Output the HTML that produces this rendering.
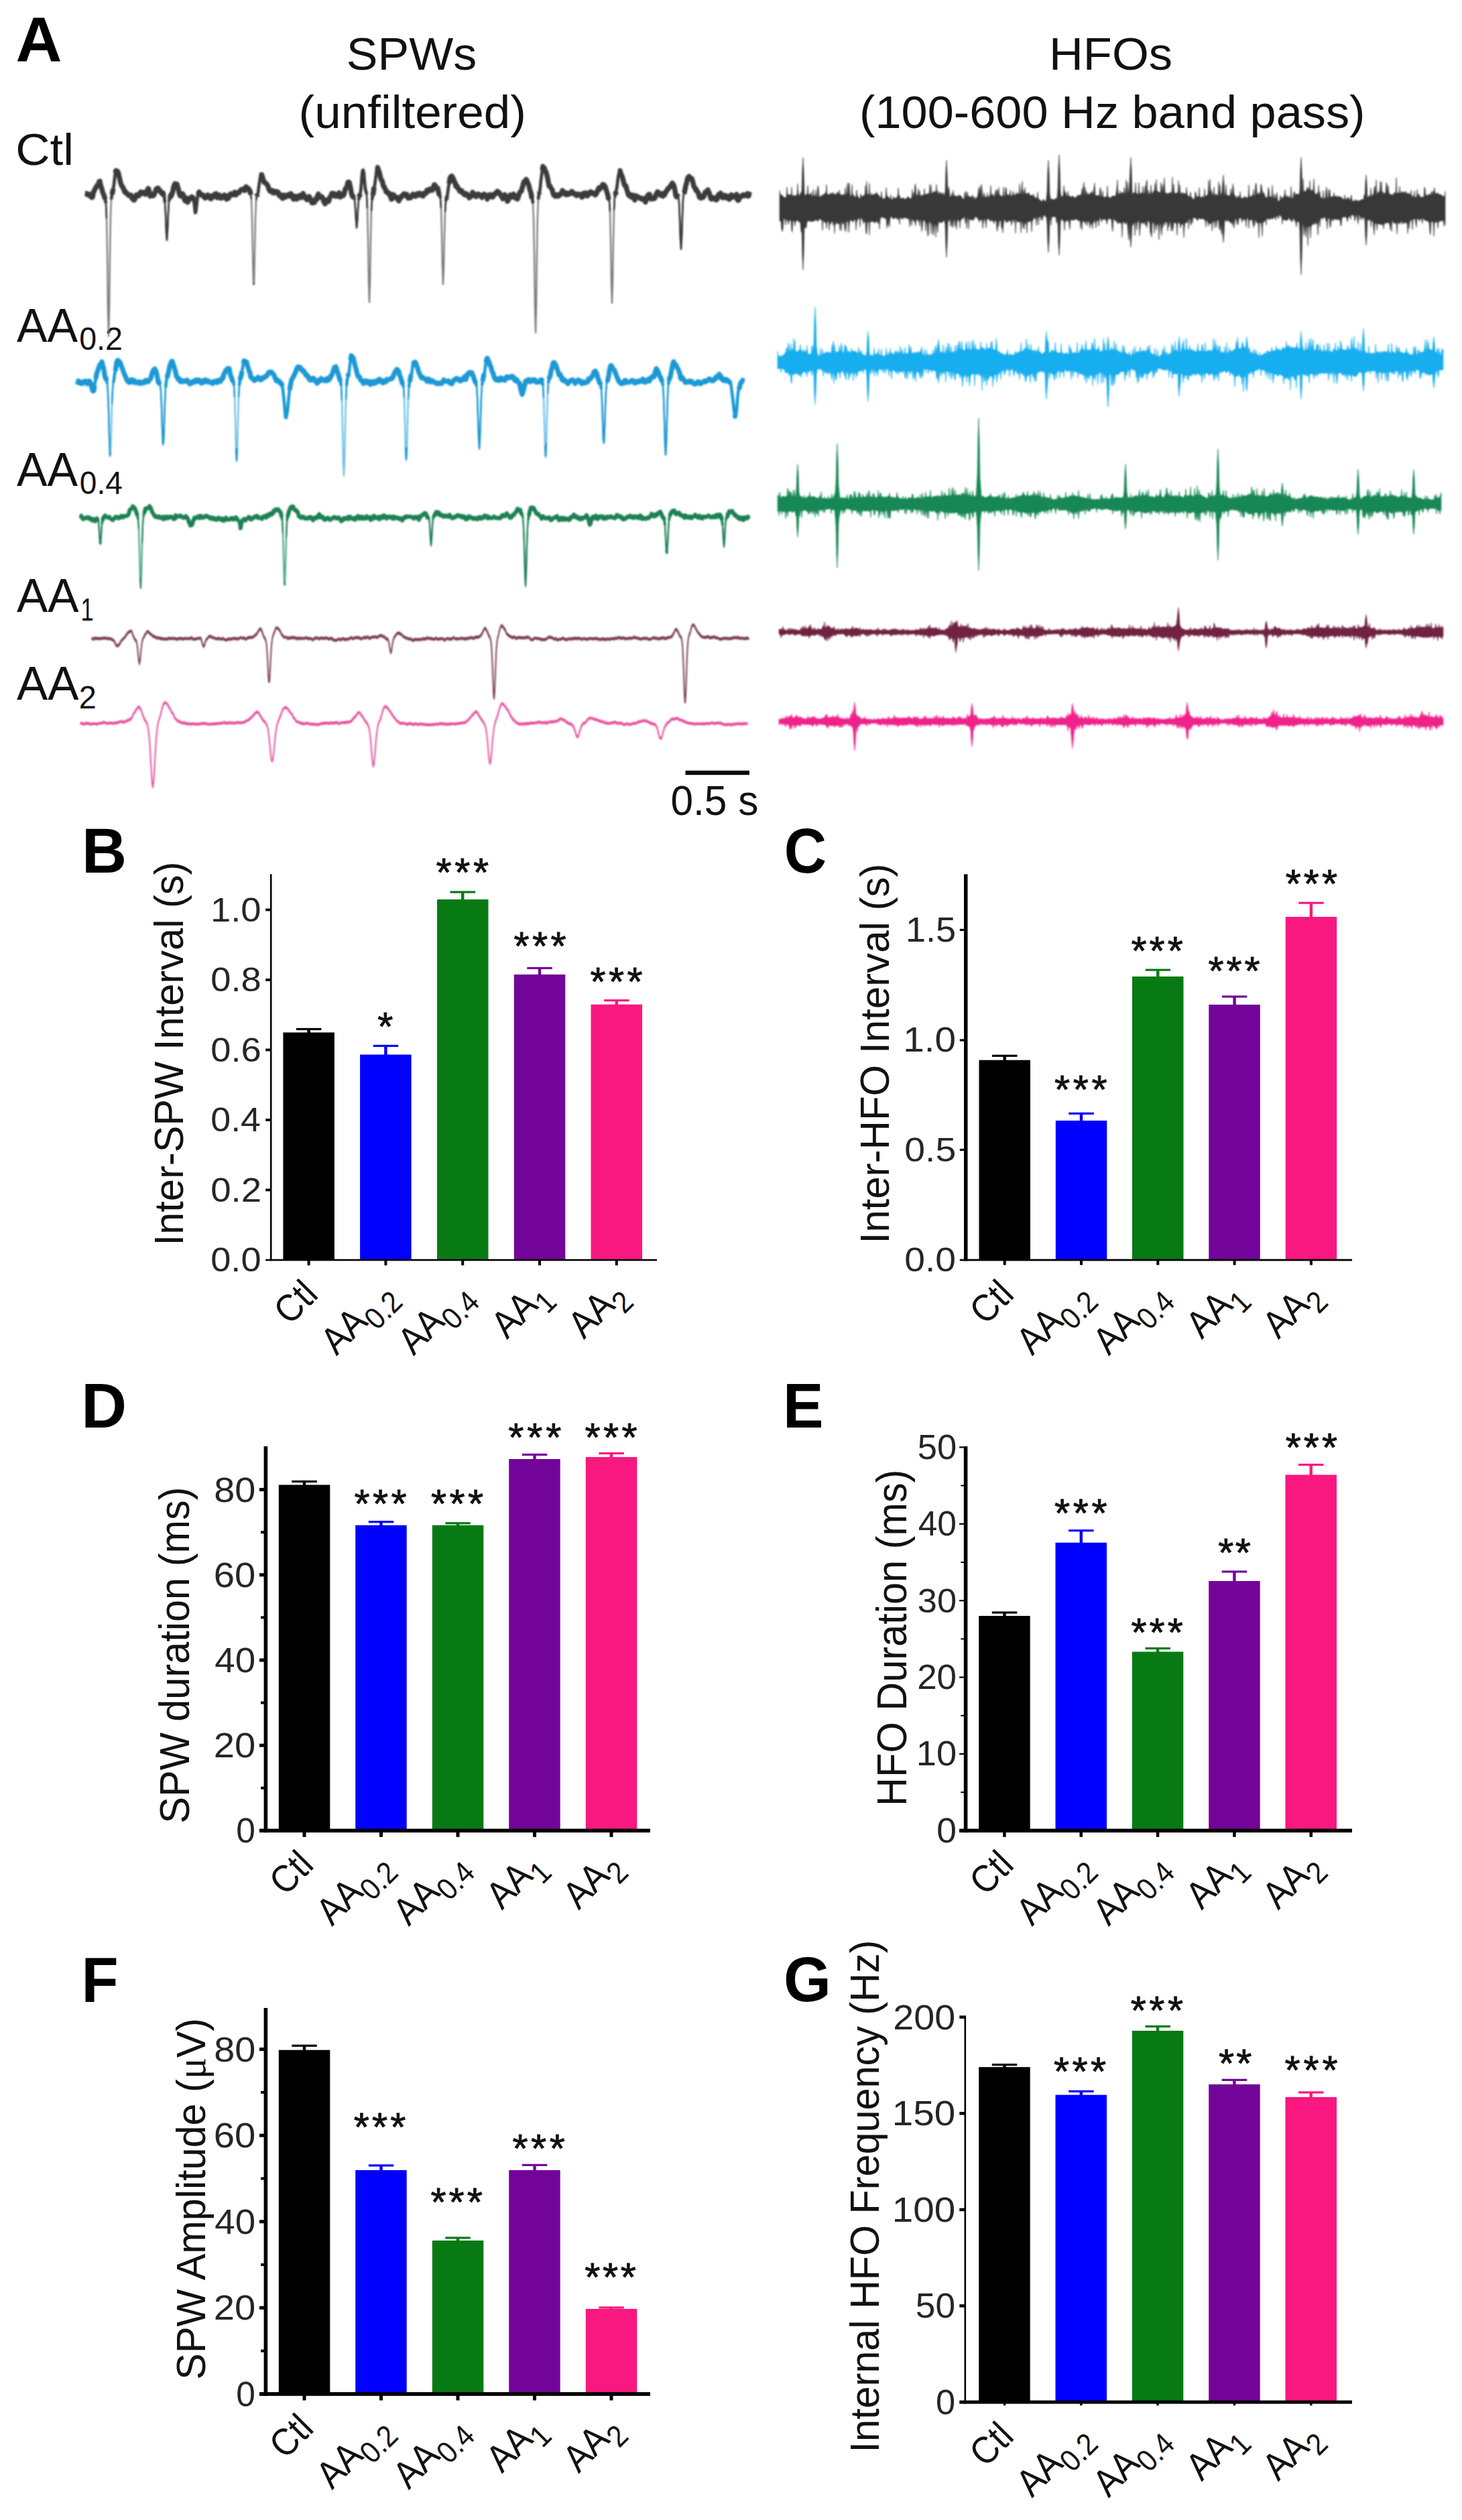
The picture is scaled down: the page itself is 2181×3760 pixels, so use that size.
<!DOCTYPE html>
<html><head><meta charset="utf-8"><title>Figure</title>
<style>html,body{margin:0;padding:0;background:#fff}svg{display:block}text{font-family:"Liberation Sans",sans-serif}</style>
</head><body>
<svg width="2181" height="3760" viewBox="0 0 2181 3760">
<defs><filter id="bl" x="0" y="0" width="2181" height="3760" filterUnits="userSpaceOnUse"><feGaussianBlur stdDeviation="0.9"/></filter></defs>
<rect width="2181" height="3760" fill="#fff"/>
<text transform="translate(23.61,92.00) scale(1.0103,1)" font-size="94.55" font-weight="bold" fill="#000">A</text>
<text transform="translate(516.85,104.31) scale(1.0205,1)" font-size="68.55" fill="#111">SPWs</text>
<text transform="translate(445.56,190.76) scale(1.0345,1)" font-size="68.63" fill="#111">(unfiltered)</text>
<text transform="translate(1564.99,104.31) scale(1.0277,1)" font-size="68.55" fill="#111">HFOs</text>
<text transform="translate(1282.10,190.76) scale(1.0248,1)" font-size="68.63" fill="#111">(100-600 Hz band pass)</text>
<text transform="translate(23.25,245.84) scale(1.0766,1)" font-size="65.99" fill="#111">Ctl</text>
<text transform="translate(25.03,509.70) scale(0.9799,1)" font-size="69.67" fill="#111">AA</text>
<text transform="translate(118.14,522.23) scale(0.9845,1)" font-size="47.35" fill="#111">0.2</text>
<text transform="translate(25.03,724.70) scale(0.9618,1)" font-size="70.98" fill="#111">AA</text>
<text transform="translate(118.86,737.23) scale(0.9725,1)" font-size="47.35" fill="#111">0.4</text>
<text transform="translate(25.03,912.90) scale(0.9757,1)" font-size="71.13" fill="#111">AA</text>
<text transform="translate(120.42,925.90) scale(0.7070,1)" font-size="48.73" fill="#111">1</text>
<text transform="translate(25.03,1043.60) scale(0.9777,1)" font-size="70.98" fill="#111">AA</text>
<text transform="translate(117.66,1056.60) scale(0.9747,1)" font-size="48.03" fill="#111">2</text>
<rect x="1022.5" y="1149.8" width="95.5" height="6.4" fill="#0a0a0a"/>
<text transform="translate(1000.48,1216.36) scale(0.9476,1)" font-size="63.75" fill="#111">0.5 s</text>
<g filter="url(#bl)">
<polyline points="127.0,288.7 128.0,289.2 129.0,289.0 130.0,289.8 131.0,289.3 132.0,288.5 133.0,289.9 134.0,291.0 135.0,291.4 136.0,293.2 137.0,294.3 138.0,293.8 139.0,290.4 140.0,285.6 141.0,282.6 142.0,279.9 143.0,278.0 144.0,277.6 145.0,276.7 146.0,275.9 147.0,273.6 148.0,270.4 149.0,270.2 150.0,274.5 151.0,278.4 152.0,281.2 153.0,286.0 154.0,289.8 155.0,291.2 156.0,293.6 157.0,296.4 158.0,302.8 159.0,325.4 160.0,380.5 161.0,459.9 162.0,501.6 163.0,460.0 164.0,378.9 165.0,321.7 166.0,297.5 167.0,289.4 168.0,287.2 169.0,284.1 170.0,275.7 171.0,265.9 172.0,258.2 173.0,254.7 174.0,255.3 175.0,255.8 176.0,256.5 177.0,259.4 178.0,263.7 179.0,269.2 180.0,273.2 181.0,275.2 182.0,277.6 183.0,280.0 184.0,281.1 185.0,282.9 186.0,285.5 187.0,286.6 188.0,287.3 189.0,288.6 190.0,289.8 191.0,291.2 192.0,291.6 193.0,291.1 194.0,291.5 195.0,292.2 196.0,293.1 197.0,295.4 198.0,297.3 199.0,298.2 200.0,298.3 201.0,296.3 202.0,293.3 203.0,291.6 204.0,291.2 205.0,291.7 206.0,292.3 207.0,293.2 208.0,291.5 209.0,288.9 210.0,288.7 211.0,288.9 212.0,287.8 213.0,287.4 214.0,287.7 215.0,287.9 216.0,287.6 217.0,289.3 218.0,289.6 219.0,286.4 220.0,283.1 221.0,281.8 222.0,283.8 223.0,289.7 224.0,292.7 225.0,292.3 226.0,292.0 227.0,290.5 228.0,289.7 229.0,290.8 230.0,289.1 231.0,286.7 232.0,285.0 233.0,282.5 234.0,281.3 235.0,282.3 236.0,282.4 237.0,283.2 238.0,284.6 239.0,284.9 240.0,286.0 241.0,288.0 242.0,289.3 243.0,290.3 244.0,290.7 245.0,292.2 246.0,300.9 247.0,320.9 248.0,346.6 249.0,358.3 250.0,343.1 251.0,316.6 252.0,299.8 253.0,295.0 254.0,292.4 255.0,290.5 256.0,290.4 257.0,289.0 258.0,285.0 259.0,280.2 260.0,275.4 261.0,273.8 262.0,275.8 263.0,275.9 264.0,275.1 265.0,278.0 266.0,282.7 267.0,286.4 268.0,289.4 269.0,291.2 270.0,291.1 271.0,289.8 272.0,289.2 273.0,289.5 274.0,292.4 275.0,296.7 276.0,297.2 277.0,295.6 278.0,296.8 279.0,299.8 280.0,301.1 281.0,298.4 282.0,294.7 283.0,294.6 284.0,295.9 285.0,295.8 286.0,294.7 287.0,294.3 288.0,295.6 289.0,299.6 290.0,307.2 291.0,315.2 292.0,316.4 293.0,309.4 294.0,299.7 295.0,292.3 296.0,288.5 297.0,287.2 298.0,287.5 299.0,289.1 300.0,291.5 301.0,291.6 302.0,291.1 303.0,292.0 304.0,292.8 305.0,294.1 306.0,294.9 307.0,294.2 308.0,294.4 309.0,293.7 310.0,291.8 311.0,291.2 312.0,292.8 313.0,294.7 314.0,296.0 315.0,296.4 316.0,295.5 317.0,294.0 318.0,292.9 319.0,292.1 320.0,290.8 321.0,290.2 322.0,291.1 323.0,292.5 324.0,293.3 325.0,292.3 326.0,290.9 327.0,292.0 328.0,294.4 329.0,294.6 330.0,293.4 331.0,293.3 332.0,293.5 333.0,292.3 334.0,291.5 335.0,292.0 336.0,293.4 337.0,295.2 338.0,296.1 339.0,294.9 340.0,292.9 341.0,291.4 342.0,290.5 343.0,290.0 344.0,290.2 345.0,289.9 346.0,290.7 347.0,291.7 348.0,289.9 349.0,288.0 350.0,288.5 351.0,289.6 352.0,291.1 353.0,290.4 354.0,287.7 355.0,286.8 356.0,287.9 357.0,287.2 358.0,285.0 359.0,284.5 360.0,284.2 361.0,282.7 362.0,282.5 363.0,282.6 364.0,282.8 365.0,282.7 366.0,280.9 367.0,278.7 368.0,279.1 369.0,281.1 370.0,281.5 371.0,281.6 372.0,284.4 373.0,286.7 374.0,288.6 375.0,297.7 376.0,325.6 377.0,375.6 378.0,423.2 379.0,424.2 380.0,376.7 381.0,326.2 382.0,300.3 383.0,292.6 384.0,290.7 385.0,286.5 386.0,279.6 387.0,273.1 388.0,266.3 389.0,261.0 390.0,259.6 391.0,262.5 392.0,266.4 393.0,269.3 394.0,272.1 395.0,273.7 396.0,273.9 397.0,274.8 398.0,276.7 399.0,277.1 400.0,278.3 401.0,281.8 402.0,284.4 403.0,286.1 404.0,286.4 405.0,284.6 406.0,284.6 407.0,286.4 408.0,286.2 409.0,286.5 410.0,287.6 411.0,287.4 412.0,286.4 413.0,285.8 414.0,285.5 415.0,287.5 416.0,289.7 417.0,290.7 418.0,292.2 419.0,291.7 420.0,291.3 421.0,294.5 422.0,295.1 423.0,291.8 424.0,290.5 425.0,292.5 426.0,294.1 427.0,293.1 428.0,291.8 429.0,290.9 430.0,291.2 431.0,292.0 432.0,291.1 433.0,290.7 434.0,290.8 435.0,290.2 436.0,291.9 437.0,294.8 438.0,296.2 439.0,295.7 440.0,294.1 441.0,293.9 442.0,296.0 443.0,296.3 444.0,294.1 445.0,292.1 446.0,291.8 447.0,292.7 448.0,293.5 449.0,294.0 450.0,293.8 451.0,292.1 452.0,289.3 453.0,289.0 454.0,291.4 455.0,293.7 456.0,295.5 457.0,296.1 458.0,296.1 459.0,296.0 460.0,294.7 461.0,294.8 462.0,296.2 463.0,298.5 464.0,300.7 465.0,301.4 466.0,301.3 467.0,302.4 468.0,302.3 469.0,300.1 470.0,298.3 471.0,299.3 472.0,298.0 473.0,292.9 474.0,289.7 475.0,290.3 476.0,292.1 477.0,293.4 478.0,293.9 479.0,293.7 480.0,293.8 481.0,294.7 482.0,296.4 483.0,300.1 484.0,302.8 485.0,302.5 486.0,300.9 487.0,299.3 488.0,298.7 489.0,299.4 490.0,299.8 491.0,298.0 492.0,294.8 493.0,292.5 494.0,291.7 495.0,291.0 496.0,289.6 497.0,289.5 498.0,290.3 499.0,290.6 500.0,292.4 501.0,294.1 502.0,293.0 503.0,293.0 504.0,293.4 505.0,291.3 506.0,289.2 507.0,292.2 508.0,294.1 509.0,292.1 510.0,291.6 511.0,293.0 512.0,292.3 513.0,289.2 514.0,285.7 515.0,282.6 516.0,280.0 517.0,277.9 518.0,275.9 519.0,273.1 520.0,270.5 521.0,272.2 522.0,277.2 523.0,281.4 524.0,286.1 525.0,290.6 526.0,292.3 527.0,292.7 528.0,293.9 529.0,297.5 530.0,309.6 531.0,327.8 532.0,338.6 533.0,331.0 534.0,311.6 535.0,298.0 536.0,293.7 537.0,290.6 538.0,284.4 539.0,274.6 540.0,261.7 541.0,253.5 542.0,253.6 543.0,261.3 544.0,272.3 545.0,280.9 546.0,285.7 547.0,292.2 548.0,310.9 549.0,356.0 550.0,418.9 551.0,450.9 552.0,419.3 553.0,357.4 554.0,313.4 555.0,296.9 556.0,291.5 557.0,286.1 558.0,280.2 559.0,274.3 560.0,268.0 561.0,260.0 562.0,250.6 563.0,247.4 564.0,250.9 565.0,255.3 566.0,258.4 567.0,262.3 568.0,265.8 569.0,267.7 570.0,269.9 571.0,273.7 572.0,277.4 573.0,279.4 574.0,281.0 575.0,283.4 576.0,284.5 577.0,284.4 578.0,286.1 579.0,287.9 580.0,289.3 581.0,290.3 582.0,291.0 583.0,293.2 584.0,297.1 585.0,298.2 586.0,294.7 587.0,291.9 588.0,293.1 589.0,294.6 590.0,294.4 591.0,294.0 592.0,295.2 593.0,296.9 594.0,297.9 595.0,297.8 596.0,296.9 597.0,295.5 598.0,293.3 599.0,291.7 600.0,291.6 601.0,290.7 602.0,289.1 603.0,289.0 604.0,290.9 605.0,291.9 606.0,290.1 607.0,290.3 608.0,294.1 609.0,295.7 610.0,293.8 611.0,294.0 612.0,295.1 613.0,295.3 614.0,294.3 615.0,291.9 616.0,290.3 617.0,291.2 618.0,292.3 619.0,292.7 620.0,292.8 621.0,291.8 622.0,290.7 623.0,289.9 624.0,288.9 625.0,289.0 626.0,289.8 627.0,289.9 628.0,289.6 629.0,291.1 630.0,293.2 631.0,292.5 632.0,289.6 633.0,289.0 634.0,289.8 635.0,288.5 636.0,285.6 637.0,283.4 638.0,284.3 639.0,286.3 640.0,285.4 641.0,282.9 642.0,282.6 643.0,283.1 644.0,282.7 645.0,282.4 646.0,280.7 647.0,277.5 648.0,276.1 649.0,276.4 650.0,277.9 651.0,280.4 652.0,281.1 653.0,282.0 654.0,286.4 655.0,289.9 656.0,291.1 657.0,295.5 658.0,311.5 659.0,348.4 660.0,399.1 661.0,424.2 662.0,399.4 663.0,351.4 664.0,315.8 665.0,300.6 666.0,296.2 667.0,292.7 668.0,285.7 669.0,278.6 670.0,273.1 671.0,267.9 672.0,264.2 673.0,263.7 674.0,264.1 675.0,265.0 676.0,266.4 677.0,268.6 678.0,270.2 679.0,272.4 680.0,276.4 681.0,278.5 682.0,279.4 683.0,280.9 684.0,282.7 685.0,283.7 686.0,285.2 687.0,286.0 688.0,285.1 689.0,286.1 690.0,288.2 691.0,289.7 692.0,289.8 693.0,289.0 694.0,288.6 695.0,289.5 696.0,289.5 697.0,289.9 698.0,291.6 699.0,292.4 700.0,293.1 701.0,294.1 702.0,293.3 703.0,292.0 704.0,290.6 705.0,288.1 706.0,288.4 707.0,290.4 708.0,290.7 709.0,291.9 710.0,292.7 711.0,292.1 712.0,291.4 713.0,290.5 714.0,290.2 715.0,291.0 716.0,291.1 717.0,291.8 718.0,293.5 719.0,294.0 720.0,292.1 721.0,289.6 722.0,289.9 723.0,291.7 724.0,292.2 725.0,292.5 726.0,294.6 727.0,295.1 728.0,293.6 729.0,292.7 730.0,290.9 731.0,289.3 732.0,289.7 733.0,292.2 734.0,293.7 735.0,294.1 736.0,292.6 737.0,289.7 738.0,287.8 739.0,288.4 740.0,288.9 741.0,287.9 742.0,286.5 743.0,286.7 744.0,288.2 745.0,289.1 746.0,289.7 747.0,290.4 748.0,291.0 749.0,292.8 750.0,293.9 751.0,291.8 752.0,290.8 753.0,291.9 754.0,293.4 755.0,294.8 756.0,296.0 757.0,298.2 758.0,299.6 759.0,297.5 760.0,293.8 761.0,291.5 762.0,291.1 763.0,292.1 764.0,292.4 765.0,290.8 766.0,289.7 767.0,290.9 768.0,292.6 769.0,294.2 770.0,295.6 771.0,296.2 772.0,295.3 773.0,293.4 774.0,291.1 775.0,288.2 776.0,285.8 777.0,285.8 778.0,284.2 779.0,280.1 780.0,276.4 781.0,273.1 782.0,271.2 783.0,270.2 784.0,268.0 785.0,267.7 786.0,269.0 787.0,270.9 788.0,273.2 789.0,276.5 790.0,280.3 791.0,284.7 792.0,288.3 793.0,292.4 794.0,296.5 795.0,302.9 796.0,325.9 797.0,381.3 798.0,456.8 799.0,496.3 800.0,456.9 801.0,378.6 802.0,321.8 803.0,297.5 804.0,290.9 805.0,287.2 806.0,279.6 807.0,269.6 808.0,260.8 809.0,255.0 810.0,250.9 811.0,249.6 812.0,250.7 813.0,253.4 814.0,255.4 815.0,258.1 816.0,262.3 817.0,266.8 818.0,271.9 819.0,275.5 820.0,276.9 821.0,278.9 822.0,281.7 823.0,282.9 824.0,284.2 825.0,286.9 826.0,290.1 827.0,292.5 828.0,293.3 829.0,292.6 830.0,291.1 831.0,291.4 832.0,292.4 833.0,292.2 834.0,290.9 835.0,289.1 836.0,288.7 837.0,289.2 838.0,286.7 839.0,284.7 840.0,286.5 841.0,287.7 842.0,287.6 843.0,289.5 844.0,290.6 845.0,290.2 846.0,289.1 847.0,288.8 848.0,289.3 849.0,290.2 850.0,289.4 851.0,287.3 852.0,286.2 853.0,286.2 854.0,286.4 855.0,287.4 856.0,288.6 857.0,288.7 858.0,289.1 859.0,290.5 860.0,290.9 861.0,290.5 862.0,290.7 863.0,290.8 864.0,290.4 865.0,290.6 866.0,291.0 867.0,292.3 868.0,293.8 869.0,292.8 870.0,291.0 871.0,290.7 872.0,290.9 873.0,290.0 874.0,289.1 875.0,290.2 876.0,291.8 877.0,291.1 878.0,289.2 879.0,288.7 880.0,288.0 881.0,285.9 882.0,285.9 883.0,288.2 884.0,288.2 885.0,287.8 886.0,288.6 887.0,289.3 888.0,289.4 889.0,289.8 890.0,288.3 891.0,285.3 892.0,283.4 893.0,283.2 894.0,282.0 895.0,281.4 896.0,280.5 897.0,279.2 898.0,278.5 899.0,276.0 900.0,274.3 901.0,275.2 902.0,276.4 903.0,279.2 904.0,283.0 905.0,286.1 906.0,289.4 907.0,293.5 908.0,296.0 909.0,299.5 910.0,316.3 911.0,360.8 912.0,421.5 913.0,452.2 914.0,420.3 915.0,357.9 916.0,312.7 917.0,294.6 918.0,288.8 919.0,284.9 920.0,279.5 921.0,273.1 922.0,266.4 923.0,259.6 924.0,255.0 925.0,255.4 926.0,258.4 927.0,260.9 928.0,262.5 929.0,265.4 930.0,270.3 931.0,274.6 932.0,276.7 933.0,276.8 934.0,278.1 935.0,281.4 936.0,285.9 937.0,289.0 938.0,290.8 939.0,291.7 940.0,291.2 941.0,291.1 942.0,293.0 943.0,293.8 944.0,292.0 945.0,292.3 946.0,296.4 947.0,298.2 948.0,295.3 949.0,293.3 950.0,293.7 951.0,293.9 952.0,293.7 953.0,294.2 954.0,295.0 955.0,295.8 956.0,296.9 957.0,297.1 958.0,296.6 959.0,298.0 960.0,297.8 961.0,297.1 962.0,299.6 963.0,300.9 964.0,297.7 965.0,294.7 966.0,293.8 967.0,292.6 968.0,290.4 969.0,289.9 970.0,293.0 971.0,297.1 972.0,298.0 973.0,296.2 974.0,295.5 975.0,295.9 976.0,295.8 977.0,295.0 978.0,292.8 979.0,290.2 980.0,288.9 981.0,288.0 982.0,287.1 983.0,287.3 984.0,289.2 985.0,291.2 986.0,290.6 987.0,289.2 988.0,290.5 989.0,291.7 990.0,291.3 991.0,290.7 992.0,289.6 993.0,287.5 994.0,286.0 995.0,285.4 996.0,283.7 997.0,281.8 998.0,281.1 999.0,280.6 1000.0,278.7 1001.0,276.5 1002.0,275.5 1003.0,274.9 1004.0,274.4 1005.0,275.9 1006.0,279.6 1007.0,285.0 1008.0,291.0 1009.0,294.6 1010.0,295.0 1011.0,293.9 1012.0,294.0 1013.0,302.7 1014.0,326.5 1015.0,357.1 1016.0,371.0 1017.0,354.5 1018.0,321.6 1019.0,296.8 1020.0,288.2 1021.0,286.3 1022.0,282.4 1023.0,277.8 1024.0,274.4 1025.0,270.3 1026.0,265.4 1027.0,262.8 1028.0,263.4 1029.0,265.4 1030.0,266.6 1031.0,266.7 1032.0,268.4 1033.0,270.8 1034.0,273.0 1035.0,276.2 1036.0,279.3 1037.0,280.8 1038.0,282.3 1039.0,284.4 1040.0,285.2 1041.0,286.9 1042.0,290.7 1043.0,293.0 1044.0,292.9 1045.0,292.7 1046.0,293.7 1047.0,294.0 1048.0,293.6 1049.0,294.0 1050.0,292.4 1051.0,289.4 1052.0,288.2 1053.0,287.9 1054.0,286.7 1055.0,284.5 1056.0,283.5 1057.0,285.5 1058.0,288.5 1059.0,291.1 1060.0,294.0 1061.0,296.6 1062.0,297.0 1063.0,296.1 1064.0,295.5 1065.0,295.5 1066.0,295.4 1067.0,295.9 1068.0,297.2 1069.0,298.3 1070.0,296.6 1071.0,293.1 1072.0,291.3 1073.0,291.5 1074.0,290.7 1075.0,289.6 1076.0,289.9 1077.0,292.3 1078.0,295.5 1079.0,296.1 1080.0,293.9 1081.0,292.0 1082.0,291.6 1083.0,293.2 1084.0,293.0 1085.0,291.4 1086.0,293.5 1087.0,297.8 1088.0,297.8 1089.0,294.7 1090.0,291.7 1091.0,290.6 1092.0,291.9 1093.0,293.7 1094.0,292.5 1095.0,292.0 1096.0,292.8 1097.0,292.8 1098.0,290.8 1099.0,291.6 1100.0,296.5 1101.0,300.0 1102.0,298.3 1103.0,295.8 1104.0,295.4 1105.0,294.0 1106.0,292.1 1107.0,290.8 1108.0,289.8 1109.0,290.6 1110.0,291.9 1111.0,291.6 1112.0,290.6 1113.0,290.9 1114.0,290.5 1115.0,290.6 1116.0,291.3 1117.0,291.3 1118.0,290.5 1119.0,291.2" fill="none" stroke="#7d7d7d" stroke-width="2.40" stroke-linejoin="round"/>
<polyline points="127.0,288.8 128.0,289.0 129.0,288.6 130.0,290.2 131.0,289.6 132.0,290.9 133.0,289.9 134.0,289.8 135.0,292.8 136.0,291.1 137.0,294.7 138.0,294.2 139.0,289.0 140.0,285.2 141.0,284.0 142.0,281.4 143.0,279.4 144.0,279.0 145.0,276.4 146.0,276.3 147.0,274.3 148.0,270.6 149.0,270.4 150.0,276.5 151.0,278.7 152.0,282.6 153.0,286.1 154.0,289.0 155.0,291.1 156.0,294.3 157.0,297.3" fill="none" stroke="#3a3a3a" stroke-width="7.5" stroke-linejoin="round"/>
<polyline points="167.0,290.0 168.0,286.1 169.0,281.9" fill="none" stroke="#3a3a3a" stroke-width="7.5" stroke-linejoin="round"/>
<polyline points="172.0,257.8 173.0,254.5 174.0,256.5 175.0,255.5 176.0,256.5 177.0,260.0 178.0,264.7 179.0,268.7 180.0,273.2 181.0,275.8 182.0,278.0 183.0,278.7 184.0,281.4 185.0,282.5 186.0,286.5 187.0,287.2 188.0,286.8 189.0,288.7 190.0,289.2 191.0,291.0 192.0,291.2 193.0,291.8 194.0,292.3 195.0,290.9 196.0,293.5 197.0,296.0 198.0,297.3 199.0,296.6 200.0,298.7 201.0,297.4 202.0,294.6 203.0,291.0 204.0,290.7 205.0,290.5 206.0,291.9 207.0,292.3 208.0,290.4 209.0,287.8 210.0,286.4 211.0,288.8 212.0,287.6 213.0,287.1 214.0,288.6 215.0,287.3 216.0,288.2 217.0,289.9 218.0,289.3 219.0,286.5 220.0,283.0 221.0,281.2 222.0,282.7 223.0,288.9 224.0,292.6 225.0,291.5 226.0,292.1 227.0,289.9 228.0,290.6 229.0,291.8 230.0,290.4 231.0,287.2 232.0,285.7 233.0,281.9 234.0,281.3 235.0,282.9 236.0,280.6 237.0,284.2 238.0,283.8 239.0,284.4 240.0,287.2 241.0,288.2 242.0,289.3 243.0,287.6 244.0,290.9 245.0,292.4" fill="none" stroke="#3a3a3a" stroke-width="7.5" stroke-linejoin="round"/>
<polyline points="253.0,296.0 254.0,294.1 255.0,290.6 256.0,291.5 257.0,288.3 258.0,284.5 259.0,279.3 260.0,276.3 261.0,274.1 262.0,277.2 263.0,277.0 264.0,274.7 265.0,278.2 266.0,281.6 267.0,286.8 268.0,290.5 269.0,292.4 270.0,292.6 271.0,290.7 272.0,289.0 273.0,289.9 274.0,292.2 275.0,297.1 276.0,299.5 277.0,296.7 278.0,295.8 279.0,300.4 280.0,301.7 281.0,298.7 282.0,295.7 283.0,295.7 284.0,296.7 285.0,295.9 286.0,293.7 287.0,296.2 288.0,295.0 289.0,299.5" fill="none" stroke="#3a3a3a" stroke-width="7.5" stroke-linejoin="round"/>
<polyline points="291.0,316.3 292.0,317.1" fill="none" stroke="#3a3a3a" stroke-width="7.5" stroke-linejoin="round"/>
<polyline points="295.0,290.9 296.0,289.4 297.0,286.4 298.0,287.5 299.0,290.5 300.0,291.2 301.0,290.6 302.0,291.3 303.0,291.0 304.0,293.5 305.0,293.1 306.0,295.6 307.0,294.2 308.0,294.5 309.0,292.6 310.0,290.9 311.0,292.0 312.0,291.9 313.0,293.0 314.0,296.6 315.0,296.6 316.0,295.1 317.0,292.0 318.0,293.6 319.0,293.1 320.0,290.0 321.0,289.4 322.0,288.9 323.0,291.5 324.0,295.0 325.0,293.2 326.0,290.9 327.0,290.7 328.0,292.6 329.0,295.7 330.0,293.7 331.0,294.3 332.0,295.0 333.0,292.4 334.0,293.3 335.0,291.0 336.0,294.2 337.0,295.0 338.0,297.1 339.0,296.8 340.0,292.6 341.0,295.7 342.0,292.2 343.0,290.4 344.0,289.2 345.0,291.1 346.0,291.1 347.0,290.5 348.0,290.4 349.0,289.2 350.0,286.9 351.0,289.4 352.0,290.9 353.0,289.7 354.0,287.5 355.0,286.9 356.0,287.3 357.0,287.3 358.0,285.0 359.0,283.5 360.0,283.3 361.0,282.4 362.0,282.3 363.0,283.3 364.0,283.1 365.0,284.3 366.0,280.0 367.0,278.6 368.0,279.7 369.0,282.3 370.0,280.9 371.0,281.6 372.0,284.7 373.0,284.9 374.0,290.6" fill="none" stroke="#3a3a3a" stroke-width="7.5" stroke-linejoin="round"/>
<polyline points="383.0,293.0 384.0,289.9" fill="none" stroke="#3a3a3a" stroke-width="7.5" stroke-linejoin="round"/>
<polyline points="389.0,259.4 390.0,260.2 391.0,262.2 392.0,265.9 393.0,268.9 394.0,272.2 395.0,272.3 396.0,273.2 397.0,273.7 398.0,275.1 399.0,276.2 400.0,278.2 401.0,282.0 402.0,283.9 403.0,285.4 404.0,285.6 405.0,284.3 406.0,284.0 407.0,287.7 408.0,285.1 409.0,285.9 410.0,287.9 411.0,285.9 412.0,286.2 413.0,285.8 414.0,286.5 415.0,286.7 416.0,290.7 417.0,292.1 418.0,292.6 419.0,290.9 420.0,290.9 421.0,295.6 422.0,295.9 423.0,291.7 424.0,291.2 425.0,292.4 426.0,294.1 427.0,293.4 428.0,292.3 429.0,291.3 430.0,290.4 431.0,292.4 432.0,290.2 433.0,291.8 434.0,288.9 435.0,290.6 436.0,292.3 437.0,296.3 438.0,297.1 439.0,295.4 440.0,292.8 441.0,293.0 442.0,295.6 443.0,297.0 444.0,293.9 445.0,292.6 446.0,292.5 447.0,291.7 448.0,293.8 449.0,294.8 450.0,292.9 451.0,291.2 452.0,288.5 453.0,290.3 454.0,292.2 455.0,294.5 456.0,296.2 457.0,295.5 458.0,298.0 459.0,295.6 460.0,294.5 461.0,293.2 462.0,294.4 463.0,298.1 464.0,297.8 465.0,302.3 466.0,302.8 467.0,302.5 468.0,300.7 469.0,302.2 470.0,297.9 471.0,298.6 472.0,298.3 473.0,293.2 474.0,292.6 475.0,289.4 476.0,293.0 477.0,294.6 478.0,294.0 479.0,294.5 480.0,293.5 481.0,295.2 482.0,296.1 483.0,300.9 484.0,302.6 485.0,304.1 486.0,300.9 487.0,299.9 488.0,298.4 489.0,299.9 490.0,300.6 491.0,298.4 492.0,294.4 493.0,293.3 494.0,292.0 495.0,288.4 496.0,288.3 497.0,288.8 498.0,290.5 499.0,288.9 500.0,292.8 501.0,292.4 502.0,292.6 503.0,292.0 504.0,292.8 505.0,291.3 506.0,287.7 507.0,291.7 508.0,293.8 509.0,290.9 510.0,292.0 511.0,291.8 512.0,291.9 513.0,290.3 514.0,286.3 515.0,282.1 516.0,280.8 517.0,279.2 518.0,277.0 519.0,271.9 520.0,271.5 521.0,272.3 522.0,276.2 523.0,280.9 524.0,286.8 525.0,290.8 526.0,293.4 527.0,293.2 528.0,294.4" fill="none" stroke="#3a3a3a" stroke-width="7.5" stroke-linejoin="round"/>
<polyline points="536.0,294.1 537.0,289.3" fill="none" stroke="#3a3a3a" stroke-width="7.5" stroke-linejoin="round"/>
<polyline points="541.0,254.1 542.0,254.2" fill="none" stroke="#3a3a3a" stroke-width="7.5" stroke-linejoin="round"/>
<polyline points="556.0,291.6 557.0,287.3 558.0,279.1" fill="none" stroke="#3a3a3a" stroke-width="7.5" stroke-linejoin="round"/>
<polyline points="563.0,248.1 564.0,252.7 565.0,254.5 566.0,258.0 567.0,261.9 568.0,266.7 569.0,268.7 570.0,269.4 571.0,273.4 572.0,278.0 573.0,278.4 574.0,280.8 575.0,282.8 576.0,286.3 577.0,285.3 578.0,286.6 579.0,287.5 580.0,289.8 581.0,289.8 582.0,289.3 583.0,294.9 584.0,297.3 585.0,296.5 586.0,295.8 587.0,290.4 588.0,294.7 589.0,294.2 590.0,294.1 591.0,293.8 592.0,295.4 593.0,296.7 594.0,298.6 595.0,299.7 596.0,296.1 597.0,296.3 598.0,293.3 599.0,294.0 600.0,291.8 601.0,290.8 602.0,289.6 603.0,289.1 604.0,290.0 605.0,291.8 606.0,290.1 607.0,290.1 608.0,294.1 609.0,295.6 610.0,294.6 611.0,294.4 612.0,295.3 613.0,294.8 614.0,293.0 615.0,290.8 616.0,289.8 617.0,291.1 618.0,291.8 619.0,292.0 620.0,292.9 621.0,291.8 622.0,289.1 623.0,290.6 624.0,290.0 625.0,291.0 626.0,288.2 627.0,289.6 628.0,290.5 629.0,291.8 630.0,291.8 631.0,292.5 632.0,288.6 633.0,289.6 634.0,289.2 635.0,288.7 636.0,286.8 637.0,283.8 638.0,283.6 639.0,285.4 640.0,285.1 641.0,282.2 642.0,283.1 643.0,283.0 644.0,282.1 645.0,283.7 646.0,280.7 647.0,277.8 648.0,275.6 649.0,276.1 650.0,278.2 651.0,279.9 652.0,281.8 653.0,280.6 654.0,286.1 655.0,289.8 656.0,290.4" fill="none" stroke="#3a3a3a" stroke-width="7.5" stroke-linejoin="round"/>
<polyline points="666.0,295.8 667.0,294.1" fill="none" stroke="#3a3a3a" stroke-width="7.5" stroke-linejoin="round"/>
<polyline points="670.0,274.0 671.0,267.2 672.0,264.0 673.0,264.8 674.0,262.7 675.0,264.6 676.0,265.8 677.0,268.6 678.0,271.8 679.0,272.4 680.0,278.0 681.0,278.7 682.0,277.7 683.0,281.0 684.0,281.6 685.0,283.2 686.0,285.4 687.0,285.8 688.0,284.3 689.0,284.7 690.0,287.7 691.0,288.8 692.0,289.0 693.0,290.6 694.0,288.6 695.0,291.0 696.0,289.3 697.0,289.9 698.0,291.5 699.0,292.6 700.0,295.2 701.0,294.1 702.0,293.7 703.0,291.9 704.0,291.9 705.0,286.9 706.0,290.0 707.0,289.1 708.0,291.7 709.0,292.5 710.0,293.3 711.0,291.4 712.0,291.9 713.0,289.5 714.0,289.7 715.0,291.2 716.0,292.2 717.0,291.6 718.0,293.0 719.0,294.7 720.0,291.1 721.0,290.5 722.0,289.8 723.0,291.3 724.0,290.6 725.0,293.0 726.0,292.9 727.0,297.1 728.0,294.2 729.0,293.6 730.0,290.7 731.0,290.3 732.0,290.6 733.0,293.2 734.0,293.9 735.0,294.1 736.0,292.4 737.0,289.7 738.0,289.6 739.0,289.7 740.0,287.2 741.0,287.3 742.0,285.5 743.0,286.4 744.0,286.5 745.0,288.6 746.0,289.0 747.0,291.7 748.0,292.8 749.0,294.2 750.0,296.7 751.0,292.9 752.0,291.1 753.0,290.5 754.0,292.7 755.0,294.9 756.0,295.7 757.0,300.4 758.0,299.2 759.0,296.8 760.0,294.0 761.0,290.8 762.0,292.8 763.0,292.3 764.0,294.0 765.0,291.4 766.0,289.7 767.0,290.5 768.0,292.7 769.0,295.4 770.0,296.1 771.0,296.2 772.0,296.9 773.0,294.2 774.0,291.3 775.0,288.1 776.0,286.5 777.0,285.1 778.0,284.9 779.0,280.0 780.0,277.6 781.0,272.9 782.0,270.7 783.0,270.5 784.0,269.9 785.0,267.7 786.0,269.1 787.0,272.5 788.0,274.0 789.0,276.7 790.0,281.6 791.0,284.7 792.0,287.5 793.0,293.8 794.0,295.9" fill="none" stroke="#3a3a3a" stroke-width="7.5" stroke-linejoin="round"/>
<polyline points="804.0,288.8 805.0,287.0" fill="none" stroke="#3a3a3a" stroke-width="7.5" stroke-linejoin="round"/>
<polyline points="809.0,254.1 810.0,248.4 811.0,250.9 812.0,250.7 813.0,254.0 814.0,255.4 815.0,258.1 816.0,261.9 817.0,266.3 818.0,271.9 819.0,277.4 820.0,276.8 821.0,279.0 822.0,280.6 823.0,282.0 824.0,283.7 825.0,288.3 826.0,290.8 827.0,291.9 828.0,292.8 829.0,292.9 830.0,290.7 831.0,292.5 832.0,292.1 833.0,292.6 834.0,290.5 835.0,291.1 836.0,290.7 837.0,288.2 838.0,288.2 839.0,284.2 840.0,287.8 841.0,287.1 842.0,287.2 843.0,287.3 844.0,290.6 845.0,290.6 846.0,288.1 847.0,288.2 848.0,290.0 849.0,289.0 850.0,288.8 851.0,287.7 852.0,288.3 853.0,285.6 854.0,286.2 855.0,288.1 856.0,289.2 857.0,289.8 858.0,289.3 859.0,289.3 860.0,291.9 861.0,291.4 862.0,289.6 863.0,290.1 864.0,290.1 865.0,289.8 866.0,290.2 867.0,292.0 868.0,294.1 869.0,293.6 870.0,289.7 871.0,288.2 872.0,291.4 873.0,290.4 874.0,287.9 875.0,290.6 876.0,292.4 877.0,291.2 878.0,289.2 879.0,289.5 880.0,286.5 881.0,286.0 882.0,286.6 883.0,288.6 884.0,288.2 885.0,288.8 886.0,288.1 887.0,288.7 888.0,290.8 889.0,289.8 890.0,288.5 891.0,285.0 892.0,283.6 893.0,280.6 894.0,283.0 895.0,279.9 896.0,280.5 897.0,279.9 898.0,278.7 899.0,275.3 900.0,275.5 901.0,275.8 902.0,277.4 903.0,278.6 904.0,282.9 905.0,285.4 906.0,288.8 907.0,292.3 908.0,297.9" fill="none" stroke="#3a3a3a" stroke-width="7.5" stroke-linejoin="round"/>
<polyline points="918.0,290.6 919.0,285.7" fill="none" stroke="#3a3a3a" stroke-width="7.5" stroke-linejoin="round"/>
<polyline points="924.0,256.0 925.0,254.6 926.0,258.5 927.0,260.7 928.0,263.1 929.0,265.9 930.0,270.2 931.0,274.5 932.0,276.9 933.0,276.5 934.0,278.2 935.0,282.9 936.0,285.5 937.0,289.6 938.0,291.4 939.0,292.3 940.0,290.5 941.0,290.6 942.0,294.3 943.0,293.6 944.0,291.0 945.0,294.4 946.0,294.8 947.0,298.5 948.0,294.1 949.0,292.1 950.0,294.6 951.0,294.0 952.0,293.5 953.0,294.8 954.0,295.5 955.0,295.5 956.0,296.8 957.0,295.8 958.0,296.7 959.0,296.9 960.0,297.7 961.0,296.4 962.0,300.1 963.0,301.5 964.0,298.2 965.0,293.5 966.0,292.6 967.0,290.9 968.0,289.9 969.0,289.9 970.0,293.5 971.0,297.0 972.0,296.6 973.0,295.4 974.0,296.7 975.0,296.4 976.0,296.3 977.0,295.6 978.0,292.0 979.0,289.4 980.0,288.2 981.0,286.2 982.0,287.0 983.0,287.7 984.0,288.6 985.0,291.3 986.0,289.9 987.0,288.9 988.0,290.4 989.0,292.7 990.0,290.8 991.0,291.0 992.0,289.8 993.0,286.0 994.0,285.8 995.0,284.5 996.0,281.6 997.0,281.5 998.0,280.5 999.0,279.1 1000.0,278.8 1001.0,275.8 1002.0,274.8 1003.0,273.1 1004.0,275.9 1005.0,275.9 1006.0,279.5 1007.0,284.2 1008.0,291.2 1009.0,293.7 1010.0,293.5 1011.0,292.6 1012.0,294.0" fill="none" stroke="#3a3a3a" stroke-width="7.5" stroke-linejoin="round"/>
<polyline points="1020.0,288.7 1021.0,287.2 1022.0,282.5 1023.0,277.2 1024.0,274.0 1025.0,269.3 1026.0,265.4 1027.0,264.0 1028.0,263.3 1029.0,266.1 1030.0,266.0 1031.0,265.7 1032.0,266.5 1033.0,269.7 1034.0,272.9 1035.0,278.0 1036.0,279.6 1037.0,280.3 1038.0,284.1 1039.0,283.2 1040.0,285.6 1041.0,286.6 1042.0,288.7 1043.0,293.3 1044.0,294.7 1045.0,292.1 1046.0,295.3 1047.0,293.3 1048.0,293.2 1049.0,294.5 1050.0,292.9 1051.0,289.8 1052.0,286.6 1053.0,287.2 1054.0,285.8 1055.0,285.8 1056.0,283.3 1057.0,286.1 1058.0,287.8 1059.0,291.2 1060.0,295.2 1061.0,297.0 1062.0,294.7 1063.0,296.7 1064.0,294.8 1065.0,295.2 1066.0,295.9 1067.0,295.8 1068.0,298.3 1069.0,298.3 1070.0,297.0 1071.0,292.1 1072.0,290.3 1073.0,293.0 1074.0,290.5 1075.0,288.1 1076.0,290.7 1077.0,292.6 1078.0,295.1 1079.0,295.1 1080.0,294.0 1081.0,291.3 1082.0,291.8 1083.0,295.2 1084.0,292.9 1085.0,292.6 1086.0,293.6 1087.0,296.8 1088.0,297.3 1089.0,293.6 1090.0,293.3 1091.0,290.6 1092.0,292.6 1093.0,294.5 1094.0,293.0 1095.0,292.7 1096.0,292.4 1097.0,293.5 1098.0,290.8 1099.0,290.0 1100.0,298.0 1101.0,299.1 1102.0,298.5 1103.0,294.4 1104.0,293.6 1105.0,294.0 1106.0,292.5 1107.0,292.1 1108.0,291.0 1109.0,290.6 1110.0,292.1 1111.0,291.8 1112.0,290.9 1113.0,291.6 1114.0,290.1 1115.0,289.0 1116.0,292.6 1117.0,292.1 1118.0,289.5 1119.0,290.9" fill="none" stroke="#3a3a3a" stroke-width="7.5" stroke-linejoin="round"/>
<polyline points="155.0,291.1 156.0,294.3 157.0,297.3 158.0,303.3" fill="none" stroke="#3a3a3a" stroke-width="4.7" stroke-linejoin="round"/>
<polyline points="166.0,297.8 167.0,290.0 168.0,286.1 169.0,281.9 170.0,275.1 171.0,265.9 172.0,257.8 173.0,254.5 174.0,256.5" fill="none" stroke="#3a3a3a" stroke-width="4.7" stroke-linejoin="round"/>
<polyline points="243.0,287.6 244.0,290.9 245.0,292.4 246.0,302.3" fill="none" stroke="#3a3a3a" stroke-width="4.7" stroke-linejoin="round"/>
<polyline points="252.0,300.2 253.0,296.0 254.0,294.1 255.0,290.6" fill="none" stroke="#3a3a3a" stroke-width="4.7" stroke-linejoin="round"/>
<polyline points="287.0,296.2 288.0,295.0 289.0,299.5 290.0,306.2 291.0,316.3 292.0,317.1 293.0,308.9 294.0,300.6 295.0,290.9 296.0,289.4 297.0,286.4" fill="none" stroke="#3a3a3a" stroke-width="4.7" stroke-linejoin="round"/>
<polyline points="372.0,284.7 373.0,284.9 374.0,290.6" fill="none" stroke="#3a3a3a" stroke-width="4.7" stroke-linejoin="round"/>
<polyline points="383.0,293.0 384.0,289.9 385.0,287.5 386.0,279.7 387.0,272.7 388.0,266.0 389.0,259.4 390.0,260.2 391.0,262.2" fill="none" stroke="#3a3a3a" stroke-width="4.7" stroke-linejoin="round"/>
<polyline points="526.0,293.4 527.0,293.2 528.0,294.4 529.0,298.2" fill="none" stroke="#3a3a3a" stroke-width="4.7" stroke-linejoin="round"/>
<polyline points="535.0,298.4 536.0,294.1 537.0,289.3 538.0,286.0 539.0,275.2 540.0,260.3 541.0,254.1 542.0,254.2 543.0,259.3 544.0,272.6 545.0,282.0 546.0,285.5 547.0,290.1" fill="none" stroke="#3a3a3a" stroke-width="4.7" stroke-linejoin="round"/>
<polyline points="555.0,298.1 556.0,291.6 557.0,287.3 558.0,279.1 559.0,276.6 560.0,268.2 561.0,260.6 562.0,251.0 563.0,248.1 564.0,252.7 565.0,254.5" fill="none" stroke="#3a3a3a" stroke-width="4.7" stroke-linejoin="round"/>
<polyline points="654.0,286.1 655.0,289.8 656.0,290.4 657.0,295.5" fill="none" stroke="#3a3a3a" stroke-width="4.7" stroke-linejoin="round"/>
<polyline points="665.0,300.3 666.0,295.8 667.0,294.1 668.0,286.7 669.0,279.2 670.0,274.0 671.0,267.2 672.0,264.0" fill="none" stroke="#3a3a3a" stroke-width="4.7" stroke-linejoin="round"/>
<polyline points="792.0,287.5 793.0,293.8 794.0,295.9 795.0,303.5" fill="none" stroke="#3a3a3a" stroke-width="4.7" stroke-linejoin="round"/>
<polyline points="803.0,297.7 804.0,288.8 805.0,287.0 806.0,279.0 807.0,269.0 808.0,260.9 809.0,254.1 810.0,248.4 811.0,250.9" fill="none" stroke="#3a3a3a" stroke-width="4.7" stroke-linejoin="round"/>
<polyline points="906.0,288.8 907.0,292.3 908.0,297.9 909.0,298.9" fill="none" stroke="#3a3a3a" stroke-width="4.7" stroke-linejoin="round"/>
<polyline points="917.0,294.0 918.0,290.6 919.0,285.7 920.0,281.1 921.0,274.0 922.0,265.3 923.0,260.1 924.0,256.0 925.0,254.6 926.0,258.5" fill="none" stroke="#3a3a3a" stroke-width="4.7" stroke-linejoin="round"/>
<polyline points="1010.0,293.5 1011.0,292.6 1012.0,294.0" fill="none" stroke="#3a3a3a" stroke-width="4.7" stroke-linejoin="round"/>
<polyline points="1020.0,288.7 1021.0,287.2 1022.0,282.5" fill="none" stroke="#3a3a3a" stroke-width="4.7" stroke-linejoin="round"/>
<polyline points="155.0,291.1 156.0,294.3 157.0,297.3 158.0,303.3 159.0,325.9" fill="none" stroke="#3a3a3a" stroke-width="2.6" stroke-linejoin="round"/>
<polyline points="166.0,297.8 167.0,290.0 168.0,286.1 169.0,281.9 170.0,275.1 171.0,265.9 172.0,257.8 173.0,254.5 174.0,256.5" fill="none" stroke="#3a3a3a" stroke-width="2.6" stroke-linejoin="round"/>
<polyline points="243.0,287.6 244.0,290.9 245.0,292.4 246.0,302.3 247.0,319.7 248.0,347.4 249.0,358.2 250.0,343.3 251.0,317.5 252.0,300.2 253.0,296.0 254.0,294.1 255.0,290.6" fill="none" stroke="#3a3a3a" stroke-width="2.6" stroke-linejoin="round"/>
<polyline points="287.0,296.2 288.0,295.0 289.0,299.5 290.0,306.2 291.0,316.3 292.0,317.1 293.0,308.9 294.0,300.6 295.0,290.9 296.0,289.4 297.0,286.4" fill="none" stroke="#3a3a3a" stroke-width="2.6" stroke-linejoin="round"/>
<polyline points="372.0,284.7 373.0,284.9 374.0,290.6 375.0,297.3" fill="none" stroke="#3a3a3a" stroke-width="2.6" stroke-linejoin="round"/>
<polyline points="378.0,423.1 379.0,424.7" fill="none" stroke="#3a3a3a" stroke-width="2.6" stroke-linejoin="round"/>
<polyline points="382.0,298.9 383.0,293.0 384.0,289.9 385.0,287.5 386.0,279.7 387.0,272.7 388.0,266.0 389.0,259.4 390.0,260.2 391.0,262.2" fill="none" stroke="#3a3a3a" stroke-width="2.6" stroke-linejoin="round"/>
<polyline points="526.0,293.4 527.0,293.2 528.0,294.4 529.0,298.2 530.0,309.9 531.0,327.5 532.0,340.0 533.0,331.0 534.0,312.4 535.0,298.4 536.0,294.1 537.0,289.3 538.0,286.0 539.0,275.2 540.0,260.3 541.0,254.1 542.0,254.2 543.0,259.3 544.0,272.6 545.0,282.0 546.0,285.5 547.0,290.1 548.0,311.0" fill="none" stroke="#3a3a3a" stroke-width="2.6" stroke-linejoin="round"/>
<polyline points="554.0,315.0 555.0,298.1 556.0,291.6 557.0,287.3 558.0,279.1 559.0,276.6 560.0,268.2 561.0,260.6 562.0,251.0 563.0,248.1 564.0,252.7 565.0,254.5" fill="none" stroke="#3a3a3a" stroke-width="2.6" stroke-linejoin="round"/>
<polyline points="654.0,286.1 655.0,289.8 656.0,290.4 657.0,295.5 658.0,310.6" fill="none" stroke="#3a3a3a" stroke-width="2.6" stroke-linejoin="round"/>
<polyline points="664.0,316.1 665.0,300.3 666.0,295.8 667.0,294.1 668.0,286.7 669.0,279.2 670.0,274.0 671.0,267.2 672.0,264.0" fill="none" stroke="#3a3a3a" stroke-width="2.6" stroke-linejoin="round"/>
<polyline points="792.0,287.5 793.0,293.8 794.0,295.9 795.0,303.5" fill="none" stroke="#3a3a3a" stroke-width="2.6" stroke-linejoin="round"/>
<polyline points="803.0,297.7 804.0,288.8 805.0,287.0 806.0,279.0 807.0,269.0 808.0,260.9 809.0,254.1 810.0,248.4 811.0,250.9" fill="none" stroke="#3a3a3a" stroke-width="2.6" stroke-linejoin="round"/>
<polyline points="906.0,288.8 907.0,292.3 908.0,297.9 909.0,298.9 910.0,315.5" fill="none" stroke="#3a3a3a" stroke-width="2.6" stroke-linejoin="round"/>
<polyline points="916.0,313.4 917.0,294.0 918.0,290.6 919.0,285.7 920.0,281.1 921.0,274.0 922.0,265.3 923.0,260.1 924.0,256.0 925.0,254.6 926.0,258.5" fill="none" stroke="#3a3a3a" stroke-width="2.6" stroke-linejoin="round"/>
<polyline points="1010.0,293.5 1011.0,292.6 1012.0,294.0 1013.0,301.7 1014.0,325.3 1015.0,356.0 1016.0,371.7 1017.0,354.1 1018.0,321.7 1019.0,297.5 1020.0,288.7 1021.0,287.2 1022.0,282.5" fill="none" stroke="#3a3a3a" stroke-width="2.6" stroke-linejoin="round"/>
<polyline points="114.0,570.4 115.0,569.7 116.0,570.2 117.0,570.2 118.0,569.5 119.0,569.8 120.0,570.6 121.0,571.3 122.0,571.8 123.0,571.4 124.0,570.3 125.0,569.5 126.0,569.3 127.0,569.2 128.0,569.6 129.0,570.2 130.0,570.9 131.0,571.0 132.0,570.4 133.0,569.9 134.0,569.9 135.0,571.9 136.0,575.4 137.0,579.5 138.0,582.9 139.0,584.1 140.0,581.3 141.0,576.1 142.0,570.2 143.0,563.9 144.0,559.3 145.0,556.1 146.0,552.4 147.0,549.7 148.0,547.2 149.0,544.6 150.0,542.9 151.0,541.4 152.0,541.2 153.0,543.7 154.0,547.1 155.0,551.8 156.0,557.4 157.0,561.9 158.0,565.5 159.0,568.7 160.0,573.3 161.0,585.3 162.0,612.0 163.0,650.8 164.0,679.8 165.0,675.5 166.0,641.4 167.0,604.1 168.0,581.2 169.0,571.1 170.0,565.1 171.0,558.9 172.0,553.0 173.0,547.1 174.0,541.6 175.0,538.1 176.0,537.5 177.0,539.0 178.0,540.3 179.0,541.3 180.0,542.9 181.0,545.3 182.0,547.3 183.0,550.0 184.0,553.3 185.0,556.3 186.0,559.3 187.0,562.4 188.0,564.2 189.0,565.6 190.0,567.4 191.0,569.2 192.0,570.6 193.0,571.4 194.0,570.2 195.0,567.5 196.0,567.4 197.0,568.9 198.0,568.4 199.0,567.2 200.0,568.1 201.0,570.0 202.0,570.5 203.0,569.7 204.0,569.5 205.0,570.0 206.0,570.6 207.0,570.3 208.0,570.2 209.0,570.7 210.0,571.5 211.0,571.8 212.0,571.8 213.0,571.2 214.0,570.5 215.0,570.2 216.0,570.3 217.0,570.4 218.0,570.0 219.0,569.7 220.0,569.9 221.0,569.1 222.0,567.8 223.0,566.9 224.0,565.5 225.0,563.8 226.0,561.1 227.0,557.6 228.0,554.1 229.0,552.2 230.0,551.3 231.0,550.8 232.0,551.5 233.0,554.0 234.0,558.3 235.0,563.3 236.0,566.9 237.0,569.4 238.0,571.0 239.0,573.7 240.0,582.6 241.0,605.2 242.0,638.5 243.0,663.9 244.0,660.3 245.0,631.5 246.0,599.8 247.0,579.6 248.0,569.9 249.0,565.0 250.0,560.9 251.0,556.9 252.0,552.7 253.0,547.9 254.0,543.3 255.0,540.3 256.0,539.3 257.0,540.0 258.0,542.2 259.0,545.2 260.0,548.9 261.0,552.6 262.0,556.1 263.0,559.5 264.0,562.2 265.0,563.7 266.0,565.1 267.0,566.5 268.0,567.9 269.0,568.7 270.0,568.7 271.0,568.5 272.0,568.2 273.0,568.0 274.0,568.3 275.0,568.3 276.0,568.8 277.0,570.1 278.0,569.3 279.0,567.2 280.0,567.7 281.0,568.8 282.0,569.5 283.0,571.0 284.0,572.2 285.0,571.3 286.0,569.9 287.0,569.8 288.0,570.4 289.0,570.1 290.0,568.6 291.0,568.4 292.0,569.1 293.0,568.4 294.0,567.6 295.0,567.8 296.0,568.5 297.0,568.9 298.0,569.3 299.0,569.8 300.0,571.0 301.0,571.1 302.0,570.7 303.0,570.2 304.0,568.4 305.0,566.4 306.0,566.3 307.0,567.6 308.0,568.5 309.0,568.5 310.0,569.0 311.0,569.4 312.0,569.7 313.0,570.2 314.0,570.0 315.0,569.8 316.0,571.1 317.0,571.8 318.0,570.5 319.0,569.7 320.0,569.4 321.0,568.3 322.0,568.2 323.0,569.0 324.0,568.6 325.0,568.6 326.0,569.1 327.0,568.7 328.0,568.2 329.0,567.8 330.0,566.4 331.0,565.4 332.0,564.8 333.0,562.7 334.0,559.1 335.0,555.9 336.0,553.8 337.0,552.7 338.0,552.4 339.0,551.9 340.0,550.0 341.0,549.3 342.0,551.6 343.0,556.2 344.0,559.6 345.0,561.8 346.0,564.9 347.0,567.4 348.0,568.8 349.0,575.4 350.0,592.6 351.0,625.4 352.0,667.1 353.0,688.5 354.0,669.6 355.0,627.3 356.0,592.1 357.0,574.8 358.0,567.2 359.0,562.7 360.0,559.1 361.0,554.2 362.0,548.1 363.0,542.2 364.0,538.4 365.0,538.5 366.0,539.9 367.0,540.1 368.0,541.0 369.0,544.2 370.0,548.3 371.0,551.9 372.0,554.4 373.0,556.9 374.0,560.5 375.0,563.1 376.0,564.3 377.0,564.8 378.0,565.2 379.0,566.1 380.0,567.0 381.0,567.0 382.0,565.8 383.0,565.2 384.0,565.0 385.0,564.0 386.0,563.6 387.0,564.9 388.0,566.0 389.0,566.5 390.0,566.0 391.0,564.8 392.0,563.6 393.0,563.6 394.0,563.7 395.0,562.9 396.0,562.5 397.0,562.2 398.0,561.0 399.0,559.1 400.0,556.8 401.0,555.3 402.0,555.4 403.0,555.8 404.0,555.0 405.0,554.4 406.0,555.6 407.0,557.0 408.0,558.5 409.0,560.7 410.0,562.6 411.0,564.3 412.0,566.0 413.0,566.2 414.0,566.6 415.0,568.1 416.0,569.1 417.0,569.8 418.0,570.8 419.0,571.3 420.0,572.0 421.0,575.2 422.0,581.4 423.0,589.9 424.0,600.9 425.0,613.0 426.0,622.0 427.0,623.5 428.0,619.3 429.0,611.7 430.0,600.9 431.0,589.7 432.0,582.1 433.0,576.7 434.0,571.2 435.0,566.9 436.0,565.0 437.0,563.1 438.0,560.9 439.0,559.1 440.0,557.2 441.0,554.4 442.0,552.0 443.0,550.2 444.0,548.6 445.0,548.2 446.0,548.8 447.0,548.9 448.0,549.4 449.0,550.5 450.0,551.4 451.0,552.2 452.0,552.7 453.0,553.4 454.0,555.0 455.0,556.8 456.0,558.6 457.0,559.6 458.0,559.7 459.0,560.9 460.0,563.6 461.0,565.5 462.0,565.9 463.0,565.9 464.0,565.8 465.0,565.2 466.0,564.9 467.0,564.9 468.0,566.0 469.0,567.2 470.0,567.9 471.0,568.8 472.0,570.3 473.0,570.8 474.0,570.2 475.0,568.9 476.0,567.7 477.0,567.3 478.0,566.7 479.0,566.0 480.0,566.9 481.0,568.2 482.0,568.2 483.0,566.4 484.0,565.2 485.0,566.2 486.0,566.9 487.0,566.4 488.0,565.1 489.0,564.9 490.0,565.9 491.0,565.7 492.0,564.0 493.0,562.0 494.0,560.5 495.0,559.0 496.0,557.2 497.0,554.6 498.0,551.4 499.0,548.6 500.0,547.0 501.0,548.0 502.0,550.2 503.0,553.1 504.0,556.5 505.0,559.5 506.0,562.5 507.0,565.7 508.0,568.3 509.0,575.8 510.0,598.2 511.0,640.3 512.0,688.6 513.0,709.9 514.0,685.9 515.0,637.3 516.0,596.5 517.0,574.8 518.0,565.7 519.0,561.2 520.0,557.7 521.0,552.1 522.0,544.4 523.0,537.4 524.0,532.8 525.0,531.7 526.0,532.8 527.0,535.3 528.0,538.9 529.0,542.6 530.0,546.0 531.0,549.3 532.0,553.7 533.0,558.7 534.0,561.1 535.0,561.4 536.0,562.3 537.0,563.8 538.0,565.7 539.0,566.8 540.0,568.3 541.0,570.7 542.0,572.0 543.0,570.9 544.0,569.0 545.0,569.2 546.0,570.2 547.0,570.3 548.0,570.3 549.0,570.1 550.0,570.0 551.0,571.0 552.0,571.9 553.0,571.1 554.0,569.9 555.0,569.5 556.0,569.6 557.0,569.5 558.0,570.1 559.0,571.0 560.0,571.4 561.0,570.5 562.0,569.6 563.0,569.5 564.0,569.0 565.0,567.6 566.0,566.7 567.0,566.8 568.0,567.6 569.0,568.4 570.0,569.8 571.0,571.2 572.0,571.2 573.0,569.5 574.0,568.2 575.0,568.9 576.0,569.2 577.0,567.6 578.0,566.7 579.0,566.7 580.0,565.9 581.0,564.8 582.0,565.1 583.0,565.7 584.0,564.6 585.0,563.4 586.0,562.9 587.0,560.9 588.0,558.2 589.0,555.5 590.0,553.6 591.0,551.8 592.0,550.8 593.0,551.6 594.0,553.0 595.0,554.3 596.0,557.1 597.0,560.5 598.0,563.8 599.0,567.6 600.0,570.6 601.0,572.7 602.0,577.9 603.0,594.7 604.0,628.4 605.0,668.3 606.0,686.6 607.0,667.9 608.0,628.3 609.0,595.0 610.0,577.4 611.0,569.4 612.0,564.8 613.0,560.7 614.0,556.2 615.0,550.6 616.0,544.5 617.0,540.9 618.0,540.4 619.0,541.1 620.0,542.0 621.0,544.0 622.0,547.1 623.0,550.1 624.0,552.4 625.0,555.8 626.0,559.1 627.0,561.4 628.0,563.2 629.0,563.4 630.0,562.7 631.0,563.1 632.0,564.6 633.0,566.1 634.0,566.2 635.0,565.9 636.0,567.1 637.0,568.3 638.0,567.1 639.0,565.6 640.0,566.2 641.0,568.0 642.0,568.8 643.0,568.1 644.0,566.9 645.0,567.3 646.0,568.6 647.0,569.1 648.0,569.9 649.0,571.0 650.0,571.4 651.0,571.1 652.0,571.4 653.0,572.0 654.0,572.2 655.0,572.4 656.0,572.2 657.0,571.8 658.0,572.2 659.0,571.8 660.0,570.5 661.0,569.1 662.0,568.4 663.0,568.9 664.0,569.4 665.0,569.3 666.0,569.1 667.0,568.5 668.0,568.2 669.0,568.7 670.0,570.1 671.0,571.2 672.0,571.3 673.0,571.3 674.0,571.8 675.0,571.0 676.0,568.3 677.0,566.2 678.0,566.4 679.0,566.7 680.0,566.0 681.0,565.6 682.0,566.2 683.0,566.2 684.0,566.0 685.0,566.5 686.0,567.3 687.0,567.8 688.0,567.7 689.0,566.1 690.0,564.4 691.0,564.5 692.0,565.0 693.0,564.2 694.0,564.1 695.0,564.7 696.0,562.6 697.0,559.5 698.0,558.0 699.0,556.8 700.0,555.6 701.0,555.9 702.0,556.3 703.0,555.9 704.0,557.2 705.0,560.1 706.0,562.3 707.0,564.3 708.0,566.7 709.0,569.3 710.0,571.3 711.0,576.6 712.0,591.7 713.0,620.1 714.0,653.8 715.0,670.1 716.0,654.8 717.0,621.2 718.0,591.4 719.0,574.7 720.0,567.8 721.0,563.9 722.0,559.9 723.0,554.7 724.0,547.3 725.0,540.0 726.0,536.0 727.0,535.7 728.0,536.3 729.0,538.2 730.0,541.4 731.0,544.3 732.0,546.7 733.0,549.7 734.0,553.2 735.0,556.3 736.0,558.8 737.0,560.9 738.0,562.9 739.0,564.5 740.0,566.0 741.0,566.7 742.0,566.1 743.0,566.2 744.0,566.7 745.0,566.4 746.0,565.7 747.0,564.8 748.0,564.8 749.0,565.1 750.0,565.3 751.0,565.4 752.0,565.7 753.0,565.7 754.0,565.5 755.0,564.2 756.0,562.7 757.0,563.1 758.0,563.6 759.0,562.4 760.0,562.0 761.0,563.0 762.0,563.2 763.0,562.6 764.0,562.4 765.0,562.2 766.0,562.4 767.0,563.8 768.0,565.6 769.0,566.4 770.0,565.6 771.0,566.1 772.0,568.1 773.0,569.1 774.0,570.0 775.0,571.9 776.0,576.2 777.0,581.1 778.0,585.0 779.0,587.2 780.0,586.1 781.0,581.8 782.0,577.3 783.0,573.5 784.0,570.6 785.0,568.9 786.0,568.3 787.0,567.9 788.0,568.0 789.0,567.3 790.0,567.1 791.0,568.4 792.0,569.3 793.0,568.5 794.0,568.1 795.0,568.0 796.0,567.9 797.0,568.0 798.0,568.1 799.0,569.1 800.0,570.4 801.0,570.7 802.0,570.7 803.0,570.7 804.0,570.3 805.0,569.4 806.0,567.9 807.0,566.9 808.0,566.6 809.0,568.1 810.0,575.4 811.0,593.6 812.0,626.5 813.0,665.1 814.0,682.2 815.0,661.3 816.0,620.5 817.0,588.6 818.0,572.5 819.0,566.2 820.0,563.2 821.0,559.6 822.0,554.6 823.0,549.9 824.0,546.2 825.0,542.3 826.0,540.4 827.0,541.1 828.0,543.0 829.0,545.2 830.0,546.8 831.0,549.1 832.0,552.8 833.0,556.4 834.0,558.1 835.0,559.0 836.0,560.6 837.0,563.2 838.0,565.2 839.0,566.7 840.0,567.0 841.0,566.5 842.0,566.5 843.0,567.7 844.0,569.1 845.0,569.7 846.0,570.2 847.0,571.0 848.0,571.0 849.0,569.4 850.0,568.2 851.0,568.2 852.0,568.1 853.0,568.2 854.0,568.2 855.0,568.0 856.0,568.2 857.0,570.1 858.0,571.4 859.0,570.5 860.0,569.1 861.0,568.5 862.0,567.7 863.0,566.9 864.0,567.5 865.0,569.2 866.0,570.2 867.0,570.9 868.0,571.4 869.0,570.8 870.0,570.3 871.0,570.3 872.0,570.4 873.0,570.4 874.0,569.9 875.0,568.9 876.0,568.9 877.0,568.9 878.0,566.7 879.0,564.8 880.0,564.6 881.0,564.4 882.0,563.7 883.0,562.5 884.0,560.1 885.0,557.1 886.0,555.2 887.0,555.0 888.0,555.0 889.0,555.1 890.0,556.9 891.0,560.2 892.0,563.8 893.0,566.9 894.0,569.6 895.0,571.6 896.0,574.2 897.0,580.4 898.0,596.8 899.0,626.5 900.0,655.3 901.0,660.8 902.0,639.2 903.0,607.3 904.0,583.2 905.0,572.2 906.0,568.6 907.0,565.4 908.0,560.3 909.0,554.9 910.0,549.7 911.0,545.7 912.0,544.8 913.0,546.8 914.0,548.4 915.0,549.7 916.0,551.7 917.0,554.2 918.0,556.3 919.0,558.4 920.0,561.5 921.0,564.3 922.0,566.5 923.0,568.8 924.0,570.6 925.0,570.9 926.0,570.8 927.0,570.8 928.0,571.4 929.0,571.5 930.0,569.6 931.0,568.1 932.0,568.8 933.0,569.7 934.0,570.1 935.0,570.7 936.0,570.9 937.0,570.6 938.0,570.2 939.0,570.2 940.0,570.2 941.0,569.7 942.0,568.6 943.0,567.7 944.0,567.9 945.0,569.0 946.0,570.5 947.0,570.7 948.0,569.3 949.0,569.5 950.0,570.3 951.0,569.5 952.0,568.5 953.0,567.9 954.0,568.4 955.0,568.8 956.0,567.7 957.0,567.2 958.0,567.2 959.0,566.3 960.0,567.0 961.0,569.4 962.0,570.0 963.0,568.9 964.0,568.6 965.0,568.8 966.0,568.1 967.0,567.1 968.0,566.8 969.0,566.5 970.0,566.4 971.0,565.4 972.0,563.6 973.0,562.5 974.0,562.8 975.0,562.5 976.0,559.9 977.0,556.6 978.0,553.5 979.0,550.6 980.0,550.5 981.0,552.9 982.0,554.8 983.0,556.7 984.0,559.8 985.0,563.2 986.0,565.5 987.0,567.1 988.0,569.7 989.0,576.2 990.0,592.5 991.0,624.1 992.0,661.5 993.0,678.7 994.0,661.8 995.0,624.3 996.0,591.4 997.0,575.1 998.0,569.1 999.0,565.0 1000.0,561.6 1001.0,557.2 1002.0,551.6 1003.0,546.4 1004.0,542.0 1005.0,540.4 1006.0,541.5 1007.0,542.9 1008.0,544.4 1009.0,546.4 1010.0,548.0 1011.0,550.3 1012.0,552.6 1013.0,554.2 1014.0,557.3 1015.0,561.8 1016.0,564.4 1017.0,564.5 1018.0,564.9 1019.0,566.0 1020.0,567.2 1021.0,567.9 1022.0,568.6 1023.0,569.9 1024.0,570.8 1025.0,570.4 1026.0,569.7 1027.0,569.4 1028.0,569.6 1029.0,569.5 1030.0,569.5 1031.0,570.1 1032.0,570.3 1033.0,570.7 1034.0,572.1 1035.0,572.6 1036.0,572.6 1037.0,572.6 1038.0,572.1 1039.0,570.4 1040.0,569.5 1041.0,569.9 1042.0,570.4 1043.0,570.3 1044.0,571.3 1045.0,572.4 1046.0,571.9 1047.0,570.7 1048.0,570.1 1049.0,570.3 1050.0,570.5 1051.0,570.0 1052.0,569.7 1053.0,569.4 1054.0,569.2 1055.0,568.5 1056.0,567.6 1057.0,567.5 1058.0,567.0 1059.0,565.7 1060.0,565.4 1061.0,566.7 1062.0,567.7 1063.0,567.9 1064.0,567.5 1065.0,566.6 1066.0,566.1 1067.0,565.9 1068.0,565.0 1069.0,563.7 1070.0,562.8 1071.0,562.0 1072.0,560.4 1073.0,559.1 1074.0,559.7 1075.0,561.8 1076.0,564.4 1077.0,566.0 1078.0,566.0 1079.0,566.2 1080.0,566.8 1081.0,567.3 1082.0,568.3 1083.0,568.0 1084.0,567.2 1085.0,567.6 1086.0,568.3 1087.0,569.1 1088.0,570.4 1089.0,570.8 1090.0,572.5 1091.0,577.3 1092.0,585.2 1093.0,594.6 1094.0,603.9 1095.0,612.8 1096.0,620.1 1097.0,623.4 1098.0,620.2 1099.0,610.7 1100.0,598.8 1101.0,588.3 1102.0,581.5 1103.0,577.9 1104.0,574.8 1105.0,571.8 1106.0,570.1 1107.0,569.4 1108.0,569.3 1109.0,569.7" fill="none" stroke="#6cc0ea" stroke-width="2.40" stroke-linejoin="round"/>
<polyline points="114.0,569.2 115.0,570.1 116.0,570.6 117.0,568.2 118.0,569.1 119.0,569.8 120.0,572.1 121.0,571.4 122.0,571.8 123.0,572.3 124.0,570.4 125.0,569.2 126.0,569.2 127.0,569.0 128.0,568.6 129.0,570.8 130.0,572.8 131.0,570.2 132.0,571.3 133.0,568.4 134.0,569.6 135.0,570.6 136.0,574.4 137.0,578.8 138.0,582.6 139.0,583.6 140.0,583.0 141.0,575.5" fill="none" stroke="#1a98d4" stroke-width="7.2" stroke-linejoin="round"/>
<polyline points="143.0,565.2 144.0,558.0 145.0,555.7 146.0,552.7 147.0,549.4 148.0,546.8 149.0,544.0 150.0,544.1 151.0,542.6 152.0,539.7 153.0,544.1 154.0,547.7 155.0,551.8 156.0,558.5 157.0,563.6 158.0,564.4 159.0,567.9" fill="none" stroke="#1a98d4" stroke-width="7.2" stroke-linejoin="round"/>
<polyline points="172.0,553.5 173.0,547.9 174.0,541.1 175.0,538.2 176.0,537.6 177.0,538.8 178.0,539.6 179.0,540.4 180.0,542.9 181.0,546.3 182.0,548.5 183.0,550.9 184.0,553.9 185.0,557.1 186.0,559.1 187.0,561.6 188.0,563.6 189.0,566.6 190.0,567.6 191.0,569.5 192.0,570.3 193.0,570.7 194.0,570.3 195.0,566.8 196.0,566.4 197.0,569.7 198.0,567.3 199.0,567.9 200.0,567.5 201.0,570.7 202.0,570.1 203.0,570.8 204.0,569.7 205.0,570.3 206.0,571.5 207.0,569.7 208.0,570.0 209.0,569.9 210.0,572.4 211.0,571.3 212.0,571.2 213.0,570.8 214.0,569.9 215.0,571.1 216.0,568.4 217.0,567.6 218.0,569.1 219.0,569.2 220.0,569.8 221.0,569.7 222.0,566.9 223.0,567.1 224.0,565.0 225.0,564.8 226.0,560.2 227.0,556.4 228.0,554.7 229.0,551.8 230.0,551.0 231.0,550.4 232.0,552.4 233.0,554.9 234.0,558.8 235.0,564.1 236.0,570.1 237.0,569.8 238.0,572.6 239.0,573.6" fill="none" stroke="#1a98d4" stroke-width="7.2" stroke-linejoin="round"/>
<polyline points="249.0,564.1 250.0,560.6 251.0,556.5 252.0,553.0 253.0,546.2 254.0,544.5 255.0,541.4 256.0,539.0 257.0,538.9 258.0,542.3 259.0,545.8 260.0,547.8 261.0,551.9 262.0,555.2 263.0,561.2 264.0,561.8 265.0,564.7 266.0,566.3 267.0,564.8 268.0,565.7 269.0,569.2 270.0,569.5 271.0,567.7 272.0,569.5 273.0,568.0 274.0,568.5 275.0,568.6 276.0,568.4 277.0,569.3 278.0,568.6 279.0,567.0 280.0,568.5 281.0,569.4 282.0,569.8 283.0,573.0 284.0,572.1 285.0,572.1 286.0,571.2 287.0,569.8 288.0,569.1 289.0,570.5 290.0,568.5 291.0,567.3 292.0,569.4 293.0,568.2 294.0,566.7 295.0,567.8 296.0,569.1 297.0,567.1 298.0,568.2 299.0,570.1 300.0,571.6 301.0,571.8 302.0,568.5 303.0,570.8 304.0,568.8 305.0,567.2 306.0,566.7 307.0,567.0 308.0,569.7 309.0,568.2 310.0,569.7 311.0,568.4 312.0,570.5 313.0,570.5 314.0,570.2 315.0,570.2 316.0,571.3 317.0,572.3 318.0,571.2 319.0,569.2 320.0,569.3 321.0,568.7 322.0,569.3 323.0,570.9 324.0,570.8 325.0,567.4 326.0,568.4 327.0,567.9 328.0,567.9 329.0,569.2 330.0,567.2 331.0,564.0 332.0,565.2 333.0,563.4 334.0,557.9 335.0,557.0 336.0,554.7 337.0,552.1 338.0,552.9 339.0,551.8 340.0,549.8 341.0,551.1 342.0,550.0 343.0,555.6 344.0,560.4 345.0,562.5 346.0,565.5 347.0,568.2 348.0,567.4" fill="none" stroke="#1a98d4" stroke-width="7.2" stroke-linejoin="round"/>
<polyline points="358.0,566.9 359.0,562.6 360.0,559.9 361.0,554.1" fill="none" stroke="#1a98d4" stroke-width="7.2" stroke-linejoin="round"/>
<polyline points="363.0,542.2 364.0,538.3 365.0,538.6 366.0,541.1 367.0,541.3 368.0,540.3 369.0,545.2 370.0,548.5 371.0,551.2 372.0,555.1 373.0,555.7 374.0,562.8 375.0,562.6 376.0,564.5 377.0,564.4 378.0,566.9 379.0,567.5 380.0,567.9 381.0,566.6 382.0,565.3 383.0,565.0 384.0,565.3 385.0,562.7 386.0,563.9 387.0,565.4 388.0,566.5 389.0,566.8 390.0,566.5 391.0,564.6 392.0,563.3 393.0,563.8 394.0,563.9 395.0,562.9 396.0,561.7 397.0,561.1 398.0,560.9 399.0,558.7 400.0,556.9 401.0,555.5 402.0,555.0 403.0,556.4 404.0,555.3 405.0,555.1 406.0,556.3 407.0,557.6 408.0,558.9 409.0,559.8 410.0,563.4 411.0,565.0 412.0,568.1 413.0,566.2 414.0,566.6 415.0,568.6 416.0,570.1 417.0,569.1 418.0,571.4 419.0,571.6 420.0,572.6 421.0,576.2" fill="none" stroke="#1a98d4" stroke-width="7.2" stroke-linejoin="round"/>
<polyline points="426.0,623.2 427.0,621.8" fill="none" stroke="#1a98d4" stroke-width="7.2" stroke-linejoin="round"/>
<polyline points="432.0,581.7 433.0,576.5 434.0,571.0 435.0,566.7 436.0,565.3 437.0,562.7 438.0,561.8 439.0,559.6 440.0,556.8 441.0,555.8 442.0,551.7 443.0,549.4 444.0,547.9 445.0,547.2 446.0,548.5 447.0,548.7 448.0,548.3 449.0,551.0 450.0,552.0 451.0,553.4 452.0,552.4 453.0,553.3 454.0,556.0 455.0,556.3 456.0,559.0 457.0,560.5 458.0,559.5 459.0,560.5 460.0,562.3 461.0,565.9 462.0,566.5 463.0,567.4 464.0,566.2 465.0,564.8 466.0,566.1 467.0,564.4 468.0,564.4 469.0,567.9 470.0,567.1 471.0,567.6 472.0,570.5 473.0,571.9 474.0,567.7 475.0,570.1 476.0,569.2 477.0,568.1 478.0,565.8 479.0,564.6 480.0,565.9 481.0,567.5 482.0,567.7 483.0,566.8 484.0,566.4 485.0,566.4 486.0,568.4 487.0,568.3 488.0,564.6 489.0,566.6 490.0,567.2 491.0,564.1 492.0,565.5 493.0,561.3 494.0,561.4 495.0,559.6 496.0,556.6 497.0,553.7 498.0,550.5 499.0,547.9 500.0,547.6 501.0,547.0 502.0,550.0 503.0,553.2 504.0,556.5 505.0,559.9 506.0,562.8 507.0,566.7 508.0,569.1" fill="none" stroke="#1a98d4" stroke-width="7.2" stroke-linejoin="round"/>
<polyline points="519.0,561.6 520.0,557.2" fill="none" stroke="#1a98d4" stroke-width="7.2" stroke-linejoin="round"/>
<polyline points="523.0,537.5 524.0,530.7 525.0,531.5 526.0,534.1 527.0,533.8 528.0,538.7 529.0,542.3 530.0,546.7 531.0,549.3 532.0,553.9 533.0,558.2 534.0,561.5 535.0,562.4 536.0,562.0 537.0,563.8 538.0,567.1 539.0,567.1 540.0,568.6 541.0,569.1 542.0,572.2 543.0,570.1 544.0,568.7 545.0,568.2 546.0,568.1 547.0,571.1 548.0,569.6 549.0,569.5 550.0,569.1 551.0,572.2 552.0,573.4 553.0,573.6 554.0,572.0 555.0,569.3 556.0,569.6 557.0,570.7 558.0,572.1 559.0,569.3 560.0,571.4 561.0,570.9 562.0,568.2 563.0,568.6 564.0,569.8 565.0,566.2 566.0,565.8 567.0,568.7 568.0,567.6 569.0,568.8 570.0,567.8 571.0,571.4 572.0,570.8 573.0,568.9 574.0,568.4 575.0,569.9 576.0,569.5 577.0,566.0 578.0,566.6 579.0,566.9 580.0,566.4 581.0,566.0 582.0,565.1 583.0,565.6 584.0,565.3 585.0,563.5 586.0,563.5 587.0,559.7 588.0,558.3 589.0,555.2 590.0,553.8 591.0,552.4 592.0,551.1 593.0,551.7 594.0,552.7 595.0,553.8 596.0,559.7 597.0,561.7 598.0,564.3 599.0,567.9 600.0,571.1 601.0,573.6" fill="none" stroke="#1a98d4" stroke-width="7.2" stroke-linejoin="round"/>
<polyline points="611.0,569.5 612.0,565.7 613.0,560.5 614.0,559.5" fill="none" stroke="#1a98d4" stroke-width="7.2" stroke-linejoin="round"/>
<polyline points="616.0,542.9 617.0,541.4 618.0,540.7 619.0,540.2 620.0,540.9 621.0,543.9 622.0,547.1 623.0,548.7 624.0,553.1 625.0,555.5 626.0,557.4 627.0,560.6 628.0,562.1 629.0,564.1 630.0,562.6 631.0,563.5 632.0,563.8 633.0,565.0 634.0,565.7 635.0,566.5 636.0,566.2 637.0,569.1 638.0,567.4 639.0,565.2 640.0,566.2 641.0,568.1 642.0,569.8 643.0,568.9 644.0,567.5 645.0,568.1 646.0,569.7 647.0,570.1 648.0,569.9 649.0,570.8 650.0,571.9 651.0,571.3 652.0,572.6 653.0,572.3 654.0,571.8 655.0,572.5 656.0,571.4 657.0,571.3 658.0,571.6 659.0,572.3 660.0,570.2 661.0,568.7 662.0,566.8 663.0,569.1 664.0,568.6 665.0,568.9 666.0,568.8 667.0,568.9 668.0,569.0 669.0,568.3 670.0,571.0 671.0,570.0 672.0,570.3 673.0,571.7 674.0,572.8 675.0,570.8 676.0,568.2 677.0,566.8 678.0,566.8 679.0,565.9 680.0,566.3 681.0,564.4 682.0,566.3 683.0,565.9 684.0,565.5 685.0,566.8 686.0,568.5 687.0,567.7 688.0,568.1 689.0,567.6 690.0,565.1 691.0,564.9 692.0,566.0 693.0,561.8 694.0,565.3 695.0,566.3 696.0,563.1 697.0,558.5 698.0,558.7 699.0,557.0 700.0,555.5 701.0,555.7 702.0,557.7 703.0,555.9 704.0,555.9 705.0,559.6 706.0,561.1 707.0,564.6 708.0,567.2 709.0,569.9 710.0,571.9" fill="none" stroke="#1a98d4" stroke-width="7.2" stroke-linejoin="round"/>
<polyline points="720.0,568.8 721.0,563.3 722.0,557.7" fill="none" stroke="#1a98d4" stroke-width="7.2" stroke-linejoin="round"/>
<polyline points="725.0,541.1 726.0,535.3 727.0,534.5 728.0,537.4 729.0,538.8 730.0,541.1 731.0,545.4 732.0,546.4 733.0,549.8 734.0,553.8 735.0,556.1 736.0,558.0 737.0,562.5 738.0,564.8 739.0,564.8 740.0,566.9 741.0,565.8 742.0,565.2 743.0,566.6 744.0,567.8 745.0,567.5 746.0,566.5 747.0,563.7 748.0,564.2 749.0,566.8 750.0,564.8 751.0,565.5 752.0,566.7 753.0,567.5 754.0,565.6 755.0,563.8 756.0,562.0 757.0,564.1 758.0,562.7 759.0,562.6 760.0,563.7 761.0,562.2 762.0,562.1 763.0,561.4 764.0,563.2 765.0,561.9 766.0,563.4 767.0,563.6 768.0,567.7 769.0,566.4 770.0,566.2 771.0,566.3 772.0,569.7 773.0,570.1 774.0,570.7 775.0,571.7 776.0,576.7 777.0,581.6 778.0,585.0 779.0,588.5 780.0,584.8 781.0,582.1 782.0,577.0 783.0,573.9 784.0,568.7 785.0,569.5 786.0,567.5 787.0,568.5 788.0,568.8 789.0,566.3 790.0,566.8 791.0,569.7 792.0,569.1 793.0,569.0 794.0,567.1 795.0,568.0 796.0,566.6 797.0,567.9 798.0,566.9 799.0,568.0 800.0,570.4 801.0,570.3 802.0,569.9 803.0,569.6 804.0,568.9 805.0,569.9 806.0,567.2 807.0,568.5 808.0,566.7 809.0,569.3" fill="none" stroke="#1a98d4" stroke-width="7.2" stroke-linejoin="round"/>
<polyline points="819.0,565.6 820.0,562.4 821.0,560.2 822.0,553.6 823.0,549.9 824.0,547.0 825.0,541.6 826.0,540.9 827.0,541.1 828.0,543.3 829.0,544.2 830.0,546.8 831.0,550.1 832.0,552.9 833.0,556.4 834.0,559.6 835.0,559.9 836.0,558.8 837.0,561.3 838.0,565.8 839.0,564.4 840.0,567.9 841.0,566.3 842.0,566.6 843.0,567.5 844.0,569.7 845.0,570.2 846.0,570.5 847.0,572.5 848.0,571.7 849.0,569.1 850.0,568.9 851.0,568.1 852.0,567.7 853.0,566.9 854.0,566.6 855.0,567.4 856.0,569.2 857.0,570.6 858.0,572.2 859.0,570.5 860.0,568.8 861.0,567.6 862.0,567.3 863.0,567.0 864.0,568.9 865.0,568.1 866.0,570.6 867.0,570.8 868.0,572.5 869.0,571.2 870.0,569.7 871.0,571.5 872.0,571.1 873.0,571.3 874.0,569.9 875.0,570.4 876.0,569.6 877.0,569.7 878.0,565.2 879.0,565.7 880.0,565.9 881.0,564.7 882.0,562.9 883.0,562.3 884.0,561.2 885.0,558.1 886.0,555.1 887.0,555.0 888.0,553.5 889.0,555.6 890.0,556.8 891.0,559.7 892.0,564.6 893.0,566.0 894.0,570.6 895.0,571.0 896.0,574.2" fill="none" stroke="#1a98d4" stroke-width="7.2" stroke-linejoin="round"/>
<polyline points="906.0,568.8 907.0,565.9 908.0,561.0 909.0,554.2 910.0,548.7 911.0,545.6 912.0,545.3 913.0,547.7 914.0,549.2 915.0,550.3 916.0,551.8 917.0,553.2 918.0,556.8 919.0,558.3 920.0,562.1 921.0,563.5 922.0,566.4 923.0,569.0 924.0,569.8 925.0,571.3 926.0,570.6 927.0,572.6 928.0,570.8 929.0,571.2 930.0,571.8 931.0,569.3 932.0,567.8 933.0,567.4 934.0,570.3 935.0,570.8 936.0,570.5 937.0,570.2 938.0,569.9 939.0,570.2 940.0,570.0 941.0,568.6 942.0,567.9 943.0,567.3 944.0,568.0 945.0,569.7 946.0,570.2 947.0,571.6 948.0,569.0 949.0,569.6 950.0,570.4 951.0,569.5 952.0,570.0 953.0,568.3 954.0,569.0 955.0,569.4 956.0,567.9 957.0,567.7 958.0,566.8 959.0,565.5 960.0,567.1 961.0,570.2 962.0,570.3 963.0,568.3 964.0,567.5 965.0,569.4 966.0,567.8 967.0,567.1 968.0,565.3 969.0,568.5 970.0,564.9 971.0,564.0 972.0,563.4 973.0,561.6 974.0,561.3 975.0,562.8 976.0,561.1 977.0,555.7 978.0,553.6 979.0,549.8 980.0,551.9 981.0,552.9 982.0,555.3 983.0,558.0 984.0,561.3 985.0,561.9 986.0,564.6 987.0,567.2 988.0,569.8" fill="none" stroke="#1a98d4" stroke-width="7.2" stroke-linejoin="round"/>
<polyline points="998.0,568.4 999.0,563.4 1000.0,562.3 1001.0,556.8 1002.0,551.9 1003.0,546.8 1004.0,542.1 1005.0,539.6 1006.0,543.3 1007.0,542.8 1008.0,545.5 1009.0,545.2 1010.0,548.1 1011.0,549.7 1012.0,551.1 1013.0,554.8 1014.0,556.5 1015.0,562.8 1016.0,565.3 1017.0,562.3 1018.0,563.6 1019.0,565.1 1020.0,566.5 1021.0,567.6 1022.0,570.4 1023.0,569.0 1024.0,570.5 1025.0,570.2 1026.0,569.4 1027.0,569.7 1028.0,569.7 1029.0,568.3 1030.0,570.3 1031.0,569.1 1032.0,569.2 1033.0,570.8 1034.0,571.4 1035.0,571.8 1036.0,573.2 1037.0,572.7 1038.0,572.9 1039.0,571.2 1040.0,570.2 1041.0,569.5 1042.0,571.2 1043.0,570.1 1044.0,572.4 1045.0,572.7 1046.0,570.9 1047.0,571.0 1048.0,570.5 1049.0,570.2 1050.0,568.9 1051.0,569.7 1052.0,568.2 1053.0,569.4 1054.0,568.6 1055.0,568.3 1056.0,566.9 1057.0,566.9 1058.0,565.2 1059.0,565.6 1060.0,566.0 1061.0,567.8 1062.0,568.1 1063.0,568.3 1064.0,567.4 1065.0,567.0 1066.0,566.7 1067.0,563.5 1068.0,564.5 1069.0,563.8 1070.0,561.0 1071.0,562.1 1072.0,560.4 1073.0,558.3 1074.0,560.5 1075.0,560.7 1076.0,565.3 1077.0,565.6 1078.0,564.4 1079.0,567.6 1080.0,566.4 1081.0,566.0 1082.0,568.3 1083.0,567.9 1084.0,566.4 1085.0,567.4 1086.0,567.9 1087.0,569.1 1088.0,570.3 1089.0,570.5 1090.0,571.4" fill="none" stroke="#1a98d4" stroke-width="7.2" stroke-linejoin="round"/>
<polyline points="1096.0,619.0 1097.0,622.8" fill="none" stroke="#1a98d4" stroke-width="7.2" stroke-linejoin="round"/>
<polyline points="1102.0,580.9 1103.0,578.6 1104.0,574.9 1105.0,571.1 1106.0,569.5 1107.0,569.6 1108.0,567.2 1109.0,568.6" fill="none" stroke="#1a98d4" stroke-width="7.2" stroke-linejoin="round"/>
<polyline points="139.0,583.6 140.0,583.0 141.0,575.5 142.0,569.9 143.0,565.2 144.0,558.0 145.0,555.7" fill="none" stroke="#1a98d4" stroke-width="4.5" stroke-linejoin="round"/>
<polyline points="157.0,563.6 158.0,564.4 159.0,567.9 160.0,572.4" fill="none" stroke="#1a98d4" stroke-width="4.5" stroke-linejoin="round"/>
<polyline points="169.0,571.2 170.0,566.7 171.0,558.4 172.0,553.5 173.0,547.9 174.0,541.1" fill="none" stroke="#1a98d4" stroke-width="4.5" stroke-linejoin="round"/>
<polyline points="237.0,569.8 238.0,572.6 239.0,573.6" fill="none" stroke="#1a98d4" stroke-width="4.5" stroke-linejoin="round"/>
<polyline points="247.0,578.3 248.0,569.9 249.0,564.1 250.0,560.6 251.0,556.5" fill="none" stroke="#1a98d4" stroke-width="4.5" stroke-linejoin="round"/>
<polyline points="346.0,565.5 347.0,568.2 348.0,567.4 349.0,575.2" fill="none" stroke="#1a98d4" stroke-width="4.5" stroke-linejoin="round"/>
<polyline points="357.0,575.4 358.0,566.9 359.0,562.6 360.0,559.9 361.0,554.1 362.0,548.7 363.0,542.2 364.0,538.3 365.0,538.6" fill="none" stroke="#1a98d4" stroke-width="4.5" stroke-linejoin="round"/>
<polyline points="419.0,571.6 420.0,572.6 421.0,576.2 422.0,581.5 423.0,590.8 424.0,600.5 425.0,613.6 426.0,623.2 427.0,621.8 428.0,618.7 429.0,612.5 430.0,600.8 431.0,590.5 432.0,581.7 433.0,576.5 434.0,571.0" fill="none" stroke="#1a98d4" stroke-width="4.5" stroke-linejoin="round"/>
<polyline points="506.0,562.8 507.0,566.7 508.0,569.1 509.0,575.4" fill="none" stroke="#1a98d4" stroke-width="4.5" stroke-linejoin="round"/>
<polyline points="517.0,575.6 518.0,566.0 519.0,561.6 520.0,557.2 521.0,554.1 522.0,543.8 523.0,537.5 524.0,530.7 525.0,531.5" fill="none" stroke="#1a98d4" stroke-width="4.5" stroke-linejoin="round"/>
<polyline points="599.0,567.9 600.0,571.1 601.0,573.6 602.0,578.0" fill="none" stroke="#1a98d4" stroke-width="4.5" stroke-linejoin="round"/>
<polyline points="610.0,578.1 611.0,569.5 612.0,565.7 613.0,560.5 614.0,559.5 615.0,551.1 616.0,542.9 617.0,541.4 618.0,540.7" fill="none" stroke="#1a98d4" stroke-width="4.5" stroke-linejoin="round"/>
<polyline points="708.0,567.2 709.0,569.9 710.0,571.9 711.0,576.5" fill="none" stroke="#1a98d4" stroke-width="4.5" stroke-linejoin="round"/>
<polyline points="719.0,575.0 720.0,568.8 721.0,563.3 722.0,557.7 723.0,555.7 724.0,546.9 725.0,541.1 726.0,535.3 727.0,534.5" fill="none" stroke="#1a98d4" stroke-width="4.5" stroke-linejoin="round"/>
<polyline points="807.0,568.5 808.0,566.7 809.0,569.3 810.0,575.5" fill="none" stroke="#1a98d4" stroke-width="4.5" stroke-linejoin="round"/>
<polyline points="818.0,571.8 819.0,565.6 820.0,562.4 821.0,560.2" fill="none" stroke="#1a98d4" stroke-width="4.5" stroke-linejoin="round"/>
<polyline points="894.0,570.6 895.0,571.0 896.0,574.2 897.0,580.5" fill="none" stroke="#1a98d4" stroke-width="4.5" stroke-linejoin="round"/>
<polyline points="905.0,572.0 906.0,568.8 907.0,565.9 908.0,561.0" fill="none" stroke="#1a98d4" stroke-width="4.5" stroke-linejoin="round"/>
<polyline points="986.0,564.6 987.0,567.2 988.0,569.8 989.0,575.7" fill="none" stroke="#1a98d4" stroke-width="4.5" stroke-linejoin="round"/>
<polyline points="997.0,574.0 998.0,568.4 999.0,563.4 1000.0,562.3" fill="none" stroke="#1a98d4" stroke-width="4.5" stroke-linejoin="round"/>
<polyline points="1088.0,570.3 1089.0,570.5 1090.0,571.4 1091.0,578.1 1092.0,585.8 1093.0,593.6 1094.0,603.1 1095.0,612.3 1096.0,619.0 1097.0,622.8 1098.0,618.8 1099.0,611.8 1100.0,597.0 1101.0,586.4 1102.0,580.9 1103.0,578.6 1104.0,574.9" fill="none" stroke="#1a98d4" stroke-width="4.5" stroke-linejoin="round"/>
<polyline points="139.0,583.6 140.0,583.0 141.0,575.5 142.0,569.9 143.0,565.2 144.0,558.0 145.0,555.7" fill="none" stroke="#1a98d4" stroke-width="2.4" stroke-linejoin="round"/>
<polyline points="157.0,563.6 158.0,564.4 159.0,567.9 160.0,572.4 161.0,584.9 162.0,611.0 163.0,650.4 164.0,680.2 165.0,675.9" fill="none" stroke="#1a98d4" stroke-width="2.4" stroke-linejoin="round"/>
<polyline points="167.0,602.9 168.0,580.5 169.0,571.2 170.0,566.7 171.0,558.4 172.0,553.5 173.0,547.9 174.0,541.1" fill="none" stroke="#1a98d4" stroke-width="2.4" stroke-linejoin="round"/>
<polyline points="237.0,569.8 238.0,572.6 239.0,573.6 240.0,584.3 241.0,606.9 242.0,638.1 243.0,662.7 244.0,661.0 245.0,630.3 246.0,600.3 247.0,578.3 248.0,569.9 249.0,564.1 250.0,560.6 251.0,556.5" fill="none" stroke="#1a98d4" stroke-width="2.4" stroke-linejoin="round"/>
<polyline points="346.0,565.5 347.0,568.2 348.0,567.4 349.0,575.2 350.0,592.8" fill="none" stroke="#1a98d4" stroke-width="2.4" stroke-linejoin="round"/>
<polyline points="352.0,668.2 353.0,687.0 354.0,669.3" fill="none" stroke="#1a98d4" stroke-width="2.4" stroke-linejoin="round"/>
<polyline points="356.0,592.4 357.0,575.4 358.0,566.9 359.0,562.6 360.0,559.9 361.0,554.1 362.0,548.7 363.0,542.2 364.0,538.3 365.0,538.6" fill="none" stroke="#1a98d4" stroke-width="2.4" stroke-linejoin="round"/>
<polyline points="419.0,571.6 420.0,572.6 421.0,576.2 422.0,581.5 423.0,590.8 424.0,600.5 425.0,613.6 426.0,623.2 427.0,621.8 428.0,618.7 429.0,612.5 430.0,600.8 431.0,590.5 432.0,581.7 433.0,576.5 434.0,571.0" fill="none" stroke="#1a98d4" stroke-width="2.4" stroke-linejoin="round"/>
<polyline points="506.0,562.8 507.0,566.7 508.0,569.1 509.0,575.4 510.0,597.5" fill="none" stroke="#1a98d4" stroke-width="2.4" stroke-linejoin="round"/>
<polyline points="516.0,596.3 517.0,575.6 518.0,566.0 519.0,561.6 520.0,557.2 521.0,554.1 522.0,543.8 523.0,537.5 524.0,530.7 525.0,531.5" fill="none" stroke="#1a98d4" stroke-width="2.4" stroke-linejoin="round"/>
<polyline points="599.0,567.9 600.0,571.1 601.0,573.6 602.0,578.0 603.0,593.5" fill="none" stroke="#1a98d4" stroke-width="2.4" stroke-linejoin="round"/>
<polyline points="605.0,667.8 606.0,685.5 607.0,667.2" fill="none" stroke="#1a98d4" stroke-width="2.4" stroke-linejoin="round"/>
<polyline points="609.0,596.2 610.0,578.1 611.0,569.5 612.0,565.7 613.0,560.5 614.0,559.5 615.0,551.1 616.0,542.9 617.0,541.4 618.0,540.7" fill="none" stroke="#1a98d4" stroke-width="2.4" stroke-linejoin="round"/>
<polyline points="708.0,567.2 709.0,569.9 710.0,571.9 711.0,576.5 712.0,590.9 713.0,620.2 714.0,653.1 715.0,669.5 716.0,654.3 717.0,623.0 718.0,591.3 719.0,575.0 720.0,568.8 721.0,563.3 722.0,557.7 723.0,555.7 724.0,546.9 725.0,541.1 726.0,535.3 727.0,534.5" fill="none" stroke="#1a98d4" stroke-width="2.4" stroke-linejoin="round"/>
<polyline points="807.0,568.5 808.0,566.7 809.0,569.3 810.0,575.5 811.0,594.1" fill="none" stroke="#1a98d4" stroke-width="2.4" stroke-linejoin="round"/>
<polyline points="813.0,665.0 814.0,680.4 815.0,659.9" fill="none" stroke="#1a98d4" stroke-width="2.4" stroke-linejoin="round"/>
<polyline points="817.0,587.4 818.0,571.8 819.0,565.6 820.0,562.4 821.0,560.2" fill="none" stroke="#1a98d4" stroke-width="2.4" stroke-linejoin="round"/>
<polyline points="894.0,570.6 895.0,571.0 896.0,574.2 897.0,580.5 898.0,596.4 899.0,627.5 900.0,656.2 901.0,661.2 902.0,639.7 903.0,608.0 904.0,583.8 905.0,572.0 906.0,568.8 907.0,565.9 908.0,561.0" fill="none" stroke="#1a98d4" stroke-width="2.4" stroke-linejoin="round"/>
<polyline points="986.0,564.6 987.0,567.2 988.0,569.8 989.0,575.7 990.0,592.4 991.0,624.4 992.0,661.2 993.0,678.7 994.0,661.5 995.0,624.4 996.0,590.6 997.0,574.0 998.0,568.4 999.0,563.4 1000.0,562.3" fill="none" stroke="#1a98d4" stroke-width="2.4" stroke-linejoin="round"/>
<polyline points="1088.0,570.3 1089.0,570.5 1090.0,571.4 1091.0,578.1 1092.0,585.8 1093.0,593.6 1094.0,603.1 1095.0,612.3 1096.0,619.0 1097.0,622.8 1098.0,618.8 1099.0,611.8 1100.0,597.0 1101.0,586.4 1102.0,580.9 1103.0,578.6 1104.0,574.9" fill="none" stroke="#1a98d4" stroke-width="2.4" stroke-linejoin="round"/>
<polyline points="119.0,771.5 120.0,770.5 121.0,770.1 122.0,770.7 123.0,772.2 124.0,773.9 125.0,774.4 126.0,774.3 127.0,773.7 128.0,772.8 129.0,772.2 130.0,772.4 131.0,772.3 132.0,772.4 133.0,772.6 134.0,773.3 135.0,774.5 136.0,774.9 137.0,775.1 138.0,775.6 139.0,775.3 140.0,775.1 141.0,775.3 142.0,775.6 143.0,775.7 144.0,775.0 145.0,774.2 146.0,774.4 147.0,778.7 148.0,791.5 149.0,808.3 150.0,811.9 151.0,797.9 152.0,782.7 153.0,775.4 154.0,773.0 155.0,771.6 156.0,770.2 157.0,769.5 158.0,770.6 159.0,772.1 160.0,772.2 161.0,772.2 162.0,772.2 163.0,771.4 164.0,771.6 165.0,773.0 166.0,774.1 167.0,774.3 168.0,774.7 169.0,774.4 170.0,773.3 171.0,772.5 172.0,771.4 173.0,771.2 174.0,772.4 175.0,772.4 176.0,772.1 177.0,772.9 178.0,773.0 179.0,772.1 180.0,770.9 181.0,770.1 182.0,770.7 183.0,771.2 184.0,770.5 185.0,770.5 186.0,770.4 187.0,770.0 188.0,770.2 189.0,769.7 190.0,768.2 191.0,766.6 192.0,765.0 193.0,763.6 194.0,762.1 195.0,761.2 196.0,760.5 197.0,758.2 198.0,755.5 199.0,755.4 200.0,757.1 201.0,759.0 202.0,761.6 203.0,764.3 204.0,766.1 205.0,768.8 206.0,775.0 207.0,789.6 208.0,820.9 209.0,861.3 210.0,877.9 211.0,852.9 212.0,810.6 213.0,781.8 214.0,770.2 215.0,765.9 216.0,762.5 217.0,760.1 218.0,759.0 219.0,758.4 220.0,757.4 221.0,756.5 222.0,755.8 223.0,755.8 224.0,756.8 225.0,758.5 226.0,760.9 227.0,763.4 228.0,765.0 229.0,767.2 230.0,769.3 231.0,769.8 232.0,769.8 233.0,770.1 234.0,771.3 235.0,772.4 236.0,772.2 237.0,771.3 238.0,770.7 239.0,771.0 240.0,772.4 241.0,772.8 242.0,771.8 243.0,771.6 244.0,773.1 245.0,773.7 246.0,773.2 247.0,772.5 248.0,771.9 249.0,772.3 250.0,772.6 251.0,771.9 252.0,771.8 253.0,772.2 254.0,771.6 255.0,770.3 256.0,770.6 257.0,772.5 258.0,773.5 259.0,773.0 260.0,772.7 261.0,772.4 262.0,772.3 263.0,772.7 264.0,771.9 265.0,771.2 266.0,771.8 267.0,771.7 268.0,770.7 269.0,770.4 270.0,770.8 271.0,770.6 272.0,771.2 273.0,772.2 274.0,772.1 275.0,771.2 276.0,771.2 277.0,770.8 278.0,770.5 279.0,772.0 280.0,774.0 281.0,775.8 282.0,778.4 283.0,781.0 284.0,783.2 285.0,784.3 286.0,783.3 287.0,780.2 288.0,777.2 289.0,775.0 290.0,773.1 291.0,772.4 292.0,772.4 293.0,772.2 294.0,771.2 295.0,770.5 296.0,770.7 297.0,771.3 298.0,770.9 299.0,769.7 300.0,769.6 301.0,770.7 302.0,771.9 303.0,772.2 304.0,771.9 305.0,771.7 306.0,770.9 307.0,770.2 308.0,769.5 309.0,769.9 310.0,771.4 311.0,771.5 312.0,770.9 313.0,771.8 314.0,772.8 315.0,772.7 316.0,773.3 317.0,773.7 318.0,773.6 319.0,773.5 320.0,773.6 321.0,774.2 322.0,775.1 323.0,774.8 324.0,773.5 325.0,772.4 326.0,772.7 327.0,773.0 328.0,773.8 329.0,775.5 330.0,776.2 331.0,775.6 332.0,776.0 333.0,776.0 334.0,774.9 335.0,774.7 336.0,774.5 337.0,773.9 338.0,774.2 339.0,774.5 340.0,774.5 341.0,773.9 342.0,773.8 343.0,774.7 344.0,774.6 345.0,773.3 346.0,773.7 347.0,774.5 348.0,774.5 349.0,774.0 350.0,773.5 351.0,772.5 352.0,772.7 353.0,774.2 354.0,775.3 355.0,775.4 356.0,777.0 357.0,782.1 358.0,787.7 359.0,787.2 360.0,782.2 361.0,777.7 362.0,775.0 363.0,773.9 364.0,774.5 365.0,775.7 366.0,776.1 367.0,775.8 368.0,775.0 369.0,773.7 370.0,772.7 371.0,771.8 372.0,771.9 373.0,773.2 374.0,774.8 375.0,775.1 376.0,774.8 377.0,773.4 378.0,772.0 379.0,771.5 380.0,771.0 381.0,770.2 382.0,769.9 383.0,770.0 384.0,770.9 385.0,771.7 386.0,772.5 387.0,773.9 388.0,773.9 389.0,772.7 390.0,772.2 391.0,772.3 392.0,770.9 393.0,769.7 394.0,770.4 395.0,770.9 396.0,770.5 397.0,770.8 398.0,769.9 399.0,768.9 400.0,769.3 401.0,769.3 402.0,768.7 403.0,768.4 404.0,767.7 405.0,767.2 406.0,766.5 407.0,765.3 408.0,763.5 409.0,762.2 410.0,761.1 411.0,759.9 412.0,759.4 413.0,759.4 414.0,759.7 415.0,761.1 416.0,762.5 417.0,763.3 418.0,764.3 419.0,766.5 420.0,770.0 421.0,777.0 422.0,795.8 423.0,831.7 424.0,868.4 425.0,872.8 426.0,839.9 427.0,800.9 428.0,778.9 429.0,770.7 430.0,766.5 431.0,762.5 432.0,759.5 433.0,757.8 434.0,756.6 435.0,755.7 436.0,756.3 437.0,757.0 438.0,757.8 439.0,759.8 440.0,761.5 441.0,761.9 442.0,761.9 443.0,763.0 444.0,765.0 445.0,766.7 446.0,768.5 447.0,770.7 448.0,772.1 449.0,771.4 450.0,770.3 451.0,770.8 452.0,771.5 453.0,771.9 454.0,772.7 455.0,773.4 456.0,773.1 457.0,773.3 458.0,773.6 459.0,773.7 460.0,773.2 461.0,772.6 462.0,772.3 463.0,772.0 464.0,772.3 465.0,773.2 466.0,774.2 467.0,774.1 468.0,773.5 469.0,773.1 470.0,772.8 471.0,773.3 472.0,774.0 473.0,773.0 474.0,771.3 475.0,769.9 476.0,769.8 477.0,770.7 478.0,771.0 479.0,770.7 480.0,770.6 481.0,770.8 482.0,772.1 483.0,773.6 484.0,774.6 485.0,774.9 486.0,775.0 487.0,774.0 488.0,772.8 489.0,773.0 490.0,773.7 491.0,774.2 492.0,774.8 493.0,774.9 494.0,773.8 495.0,773.0 496.0,772.9 497.0,772.6 498.0,771.5 499.0,771.5 500.0,772.4 501.0,772.9 502.0,773.2 503.0,773.2 504.0,772.1 505.0,772.0 506.0,773.6 507.0,774.6 508.0,775.1 509.0,776.7 510.0,777.7 511.0,775.8 512.0,773.5 513.0,773.2 514.0,774.2 515.0,774.7 516.0,773.6 517.0,772.8 518.0,773.4 519.0,773.9 520.0,773.6 521.0,772.5 522.0,771.6 523.0,772.2 524.0,772.9 525.0,772.8 526.0,772.7 527.0,773.0 528.0,773.1 529.0,773.1 530.0,773.3 531.0,773.3 532.0,772.7 533.0,771.7 534.0,771.4 535.0,772.7 536.0,773.1 537.0,771.7 538.0,771.4 539.0,772.9 540.0,773.4 541.0,772.7 542.0,773.0 543.0,773.3 544.0,772.8 545.0,772.7 546.0,772.5 547.0,772.0 548.0,771.8 549.0,772.1 550.0,772.4 551.0,772.5 552.0,773.2 553.0,774.2 554.0,773.6 555.0,772.8 556.0,772.8 557.0,772.0 558.0,771.1 559.0,770.9 560.0,771.1 561.0,772.0 562.0,773.0 563.0,773.1 564.0,772.6 565.0,772.6 566.0,773.6 567.0,773.6 568.0,772.0 569.0,771.0 570.0,771.1 571.0,771.1 572.0,770.3 573.0,769.8 574.0,770.2 575.0,771.0 576.0,772.5 577.0,773.2 578.0,772.3 579.0,770.4 580.0,770.3 581.0,771.8 582.0,771.8 583.0,771.2 584.0,771.9 585.0,772.9 586.0,772.9 587.0,772.0 588.0,771.4 589.0,772.3 590.0,773.0 591.0,772.2 592.0,771.9 593.0,772.5 594.0,773.1 595.0,773.6 596.0,773.5 597.0,773.6 598.0,774.1 599.0,774.1 600.0,773.8 601.0,774.0 602.0,773.9 603.0,773.2 604.0,772.0 605.0,771.7 606.0,772.1 607.0,772.2 608.0,771.9 609.0,770.9 610.0,770.2 611.0,770.8 612.0,771.2 613.0,770.8 614.0,771.4 615.0,771.4 616.0,771.8 617.0,773.0 618.0,773.1 619.0,772.0 620.0,771.2 621.0,771.0 622.0,772.2 623.0,773.6 624.0,774.2 625.0,773.2 626.0,771.4 627.0,770.7 628.0,770.5 629.0,769.8 630.0,768.9 631.0,768.0 632.0,767.0 633.0,766.6 634.0,766.9 635.0,767.3 636.0,768.3 637.0,770.6 638.0,771.3 639.0,770.0 640.0,772.0 641.0,782.7 642.0,801.6 643.0,813.3 644.0,804.4 645.0,786.1 646.0,774.0 647.0,769.2 648.0,768.1 649.0,766.4 650.0,765.3 651.0,765.3 652.0,764.6 653.0,764.5 654.0,765.9 655.0,766.6 656.0,767.2 657.0,768.3 658.0,768.9 659.0,769.9 660.0,770.2 661.0,770.1 662.0,770.4 663.0,770.8 664.0,770.4 665.0,770.6 666.0,770.5 667.0,769.7 668.0,770.0 669.0,770.4 670.0,769.8 671.0,769.8 672.0,770.3 673.0,771.1 674.0,772.8 675.0,773.3 676.0,772.3 677.0,772.0 678.0,771.9 679.0,771.1 680.0,769.8 681.0,769.3 682.0,769.6 683.0,769.8 684.0,769.3 685.0,768.8 686.0,769.0 687.0,769.8 688.0,770.4 689.0,770.8 690.0,771.3 691.0,771.0 692.0,771.0 693.0,772.2 694.0,772.9 695.0,772.9 696.0,773.4 697.0,774.2 698.0,773.3 699.0,771.1 700.0,770.9 701.0,771.8 702.0,771.8 703.0,771.5 704.0,772.4 705.0,773.6 706.0,773.6 707.0,772.8 708.0,772.9 709.0,774.1 710.0,774.6 711.0,774.3 712.0,773.8 713.0,772.9 714.0,772.7 715.0,772.9 716.0,772.8 717.0,772.6 718.0,772.3 719.0,772.1 720.0,772.5 721.0,771.8 722.0,770.5 723.0,769.8 724.0,770.1 725.0,770.9 726.0,771.1 727.0,770.9 728.0,771.5 729.0,772.0 730.0,772.2 731.0,772.2 732.0,772.9 733.0,773.6 734.0,772.8 735.0,772.1 736.0,771.9 737.0,772.0 738.0,772.2 739.0,771.8 740.0,771.5 741.0,772.1 742.0,772.6 743.0,772.6 744.0,772.9 745.0,773.2 746.0,773.7 747.0,773.3 748.0,771.2 749.0,769.7 750.0,769.5 751.0,769.2 752.0,769.5 753.0,770.4 754.0,770.0 755.0,768.4 756.0,767.8 757.0,767.8 758.0,768.2 759.0,770.3 760.0,772.0 761.0,772.3 762.0,771.7 763.0,771.0 764.0,770.0 765.0,769.0 766.0,768.7 767.0,767.4 768.0,765.6 769.0,764.2 770.0,762.5 771.0,761.4 772.0,760.5 773.0,759.7 774.0,759.6 775.0,759.9 776.0,761.2 777.0,764.1 778.0,766.8 779.0,768.5 780.0,772.8 781.0,785.1 782.0,813.2 783.0,853.0 784.0,874.1 785.0,853.9 786.0,814.1 787.0,786.2 788.0,774.7 789.0,769.3 790.0,765.0 791.0,761.0 792.0,758.9 793.0,758.1 794.0,757.4 795.0,758.1 796.0,759.0 797.0,760.1 798.0,761.9 799.0,764.1 800.0,765.8 801.0,766.8 802.0,767.0 803.0,767.1 804.0,768.2 805.0,770.4 806.0,771.1 807.0,770.8 808.0,771.1 809.0,771.1 810.0,771.0 811.0,771.9 812.0,772.7 813.0,772.7 814.0,772.9 815.0,773.5 816.0,773.8 817.0,772.7 818.0,771.6 819.0,772.0 820.0,774.0 821.0,775.7 822.0,775.3 823.0,774.2 824.0,773.8 825.0,773.6 826.0,772.8 827.0,771.9 828.0,772.3 829.0,771.9 830.0,771.2 831.0,771.5 832.0,772.0 833.0,772.9 834.0,774.5 835.0,775.1 836.0,774.4 837.0,773.1 838.0,772.9 839.0,773.8 840.0,774.6 841.0,774.1 842.0,773.1 843.0,773.3 844.0,774.1 845.0,774.0 846.0,773.8 847.0,773.8 848.0,774.9 849.0,775.4 850.0,774.5 851.0,773.3 852.0,772.2 853.0,771.2 854.0,771.1 855.0,770.7 856.0,769.8 857.0,770.2 858.0,771.0 859.0,770.6 860.0,771.3 861.0,772.7 862.0,773.8 863.0,774.6 864.0,774.9 865.0,774.4 866.0,773.4 867.0,772.9 868.0,773.3 869.0,773.2 870.0,772.6 871.0,772.0 872.0,771.8 873.0,771.2 874.0,770.0 875.0,769.5 876.0,771.4 877.0,773.9 878.0,777.1 879.0,780.5 880.0,782.3 881.0,780.4 882.0,776.3 883.0,772.6 884.0,771.0 885.0,770.5 886.0,771.0 887.0,770.8 888.0,770.4 889.0,770.8 890.0,771.8 891.0,773.4 892.0,774.1 893.0,772.9 894.0,771.7 895.0,770.8 896.0,770.5 897.0,770.8 898.0,771.0 899.0,771.3 900.0,772.2 901.0,773.1 902.0,772.8 903.0,772.3 904.0,772.0 905.0,771.8 906.0,771.7 907.0,772.1 908.0,771.7 909.0,771.2 910.0,770.8 911.0,771.0 912.0,771.0 913.0,771.7 914.0,772.6 915.0,772.2 916.0,771.5 917.0,771.9 918.0,772.1 919.0,770.9 920.0,769.6 921.0,769.6 922.0,769.8 923.0,770.2 924.0,770.5 925.0,770.7 926.0,771.2 927.0,772.8 928.0,773.7 929.0,773.5 930.0,773.4 931.0,773.6 932.0,773.5 933.0,773.3 934.0,772.2 935.0,771.0 936.0,770.1 937.0,770.3 938.0,771.1 939.0,771.1 940.0,770.4 941.0,769.7 942.0,770.0 943.0,771.6 944.0,773.1 945.0,772.9 946.0,771.0 947.0,770.4 948.0,771.5 949.0,771.9 950.0,771.4 951.0,771.2 952.0,770.8 953.0,770.5 954.0,770.5 955.0,771.3 956.0,772.8 957.0,773.7 958.0,773.5 959.0,772.4 960.0,772.0 961.0,772.9 962.0,773.9 963.0,774.4 964.0,773.6 965.0,772.8 966.0,772.6 967.0,773.2 968.0,773.7 969.0,772.9 970.0,770.8 971.0,769.7 972.0,768.9 973.0,768.1 974.0,768.1 975.0,768.6 976.0,769.2 977.0,768.4 978.0,767.3 979.0,767.4 980.0,767.7 981.0,766.8 982.0,765.2 983.0,763.7 984.0,763.7 985.0,764.8 986.0,766.3 987.0,769.1 988.0,771.4 989.0,772.2 990.0,772.5 991.0,775.2 992.0,783.5 993.0,802.0 994.0,821.8 995.0,825.9 996.0,811.4 997.0,791.6 998.0,777.2 999.0,770.7 1000.0,767.9 1001.0,765.3 1002.0,763.7 1003.0,763.2 1004.0,762.3 1005.0,762.2 1006.0,763.5 1007.0,765.0 1008.0,765.9 1009.0,765.8 1010.0,764.8 1011.0,764.3 1012.0,764.6 1013.0,765.3 1014.0,766.7 1015.0,767.6 1016.0,768.0 1017.0,769.4 1018.0,770.6 1019.0,770.9 1020.0,771.3 1021.0,771.3 1022.0,770.2 1023.0,770.5 1024.0,771.1 1025.0,770.8 1026.0,771.7 1027.0,772.9 1028.0,772.8 1029.0,771.7 1030.0,770.7 1031.0,771.5 1032.0,772.6 1033.0,772.3 1034.0,771.4 1035.0,770.9 1036.0,770.3 1037.0,769.5 1038.0,769.2 1039.0,769.4 1040.0,769.9 1041.0,770.8 1042.0,771.1 1043.0,771.3 1044.0,771.9 1045.0,772.0 1046.0,772.4 1047.0,773.1 1048.0,772.8 1049.0,772.2 1050.0,771.3 1051.0,770.9 1052.0,771.5 1053.0,772.0 1054.0,771.9 1055.0,771.3 1056.0,770.7 1057.0,770.7 1058.0,771.1 1059.0,771.1 1060.0,770.3 1061.0,770.5 1062.0,771.3 1063.0,771.5 1064.0,770.5 1065.0,770.5 1066.0,771.4 1067.0,771.5 1068.0,770.9 1069.0,770.3 1070.0,769.1 1071.0,767.7 1072.0,767.9 1073.0,769.2 1074.0,770.3 1075.0,770.9 1076.0,771.9 1077.0,775.2 1078.0,784.5 1079.0,803.1 1080.0,815.2 1081.0,804.7 1082.0,785.5 1083.0,774.8 1084.0,771.3 1085.0,769.8 1086.0,768.3 1087.0,766.5 1088.0,764.0 1089.0,763.3 1090.0,764.2 1091.0,763.7 1092.0,763.1 1093.0,764.0 1094.0,765.8 1095.0,767.3 1096.0,767.8 1097.0,769.1 1098.0,770.8 1099.0,771.3 1100.0,771.9 1101.0,772.2 1102.0,771.8 1103.0,772.4 1104.0,773.8 1105.0,773.9 1106.0,773.3 1107.0,773.3 1108.0,774.1 1109.0,774.6 1110.0,773.7 1111.0,772.5 1112.0,772.3 1113.0,772.3 1114.0,772.8 1115.0,772.7 1116.0,772.4 1117.0,773.5" fill="none" stroke="#58aa8a" stroke-width="2.40" stroke-linejoin="round"/>
<polyline points="119.0,769.3 120.0,770.1 121.0,769.4 122.0,771.9 123.0,772.8 124.0,774.7 125.0,773.2 126.0,772.7 127.0,773.5 128.0,773.3 129.0,772.2 130.0,771.6 131.0,773.2 132.0,772.5 133.0,772.0 134.0,773.5 135.0,774.9 136.0,774.6 137.0,774.1 138.0,776.8 139.0,774.5 140.0,776.3 141.0,776.0 142.0,777.7 143.0,775.8 144.0,773.6 145.0,773.6 146.0,774.0" fill="none" stroke="#1a8052" stroke-width="6.0" stroke-linejoin="round"/>
<polyline points="153.0,776.7 154.0,773.3 155.0,771.3 156.0,770.3 157.0,769.3 158.0,770.7 159.0,771.4 160.0,772.1 161.0,772.2 162.0,771.8 163.0,771.1 164.0,773.1 165.0,774.0 166.0,774.4 167.0,774.5 168.0,776.0 169.0,774.8 170.0,774.4 171.0,773.2 172.0,771.4 173.0,772.1 174.0,771.2 175.0,772.1 176.0,771.8 177.0,773.4 178.0,772.5 179.0,771.5 180.0,771.9 181.0,769.6 182.0,770.3 183.0,771.9 184.0,771.5 185.0,770.0 186.0,770.5 187.0,769.9 188.0,769.8 189.0,769.7 190.0,769.6 191.0,768.2 192.0,767.0 193.0,762.6 194.0,760.2 195.0,759.6 196.0,759.6 197.0,758.5 198.0,755.4 199.0,757.2 200.0,756.8 201.0,758.5 202.0,760.3 203.0,763.3 204.0,766.4 205.0,769.3" fill="none" stroke="#1a8052" stroke-width="6.0" stroke-linejoin="round"/>
<polyline points="215.0,766.1 216.0,762.9 217.0,758.8 218.0,759.6 219.0,758.2 220.0,758.4 221.0,758.3 222.0,756.9 223.0,755.2 224.0,756.8 225.0,757.8 226.0,761.1 227.0,763.9 228.0,765.7 229.0,767.1 230.0,768.8 231.0,770.7 232.0,769.8 233.0,771.5 234.0,771.0 235.0,772.1 236.0,772.2 237.0,770.3 238.0,771.2 239.0,772.7 240.0,772.9 241.0,772.6 242.0,772.0 243.0,771.1 244.0,774.8 245.0,774.4 246.0,771.1 247.0,773.0 248.0,771.4 249.0,770.8 250.0,773.5 251.0,771.1 252.0,772.5 253.0,772.0 254.0,771.7 255.0,770.7 256.0,771.1 257.0,772.5 258.0,773.2 259.0,774.5 260.0,773.2 261.0,774.0 262.0,768.9 263.0,772.3 264.0,769.9 265.0,770.4 266.0,770.2 267.0,770.4 268.0,770.9 269.0,769.1 270.0,769.9 271.0,770.9 272.0,771.2 273.0,772.5 274.0,772.4 275.0,771.8 276.0,772.2 277.0,770.0 278.0,771.2 279.0,771.9 280.0,774.0 281.0,775.9 282.0,779.9 283.0,780.2 284.0,784.2 285.0,783.7 286.0,783.4 287.0,782.0 288.0,777.6 289.0,775.9 290.0,772.4 291.0,773.3 292.0,772.2 293.0,772.5 294.0,772.8 295.0,770.7 296.0,770.1 297.0,771.1 298.0,773.1 299.0,769.7 300.0,771.3 301.0,770.4 302.0,772.6 303.0,772.6 304.0,772.1 305.0,771.6 306.0,770.4 307.0,769.5 308.0,770.3 309.0,769.8 310.0,771.3 311.0,771.1 312.0,771.9 313.0,773.5 314.0,772.1 315.0,773.2 316.0,772.3 317.0,774.5 318.0,772.9 319.0,773.6 320.0,773.2 321.0,775.3 322.0,775.0 323.0,775.6 324.0,773.7 325.0,773.8 326.0,772.3 327.0,773.5 328.0,774.9 329.0,774.7 330.0,775.8 331.0,773.6 332.0,774.5 333.0,776.8 334.0,774.8 335.0,776.7 336.0,774.5 337.0,772.4 338.0,773.7 339.0,774.9 340.0,775.0 341.0,775.6 342.0,774.8 343.0,774.5 344.0,773.8 345.0,773.0 346.0,773.2 347.0,775.1 348.0,773.0 349.0,773.5 350.0,774.7 351.0,772.7 352.0,771.9 353.0,773.5 354.0,774.2 355.0,776.2 356.0,776.5" fill="none" stroke="#1a8052" stroke-width="6.0" stroke-linejoin="round"/>
<polyline points="358.0,789.3 359.0,787.3 360.0,781.5 361.0,777.4 362.0,775.8 363.0,775.8 364.0,774.4 365.0,775.2 366.0,776.7 367.0,774.3 368.0,774.5 369.0,773.6 370.0,773.1 371.0,771.3 372.0,771.6 373.0,773.2 374.0,775.2 375.0,775.1 376.0,774.4 377.0,773.2 378.0,773.0 379.0,771.3 380.0,771.3 381.0,770.9 382.0,770.0 383.0,769.6 384.0,772.5 385.0,772.6 386.0,771.4 387.0,772.4 388.0,773.2 389.0,772.9 390.0,773.0 391.0,774.2 392.0,771.6 393.0,770.5 394.0,770.2 395.0,769.8 396.0,770.4 397.0,772.4 398.0,770.2 399.0,768.1 400.0,770.2 401.0,769.9 402.0,768.4 403.0,766.0 404.0,767.2 405.0,767.9 406.0,766.5 407.0,766.1 408.0,762.4 409.0,763.5 410.0,762.1 411.0,760.0 412.0,760.9 413.0,760.4 414.0,759.7 415.0,759.7 416.0,762.4 417.0,762.6 418.0,763.5 419.0,765.7 420.0,771.5" fill="none" stroke="#1a8052" stroke-width="6.0" stroke-linejoin="round"/>
<polyline points="429.0,771.4 430.0,766.9 431.0,762.9 432.0,761.0 433.0,758.9 434.0,756.5 435.0,757.0 436.0,755.7 437.0,755.5 438.0,757.7 439.0,760.2 440.0,761.5 441.0,761.1 442.0,761.2 443.0,763.2 444.0,764.1 445.0,767.0 446.0,770.6 447.0,770.4 448.0,771.7 449.0,772.6 450.0,770.6 451.0,772.0 452.0,772.2 453.0,771.2 454.0,773.3 455.0,773.4 456.0,773.9 457.0,773.3 458.0,773.8 459.0,772.4 460.0,772.7 461.0,773.2 462.0,771.7 463.0,771.4 464.0,773.3 465.0,772.1 466.0,774.0 467.0,776.2 468.0,774.0 469.0,773.9 470.0,772.9 471.0,771.6 472.0,773.2 473.0,771.4 474.0,772.1 475.0,769.6 476.0,767.1 477.0,770.5 478.0,772.0 479.0,771.3 480.0,770.1 481.0,770.6 482.0,773.5 483.0,774.2 484.0,775.7 485.0,773.7 486.0,775.1 487.0,773.6 488.0,773.0 489.0,772.4 490.0,774.0 491.0,773.8 492.0,775.7 493.0,775.5 494.0,774.4 495.0,774.1 496.0,773.0 497.0,772.9 498.0,771.4 499.0,771.4 500.0,772.0 501.0,773.1 502.0,773.8 503.0,773.7 504.0,773.3 505.0,772.0 506.0,772.8 507.0,774.3 508.0,774.9 509.0,777.7 510.0,777.3 511.0,776.2 512.0,774.5 513.0,772.9 514.0,774.3 515.0,774.5 516.0,773.4 517.0,773.7 518.0,773.5 519.0,771.5 520.0,774.6 521.0,773.1 522.0,770.9 523.0,771.4 524.0,773.1 525.0,773.6 526.0,773.9 527.0,774.8 528.0,774.5 529.0,772.7 530.0,775.4 531.0,772.3 532.0,772.2 533.0,771.7 534.0,770.0 535.0,771.5 536.0,773.9 537.0,772.1 538.0,771.0 539.0,772.6 540.0,773.9 541.0,771.2 542.0,773.4 543.0,772.0 544.0,772.6 545.0,773.9 546.0,772.0 547.0,770.2 548.0,772.5 549.0,773.0 550.0,771.9 551.0,772.7 552.0,771.7 553.0,775.8 554.0,772.4 555.0,773.5 556.0,774.1 557.0,770.1 558.0,769.6 559.0,770.3 560.0,772.0 561.0,772.9 562.0,772.5 563.0,772.0 564.0,773.1 565.0,771.0 566.0,775.0 567.0,773.7 568.0,771.4 569.0,770.7 570.0,771.7 571.0,772.6 572.0,769.5 573.0,769.0 574.0,769.9 575.0,770.3 576.0,773.2 577.0,773.7 578.0,772.8 579.0,771.1 580.0,770.6 581.0,771.0 582.0,772.0 583.0,771.0 584.0,772.6 585.0,772.8 586.0,773.9 587.0,770.8 588.0,771.0 589.0,773.7 590.0,771.9 591.0,772.2 592.0,772.3 593.0,772.2 594.0,773.0 595.0,774.4 596.0,773.4 597.0,773.3 598.0,773.2 599.0,775.6 600.0,776.6 601.0,775.2 602.0,773.1 603.0,771.9 604.0,771.3 605.0,772.4 606.0,770.4 607.0,771.3 608.0,770.5 609.0,770.9 610.0,770.9 611.0,770.8 612.0,771.1 613.0,770.7 614.0,771.7 615.0,771.6 616.0,772.5 617.0,773.7 618.0,773.0 619.0,771.3 620.0,771.0 621.0,772.6 622.0,773.0 623.0,771.7 624.0,774.1 625.0,775.6 626.0,770.2 627.0,771.8 628.0,769.8 629.0,769.6 630.0,768.6 631.0,767.4 632.0,767.3 633.0,765.9 634.0,767.0 635.0,765.8 636.0,768.4 637.0,770.8 638.0,772.3 639.0,771.2 640.0,771.2" fill="none" stroke="#1a8052" stroke-width="6.0" stroke-linejoin="round"/>
<polyline points="647.0,768.0 648.0,769.4 649.0,767.7 650.0,765.7 651.0,763.7 652.0,764.0 653.0,764.9 654.0,767.2 655.0,764.8 656.0,768.5 657.0,769.1 658.0,769.1 659.0,769.6 660.0,768.3 661.0,769.0 662.0,771.1 663.0,770.2 664.0,769.9 665.0,769.3 666.0,770.6 667.0,769.2 668.0,769.6 669.0,771.1 670.0,769.3 671.0,768.3 672.0,770.9 673.0,771.9 674.0,771.8 675.0,773.3 676.0,772.5 677.0,771.7 678.0,772.4 679.0,770.5 680.0,770.8 681.0,770.6 682.0,769.0 683.0,769.7 684.0,768.6 685.0,770.0 686.0,770.2 687.0,770.4 688.0,769.7 689.0,772.0 690.0,771.7 691.0,772.2 692.0,770.2 693.0,772.3 694.0,773.0 695.0,775.0 696.0,772.3 697.0,774.2 698.0,773.7 699.0,770.5 700.0,771.7 701.0,770.8 702.0,772.2 703.0,772.4 704.0,773.1 705.0,773.8 706.0,772.6 707.0,774.1 708.0,773.0 709.0,773.9 710.0,773.5 711.0,774.0 712.0,774.8 713.0,772.4 714.0,772.8 715.0,773.2 716.0,771.5 717.0,773.5 718.0,774.0 719.0,772.6 720.0,771.6 721.0,772.5 722.0,770.7 723.0,769.2 724.0,769.4 725.0,770.1 726.0,771.0 727.0,773.1 728.0,770.3 729.0,773.1 730.0,772.4 731.0,772.3 732.0,772.9 733.0,772.9 734.0,773.0 735.0,772.3 736.0,771.8 737.0,770.6 738.0,771.6 739.0,772.8 740.0,772.6 741.0,773.1 742.0,773.0 743.0,772.5 744.0,772.9 745.0,772.6 746.0,773.3 747.0,772.4 748.0,771.8 749.0,768.8 750.0,768.5 751.0,768.6 752.0,770.1 753.0,770.4 754.0,769.1 755.0,767.2 756.0,766.0 757.0,768.1 758.0,768.8 759.0,769.5 760.0,771.6 761.0,772.7 762.0,770.7 763.0,771.9 764.0,770.6 765.0,768.3 766.0,768.6 767.0,767.7 768.0,765.5 769.0,764.9 770.0,763.5 771.0,761.9 772.0,759.1 773.0,760.5 774.0,761.5 775.0,760.4 776.0,760.4 777.0,764.6 778.0,766.9 779.0,767.2" fill="none" stroke="#1a8052" stroke-width="6.0" stroke-linejoin="round"/>
<polyline points="789.0,769.5 790.0,764.3 791.0,760.4 792.0,757.3 793.0,759.3 794.0,757.9 795.0,757.3 796.0,757.9 797.0,760.1 798.0,761.5 799.0,763.8 800.0,766.0 801.0,766.6 802.0,767.5 803.0,766.5 804.0,768.9 805.0,769.3 806.0,770.5 807.0,771.7 808.0,774.1 809.0,771.2 810.0,770.3 811.0,771.9 812.0,772.1 813.0,773.2 814.0,772.4 815.0,773.6 816.0,773.4 817.0,772.7 818.0,773.0 819.0,771.9 820.0,772.9 821.0,775.5 822.0,776.1 823.0,775.5 824.0,774.7 825.0,773.6 826.0,772.4 827.0,772.3 828.0,772.4 829.0,771.4 830.0,770.6 831.0,770.0 832.0,772.1 833.0,774.1 834.0,776.2 835.0,774.3 836.0,775.3 837.0,772.9 838.0,772.4 839.0,775.3 840.0,775.8 841.0,775.2 842.0,772.9 843.0,774.1 844.0,775.2 845.0,774.7 846.0,773.8 847.0,774.4 848.0,775.5 849.0,776.0 850.0,775.0 851.0,771.9 852.0,771.5 853.0,770.9 854.0,771.7 855.0,771.1 856.0,767.7 857.0,770.7 858.0,771.4 859.0,771.5 860.0,770.1 861.0,773.0 862.0,773.3 863.0,773.6 864.0,772.4 865.0,774.9 866.0,773.3 867.0,772.5 868.0,774.6 869.0,773.0 870.0,772.5 871.0,772.9 872.0,771.7 873.0,772.0 874.0,770.2 875.0,768.6 876.0,770.5 877.0,773.0 878.0,776.1 879.0,779.8 880.0,783.0 881.0,780.9 882.0,776.7 883.0,772.8 884.0,771.3 885.0,770.8 886.0,773.5 887.0,772.7 888.0,771.0 889.0,769.4 890.0,772.6 891.0,774.4 892.0,774.2 893.0,772.8 894.0,772.2 895.0,770.2 896.0,771.5 897.0,771.1 898.0,770.6 899.0,770.4 900.0,773.9 901.0,773.7 902.0,773.0 903.0,773.9 904.0,771.6 905.0,770.9 906.0,772.9 907.0,772.4 908.0,771.8 909.0,770.7 910.0,770.6 911.0,771.8 912.0,770.7 913.0,771.4 914.0,772.1 915.0,772.5 916.0,772.2 917.0,773.3 918.0,772.6 919.0,771.1 920.0,768.5 921.0,768.4 922.0,769.1 923.0,770.9 924.0,771.3 925.0,770.6 926.0,770.3 927.0,771.2 928.0,773.9 929.0,773.6 930.0,775.0 931.0,773.2 932.0,774.5 933.0,773.9 934.0,772.7 935.0,772.1 936.0,770.8 937.0,771.8 938.0,771.3 939.0,771.3 940.0,769.4 941.0,770.0 942.0,770.3 943.0,772.3 944.0,772.3 945.0,772.7 946.0,770.4 947.0,770.8 948.0,771.1 949.0,772.1 950.0,770.4 951.0,771.5 952.0,772.0 953.0,773.1 954.0,772.2 955.0,769.1 956.0,770.5 957.0,773.3 958.0,774.3 959.0,771.8 960.0,773.3 961.0,773.0 962.0,773.9 963.0,774.2 964.0,773.8 965.0,773.1 966.0,772.2 967.0,773.3 968.0,772.9 969.0,771.6 970.0,770.3 971.0,770.3 972.0,766.5 973.0,769.2 974.0,768.1 975.0,768.0 976.0,770.7 977.0,768.1 978.0,767.4 979.0,769.3 980.0,767.0 981.0,767.5 982.0,765.4 983.0,764.6 984.0,764.5 985.0,763.4 986.0,765.7 987.0,767.7 988.0,770.9 989.0,771.8 990.0,772.8 991.0,775.3" fill="none" stroke="#1a8052" stroke-width="6.0" stroke-linejoin="round"/>
<polyline points="999.0,770.0 1000.0,767.6 1001.0,765.8 1002.0,763.3 1003.0,762.9 1004.0,762.0 1005.0,761.9 1006.0,761.7 1007.0,765.0 1008.0,766.7 1009.0,767.3 1010.0,765.9 1011.0,765.5 1012.0,766.0 1013.0,764.9 1014.0,766.4 1015.0,768.9 1016.0,768.8 1017.0,768.5 1018.0,769.7 1019.0,770.7 1020.0,771.6 1021.0,772.6 1022.0,768.9 1023.0,769.4 1024.0,770.3 1025.0,772.0 1026.0,771.0 1027.0,772.2 1028.0,772.4 1029.0,772.7 1030.0,770.4 1031.0,771.7 1032.0,773.0 1033.0,771.6 1034.0,770.7 1035.0,770.3 1036.0,769.9 1037.0,767.9 1038.0,769.6 1039.0,771.1 1040.0,770.5 1041.0,772.3 1042.0,770.1 1043.0,769.4 1044.0,772.6 1045.0,772.8 1046.0,773.1 1047.0,771.1 1048.0,773.6 1049.0,772.2 1050.0,770.7 1051.0,770.8 1052.0,770.9 1053.0,771.6 1054.0,771.1 1055.0,770.3 1056.0,770.5 1057.0,769.2 1058.0,770.6 1059.0,770.4 1060.0,771.8 1061.0,771.3 1062.0,771.1 1063.0,771.9 1064.0,770.4 1065.0,770.0 1066.0,771.6 1067.0,771.7 1068.0,770.0 1069.0,768.2 1070.0,771.3 1071.0,768.6 1072.0,768.0 1073.0,770.5 1074.0,767.9 1075.0,769.7 1076.0,771.5 1077.0,776.0" fill="none" stroke="#1a8052" stroke-width="6.0" stroke-linejoin="round"/>
<polyline points="1084.0,771.5 1085.0,770.9 1086.0,766.4 1087.0,766.6 1088.0,762.8 1089.0,764.3 1090.0,764.2 1091.0,763.7 1092.0,762.3 1093.0,764.3 1094.0,765.3 1095.0,767.2 1096.0,768.8 1097.0,768.0 1098.0,770.2 1099.0,770.4 1100.0,770.8 1101.0,772.9 1102.0,771.1 1103.0,773.1 1104.0,774.8 1105.0,774.3 1106.0,773.8 1107.0,772.2 1108.0,773.8 1109.0,776.0 1110.0,774.6 1111.0,771.8 1112.0,772.5 1113.0,772.4 1114.0,773.6 1115.0,773.4 1116.0,770.9 1117.0,773.6" fill="none" stroke="#1a8052" stroke-width="6.0" stroke-linejoin="round"/>
<polyline points="144.0,773.6 145.0,773.6 146.0,774.0 147.0,778.6" fill="none" stroke="#1a8052" stroke-width="3.7" stroke-linejoin="round"/>
<polyline points="149.0,808.0 150.0,811.3" fill="none" stroke="#1a8052" stroke-width="3.7" stroke-linejoin="round"/>
<polyline points="152.0,781.5 153.0,776.7 154.0,773.3 155.0,771.3" fill="none" stroke="#1a8052" stroke-width="3.7" stroke-linejoin="round"/>
<polyline points="203.0,763.3 204.0,766.4 205.0,769.3 206.0,774.9" fill="none" stroke="#1a8052" stroke-width="3.7" stroke-linejoin="round"/>
<polyline points="214.0,770.5 215.0,766.1 216.0,762.9 217.0,758.8" fill="none" stroke="#1a8052" stroke-width="3.7" stroke-linejoin="round"/>
<polyline points="354.0,774.2 355.0,776.2 356.0,776.5 357.0,781.4 358.0,789.3 359.0,787.3 360.0,781.5" fill="none" stroke="#1a8052" stroke-width="3.7" stroke-linejoin="round"/>
<polyline points="418.0,763.5 419.0,765.7 420.0,771.5 421.0,775.7" fill="none" stroke="#1a8052" stroke-width="3.7" stroke-linejoin="round"/>
<polyline points="428.0,776.9 429.0,771.4 430.0,766.9 431.0,762.9" fill="none" stroke="#1a8052" stroke-width="3.7" stroke-linejoin="round"/>
<polyline points="638.0,772.3 639.0,771.2 640.0,771.2" fill="none" stroke="#1a8052" stroke-width="3.7" stroke-linejoin="round"/>
<polyline points="646.0,774.7 647.0,768.0 648.0,769.4 649.0,767.7" fill="none" stroke="#1a8052" stroke-width="3.7" stroke-linejoin="round"/>
<polyline points="777.0,764.6 778.0,766.9 779.0,767.2 780.0,772.3" fill="none" stroke="#1a8052" stroke-width="3.7" stroke-linejoin="round"/>
<polyline points="788.0,775.6 789.0,769.5 790.0,764.3 791.0,760.4" fill="none" stroke="#1a8052" stroke-width="3.7" stroke-linejoin="round"/>
<polyline points="989.0,771.8 990.0,772.8 991.0,775.3 992.0,783.9" fill="none" stroke="#1a8052" stroke-width="3.7" stroke-linejoin="round"/>
<polyline points="994.0,820.3 995.0,825.3" fill="none" stroke="#1a8052" stroke-width="3.7" stroke-linejoin="round"/>
<polyline points="998.0,776.5 999.0,770.0 1000.0,767.6 1001.0,765.8" fill="none" stroke="#1a8052" stroke-width="3.7" stroke-linejoin="round"/>
<polyline points="1075.0,769.7 1076.0,771.5 1077.0,776.0 1078.0,783.9" fill="none" stroke="#1a8052" stroke-width="3.7" stroke-linejoin="round"/>
<polyline points="1083.0,776.2 1084.0,771.5 1085.0,770.9 1086.0,766.4" fill="none" stroke="#1a8052" stroke-width="3.7" stroke-linejoin="round"/>
<polyline points="144.0,773.6 145.0,773.6 146.0,774.0 147.0,778.6 148.0,792.4 149.0,808.0 150.0,811.3 151.0,797.5 152.0,781.5 153.0,776.7 154.0,773.3 155.0,771.3" fill="none" stroke="#1a8052" stroke-width="2.0" stroke-linejoin="round"/>
<polyline points="203.0,763.3 204.0,766.4 205.0,769.3 206.0,774.9 207.0,789.2" fill="none" stroke="#1a8052" stroke-width="2.0" stroke-linejoin="round"/>
<polyline points="209.0,861.4 210.0,876.7" fill="none" stroke="#1a8052" stroke-width="2.0" stroke-linejoin="round"/>
<polyline points="212.0,810.7 213.0,782.6 214.0,770.5 215.0,766.1 216.0,762.9 217.0,758.8" fill="none" stroke="#1a8052" stroke-width="2.0" stroke-linejoin="round"/>
<polyline points="354.0,774.2 355.0,776.2 356.0,776.5 357.0,781.4 358.0,789.3 359.0,787.3 360.0,781.5" fill="none" stroke="#1a8052" stroke-width="2.0" stroke-linejoin="round"/>
<polyline points="418.0,763.5 419.0,765.7 420.0,771.5 421.0,775.7 422.0,796.3" fill="none" stroke="#1a8052" stroke-width="2.0" stroke-linejoin="round"/>
<polyline points="424.0,867.5 425.0,873.8" fill="none" stroke="#1a8052" stroke-width="2.0" stroke-linejoin="round"/>
<polyline points="427.0,802.2 428.0,776.9 429.0,771.4 430.0,766.9 431.0,762.9" fill="none" stroke="#1a8052" stroke-width="2.0" stroke-linejoin="round"/>
<polyline points="638.0,772.3 639.0,771.2 640.0,771.2 641.0,782.5 642.0,802.7 643.0,814.3 644.0,803.4 645.0,786.5 646.0,774.7 647.0,768.0 648.0,769.4 649.0,767.7" fill="none" stroke="#1a8052" stroke-width="2.0" stroke-linejoin="round"/>
<polyline points="777.0,764.6 778.0,766.9 779.0,767.2 780.0,772.3 781.0,785.1 782.0,812.1 783.0,853.2 784.0,874.7 785.0,853.8 786.0,814.9 787.0,786.3 788.0,775.6 789.0,769.5 790.0,764.3 791.0,760.4" fill="none" stroke="#1a8052" stroke-width="2.0" stroke-linejoin="round"/>
<polyline points="989.0,771.8 990.0,772.8 991.0,775.3 992.0,783.9 993.0,802.9 994.0,820.3 995.0,825.3 996.0,811.2 997.0,790.7 998.0,776.5 999.0,770.0 1000.0,767.6 1001.0,765.8" fill="none" stroke="#1a8052" stroke-width="2.0" stroke-linejoin="round"/>
<polyline points="1075.0,769.7 1076.0,771.5 1077.0,776.0 1078.0,783.9 1079.0,802.8 1080.0,816.3 1081.0,804.4 1082.0,785.3 1083.0,776.2 1084.0,771.5 1085.0,770.9 1086.0,766.4" fill="none" stroke="#1a8052" stroke-width="2.0" stroke-linejoin="round"/>
<polyline points="137.0,954.1 137.5,951.8 138.0,954.4 138.5,951.5 139.0,954.7 139.5,951.9 140.0,954.9 140.5,952.0 141.0,953.9 141.5,950.9 142.0,953.6 142.5,950.6 143.0,953.6 143.5,951.1 144.0,954.1 144.5,951.4 145.0,954.1 145.5,951.5 146.0,954.1 146.5,951.5 147.0,953.9 147.5,951.3 148.0,953.9 148.5,951.2 149.0,954.4 149.5,951.7 150.0,954.0 150.5,951.4 151.0,953.7 151.5,951.2 152.0,953.9 152.5,951.2 153.0,953.4 153.5,950.7 154.0,953.4 154.5,950.9 155.0,953.8 155.5,951.0 156.0,953.6 156.5,950.7 157.0,953.3 157.5,950.6 158.0,953.4 158.5,951.4 159.0,953.8 159.5,951.2 160.0,954.1 160.5,951.6 161.0,954.0 161.5,951.6 162.0,954.4 162.5,951.6 163.0,954.1 163.5,951.4 164.0,954.1 164.5,951.4 165.0,954.5 165.5,952.2 166.0,954.8 166.5,952.5 167.0,955.4 167.5,953.0 168.0,956.1 168.5,953.5 169.0,956.4 169.5,954.5 170.0,957.3 170.5,955.6 171.0,958.9 171.5,957.4 172.0,961.1 172.5,960.2 173.0,963.6 173.5,961.4 174.0,964.4 174.5,962.1 175.0,965.0 175.5,962.5 176.0,964.8 176.5,961.9 177.0,963.9 177.5,960.4 178.0,962.5 178.5,959.3 179.0,961.5 179.5,957.5 180.0,958.8 180.5,955.6 181.0,957.1 181.5,954.5 182.0,956.7 182.5,953.4 183.0,955.4 183.5,952.5 184.0,954.4 184.5,951.1 185.0,953.3 185.5,950.3 186.0,952.1 186.5,949.3 187.0,951.1 187.5,947.4 188.0,949.3 188.5,945.7 189.0,947.8 189.5,944.5 190.0,946.2 190.5,942.9 191.0,945.5 191.5,942.2 192.0,944.3 192.5,941.4 193.0,944.0 193.5,941.6 194.0,943.6 194.5,940.8 195.0,942.9 195.5,939.9 196.0,942.6 196.5,941.0 197.0,945.0 197.5,944.5 198.0,948.2 198.5,947.2 199.0,950.7 199.5,949.2 200.0,952.8 200.5,951.4 201.0,954.7 201.5,953.1 202.0,956.2 202.5,953.9 203.0,957.5 203.5,956.0 204.0,960.2 204.5,960.6 205.0,966.3 205.5,969.6 206.0,976.2 206.5,980.3 207.0,986.7 207.5,987.9 208.0,991.2 208.5,987.4 209.0,986.1 209.5,979.7 210.0,975.8 210.5,968.7 211.0,965.3 211.5,959.6 212.0,958.5 212.5,954.4 213.0,955.2 213.5,951.4 214.0,952.9 214.5,949.5 215.0,950.9 215.5,947.1 216.0,949.1 216.5,945.5 217.0,947.4 217.5,944.4 218.0,946.2 218.5,942.6 219.0,944.4 219.5,941.2 220.0,943.7 220.5,941.1 221.0,944.0 221.5,941.6 222.0,944.8 222.5,942.7 223.0,945.8 223.5,943.9 224.0,946.7 224.5,944.8 225.0,947.9 225.5,945.3 226.0,948.0 226.5,946.1 227.0,948.8 227.5,947.0 228.0,950.3 228.5,948.1 229.0,951.2 229.5,948.8 230.0,951.3 230.5,948.6 231.0,951.2 231.5,949.1 232.0,951.9 232.5,949.6 233.0,952.5 233.5,950.4 234.0,953.5 234.5,950.6 235.0,952.8 235.5,950.3 236.0,952.7 236.5,950.4 237.0,953.4 237.5,950.9 238.0,953.6 238.5,950.8 239.0,953.9 239.5,951.6 240.0,954.2 240.5,951.3 241.0,954.2 241.5,951.5 242.0,954.4 242.5,951.8 243.0,954.6 243.5,952.3 244.0,954.9 244.5,952.1 245.0,954.2 245.5,951.9 246.0,954.6 246.5,952.3 247.0,954.9 247.5,952.2 248.0,955.3 248.5,952.6 249.0,954.9 249.5,952.0 250.0,954.2 250.5,951.5 251.0,953.9 251.5,951.1 252.0,954.0 252.5,951.1 253.0,953.9 253.5,951.2 254.0,954.0 254.5,951.6 255.0,953.9 255.5,951.4 256.0,954.3 256.5,951.6 257.0,953.7 257.5,951.0 258.0,953.7 258.5,951.2 259.0,954.1 259.5,951.9 260.0,954.1 260.5,951.3 261.0,954.1 261.5,951.7 262.0,954.4 262.5,952.0 263.0,955.1 263.5,952.5 264.0,955.2 264.5,952.2 265.0,954.5 265.5,951.4 266.0,954.4 266.5,951.8 267.0,954.5 267.5,951.7 268.0,953.9 268.5,951.1 269.0,953.8 269.5,951.1 270.0,953.4 270.5,951.2 271.0,954.5 271.5,951.7 272.0,954.7 272.5,951.9 273.0,954.5 273.5,952.0 274.0,954.4 274.5,951.8 275.0,954.2 275.5,951.5 276.0,953.9 276.5,951.3 277.0,953.9 277.5,951.6 278.0,954.2 278.5,951.6 279.0,954.1 279.5,951.5 280.0,954.0 280.5,951.6 281.0,954.1 281.5,951.6 282.0,954.2 282.5,951.5 283.0,953.8 283.5,951.3 284.0,954.3 284.5,951.1 285.0,953.7 285.5,950.3 286.0,953.2 286.5,950.6 287.0,953.6 287.5,951.7 288.0,954.9 288.5,952.6 289.0,955.3 289.5,952.4 290.0,955.0 290.5,952.2 291.0,955.1 291.5,952.3 292.0,954.7 292.5,952.0 293.0,954.2 293.5,951.5 294.0,953.7 294.5,951.2 295.0,953.8 295.5,951.4 296.0,953.9 296.5,951.4 297.0,953.9 297.5,950.9 298.0,953.1 298.5,950.7 299.0,953.5 299.5,951.2 300.0,954.9 300.5,953.9 301.0,957.9 301.5,957.3 302.0,961.8 302.5,961.0 303.0,964.6 303.5,962.7 304.0,965.7 304.5,962.3 305.0,964.1 305.5,959.7 306.0,960.3 306.5,956.0 307.0,957.0 307.5,953.4 308.0,955.5 308.5,952.4 309.0,954.5 309.5,951.5 310.0,953.0 310.5,950.1 311.0,952.1 311.5,949.0 312.0,951.1 312.5,948.1 313.0,951.0 313.5,948.1 314.0,951.2 314.5,948.2 315.0,951.2 315.5,948.9 316.0,951.9 316.5,949.7 317.0,952.9 317.5,950.5 318.0,952.6 318.5,950.2 319.0,952.6 319.5,950.4 320.0,953.1 320.5,950.9 321.0,953.9 321.5,951.7 322.0,954.2 322.5,952.2 323.0,954.8 323.5,951.8 324.0,954.3 324.5,951.3 325.0,954.0 325.5,951.1 326.0,953.8 326.5,951.5 327.0,954.6 327.5,951.7 328.0,954.4 328.5,951.8 329.0,954.6 329.5,952.6 330.0,955.2 330.5,952.7 331.0,954.8 331.5,951.5 332.0,954.0 332.5,950.9 333.0,954.1 333.5,952.2 334.0,955.0 334.5,952.9 335.0,955.6 335.5,953.1 336.0,955.8 336.5,953.7 337.0,956.3 337.5,953.6 338.0,955.9 338.5,953.2 339.0,955.7 339.5,953.0 340.0,955.5 340.5,952.2 341.0,954.7 341.5,951.6 342.0,954.2 342.5,952.4 343.0,955.3 343.5,952.5 344.0,954.8 344.5,952.3 345.0,954.6 345.5,952.0 346.0,954.6 346.5,952.2 347.0,954.8 347.5,951.5 348.0,953.6 348.5,950.8 349.0,953.2 349.5,951.2 350.0,954.1 350.5,951.5 351.0,954.2 351.5,952.0 352.0,954.5 352.5,951.5 353.0,954.5 353.5,951.6 354.0,954.4 354.5,951.5 355.0,954.3 355.5,951.9 356.0,954.4 356.5,951.6 357.0,953.7 357.5,951.2 358.0,952.9 358.5,950.3 359.0,952.6 359.5,949.9 360.0,952.4 360.5,950.4 361.0,953.3 361.5,951.2 362.0,953.7 362.5,951.0 363.0,953.4 363.5,950.5 364.0,953.2 364.5,950.4 365.0,953.8 365.5,951.9 366.0,954.7 366.5,952.1 367.0,955.0 367.5,951.9 368.0,954.3 368.5,951.6 369.0,953.2 369.5,950.3 370.0,952.7 370.5,950.1 371.0,952.9 371.5,950.1 372.0,952.7 372.5,949.6 373.0,952.5 373.5,949.8 374.0,952.3 374.5,950.1 375.0,952.6 375.5,949.7 376.0,952.3 376.5,949.7 377.0,951.9 377.5,949.2 378.0,951.5 378.5,948.2 379.0,950.5 379.5,947.7 380.0,949.9 380.5,946.5 381.0,948.6 381.5,945.9 382.0,948.3 382.5,944.8 383.0,947.2 383.5,943.6 384.0,945.5 384.5,942.0 385.0,943.5 385.5,940.6 386.0,942.3 386.5,938.7 387.0,940.5 387.5,937.4 388.0,939.5 388.5,936.8 389.0,940.0 389.5,938.1 390.0,941.6 390.5,939.6 391.0,944.0 391.5,942.9 392.0,947.1 392.5,946.4 393.0,950.1 393.5,948.4 394.0,951.7 394.5,950.3 395.0,953.6 395.5,951.7 396.0,955.5 396.5,954.3 397.0,959.0 397.5,960.4 398.0,967.2 398.5,973.0 399.0,982.4 399.5,991.8 400.0,1002.6 400.5,1010.8 401.0,1018.0 401.5,1017.6 402.0,1016.6 402.5,1008.5 403.0,999.7 403.5,988.7 404.0,979.2 404.5,969.9 405.0,963.9 405.5,957.1 406.0,955.4 406.5,950.7 407.0,950.6 407.5,946.8 408.0,948.1 408.5,943.9 409.0,945.2 409.5,941.7 410.0,942.5 410.5,938.6 411.0,940.1 411.5,936.4 412.0,938.4 412.5,935.2 413.0,938.1 413.5,935.9 414.0,938.6 414.5,936.4 415.0,939.0 415.5,937.3 416.0,940.6 416.5,938.3 417.0,941.6 417.5,939.6 418.0,943.3 418.5,941.7 419.0,945.3 419.5,943.9 420.0,947.5 420.5,945.8 421.0,948.9 421.5,947.0 422.0,949.9 422.5,948.2 423.0,951.6 423.5,949.4 424.0,951.7 424.5,949.6 425.0,952.0 425.5,949.6 426.0,951.8 426.5,949.8 427.0,952.1 427.5,949.8 428.0,952.5 428.5,950.9 429.0,953.8 429.5,951.1 430.0,954.0 430.5,950.7 431.0,953.3 431.5,950.2 432.0,952.9 432.5,950.4 433.0,953.4 433.5,950.8 434.0,953.2 434.5,950.4 435.0,952.8 435.5,949.6 436.0,952.8 436.5,949.9 437.0,952.8 437.5,950.3 438.0,952.7 438.5,950.0 439.0,952.4 439.5,950.4 440.0,953.2 440.5,950.3 441.0,953.5 441.5,950.9 442.0,953.4 442.5,951.0 443.0,954.0 443.5,951.6 444.0,954.5 444.5,951.5 445.0,953.8 445.5,950.6 446.0,953.3 446.5,951.1 447.0,954.2 447.5,951.2 448.0,953.8 448.5,951.3 449.0,953.7 449.5,951.1 450.0,953.7 450.5,951.2 451.0,953.8 451.5,951.2 452.0,953.8 452.5,951.7 453.0,953.9 453.5,951.2 454.0,953.6 454.5,950.7 455.0,953.2 455.5,950.8 456.0,953.1 456.5,950.4 457.0,953.1 457.5,950.3 458.0,953.5 458.5,951.3 459.0,953.8 459.5,951.3 460.0,954.4 460.5,951.7 461.0,953.8 461.5,951.2 462.0,953.8 462.5,951.6 463.0,954.3 463.5,951.8 464.0,954.1 464.5,951.7 465.0,954.5 465.5,952.5 466.0,955.6 466.5,952.9 467.0,955.9 467.5,952.9 468.0,955.2 468.5,951.9 469.0,954.2 469.5,950.8 470.0,953.6 470.5,950.6 471.0,953.0 471.5,950.6 472.0,953.2 472.5,950.5 473.0,953.3 473.5,950.6 474.0,953.1 474.5,951.2 475.0,954.4 475.5,952.0 476.0,954.4 476.5,951.8 477.0,953.8 477.5,951.1 478.0,953.9 478.5,951.0 479.0,953.1 479.5,950.7 480.0,953.1 480.5,950.5 481.0,953.7 481.5,951.0 482.0,954.1 482.5,951.4 483.0,954.1 483.5,951.0 484.0,953.6 484.5,950.7 485.0,953.3 485.5,950.7 486.0,953.5 486.5,950.4 487.0,953.4 487.5,950.4 488.0,953.2 488.5,950.9 489.0,954.1 489.5,951.4 490.0,954.6 490.5,952.2 491.0,955.1 491.5,952.3 492.0,954.4 492.5,951.6 493.0,953.9 493.5,950.7 494.0,953.9 494.5,951.0 495.0,953.8 495.5,951.6 496.0,954.9 496.5,952.5 497.0,956.1 497.5,953.6 498.0,956.4 498.5,953.7 499.0,956.4 499.5,954.4 500.0,956.7 500.5,954.2 501.0,956.5 501.5,953.7 502.0,956.3 502.5,953.8 503.0,956.3 503.5,953.5 504.0,955.3 504.5,952.4 505.0,954.8 505.5,952.2 506.0,954.9 506.5,952.3 507.0,955.3 507.5,953.0 508.0,956.1 508.5,953.6 509.0,955.7 509.5,952.8 510.0,954.8 510.5,951.9 511.0,953.9 511.5,951.3 512.0,954.3 512.5,951.9 513.0,955.2 513.5,952.5 514.0,955.2 514.5,952.6 515.0,955.5 515.5,952.4 516.0,955.5 516.5,952.8 517.0,955.4 517.5,952.7 518.0,954.9 518.5,952.4 519.0,954.5 519.5,952.0 520.0,954.8 520.5,952.1 521.0,954.5 521.5,951.7 522.0,954.1 522.5,950.8 523.0,952.9 523.5,950.1 524.0,952.5 524.5,950.1 525.0,953.1 525.5,951.2 526.0,954.3 526.5,951.8 527.0,954.3 527.5,951.7 528.0,954.0 528.5,950.8 529.0,953.1 529.5,950.0 530.0,952.2 530.5,949.9 531.0,952.4 531.5,949.9 532.0,953.0 532.5,950.1 533.0,952.7 533.5,950.3 534.0,952.6 534.5,950.0 535.0,953.0 535.5,950.1 536.0,952.8 536.5,950.6 537.0,953.7 537.5,951.2 538.0,954.4 538.5,951.7 539.0,954.6 539.5,951.8 540.0,953.8 540.5,951.3 541.0,953.2 541.5,950.5 542.0,952.7 542.5,950.0 543.0,952.1 543.5,949.8 544.0,953.0 544.5,950.2 545.0,953.4 545.5,950.1 546.0,952.8 546.5,949.7 547.0,951.8 547.5,949.2 548.0,951.9 548.5,949.0 549.0,952.2 549.5,949.7 550.0,953.2 550.5,951.0 551.0,953.7 551.5,951.0 552.0,953.5 552.5,951.1 553.0,953.1 553.5,950.2 554.0,952.2 554.5,949.5 555.0,951.8 555.5,949.1 556.0,951.7 556.5,949.5 557.0,952.0 557.5,949.9 558.0,951.9 558.5,949.1 559.0,951.3 559.5,948.7 560.0,951.2 560.5,949.0 561.0,951.7 561.5,949.7 562.0,952.3 562.5,949.8 563.0,952.4 563.5,949.2 564.0,951.8 564.5,948.8 565.0,951.1 565.5,948.1 566.0,949.9 566.5,946.9 567.0,949.5 567.5,946.9 568.0,950.0 568.5,947.2 569.0,949.7 569.5,947.0 570.0,949.8 570.5,948.0 571.0,950.9 571.5,948.4 572.0,951.5 572.5,948.9 573.0,951.2 573.5,948.8 574.0,951.9 574.5,950.3 575.0,953.7 575.5,951.5 576.0,954.4 576.5,951.7 577.0,954.5 577.5,951.8 578.0,954.9 578.5,952.9 579.0,956.4 579.5,955.4 580.0,959.3 580.5,960.2 581.0,965.4 581.5,966.6 582.0,971.6 582.5,971.4 583.0,974.9 583.5,971.9 584.0,972.1 584.5,967.0 585.0,964.9 585.5,959.6 586.0,959.0 586.5,954.6 587.0,955.2 587.5,951.2 588.0,952.6 588.5,948.8 589.0,951.0 589.5,947.9 590.0,949.7 590.5,946.5 591.0,948.2 591.5,944.9 592.0,946.9 592.5,943.9 593.0,946.4 593.5,943.4 594.0,946.1 594.5,943.1 595.0,946.0 595.5,943.4 596.0,946.6 596.5,944.3 597.0,947.1 597.5,944.6 598.0,947.6 598.5,945.1 599.0,948.1 599.5,946.1 600.0,949.1 600.5,947.3 601.0,950.2 601.5,948.2 602.0,951.2 602.5,948.9 603.0,951.5 603.5,949.4 604.0,952.1 604.5,950.1 605.0,952.8 605.5,950.8 606.0,953.6 606.5,950.6 607.0,953.3 607.5,950.9 608.0,953.7 608.5,951.5 609.0,954.0 609.5,952.1 610.0,954.7 610.5,952.4 611.0,955.0 611.5,951.9 612.0,954.5 612.5,951.7 613.0,954.4 613.5,952.5 614.0,955.5 614.5,953.2 615.0,956.1 615.5,953.9 616.0,957.0 616.5,954.5 617.0,956.6 617.5,953.4 618.0,955.9 618.5,952.5 619.0,955.2 619.5,952.8 620.0,955.4 620.5,953.0 621.0,955.9 621.5,953.2 622.0,955.6 622.5,952.7 623.0,955.2 623.5,952.7 624.0,955.5 624.5,952.7 625.0,955.4 625.5,952.7 626.0,955.8 626.5,953.1 627.0,955.8 627.5,952.9 628.0,955.4 628.5,952.9 629.0,955.1 629.5,952.4 630.0,954.8 630.5,951.6 631.0,954.4 631.5,951.8 632.0,954.7 632.5,952.1 633.0,955.1 633.5,952.1 634.0,954.7 634.5,951.6 635.0,954.5 635.5,951.5 636.0,954.4 636.5,951.2 637.0,953.6 637.5,950.6 638.0,953.0 638.5,950.3 639.0,953.4 639.5,951.5 640.0,954.2 640.5,951.5 641.0,954.0 641.5,951.5 642.0,953.8 642.5,951.1 643.0,953.8 643.5,951.2 644.0,954.4 644.5,951.9 645.0,954.9 645.5,952.6 646.0,955.1 646.5,952.4 647.0,955.0 647.5,952.6 648.0,955.0 648.5,952.4 649.0,954.3 649.5,951.2 650.0,953.8 650.5,950.7 651.0,953.4 651.5,951.6 652.0,954.7 652.5,952.4 653.0,954.8 653.5,952.3 654.0,955.2 654.5,952.5 655.0,954.7 655.5,952.1 656.0,954.6 656.5,951.8 657.0,954.0 657.5,951.4 658.0,954.0 658.5,951.7 659.0,954.3 659.5,952.1 660.0,954.3 660.5,951.5 661.0,954.4 661.5,952.2 662.0,955.4 662.5,953.6 663.0,956.5 663.5,954.3 664.0,956.3 664.5,952.8 665.0,954.9 665.5,952.2 666.0,954.1 666.5,951.5 667.0,953.9 667.5,951.4 668.0,953.9 668.5,951.4 669.0,954.4 669.5,951.9 670.0,955.0 670.5,952.6 671.0,954.6 671.5,952.0 672.0,954.7 672.5,952.1 673.0,955.0 673.5,952.7 674.0,955.0 674.5,951.4 675.0,953.6 675.5,950.4 676.0,952.6 676.5,950.3 677.0,952.8 677.5,950.5 678.0,953.6 678.5,951.3 679.0,954.2 679.5,952.1 680.0,954.5 680.5,952.0 681.0,954.7 681.5,951.6 682.0,954.7 682.5,952.0 683.0,954.4 683.5,952.1 684.0,954.4 684.5,951.9 685.0,954.1 685.5,951.6 686.0,954.2 686.5,951.8 687.0,953.8 687.5,951.2 688.0,953.5 688.5,951.0 689.0,953.7 689.5,951.4 690.0,954.2 690.5,951.6 691.0,953.8 691.5,951.2 692.0,953.9 692.5,951.4 693.0,954.5 693.5,951.9 694.0,955.0 694.5,952.1 695.0,954.6 695.5,951.3 696.0,953.9 696.5,951.1 697.0,953.8 697.5,951.4 698.0,954.2 698.5,951.0 699.0,953.7 699.5,951.2 700.0,953.5 700.5,950.6 701.0,953.1 701.5,950.3 702.0,952.4 702.5,949.8 703.0,952.6 703.5,950.2 704.0,953.1 704.5,950.6 705.0,953.5 705.5,951.2 706.0,953.6 706.5,950.8 707.0,953.5 707.5,950.6 708.0,953.4 708.5,950.1 709.0,952.2 709.5,949.3 710.0,952.0 710.5,949.3 711.0,952.3 711.5,949.2 712.0,952.1 712.5,949.2 713.0,952.2 713.5,949.1 714.0,951.7 714.5,949.1 715.0,951.3 715.5,948.6 716.0,950.5 716.5,947.7 717.0,949.9 717.5,946.3 718.0,948.3 718.5,944.9 719.0,947.1 719.5,943.6 720.0,944.8 720.5,940.9 721.0,942.7 721.5,939.0 722.0,940.5 722.5,937.3 723.0,938.9 723.5,936.0 724.0,938.7 724.5,936.7 725.0,940.3 725.5,938.6 726.0,942.3 726.5,940.6 727.0,944.0 727.5,942.6 728.0,946.5 728.5,945.2 729.0,949.3 729.5,947.5 730.0,950.9 730.5,949.2 731.0,952.8 731.5,952.1 732.0,956.5 732.5,957.3 733.0,963.5 733.5,969.2 734.0,979.1 734.5,990.5 735.0,1004.4 735.5,1017.9 736.0,1030.6 736.5,1038.2 737.0,1042.8 737.5,1038.3 738.0,1030.7 738.5,1018.0 739.0,1004.3 739.5,990.2 740.0,978.8 740.5,968.5 741.0,962.8 741.5,956.4 742.0,955.2 742.5,950.7 743.0,951.3 743.5,946.9 744.0,947.0 744.5,942.5 745.0,942.5 745.5,938.7 746.0,938.9 746.5,934.9 747.0,936.1 747.5,932.9 748.0,934.9 748.5,932.1 749.0,935.0 749.5,933.2 750.0,936.3 750.5,934.1 751.0,937.7 751.5,935.7 752.0,939.0 752.5,937.1 753.0,940.4 753.5,938.3 754.0,942.0 754.5,940.7 755.0,944.8 755.5,943.6 756.0,946.7 756.5,944.8 757.0,948.1 757.5,945.7 758.0,948.3 758.5,946.3 759.0,949.5 759.5,947.5 760.0,950.6 760.5,947.9 761.0,950.9 761.5,948.5 762.0,951.1 762.5,948.9 763.0,951.8 763.5,949.7 764.0,952.5 764.5,949.9 765.0,952.8 765.5,949.7 766.0,951.6 766.5,948.7 767.0,951.9 767.5,949.5 768.0,952.3 768.5,950.2 769.0,953.3 769.5,950.8 770.0,953.4 770.5,950.9 771.0,953.9 771.5,951.0 772.0,953.1 772.5,950.1 773.0,952.6 773.5,949.9 774.0,952.6 774.5,949.8 775.0,952.5 775.5,950.5 776.0,952.7 776.5,950.1 777.0,953.0 777.5,950.1 778.0,952.7 778.5,949.9 779.0,952.9 779.5,950.9 780.0,953.3 780.5,951.1 781.0,953.1 781.5,950.3 782.0,953.1 782.5,949.9 783.0,952.4 783.5,949.9 784.0,952.7 784.5,950.3 785.0,952.6 785.5,950.0 786.0,952.5 786.5,949.3 787.0,952.2 787.5,949.4 788.0,952.2 788.5,949.6 789.0,952.3 789.5,950.3 790.0,953.1 790.5,951.4 791.0,954.3 791.5,952.4 792.0,955.5 792.5,953.3 793.0,955.7 793.5,953.4 794.0,956.0 794.5,953.0 795.0,955.5 795.5,952.7 796.0,954.5 796.5,951.4 797.0,953.2 797.5,950.7 798.0,953.3 798.5,950.9 799.0,953.6 799.5,951.2 800.0,953.9 800.5,951.8 801.0,953.8 801.5,951.1 802.0,953.8 802.5,951.5 803.0,954.0 803.5,951.6 804.0,954.3 804.5,952.2 805.0,954.6 805.5,951.9 806.0,954.7 806.5,952.1 807.0,955.4 807.5,953.1 808.0,955.7 808.5,953.0 809.0,955.8 809.5,952.8 810.0,955.4 810.5,953.1 811.0,955.5 811.5,953.0 812.0,955.4 812.5,952.8 813.0,955.6 813.5,953.1 814.0,955.5 814.5,952.8 815.0,954.7 815.5,951.8 816.0,954.0 816.5,951.3 817.0,952.9 817.5,950.0 818.0,952.4 818.5,949.6 819.0,952.1 819.5,949.4 820.0,952.2 820.5,949.1 821.0,952.0 821.5,949.7 822.0,952.4 822.5,950.3 823.0,953.1 823.5,950.1 824.0,953.0 824.5,950.9 825.0,953.6 825.5,951.5 826.0,954.1 826.5,951.9 827.0,955.3 827.5,952.6 828.0,954.5 828.5,951.7 829.0,954.2 829.5,951.5 830.0,954.9 830.5,952.7 831.0,956.0 831.5,953.1 832.0,956.2 832.5,953.5 833.0,955.6 833.5,952.7 834.0,954.9 834.5,952.7 835.0,955.0 835.5,952.7 836.0,955.1 836.5,952.2 837.0,955.1 837.5,952.1 838.0,954.4 838.5,951.4 839.0,953.8 839.5,950.8 840.0,953.4 840.5,950.9 841.0,954.0 841.5,952.0 842.0,955.0 842.5,952.5 843.0,954.9 843.5,952.6 844.0,955.4 844.5,953.2 845.0,956.2 845.5,953.1 846.0,955.6 846.5,952.2 847.0,954.9 847.5,952.2 848.0,954.7 848.5,952.4 849.0,954.7 849.5,951.8 850.0,954.5 850.5,951.6 851.0,953.9 851.5,951.6 852.0,954.6 852.5,952.5 853.0,955.1 853.5,952.5 854.0,954.7 854.5,951.5 855.0,953.8 855.5,951.1 856.0,954.2 856.5,951.4 857.0,954.2 857.5,951.4 858.0,953.9 858.5,950.8 859.0,953.8 859.5,951.2 860.0,953.7 860.5,951.3 861.0,954.3 861.5,951.4 862.0,954.4 862.5,951.2 863.0,953.9 863.5,950.7 864.0,953.8 864.5,951.3 865.0,953.9 865.5,951.4 866.0,954.2 866.5,952.1 867.0,954.5 867.5,952.2 868.0,955.3 868.5,952.4 869.0,954.8 869.5,952.1 870.0,954.5 870.5,951.5 871.0,953.9 871.5,951.4 872.0,954.3 872.5,951.9 873.0,954.6 873.5,951.9 874.0,954.7 874.5,951.9 875.0,955.0 875.5,952.3 876.0,955.3 876.5,952.9 877.0,955.2 877.5,952.2 878.0,954.6 878.5,951.5 879.0,953.9 879.5,951.3 880.0,953.9 880.5,951.2 881.0,954.0 881.5,951.2 882.0,953.7 882.5,951.6 883.0,954.2 883.5,952.0 884.0,954.8 884.5,951.6 885.0,954.2 885.5,951.8 886.0,954.1 886.5,951.4 887.0,954.0 887.5,951.3 888.0,954.3 888.5,951.6 889.0,954.2 889.5,951.5 890.0,954.4 890.5,951.4 891.0,954.5 891.5,951.7 892.0,954.8 892.5,952.0 893.0,954.7 893.5,952.6 894.0,955.4 894.5,952.9 895.0,955.5 895.5,952.7 896.0,955.5 896.5,952.6 897.0,955.4 897.5,952.4 898.0,954.5 898.5,951.7 899.0,954.7 899.5,951.7 900.0,954.6 900.5,951.9 901.0,955.2 901.5,952.6 902.0,956.0 902.5,953.4 903.0,955.4 903.5,952.4 904.0,954.9 904.5,952.0 905.0,955.0 905.5,952.1 906.0,955.1 906.5,952.4 907.0,954.8 907.5,952.6 908.0,955.0 908.5,952.2 909.0,955.3 909.5,952.2 910.0,955.0 910.5,952.3 911.0,954.6 911.5,952.1 912.0,954.5 912.5,951.8 913.0,954.0 913.5,951.2 914.0,954.1 914.5,951.8 915.0,954.4 915.5,952.0 916.0,954.9 916.5,951.9 917.0,954.0 917.5,951.1 918.0,953.4 918.5,950.5 919.0,953.6 919.5,950.9 920.0,953.9 920.5,951.2 921.0,953.5 921.5,950.8 922.0,953.1 922.5,949.9 923.0,952.6 923.5,949.7 924.0,952.4 924.5,950.0 925.0,953.1 925.5,950.8 926.0,953.8 926.5,951.2 927.0,953.7 927.5,951.1 928.0,953.4 928.5,950.6 929.0,953.5 929.5,950.5 930.0,952.9 930.5,950.5 931.0,953.6 931.5,950.9 932.0,953.9 932.5,951.5 933.0,954.4 933.5,951.4 934.0,954.2 934.5,952.0 935.0,954.6 935.5,952.1 936.0,954.1 936.5,951.3 937.0,953.6 937.5,950.9 938.0,953.5 938.5,950.9 939.0,954.1 939.5,951.0 940.0,953.7 940.5,951.0 941.0,953.3 941.5,950.8 942.0,953.6 942.5,950.9 943.0,953.5 943.5,951.3 944.0,953.2 944.5,950.4 945.0,952.6 945.5,949.3 946.0,952.1 946.5,949.6 947.0,952.7 947.5,950.1 948.0,952.8 948.5,950.5 949.0,953.3 949.5,950.5 950.0,953.0 950.5,950.7 951.0,953.3 951.5,951.0 952.0,953.9 952.5,951.5 953.0,954.0 953.5,951.2 954.0,954.1 954.5,951.8 955.0,955.1 955.5,952.6 956.0,955.1 956.5,952.5 957.0,954.4 957.5,951.5 958.0,953.9 958.5,951.4 959.0,953.8 959.5,951.2 960.0,954.1 960.5,951.3 961.0,954.0 961.5,951.3 962.0,953.9 962.5,951.1 963.0,953.8 963.5,950.9 964.0,953.5 964.5,950.8 965.0,953.6 965.5,951.4 966.0,954.5 966.5,952.3 967.0,955.0 967.5,952.3 968.0,955.2 968.5,952.6 969.0,955.1 969.5,952.9 970.0,955.5 970.5,952.8 971.0,954.7 971.5,951.9 972.0,953.7 972.5,950.9 973.0,953.4 973.5,951.2 974.0,953.3 974.5,950.6 975.0,953.0 975.5,950.1 976.0,953.0 976.5,950.4 977.0,953.2 977.5,950.7 978.0,953.9 978.5,951.2 979.0,953.9 979.5,951.3 980.0,954.0 980.5,951.0 981.0,953.9 981.5,951.5 982.0,954.4 982.5,952.0 983.0,954.5 983.5,952.1 984.0,954.4 984.5,951.2 985.0,953.8 985.5,951.1 986.0,954.1 986.5,951.4 987.0,953.7 987.5,950.6 988.0,953.0 988.5,950.1 989.0,952.8 989.5,950.5 990.0,953.4 990.5,950.6 991.0,953.8 991.5,951.4 992.0,953.7 992.5,951.3 993.0,954.2 993.5,951.2 994.0,953.9 994.5,950.9 995.0,953.1 995.5,950.3 996.0,952.5 996.5,949.7 997.0,952.6 997.5,950.2 998.0,952.9 998.5,950.3 999.0,952.2 999.5,949.5 1000.0,951.4 1000.5,948.8 1001.0,951.2 1001.5,948.7 1002.0,951.2 1002.5,947.9 1003.0,949.9 1003.5,946.0 1004.0,948.1 1004.5,944.3 1005.0,946.1 1005.5,943.2 1006.0,944.2 1006.5,940.4 1007.0,941.8 1007.5,938.4 1008.0,940.5 1008.5,937.7 1009.0,940.6 1009.5,938.3 1010.0,941.8 1010.5,939.7 1011.0,943.2 1011.5,941.7 1012.0,945.3 1012.5,943.5 1013.0,947.6 1013.5,946.2 1014.0,949.8 1014.5,948.0 1015.0,950.8 1015.5,948.8 1016.0,952.5 1016.5,950.9 1017.0,955.4 1017.5,956.5 1018.0,963.0 1018.5,969.2 1019.0,979.9 1019.5,992.2 1020.0,1007.1 1020.5,1021.9 1021.0,1035.7 1021.5,1043.9 1022.0,1049.0 1022.5,1043.9 1023.0,1035.5 1023.5,1021.8 1024.0,1007.0 1024.5,991.9 1025.0,979.5 1025.5,968.6 1026.0,961.9 1026.5,955.1 1027.0,953.2 1027.5,948.5 1028.0,948.9 1028.5,945.3 1029.0,946.9 1029.5,942.9 1030.0,943.3 1030.5,938.8 1031.0,939.2 1031.5,934.8 1032.0,936.3 1032.5,932.6 1033.0,934.1 1033.5,931.2 1034.0,933.7 1034.5,931.2 1035.0,934.1 1035.5,932.0 1036.0,935.2 1036.5,933.7 1037.0,937.2 1037.5,935.8 1038.0,939.0 1038.5,937.4 1039.0,941.1 1039.5,939.4 1040.0,943.1 1040.5,941.3 1041.0,944.4 1041.5,942.8 1042.0,945.8 1042.5,943.7 1043.0,946.9 1043.5,944.9 1044.0,948.2 1044.5,946.3 1045.0,949.3 1045.5,947.2 1046.0,950.7 1046.5,948.7 1047.0,951.4 1047.5,948.9 1048.0,951.2 1048.5,949.1 1049.0,951.8 1049.5,950.0 1050.0,952.5 1050.5,950.1 1051.0,952.5 1051.5,949.4 1052.0,952.0 1052.5,949.5 1053.0,951.9 1053.5,949.8 1054.0,951.9 1054.5,949.1 1055.0,951.5 1055.5,948.8 1056.0,951.0 1056.5,948.6 1057.0,951.9 1057.5,949.1 1058.0,952.4 1058.5,949.9 1059.0,952.9 1059.5,950.6 1060.0,952.9 1060.5,950.4 1061.0,952.9 1061.5,949.6 1062.0,952.4 1062.5,949.8 1063.0,952.5 1063.5,949.4 1064.0,951.5 1064.5,949.3 1065.0,951.4 1065.5,948.9 1066.0,952.0 1066.5,949.3 1067.0,952.3 1067.5,949.9 1068.0,952.7 1068.5,950.5 1069.0,953.2 1069.5,950.6 1070.0,952.7 1070.5,950.4 1071.0,953.2 1071.5,950.9 1072.0,953.7 1072.5,951.9 1073.0,954.4 1073.5,952.1 1074.0,954.9 1074.5,952.2 1075.0,955.2 1075.5,952.4 1076.0,954.9 1076.5,951.7 1077.0,954.3 1077.5,951.7 1078.0,954.3 1078.5,951.6 1079.0,953.8 1079.5,951.2 1080.0,953.7 1080.5,950.7 1081.0,953.3 1081.5,951.0 1082.0,953.7 1082.5,951.2 1083.0,954.1 1083.5,951.1 1084.0,953.8 1084.5,950.9 1085.0,953.8 1085.5,951.5 1086.0,954.3 1086.5,951.7 1087.0,954.2 1087.5,951.7 1088.0,954.2 1088.5,951.4 1089.0,954.1 1089.5,951.0 1090.0,953.9 1090.5,951.2 1091.0,954.2 1091.5,951.3 1092.0,954.1 1092.5,951.0 1093.0,953.4 1093.5,950.2 1094.0,952.5 1094.5,949.9 1095.0,952.8 1095.5,949.8 1096.0,952.2 1096.5,950.1 1097.0,952.6 1097.5,950.3 1098.0,953.2 1098.5,950.6 1099.0,952.9 1099.5,950.1 1100.0,952.6 1100.5,949.5 1101.0,952.6 1101.5,950.2 1102.0,953.3 1102.5,950.7 1103.0,953.8 1103.5,951.1 1104.0,953.5 1104.5,950.8 1105.0,953.6 1105.5,951.4 1106.0,953.5 1106.5,951.2 1107.0,953.2 1107.5,950.7 1108.0,953.6 1108.5,951.5 1109.0,954.1 1109.5,951.6 1110.0,954.3 1110.5,951.7 1111.0,954.3 1111.5,951.6 1112.0,953.9 1112.5,951.6 1113.0,953.6 1113.5,950.6 1114.0,953.8 1114.5,951.3 1115.0,953.9 1115.5,951.3 1116.0,954.0 1116.5,951.5 1117.0,954.3" fill="none" stroke="#7b3f55" stroke-width="2.0" stroke-linejoin="round" opacity="1"/>
<polyline points="120.0,1080.7 120.5,1078.1 121.0,1080.3 121.5,1078.1 122.0,1080.0 122.5,1078.0 123.0,1080.9 123.5,1079.1 124.0,1081.4 124.5,1079.7 125.0,1081.7 125.5,1078.9 126.0,1081.2 126.5,1078.4 127.0,1080.8 127.5,1078.4 128.0,1080.9 128.5,1078.1 129.0,1080.5 129.5,1077.9 130.0,1080.4 130.5,1078.0 131.0,1080.5 131.5,1078.3 132.0,1080.3 132.5,1078.2 133.0,1080.9 133.5,1078.7 134.0,1081.5 134.5,1079.3 135.0,1081.7 135.5,1079.5 136.0,1081.7 136.5,1079.2 137.0,1080.9 137.5,1078.8 138.0,1081.1 138.5,1078.8 139.0,1080.9 139.5,1078.8 140.0,1081.0 140.5,1078.6 141.0,1080.9 141.5,1079.0 142.0,1081.1 142.5,1078.7 143.0,1081.0 143.5,1079.1 144.0,1081.6 144.5,1079.3 145.0,1081.9 145.5,1079.1 146.0,1081.4 146.5,1078.7 147.0,1080.2 147.5,1078.0 148.0,1080.1 148.5,1078.2 149.0,1080.4 149.5,1078.3 150.0,1080.3 150.5,1077.9 151.0,1080.0 151.5,1077.7 152.0,1080.3 152.5,1077.4 153.0,1079.7 153.5,1076.8 154.0,1078.9 154.5,1076.6 155.0,1078.8 155.5,1076.9 156.0,1079.3 156.5,1077.1 157.0,1079.4 157.5,1077.4 158.0,1080.1 158.5,1078.2 159.0,1080.5 159.5,1078.3 160.0,1080.8 160.5,1078.1 161.0,1080.2 161.5,1077.9 162.0,1079.9 162.5,1077.7 163.0,1079.8 163.5,1077.6 164.0,1080.2 164.5,1077.9 165.0,1080.0 165.5,1077.5 166.0,1080.0 166.5,1077.8 167.0,1080.0 167.5,1078.2 168.0,1080.6 168.5,1078.4 169.0,1080.6 169.5,1077.8 170.0,1080.2 170.5,1077.6 171.0,1079.8 171.5,1077.8 172.0,1080.2 172.5,1077.6 173.0,1079.5 173.5,1077.0 174.0,1079.5 174.5,1077.2 175.0,1079.6 175.5,1077.4 176.0,1079.4 176.5,1076.5 177.0,1078.7 177.5,1076.0 178.0,1078.1 178.5,1075.7 179.0,1078.1 179.5,1076.0 180.0,1078.1 180.5,1075.4 181.0,1077.7 181.5,1075.5 182.0,1077.9 182.5,1075.5 183.0,1077.9 183.5,1075.8 184.0,1078.7 184.5,1076.4 185.0,1078.6 185.5,1076.0 186.0,1078.4 186.5,1075.5 187.0,1077.8 187.5,1075.4 188.0,1077.1 188.5,1074.9 189.0,1076.9 189.5,1074.0 190.0,1076.2 190.5,1073.5 191.0,1075.7 191.5,1073.6 192.0,1075.7 192.5,1073.3 193.0,1075.3 193.5,1072.2 194.0,1074.5 194.5,1071.8 195.0,1073.7 195.5,1071.2 196.0,1072.6 196.5,1069.7 197.0,1070.9 197.5,1067.7 198.0,1068.6 198.5,1065.5 199.0,1066.6 199.5,1063.9 200.0,1065.1 200.5,1062.0 201.0,1063.7 201.5,1060.6 202.0,1062.1 202.5,1058.6 203.0,1060.2 203.5,1057.4 204.0,1058.6 204.5,1055.7 205.0,1057.4 205.5,1054.8 206.0,1056.8 206.5,1053.8 207.0,1055.7 207.5,1053.6 208.0,1056.4 208.5,1054.9 209.0,1058.3 209.5,1056.4 210.0,1059.5 210.5,1058.4 211.0,1061.9 211.5,1061.3 212.0,1065.1 212.5,1064.7 213.0,1068.0 213.5,1066.9 214.0,1070.3 214.5,1069.7 215.0,1073.1 215.5,1072.1 216.0,1075.2 216.5,1073.6 217.0,1076.8 217.5,1075.2 218.0,1078.6 218.5,1077.5 219.0,1080.3 219.5,1079.4 220.0,1083.1 220.5,1083.3 221.0,1087.6 221.5,1089.4 222.0,1095.1 222.5,1098.4 223.0,1105.3 223.5,1111.0 224.0,1119.5 224.5,1127.4 225.0,1137.4 225.5,1146.2 226.0,1155.7 226.5,1162.5 227.0,1169.5 227.5,1171.7 228.0,1175.0 228.5,1171.2 229.0,1169.2 229.5,1162.2 230.0,1155.3 230.5,1145.8 231.0,1137.2 231.5,1127.2 232.0,1118.9 232.5,1110.0 233.0,1103.7 233.5,1096.4 234.0,1092.2 234.5,1086.6 235.0,1084.5 235.5,1079.9 236.0,1079.2 236.5,1075.3 237.0,1075.6 237.5,1072.4 238.0,1072.9 238.5,1069.0 239.0,1069.0 239.5,1065.1 240.0,1065.2 240.5,1061.4 241.0,1061.3 241.5,1057.3 242.0,1057.6 242.5,1053.7 243.0,1054.4 243.5,1050.8 244.0,1051.8 244.5,1048.5 245.0,1050.0 245.5,1047.1 246.0,1049.2 246.5,1047.6 247.0,1049.9 247.5,1048.1 248.0,1050.4 248.5,1048.2 249.0,1050.8 249.5,1049.5 250.0,1052.6 250.5,1051.4 251.0,1054.4 251.5,1053.0 252.0,1056.4 252.5,1055.2 253.0,1057.9 253.5,1056.3 254.0,1059.3 254.5,1058.2 255.0,1061.2 255.5,1060.3 256.0,1063.5 256.5,1062.1 257.0,1064.8 257.5,1063.1 258.0,1065.9 258.5,1064.5 259.0,1067.7 259.5,1066.9 260.0,1070.3 260.5,1069.3 261.0,1072.4 261.5,1070.9 262.0,1073.6 262.5,1072.0 263.0,1074.9 263.5,1072.9 264.0,1075.4 264.5,1073.7 265.0,1076.8 265.5,1075.1 266.0,1077.6 266.5,1075.4 267.0,1078.1 267.5,1075.4 268.0,1077.5 268.5,1075.2 269.0,1077.8 269.5,1076.1 270.0,1079.1 270.5,1077.3 271.0,1079.7 271.5,1077.9 272.0,1080.1 272.5,1077.7 273.0,1080.2 273.5,1077.5 274.0,1079.4 274.5,1077.2 275.0,1079.5 275.5,1077.1 276.0,1080.0 276.5,1078.1 277.0,1080.6 277.5,1078.4 278.0,1081.2 278.5,1078.7 279.0,1080.9 279.5,1078.3 280.0,1081.0 280.5,1078.8 281.0,1081.0 281.5,1078.8 282.0,1081.3 282.5,1078.9 283.0,1081.3 283.5,1079.3 284.0,1081.7 284.5,1079.2 285.0,1081.4 285.5,1079.3 286.0,1081.3 286.5,1078.9 287.0,1081.0 287.5,1078.6 288.0,1081.4 288.5,1079.1 289.0,1081.5 289.5,1079.3 290.0,1081.4 290.5,1079.1 291.0,1081.1 291.5,1079.0 292.0,1081.4 292.5,1079.6 293.0,1082.3 293.5,1079.6 294.0,1081.9 294.5,1079.5 295.0,1081.1 295.5,1079.0 296.0,1080.8 296.5,1078.7 297.0,1081.4 297.5,1079.2 298.0,1081.8 298.5,1079.5 299.0,1081.4 299.5,1078.9 300.0,1081.0 300.5,1078.6 301.0,1080.6 301.5,1078.5 302.0,1080.6 302.5,1078.3 303.0,1080.4 303.5,1078.3 304.0,1080.5 304.5,1078.1 305.0,1080.8 305.5,1078.6 306.0,1081.1 306.5,1078.5 307.0,1080.9 307.5,1078.8 308.0,1080.9 308.5,1078.8 309.0,1080.8 309.5,1079.1 310.0,1081.5 310.5,1079.5 311.0,1081.9 311.5,1079.7 312.0,1081.8 312.5,1079.5 313.0,1081.6 313.5,1079.4 314.0,1081.6 314.5,1079.3 315.0,1081.3 315.5,1079.3 316.0,1081.5 316.5,1079.1 317.0,1081.3 317.5,1079.0 318.0,1081.0 318.5,1078.7 319.0,1081.1 319.5,1078.7 320.0,1081.4 320.5,1079.1 321.0,1081.4 321.5,1079.0 322.0,1081.2 322.5,1078.7 323.0,1080.5 323.5,1078.3 324.0,1081.1 324.5,1078.8 325.0,1080.9 325.5,1078.7 326.0,1080.6 326.5,1078.3 327.0,1080.4 327.5,1078.1 328.0,1080.5 328.5,1078.1 329.0,1080.3 329.5,1077.8 330.0,1080.2 330.5,1077.9 331.0,1080.0 331.5,1077.7 332.0,1080.1 332.5,1077.5 333.0,1079.8 333.5,1077.3 334.0,1079.3 334.5,1076.6 335.0,1079.1 335.5,1076.9 336.0,1079.6 336.5,1077.4 337.0,1080.5 337.5,1078.3 338.0,1080.6 338.5,1078.0 339.0,1080.2 339.5,1077.6 340.0,1080.3 340.5,1077.8 341.0,1080.0 341.5,1077.2 342.0,1079.3 342.5,1076.9 343.0,1079.5 343.5,1077.3 344.0,1079.7 344.5,1077.6 345.0,1080.1 345.5,1078.0 346.0,1080.4 346.5,1077.8 347.0,1080.1 347.5,1077.3 348.0,1079.5 348.5,1077.2 349.0,1079.7 349.5,1077.9 350.0,1080.3 350.5,1078.3 351.0,1080.3 351.5,1078.1 352.0,1079.8 352.5,1077.1 353.0,1079.2 353.5,1077.0 354.0,1079.2 354.5,1076.7 355.0,1079.2 355.5,1076.8 356.0,1079.5 356.5,1076.9 357.0,1079.4 357.5,1077.2 358.0,1079.4 358.5,1077.6 359.0,1079.6 359.5,1077.5 360.0,1079.7 360.5,1077.1 361.0,1079.3 361.5,1076.9 362.0,1079.1 362.5,1077.2 363.0,1079.3 363.5,1076.8 364.0,1078.6 364.5,1076.1 365.0,1078.3 365.5,1075.7 366.0,1077.9 366.5,1075.3 367.0,1077.1 367.5,1074.3 368.0,1076.4 368.5,1073.9 369.0,1075.7 369.5,1073.6 370.0,1076.0 370.5,1073.5 371.0,1075.2 371.5,1072.6 372.0,1074.3 372.5,1071.3 373.0,1072.9 373.5,1070.4 374.0,1072.1 374.5,1069.5 375.0,1071.8 375.5,1068.7 376.0,1070.7 376.5,1067.6 377.0,1069.4 377.5,1067.0 378.0,1068.6 378.5,1065.4 379.0,1066.8 379.5,1063.8 380.0,1065.9 380.5,1063.4 381.0,1065.6 381.5,1062.7 382.0,1064.4 382.5,1061.9 383.0,1063.7 383.5,1061.0 384.0,1063.6 384.5,1061.5 385.0,1064.1 385.5,1062.2 386.0,1065.2 386.5,1063.6 387.0,1066.7 387.5,1065.2 388.0,1068.7 388.5,1067.1 389.0,1070.2 389.5,1069.0 390.0,1071.8 390.5,1070.3 391.0,1073.5 391.5,1072.0 392.0,1074.9 392.5,1073.7 393.0,1076.5 393.5,1074.4 394.0,1077.4 394.5,1075.3 395.0,1078.1 395.5,1076.7 396.0,1079.4 396.5,1078.1 397.0,1081.2 397.5,1079.7 398.0,1082.7 398.5,1082.2 399.0,1086.0 399.5,1085.9 400.0,1090.7 400.5,1092.3 401.0,1097.9 401.5,1100.7 402.0,1106.7 402.5,1110.2 403.0,1116.6 403.5,1120.6 404.0,1126.9 404.5,1129.4 405.0,1134.6 405.5,1134.3 406.0,1136.6 406.5,1134.0 407.0,1134.1 407.5,1129.4 408.0,1127.0 408.5,1121.0 409.0,1117.1 409.5,1110.3 410.0,1106.1 410.5,1099.9 411.0,1096.3 411.5,1090.8 412.0,1088.9 412.5,1084.2 413.0,1083.8 413.5,1079.5 414.0,1080.1 414.5,1076.8 415.0,1077.8 415.5,1074.5 416.0,1075.2 416.5,1071.5 417.0,1072.7 417.5,1069.0 418.0,1070.2 418.5,1066.4 419.0,1067.3 419.5,1063.9 420.0,1064.5 420.5,1061.1 421.0,1061.9 421.5,1058.8 422.0,1059.7 422.5,1056.4 423.0,1058.3 423.5,1055.7 424.0,1057.3 424.5,1055.0 425.0,1057.1 425.5,1054.7 426.0,1057.0 426.5,1054.6 427.0,1056.9 427.5,1055.1 428.0,1057.8 428.5,1056.3 429.0,1058.7 429.5,1057.1 430.0,1059.9 430.5,1058.2 431.0,1061.2 431.5,1060.0 432.0,1062.6 432.5,1061.1 433.0,1063.8 433.5,1062.4 434.0,1065.3 434.5,1063.7 435.0,1066.6 435.5,1064.7 436.0,1067.8 436.5,1066.7 437.0,1069.9 437.5,1068.7 438.0,1072.0 438.5,1070.3 439.0,1073.0 439.5,1071.1 440.0,1074.2 440.5,1072.6 441.0,1075.9 441.5,1074.6 442.0,1077.4 442.5,1075.7 443.0,1077.8 443.5,1076.0 444.0,1078.2 444.5,1075.9 445.0,1078.3 445.5,1076.2 446.0,1078.6 446.5,1077.0 447.0,1079.5 447.5,1077.7 448.0,1080.2 448.5,1077.8 449.0,1080.2 449.5,1077.8 450.0,1080.6 450.5,1078.3 451.0,1081.1 451.5,1078.7 452.0,1081.3 452.5,1078.7 453.0,1081.1 453.5,1078.8 454.0,1080.9 454.5,1078.7 455.0,1080.7 455.5,1078.5 456.0,1080.3 456.5,1078.2 457.0,1080.5 457.5,1078.0 458.0,1080.4 458.5,1078.1 459.0,1080.1 459.5,1077.9 460.0,1080.4 460.5,1078.7 461.0,1081.0 461.5,1079.1 462.0,1081.4 462.5,1079.2 463.0,1081.8 463.5,1079.3 464.0,1081.6 464.5,1079.4 465.0,1081.8 465.5,1079.2 466.0,1081.6 466.5,1079.0 467.0,1081.8 467.5,1079.6 468.0,1081.8 468.5,1079.5 469.0,1082.1 469.5,1079.6 470.0,1082.0 470.5,1079.5 471.0,1081.8 471.5,1080.0 472.0,1082.3 472.5,1080.3 473.0,1082.6 473.5,1080.0 474.0,1082.3 474.5,1079.7 475.0,1082.0 475.5,1079.7 476.0,1082.0 476.5,1079.4 477.0,1081.4 477.5,1078.9 478.0,1081.6 478.5,1079.1 479.0,1081.1 479.5,1078.6 480.0,1080.5 480.5,1078.1 481.0,1080.8 481.5,1078.2 482.0,1080.6 482.5,1078.2 483.0,1080.5 483.5,1078.0 484.0,1080.4 484.5,1077.6 485.0,1080.2 485.5,1077.6 486.0,1079.8 486.5,1078.0 487.0,1080.2 487.5,1077.8 488.0,1080.0 488.5,1077.9 489.0,1080.2 489.5,1078.3 490.0,1080.5 490.5,1078.5 491.0,1080.7 491.5,1078.2 492.0,1079.8 492.5,1077.1 493.0,1079.4 493.5,1077.2 494.0,1080.1 494.5,1078.2 495.0,1080.6 495.5,1078.0 496.0,1080.2 496.5,1077.9 497.0,1079.7 497.5,1077.1 498.0,1079.9 498.5,1077.7 499.0,1080.3 499.5,1077.8 500.0,1079.8 500.5,1077.1 501.0,1079.0 501.5,1076.7 502.0,1079.4 502.5,1076.9 503.0,1079.3 503.5,1077.4 504.0,1080.3 504.5,1078.4 505.0,1080.6 505.5,1078.4 506.0,1081.0 506.5,1078.3 507.0,1080.2 507.5,1077.9 508.0,1080.0 508.5,1077.4 509.0,1079.6 509.5,1077.3 510.0,1079.2 510.5,1077.2 511.0,1079.5 511.5,1077.0 512.0,1079.3 512.5,1077.3 513.0,1079.5 513.5,1076.8 514.0,1079.4 514.5,1077.2 515.0,1079.4 515.5,1077.3 516.0,1079.5 516.5,1076.3 517.0,1078.8 517.5,1075.9 518.0,1078.5 518.5,1076.2 519.0,1078.8 519.5,1076.6 520.0,1078.7 520.5,1076.5 521.0,1078.4 521.5,1076.0 522.0,1077.9 522.5,1075.4 523.0,1077.4 523.5,1074.8 524.0,1077.2 524.5,1074.6 525.0,1076.3 525.5,1072.8 526.0,1074.5 526.5,1071.5 527.0,1073.2 527.5,1070.2 528.0,1072.4 528.5,1069.5 529.0,1071.7 529.5,1068.6 530.0,1070.5 530.5,1067.6 531.0,1069.1 531.5,1066.2 532.0,1067.7 532.5,1064.4 533.0,1066.3 533.5,1063.1 534.0,1065.0 534.5,1062.2 535.0,1064.5 535.5,1062.2 536.0,1064.0 536.5,1062.1 537.0,1064.7 537.5,1063.2 538.0,1066.4 538.5,1065.1 539.0,1068.1 539.5,1066.2 540.0,1069.5 540.5,1067.9 541.0,1070.6 541.5,1069.5 542.0,1072.1 542.5,1071.0 543.0,1073.9 543.5,1072.7 544.0,1075.8 544.5,1074.0 545.0,1077.1 545.5,1075.3 546.0,1078.4 546.5,1077.0 547.0,1079.9 547.5,1078.2 548.0,1081.1 548.5,1079.7 549.0,1083.0 549.5,1082.1 550.0,1085.8 550.5,1085.9 551.0,1090.0 551.5,1091.2 552.0,1096.7 552.5,1099.9 553.0,1106.1 553.5,1110.8 554.0,1118.0 554.5,1123.3 555.0,1130.5 555.5,1134.6 556.0,1140.3 556.5,1141.2 557.0,1144.1 557.5,1140.8 558.0,1139.8 558.5,1134.2 559.0,1129.9 559.5,1122.8 560.0,1117.5 560.5,1109.9 561.0,1104.9 561.5,1098.6 562.0,1095.0 562.5,1089.7 563.0,1087.9 563.5,1083.2 564.0,1083.0 564.5,1078.9 565.0,1079.4 565.5,1076.2 566.0,1077.4 566.5,1074.3 567.0,1075.3 567.5,1071.8 568.0,1072.3 568.5,1068.1 569.0,1068.7 569.5,1064.9 570.0,1064.9 570.5,1061.0 571.0,1061.5 571.5,1057.9 572.0,1059.0 572.5,1055.7 573.0,1056.9 573.5,1053.7 574.0,1055.5 574.5,1053.1 575.0,1055.4 575.5,1052.9 576.0,1055.7 576.5,1053.6 577.0,1056.2 577.5,1054.5 578.0,1057.4 578.5,1055.9 579.0,1058.9 579.5,1056.9 580.0,1060.1 580.5,1058.4 581.0,1061.3 581.5,1060.0 582.0,1062.9 582.5,1061.3 583.0,1064.0 583.5,1062.6 584.0,1066.0 584.5,1064.2 585.0,1067.2 585.5,1065.8 586.0,1068.7 586.5,1067.1 587.0,1070.3 587.5,1068.7 588.0,1071.6 588.5,1070.2 589.0,1072.8 589.5,1071.2 590.0,1074.0 590.5,1072.8 591.0,1075.4 591.5,1073.6 592.0,1076.3 592.5,1074.9 593.0,1077.6 593.5,1075.6 594.0,1078.1 594.5,1075.9 595.0,1078.9 595.5,1077.0 596.0,1079.5 596.5,1078.1 597.0,1080.7 597.5,1078.1 598.0,1080.3 598.5,1078.0 599.0,1080.2 599.5,1078.0 600.0,1080.6 600.5,1077.9 601.0,1080.1 601.5,1077.5 602.0,1079.9 602.5,1078.0 603.0,1080.3 603.5,1078.3 604.0,1081.0 604.5,1079.1 605.0,1081.3 605.5,1079.1 606.0,1081.3 606.5,1079.4 607.0,1082.1 607.5,1079.8 608.0,1081.9 608.5,1079.0 609.0,1081.2 609.5,1078.7 610.0,1080.9 610.5,1078.2 611.0,1080.7 611.5,1078.2 612.0,1080.6 612.5,1078.1 613.0,1080.6 613.5,1078.8 614.0,1081.2 614.5,1079.5 615.0,1081.9 615.5,1079.5 616.0,1082.1 616.5,1079.6 617.0,1082.1 617.5,1079.6 618.0,1081.4 618.5,1079.0 619.0,1081.2 619.5,1079.1 620.0,1081.4 620.5,1078.8 621.0,1081.2 621.5,1079.1 622.0,1081.6 622.5,1079.6 623.0,1082.2 623.5,1080.2 624.0,1082.4 624.5,1079.9 625.0,1082.0 625.5,1079.4 626.0,1081.2 626.5,1078.5 627.0,1081.2 627.5,1078.9 628.0,1081.5 628.5,1079.6 629.0,1081.8 629.5,1079.6 630.0,1081.6 630.5,1079.7 631.0,1082.0 631.5,1079.1 632.0,1081.5 632.5,1079.4 633.0,1082.0 633.5,1080.0 634.0,1082.3 634.5,1080.3 635.0,1082.6 635.5,1080.2 636.0,1082.8 636.5,1080.2 637.0,1082.5 637.5,1080.1 638.0,1082.5 638.5,1080.0 639.0,1082.3 639.5,1080.2 640.0,1083.0 640.5,1080.6 641.0,1082.6 641.5,1080.4 642.0,1082.6 642.5,1079.9 643.0,1082.4 643.5,1080.5 644.0,1082.9 644.5,1080.1 645.0,1082.3 645.5,1079.9 646.0,1082.3 646.5,1080.0 647.0,1082.2 647.5,1080.2 648.0,1082.5 648.5,1079.8 649.0,1081.9 649.5,1079.3 650.0,1081.2 650.5,1079.0 651.0,1081.1 651.5,1079.2 652.0,1081.9 652.5,1079.5 653.0,1081.8 653.5,1079.7 654.0,1081.5 654.5,1079.3 655.0,1081.1 655.5,1078.6 656.0,1081.0 656.5,1078.3 657.0,1080.9 657.5,1078.3 658.0,1081.0 658.5,1078.7 659.0,1081.2 659.5,1078.9 660.0,1081.1 660.5,1079.1 661.0,1081.1 661.5,1078.6 662.0,1081.1 662.5,1079.1 663.0,1081.8 663.5,1079.5 664.0,1082.0 664.5,1079.7 665.0,1081.7 665.5,1079.0 666.0,1081.4 666.5,1079.4 667.0,1081.9 667.5,1079.8 668.0,1081.8 668.5,1079.6 669.0,1081.8 669.5,1078.8 670.0,1081.4 670.5,1079.1 671.0,1081.6 671.5,1079.1 672.0,1081.7 672.5,1079.2 673.0,1081.3 673.5,1078.8 674.0,1081.1 674.5,1078.7 675.0,1080.8 675.5,1078.7 676.0,1080.8 676.5,1078.8 677.0,1080.9 677.5,1079.1 678.0,1081.3 678.5,1078.9 679.0,1081.7 679.5,1079.0 680.0,1081.2 680.5,1079.1 681.0,1081.2 681.5,1078.4 682.0,1080.6 682.5,1078.5 683.0,1080.5 683.5,1078.5 684.0,1080.4 684.5,1078.2 685.0,1080.3 685.5,1078.1 686.0,1080.5 686.5,1078.0 687.0,1080.4 687.5,1077.9 688.0,1079.9 688.5,1077.4 689.0,1079.7 689.5,1077.5 690.0,1079.9 690.5,1077.2 691.0,1079.5 691.5,1077.4 692.0,1079.4 692.5,1077.1 693.0,1079.4 693.5,1077.0 694.0,1079.0 694.5,1076.6 695.0,1078.3 695.5,1075.9 696.0,1077.3 696.5,1074.8 697.0,1076.5 697.5,1074.0 698.0,1075.8 698.5,1073.3 699.0,1074.7 699.5,1071.9 700.0,1073.2 700.5,1070.5 701.0,1072.4 701.5,1069.7 702.0,1071.7 702.5,1068.8 703.0,1070.0 703.5,1066.9 704.0,1068.5 704.5,1065.7 705.0,1068.1 705.5,1065.3 706.0,1067.2 706.5,1063.9 707.0,1065.3 707.5,1062.8 708.0,1064.4 708.5,1061.8 709.0,1063.7 709.5,1061.3 710.0,1063.1 710.5,1060.6 711.0,1063.2 711.5,1061.4 712.0,1064.5 712.5,1062.7 713.0,1065.6 713.5,1064.4 714.0,1068.0 714.5,1066.5 715.0,1069.9 715.5,1068.2 716.0,1071.1 716.5,1069.9 717.0,1072.8 717.5,1071.3 718.0,1074.4 718.5,1072.7 719.0,1075.6 719.5,1074.1 720.0,1077.0 720.5,1075.7 721.0,1078.9 721.5,1077.3 722.0,1080.0 722.5,1078.8 723.0,1082.2 723.5,1081.6 724.0,1085.1 724.5,1085.0 725.0,1089.0 725.5,1090.4 726.0,1095.2 726.5,1098.1 727.0,1104.2 727.5,1108.3 728.0,1115.4 728.5,1120.3 729.0,1127.0 729.5,1130.9 730.0,1136.2 730.5,1137.2 731.0,1140.3 731.5,1137.3 732.0,1136.9 732.5,1131.3 733.0,1127.6 733.5,1120.5 734.0,1115.2 734.5,1107.9 735.0,1103.3 735.5,1097.2 736.0,1094.2 736.5,1088.7 737.0,1086.7 737.5,1082.3 738.0,1081.6 738.5,1077.5 739.0,1078.3 739.5,1074.6 740.0,1075.2 740.5,1071.4 741.0,1072.3 741.5,1068.5 742.0,1069.2 742.5,1065.9 743.0,1066.3 743.5,1062.3 744.0,1062.5 744.5,1058.7 745.0,1058.8 745.5,1055.2 746.0,1056.1 746.5,1052.4 747.0,1053.3 747.5,1050.0 748.0,1051.7 748.5,1049.0 749.0,1051.0 749.5,1049.0 750.0,1051.3 750.5,1049.4 751.0,1051.8 751.5,1050.1 752.0,1053.0 752.5,1051.5 753.0,1054.3 753.5,1052.9 754.0,1055.8 754.5,1054.3 755.0,1057.4 755.5,1055.7 756.0,1058.8 756.5,1056.9 757.0,1059.8 757.5,1058.4 758.0,1061.7 758.5,1060.0 759.0,1063.4 759.5,1062.2 760.0,1065.4 760.5,1064.3 761.0,1067.8 761.5,1066.2 762.0,1069.9 762.5,1068.1 763.0,1071.2 763.5,1069.6 764.0,1073.1 764.5,1071.2 765.0,1074.5 765.5,1072.4 766.0,1075.6 766.5,1073.6 767.0,1075.9 767.5,1074.1 768.0,1076.9 768.5,1075.1 769.0,1077.9 769.5,1076.5 770.0,1079.1 770.5,1077.1 771.0,1079.8 771.5,1077.9 772.0,1080.2 772.5,1077.8 773.0,1080.3 773.5,1078.4 774.0,1081.4 774.5,1079.2 775.0,1081.6 775.5,1079.2 776.0,1081.7 776.5,1079.2 777.0,1081.4 777.5,1078.9 778.0,1081.0 778.5,1078.8 779.0,1081.2 779.5,1078.9 780.0,1081.6 780.5,1079.3 781.0,1081.7 781.5,1078.7 782.0,1081.1 782.5,1078.4 783.0,1081.0 783.5,1078.8 784.0,1081.3 784.5,1078.8 785.0,1081.4 785.5,1078.4 786.0,1080.7 786.5,1077.9 787.0,1080.6 787.5,1078.6 788.0,1080.7 788.5,1078.5 789.0,1081.1 789.5,1078.5 790.0,1081.0 790.5,1078.0 791.0,1080.3 791.5,1077.4 792.0,1079.8 792.5,1077.3 793.0,1079.7 793.5,1077.6 794.0,1080.0 794.5,1077.8 795.0,1080.4 795.5,1077.9 796.0,1080.3 796.5,1078.1 797.0,1080.0 797.5,1077.8 798.0,1079.6 798.5,1077.2 799.0,1079.6 799.5,1077.5 800.0,1079.6 800.5,1077.6 801.0,1079.5 801.5,1077.1 802.0,1079.3 802.5,1076.7 803.0,1078.5 803.5,1076.1 804.0,1078.6 804.5,1076.2 805.0,1078.4 805.5,1076.5 806.0,1079.2 806.5,1076.9 807.0,1079.5 807.5,1077.0 808.0,1079.3 808.5,1077.1 809.0,1079.1 809.5,1077.2 810.0,1079.5 810.5,1077.2 811.0,1079.9 811.5,1077.4 812.0,1079.8 812.5,1077.3 813.0,1079.0 813.5,1076.6 814.0,1079.3 814.5,1077.0 815.0,1079.7 815.5,1077.9 816.0,1080.6 816.5,1077.8 817.0,1079.9 817.5,1077.0 818.0,1078.8 818.5,1076.4 819.0,1078.6 819.5,1076.3 820.0,1078.4 820.5,1075.9 821.0,1078.3 821.5,1075.8 822.0,1078.0 822.5,1075.7 823.0,1078.4 823.5,1075.9 824.0,1078.7 824.5,1076.2 825.0,1078.3 825.5,1075.6 826.0,1078.0 826.5,1075.2 827.0,1077.4 827.5,1074.9 828.0,1077.2 828.5,1074.9 829.0,1077.6 829.5,1075.4 830.0,1077.4 830.5,1075.2 831.0,1077.1 831.5,1074.2 832.0,1076.3 832.5,1073.9 833.0,1076.2 833.5,1073.3 834.0,1075.3 834.5,1072.1 835.0,1074.2 835.5,1071.3 836.0,1073.5 836.5,1071.5 837.0,1073.9 837.5,1071.7 838.0,1074.3 838.5,1072.1 839.0,1074.8 839.5,1072.7 840.0,1074.9 840.5,1072.8 841.0,1075.7 841.5,1073.7 842.0,1076.1 842.5,1073.7 843.0,1076.3 843.5,1074.5 844.0,1077.6 844.5,1075.6 845.0,1078.8 845.5,1076.4 846.0,1079.1 846.5,1076.8 847.0,1079.7 847.5,1077.7 848.0,1080.6 848.5,1078.6 849.0,1080.9 849.5,1078.9 850.0,1081.3 850.5,1078.7 851.0,1081.3 851.5,1078.9 852.0,1081.3 852.5,1079.3 853.0,1082.5 853.5,1080.9 854.0,1083.6 854.5,1082.1 855.0,1084.8 855.5,1083.5 856.0,1086.6 856.5,1085.5 857.0,1089.3 857.5,1088.6 858.0,1092.6 858.5,1091.9 859.0,1095.7 859.5,1095.2 860.0,1098.4 860.5,1097.0 861.0,1100.2 861.5,1098.1 862.0,1100.4 862.5,1097.4 863.0,1098.8 863.5,1095.4 864.0,1095.4 864.5,1091.6 865.0,1091.7 865.5,1087.9 866.0,1088.3 866.5,1085.0 867.0,1085.8 867.5,1082.2 868.0,1083.7 868.5,1080.3 869.0,1081.9 869.5,1079.3 870.0,1081.0 870.5,1078.3 871.0,1080.0 871.5,1077.7 872.0,1080.1 872.5,1077.7 873.0,1079.7 873.5,1076.7 874.0,1078.0 874.5,1075.0 875.0,1076.6 875.5,1074.1 876.0,1075.4 876.5,1072.7 877.0,1074.6 877.5,1071.6 878.0,1073.7 878.5,1071.0 879.0,1072.8 879.5,1070.7 880.0,1072.5 880.5,1070.3 881.0,1072.4 881.5,1070.3 882.0,1072.8 882.5,1070.5 883.0,1072.7 883.5,1070.9 884.0,1073.2 884.5,1071.3 885.0,1073.7 885.5,1071.7 886.0,1073.8 886.5,1071.7 887.0,1074.2 887.5,1072.1 888.0,1074.7 888.5,1072.7 889.0,1074.9 889.5,1072.8 890.0,1075.1 890.5,1073.1 891.0,1075.4 891.5,1073.2 892.0,1075.7 892.5,1073.7 893.0,1076.3 893.5,1074.4 894.0,1076.9 894.5,1074.7 895.0,1077.0 895.5,1074.8 896.0,1077.4 896.5,1075.2 897.0,1077.5 897.5,1075.5 898.0,1078.1 898.5,1075.6 899.0,1078.3 899.5,1075.9 900.0,1078.5 900.5,1076.2 901.0,1078.5 901.5,1076.7 902.0,1079.3 902.5,1077.5 903.0,1080.1 903.5,1077.7 904.0,1080.2 904.5,1078.0 905.0,1080.4 905.5,1077.8 906.0,1080.1 906.5,1077.8 907.0,1080.2 907.5,1078.3 908.0,1080.4 908.5,1078.4 909.0,1080.6 909.5,1077.9 910.0,1080.2 910.5,1078.0 911.0,1080.3 911.5,1078.0 912.0,1080.0 912.5,1077.5 913.0,1079.7 913.5,1077.0 914.0,1079.3 914.5,1077.1 915.0,1079.4 915.5,1077.1 916.0,1079.2 916.5,1076.6 917.0,1078.6 917.5,1076.2 918.0,1078.7 918.5,1076.5 919.0,1079.5 919.5,1077.5 920.0,1079.9 920.5,1078.0 921.0,1080.7 921.5,1078.3 922.0,1080.3 922.5,1077.7 923.0,1080.0 923.5,1077.6 924.0,1080.4 924.5,1077.9 925.0,1080.3 925.5,1077.8 926.0,1080.3 926.5,1077.6 927.0,1080.2 927.5,1078.0 928.0,1080.6 928.5,1078.7 929.0,1081.4 929.5,1079.6 930.0,1082.3 930.5,1079.9 931.0,1082.0 931.5,1080.0 932.0,1082.3 932.5,1079.8 933.0,1081.8 933.5,1079.2 934.0,1081.2 934.5,1078.5 935.0,1080.9 935.5,1078.5 936.0,1080.8 936.5,1079.2 937.0,1082.0 937.5,1079.8 938.0,1082.0 938.5,1079.8 939.0,1081.9 939.5,1079.4 940.0,1081.8 940.5,1079.7 941.0,1082.1 941.5,1079.4 942.0,1081.5 942.5,1078.9 943.0,1081.0 943.5,1078.9 944.0,1080.7 944.5,1078.4 945.0,1080.5 945.5,1078.1 946.0,1080.4 946.5,1078.1 947.0,1080.6 947.5,1078.2 948.0,1080.3 948.5,1078.2 949.0,1080.0 949.5,1077.9 950.0,1079.8 950.5,1077.1 951.0,1079.1 951.5,1076.2 952.0,1078.3 952.5,1075.8 953.0,1078.2 953.5,1075.6 954.0,1077.8 954.5,1075.5 955.0,1078.2 955.5,1075.8 956.0,1077.5 956.5,1075.2 957.0,1076.9 957.5,1074.5 958.0,1076.7 958.5,1074.7 959.0,1076.7 959.5,1074.2 960.0,1076.5 960.5,1074.0 961.0,1076.4 961.5,1074.6 962.0,1076.6 962.5,1074.3 963.0,1077.0 963.5,1074.5 964.0,1077.3 964.5,1075.0 965.0,1077.1 965.5,1074.8 966.0,1077.2 966.5,1075.3 967.0,1078.1 967.5,1076.5 968.0,1079.2 968.5,1076.9 969.0,1079.5 969.5,1077.6 970.0,1080.3 970.5,1077.5 971.0,1080.1 971.5,1077.8 972.0,1080.5 972.5,1078.5 973.0,1081.2 973.5,1079.0 974.0,1081.3 974.5,1079.3 975.0,1081.5 975.5,1079.3 976.0,1081.6 976.5,1079.6 977.0,1082.1 977.5,1080.0 978.0,1083.0 978.5,1081.8 979.0,1084.6 979.5,1083.5 980.0,1086.7 980.5,1086.0 981.0,1090.1 981.5,1090.2 982.0,1094.2 982.5,1093.9 983.0,1098.2 983.5,1097.6 984.0,1101.1 984.5,1099.8 985.0,1102.5 985.5,1100.4 986.0,1103.0 986.5,1100.1 987.0,1101.3 987.5,1097.7 988.0,1098.1 988.5,1094.1 989.0,1094.3 989.5,1090.7 990.0,1090.9 990.5,1087.6 991.0,1087.9 991.5,1084.2 992.0,1085.2 992.5,1082.0 993.0,1083.7 993.5,1080.6 994.0,1082.1 994.5,1079.1 995.0,1080.9 995.5,1077.7 996.0,1079.6 996.5,1077.0 997.0,1078.9 997.5,1076.4 998.0,1078.5 998.5,1075.9 999.0,1077.4 999.5,1074.4 1000.0,1076.1 1000.5,1073.0 1001.0,1075.0 1001.5,1072.3 1002.0,1074.0 1002.5,1071.5 1003.0,1073.8 1003.5,1071.6 1004.0,1074.3 1004.5,1071.7 1005.0,1073.9 1005.5,1071.6 1006.0,1074.2 1006.5,1071.8 1007.0,1073.8 1007.5,1071.6 1008.0,1073.6 1008.5,1071.1 1009.0,1073.2 1009.5,1070.7 1010.0,1072.9 1010.5,1070.5 1011.0,1073.2 1011.5,1071.1 1012.0,1073.7 1012.5,1071.6 1013.0,1074.7 1013.5,1072.8 1014.0,1075.4 1014.5,1072.9 1015.0,1075.3 1015.5,1073.0 1016.0,1075.4 1016.5,1073.2 1017.0,1076.0 1017.5,1074.0 1018.0,1076.6 1018.5,1074.1 1019.0,1076.7 1019.5,1074.5 1020.0,1077.4 1020.5,1075.5 1021.0,1078.2 1021.5,1076.0 1022.0,1078.3 1022.5,1076.0 1023.0,1078.6 1023.5,1076.5 1024.0,1078.7 1024.5,1076.9 1025.0,1079.6 1025.5,1077.4 1026.0,1080.1 1026.5,1077.9 1027.0,1080.0 1027.5,1077.8 1028.0,1080.0 1028.5,1077.8 1029.0,1079.9 1029.5,1078.0 1030.0,1080.4 1030.5,1078.0 1031.0,1080.8 1031.5,1078.5 1032.0,1080.6 1032.5,1078.4 1033.0,1081.0 1033.5,1079.0 1034.0,1081.2 1034.5,1078.9 1035.0,1081.0 1035.5,1078.8 1036.0,1080.9 1036.5,1078.9 1037.0,1081.3 1037.5,1079.4 1038.0,1081.5 1038.5,1079.3 1039.0,1081.4 1039.5,1078.7 1040.0,1081.0 1040.5,1078.7 1041.0,1081.4 1041.5,1078.9 1042.0,1081.4 1042.5,1079.0 1043.0,1080.9 1043.5,1078.5 1044.0,1080.6 1044.5,1078.8 1045.0,1080.9 1045.5,1079.1 1046.0,1081.4 1046.5,1078.9 1047.0,1081.2 1047.5,1078.6 1048.0,1081.2 1048.5,1078.8 1049.0,1081.3 1049.5,1078.6 1050.0,1081.3 1050.5,1079.2 1051.0,1081.2 1051.5,1079.0 1052.0,1081.5 1052.5,1078.9 1053.0,1080.8 1053.5,1078.0 1054.0,1080.5 1054.5,1078.3 1055.0,1080.8 1055.5,1078.6 1056.0,1080.8 1056.5,1078.9 1057.0,1080.8 1057.5,1078.4 1058.0,1080.8 1058.5,1078.4 1059.0,1080.5 1059.5,1078.1 1060.0,1080.2 1060.5,1078.2 1061.0,1079.8 1061.5,1077.6 1062.0,1079.6 1062.5,1077.3 1063.0,1079.7 1063.5,1077.7 1064.0,1080.1 1064.5,1078.1 1065.0,1080.8 1065.5,1078.5 1066.0,1080.9 1066.5,1078.3 1067.0,1080.5 1067.5,1077.9 1068.0,1080.2 1068.5,1077.7 1069.0,1079.7 1069.5,1077.6 1070.0,1079.9 1070.5,1077.7 1071.0,1080.0 1071.5,1077.6 1072.0,1080.1 1072.5,1078.1 1073.0,1080.0 1073.5,1077.5 1074.0,1080.0 1074.5,1077.7 1075.0,1079.9 1075.5,1077.8 1076.0,1080.6 1076.5,1078.4 1077.0,1081.0 1077.5,1079.0 1078.0,1081.8 1078.5,1079.4 1079.0,1081.8 1079.5,1079.7 1080.0,1082.0 1080.5,1079.8 1081.0,1082.3 1081.5,1080.1 1082.0,1082.2 1082.5,1080.0 1083.0,1082.4 1083.5,1079.9 1084.0,1082.4 1084.5,1080.2 1085.0,1082.5 1085.5,1079.7 1086.0,1082.0 1086.5,1079.4 1087.0,1081.6 1087.5,1079.4 1088.0,1081.7 1088.5,1079.7 1089.0,1082.3 1089.5,1080.0 1090.0,1082.5 1090.5,1080.5 1091.0,1082.7 1091.5,1080.2 1092.0,1082.7 1092.5,1079.8 1093.0,1082.1 1093.5,1079.4 1094.0,1081.9 1094.5,1079.1 1095.0,1081.7 1095.5,1079.2 1096.0,1081.7 1096.5,1079.3 1097.0,1081.7 1097.5,1079.4 1098.0,1081.4 1098.5,1079.0 1099.0,1081.0 1099.5,1078.8 1100.0,1081.1 1100.5,1078.8 1101.0,1081.1 1101.5,1078.6 1102.0,1080.9 1102.5,1078.7 1103.0,1081.0 1103.5,1078.8 1104.0,1081.2 1104.5,1079.1 1105.0,1081.4 1105.5,1078.6 1106.0,1081.2 1106.5,1078.6 1107.0,1081.3 1107.5,1079.3 1108.0,1081.4 1108.5,1079.1 1109.0,1081.3 1109.5,1078.6 1110.0,1080.7 1110.5,1078.2 1111.0,1080.5 1111.5,1078.5 1112.0,1080.9 1112.5,1079.3 1113.0,1081.4 1113.5,1079.0 1114.0,1080.8 1114.5,1078.2 1115.0,1080.5" fill="none" stroke="#e6509c" stroke-width="2.0" stroke-linejoin="round" opacity="1"/>
<polygon points="1163.0,284.5 1164.0,289.8 1165.0,291.6 1166.0,290.1 1167.0,292.1 1168.0,292.8 1169.0,294.1 1170.0,294.0 1171.0,295.0 1172.0,295.7 1173.0,292.7 1174.0,278.9 1175.0,291.5 1176.0,290.2 1177.0,289.6 1178.0,291.9 1179.0,290.2 1180.0,291.2 1181.0,279.2 1182.0,292.9 1183.0,291.8 1184.0,291.5 1185.0,291.7 1186.0,293.0 1187.0,292.0 1188.0,290.6 1189.0,290.5 1190.0,273.9 1191.0,289.7 1192.0,291.4 1193.0,291.9 1194.0,287.8 1195.0,288.5 1196.0,284.1 1197.0,250.1 1198.0,235.0 1199.0,253.9 1200.0,287.9 1201.0,291.3 1202.0,291.5 1203.0,289.7 1204.0,289.4 1205.0,276.7 1206.0,289.3 1207.0,291.0 1208.0,289.3 1209.0,290.8 1210.0,286.9 1211.0,293.1 1212.0,292.9 1213.0,282.7 1214.0,290.9 1215.0,291.7 1216.0,293.0 1217.0,283.2 1218.0,292.9 1219.0,291.9 1220.0,277.3 1221.0,279.7 1222.0,293.2 1223.0,294.3 1224.0,293.0 1225.0,291.4 1226.0,292.4 1227.0,291.9 1228.0,290.1 1229.0,289.6 1230.0,290.0 1231.0,287.6 1232.0,288.2 1233.0,275.3 1234.0,289.8 1235.0,291.0 1236.0,289.6 1237.0,289.7 1238.0,291.0 1239.0,287.6 1240.0,288.2 1241.0,289.4 1242.0,288.9 1243.0,286.6 1244.0,289.1 1245.0,290.6 1246.0,290.3 1247.0,289.5 1248.0,288.2 1249.0,286.6 1250.0,288.9 1251.0,288.6 1252.0,283.6 1253.0,289.6 1254.0,290.6 1255.0,289.8 1256.0,293.0 1257.0,290.6 1258.0,289.8 1259.0,290.7 1260.0,290.9 1261.0,279.7 1262.0,291.7 1263.0,289.0 1264.0,273.4 1265.0,290.9 1266.0,272.7 1267.0,273.8 1268.0,289.7 1269.0,293.1 1270.0,292.7 1271.0,275.2 1272.0,291.6 1273.0,289.8 1274.0,293.1 1275.0,293.8 1276.0,293.9 1277.0,291.8 1278.0,283.2 1279.0,292.2 1280.0,292.9 1281.0,294.9 1282.0,296.5 1283.0,296.5 1284.0,289.1 1285.0,291.8 1286.0,293.8 1287.0,292.8 1288.0,291.8 1289.0,291.2 1290.0,291.6 1291.0,276.3 1292.0,290.8 1293.0,270.5 1294.0,290.4 1295.0,289.4 1296.0,291.0 1297.0,273.5 1298.0,291.0 1299.0,291.7 1300.0,288.1 1301.0,290.9 1302.0,291.5 1303.0,290.2 1304.0,289.3 1305.0,289.7 1306.0,288.6 1307.0,289.5 1308.0,286.4 1309.0,290.1 1310.0,291.0 1311.0,290.8 1312.0,293.3 1313.0,294.9 1314.0,294.3 1315.0,285.7 1316.0,295.9 1317.0,295.4 1318.0,296.8 1319.0,296.9 1320.0,295.5 1321.0,295.0 1322.0,280.0 1323.0,290.5 1324.0,294.3 1325.0,292.9 1326.0,295.0 1327.0,295.9 1328.0,296.5 1329.0,290.5 1330.0,298.8 1331.0,298.0 1332.0,295.7 1333.0,293.3 1334.0,295.9 1335.0,296.6 1336.0,294.8 1337.0,296.7 1338.0,293.7 1339.0,293.3 1340.0,280.4 1341.0,293.0 1342.0,291.1 1343.0,296.4 1344.0,296.6 1345.0,295.3 1346.0,295.3 1347.0,296.4 1348.0,294.8 1349.0,296.9 1350.0,297.7 1351.0,296.4 1352.0,295.5 1353.0,296.1 1354.0,293.7 1355.0,293.2 1356.0,294.8 1357.0,296.0 1358.0,296.8 1359.0,295.6 1360.0,295.2 1361.0,282.5 1362.0,293.5 1363.0,287.3 1364.0,291.9 1365.0,274.5 1366.0,276.2 1367.0,291.5 1368.0,291.0 1369.0,291.6 1370.0,281.6 1371.0,292.5 1372.0,284.6 1373.0,292.6 1374.0,292.7 1375.0,290.4 1376.0,292.6 1377.0,291.0 1378.0,291.5 1379.0,281.3 1380.0,290.7 1381.0,290.0 1382.0,289.7 1383.0,288.9 1384.0,290.0 1385.0,288.0 1386.0,289.8 1387.0,274.8 1388.0,290.3 1389.0,276.0 1390.0,289.2 1391.0,287.5 1392.0,287.5 1393.0,285.3 1394.0,285.6 1395.0,286.6 1396.0,286.8 1397.0,275.0 1398.0,286.8 1399.0,284.8 1400.0,289.8 1401.0,289.2 1402.0,285.9 1403.0,288.9 1404.0,287.3 1405.0,291.0 1406.0,288.7 1407.0,287.4 1408.0,291.2 1409.0,291.5 1410.0,285.5 1411.0,253.3 1412.0,239.0 1413.0,256.9 1414.0,289.1 1415.0,278.4 1416.0,282.7 1417.0,294.2 1418.0,293.6 1419.0,291.9 1420.0,287.9 1421.0,293.5 1422.0,284.0 1423.0,292.1 1424.0,292.1 1425.0,291.7 1426.0,291.8 1427.0,293.4 1428.0,293.4 1429.0,292.8 1430.0,290.5 1431.0,292.9 1432.0,290.9 1433.0,292.5 1434.0,292.7 1435.0,295.1 1436.0,295.8 1437.0,297.9 1438.0,296.6 1439.0,287.0 1440.0,296.0 1441.0,285.1 1442.0,295.8 1443.0,286.2 1444.0,292.0 1445.0,292.6 1446.0,293.4 1447.0,293.4 1448.0,294.5 1449.0,293.6 1450.0,292.6 1451.0,291.0 1452.0,295.5 1453.0,296.3 1454.0,293.3 1455.0,298.5 1456.0,295.8 1457.0,294.3 1458.0,294.4 1459.0,288.7 1460.0,280.3 1461.0,286.8 1462.0,277.6 1463.0,292.6 1464.0,274.8 1465.0,281.3 1466.0,295.4 1467.0,292.6 1468.0,287.3 1469.0,292.2 1470.0,294.3 1471.0,294.3 1472.0,293.9 1473.0,287.6 1474.0,295.0 1475.0,293.9 1476.0,291.9 1477.0,290.6 1478.0,276.6 1479.0,291.1 1480.0,290.0 1481.0,292.9 1482.0,289.4 1483.0,293.8 1484.0,292.3 1485.0,285.5 1486.0,282.8 1487.0,290.9 1488.0,282.8 1489.0,291.2 1490.0,279.6 1491.0,291.9 1492.0,290.6 1493.0,293.0 1494.0,292.8 1495.0,292.4 1496.0,293.0 1497.0,278.7 1498.0,292.6 1499.0,292.9 1500.0,280.3 1501.0,279.9 1502.0,291.1 1503.0,289.9 1504.0,290.7 1505.0,291.3 1506.0,290.3 1507.0,283.6 1508.0,291.0 1509.0,292.4 1510.0,293.2 1511.0,285.2 1512.0,289.1 1513.0,290.0 1514.0,292.0 1515.0,290.4 1516.0,286.4 1517.0,290.0 1518.0,289.2 1519.0,288.7 1520.0,288.8 1521.0,274.6 1522.0,290.4 1523.0,288.3 1524.0,280.4 1525.0,270.5 1526.0,292.2 1527.0,283.9 1528.0,290.3 1529.0,279.7 1530.0,289.3 1531.0,288.2 1532.0,291.3 1533.0,288.1 1534.0,288.1 1535.0,287.6 1536.0,290.3 1537.0,292.1 1538.0,291.0 1539.0,291.6 1540.0,291.7 1541.0,292.3 1542.0,289.4 1543.0,296.3 1544.0,293.2 1545.0,295.9 1546.0,295.6 1547.0,296.0 1548.0,286.2 1549.0,296.0 1550.0,298.1 1551.0,297.5 1552.0,298.7 1553.0,300.2 1554.0,300.6 1555.0,299.8 1556.0,297.3 1557.0,298.0 1558.0,299.6 1559.0,300.3 1560.0,300.6 1561.0,296.2 1562.0,285.5 1563.0,253.3 1564.0,239.0 1565.0,256.9 1566.0,289.1 1567.0,296.2 1568.0,296.6 1569.0,297.4 1570.0,296.8 1571.0,297.6 1572.0,298.2 1573.0,297.9 1574.0,296.1 1575.0,297.0 1576.0,296.0 1577.0,294.6 1578.0,282.7 1579.0,246.9 1580.0,231.0 1581.0,250.9 1582.0,286.6 1583.0,293.0 1584.0,293.4 1585.0,292.3 1586.0,292.5 1587.0,277.0 1588.0,285.1 1589.0,286.6 1590.0,288.0 1591.0,292.7 1592.0,291.5 1593.0,285.2 1594.0,292.4 1595.0,293.4 1596.0,291.4 1597.0,294.2 1598.0,294.2 1599.0,293.0 1600.0,292.7 1601.0,292.4 1602.0,294.8 1603.0,295.3 1604.0,294.5 1605.0,294.6 1606.0,293.5 1607.0,291.9 1608.0,291.3 1609.0,291.4 1610.0,291.3 1611.0,291.7 1612.0,289.5 1613.0,292.3 1614.0,281.2 1615.0,289.3 1616.0,277.3 1617.0,271.7 1618.0,291.5 1619.0,279.6 1620.0,291.7 1621.0,285.3 1622.0,291.6 1623.0,288.0 1624.0,290.6 1625.0,290.3 1626.0,288.5 1627.0,287.2 1628.0,289.1 1629.0,284.6 1630.0,290.3 1631.0,287.2 1632.0,279.6 1633.0,272.9 1634.0,291.1 1635.0,292.0 1636.0,291.9 1637.0,291.2 1638.0,291.9 1639.0,291.4 1640.0,293.1 1641.0,280.3 1642.0,280.8 1643.0,292.9 1644.0,293.1 1645.0,284.9 1646.0,294.8 1647.0,293.7 1648.0,295.1 1649.0,293.4 1650.0,293.6 1651.0,293.7 1652.0,277.4 1653.0,294.1 1654.0,293.4 1655.0,294.9 1656.0,295.2 1657.0,294.1 1658.0,294.9 1659.0,292.3 1660.0,292.1 1661.0,293.0 1662.0,292.2 1663.0,292.7 1664.0,292.7 1665.0,288.3 1666.0,280.5 1667.0,268.5 1668.0,288.6 1669.0,288.6 1670.0,290.7 1671.0,284.4 1672.0,290.9 1673.0,287.1 1674.0,286.9 1675.0,287.9 1676.0,289.2 1677.0,279.7 1678.0,287.4 1679.0,288.4 1680.0,268.5 1681.0,289.6 1682.0,271.6 1683.0,287.3 1684.0,284.3 1685.0,271.6 1686.0,250.1 1687.0,235.0 1688.0,253.9 1689.0,287.9 1690.0,290.2 1691.0,287.0 1692.0,288.0 1693.0,287.1 1694.0,272.4 1695.0,289.4 1696.0,288.3 1697.0,290.5 1698.0,288.9 1699.0,272.6 1700.0,289.7 1701.0,289.2 1702.0,287.3 1703.0,288.3 1704.0,289.0 1705.0,277.9 1706.0,289.4 1707.0,288.7 1708.0,277.2 1709.0,287.7 1710.0,271.0 1711.0,268.6 1712.0,292.4 1713.0,283.7 1714.0,290.0 1715.0,289.3 1716.0,286.8 1717.0,276.0 1718.0,287.7 1719.0,289.4 1720.0,287.3 1721.0,284.4 1722.0,286.5 1723.0,273.2 1724.0,287.5 1725.0,267.8 1726.0,285.9 1727.0,284.8 1728.0,287.3 1729.0,286.0 1730.0,288.1 1731.0,288.0 1732.0,271.9 1733.0,286.2 1734.0,275.5 1735.0,288.0 1736.0,276.7 1737.0,265.3 1738.0,286.2 1739.0,289.8 1740.0,287.4 1741.0,288.5 1742.0,290.1 1743.0,288.6 1744.0,287.7 1745.0,287.4 1746.0,287.4 1747.0,287.4 1748.0,286.2 1749.0,264.2 1750.0,288.2 1751.0,274.6 1752.0,288.4 1753.0,289.0 1754.0,287.6 1755.0,288.2 1756.0,288.2 1757.0,287.1 1758.0,269.4 1759.0,288.1 1760.0,275.6 1761.0,289.5 1762.0,287.8 1763.0,288.4 1764.0,286.7 1765.0,290.3 1766.0,287.9 1767.0,289.1 1768.0,288.9 1769.0,289.2 1770.0,279.6 1771.0,289.1 1772.0,292.5 1773.0,292.0 1774.0,294.2 1775.0,293.1 1776.0,286.3 1777.0,293.7 1778.0,295.3 1779.0,295.3 1780.0,298.3 1781.0,297.0 1782.0,296.3 1783.0,285.9 1784.0,287.8 1785.0,293.8 1786.0,293.2 1787.0,293.2 1788.0,293.8 1789.0,279.9 1790.0,294.3 1791.0,293.8 1792.0,295.4 1793.0,293.8 1794.0,292.2 1795.0,295.0 1796.0,294.8 1797.0,281.7 1798.0,292.7 1799.0,292.7 1800.0,291.6 1801.0,291.2 1802.0,289.0 1803.0,269.4 1804.0,288.5 1805.0,267.5 1806.0,289.1 1807.0,282.8 1808.0,287.4 1809.0,290.9 1810.0,290.0 1811.0,278.9 1812.0,290.0 1813.0,291.8 1814.0,289.5 1815.0,290.3 1816.0,292.0 1817.0,290.9 1818.0,270.9 1819.0,289.3 1820.0,275.4 1821.0,290.7 1822.0,290.3 1823.0,286.0 1824.0,270.9 1825.0,261.0 1826.0,273.4 1827.0,290.1 1828.0,291.0 1829.0,275.9 1830.0,291.1 1831.0,291.7 1832.0,291.4 1833.0,292.3 1834.0,291.3 1835.0,292.2 1836.0,281.3 1837.0,287.6 1838.0,291.3 1839.0,274.3 1840.0,279.1 1841.0,289.7 1842.0,291.6 1843.0,292.2 1844.0,295.3 1845.0,295.8 1846.0,293.0 1847.0,292.9 1848.0,292.2 1849.0,296.8 1850.0,285.5 1851.0,294.2 1852.0,295.7 1853.0,296.3 1854.0,295.7 1855.0,294.7 1856.0,293.8 1857.0,293.1 1858.0,294.1 1859.0,294.5 1860.0,295.5 1861.0,294.8 1862.0,293.6 1863.0,275.8 1864.0,293.7 1865.0,294.1 1866.0,292.5 1867.0,292.2 1868.0,291.7 1869.0,290.8 1870.0,282.4 1871.0,291.7 1872.0,292.4 1873.0,274.3 1874.0,273.2 1875.0,287.4 1876.0,290.8 1877.0,288.8 1878.0,286.7 1879.0,290.0 1880.0,289.9 1881.0,274.5 1882.0,277.0 1883.0,284.0 1884.0,287.4 1885.0,288.2 1886.0,288.5 1887.0,292.6 1888.0,294.9 1889.0,294.0 1890.0,295.2 1891.0,293.2 1892.0,279.4 1893.0,282.0 1894.0,294.3 1895.0,293.5 1896.0,294.0 1897.0,293.5 1898.0,276.2 1899.0,294.3 1900.0,297.0 1901.0,289.1 1902.0,293.4 1903.0,298.2 1904.0,291.3 1905.0,287.4 1906.0,298.0 1907.0,301.1 1908.0,299.5 1909.0,299.6 1910.0,291.8 1911.0,293.7 1912.0,298.0 1913.0,294.5 1914.0,295.1 1915.0,293.3 1916.0,291.6 1917.0,283.1 1918.0,291.6 1919.0,293.7 1920.0,293.9 1921.0,291.3 1922.0,294.7 1923.0,294.1 1924.0,293.7 1925.0,296.1 1926.0,278.4 1927.0,294.4 1928.0,296.3 1929.0,294.4 1930.0,287.0 1931.0,285.5 1932.0,292.7 1933.0,288.9 1934.0,289.0 1935.0,290.4 1936.0,289.2 1937.0,290.2 1938.0,289.8 1939.0,284.1 1940.0,250.1 1941.0,235.0 1942.0,253.9 1943.0,287.9 1944.0,266.6 1945.0,287.4 1946.0,285.0 1947.0,286.3 1948.0,283.7 1949.0,286.2 1950.0,278.9 1951.0,281.6 1952.0,280.5 1953.0,285.0 1954.0,269.5 1955.0,285.8 1956.0,283.1 1957.0,284.6 1958.0,285.0 1959.0,281.8 1960.0,266.8 1961.0,286.4 1962.0,289.6 1963.0,290.3 1964.0,289.7 1965.0,287.4 1966.0,291.2 1967.0,276.3 1968.0,291.9 1969.0,285.8 1970.0,294.5 1971.0,295.0 1972.0,295.4 1973.0,296.3 1974.0,284.2 1975.0,297.0 1976.0,296.4 1977.0,294.8 1978.0,284.3 1979.0,279.1 1980.0,294.5 1981.0,296.4 1982.0,282.5 1983.0,294.6 1984.0,283.0 1985.0,294.8 1986.0,294.3 1987.0,293.3 1988.0,293.2 1989.0,293.3 1990.0,287.3 1991.0,293.4 1992.0,292.9 1993.0,292.1 1994.0,293.2 1995.0,294.4 1996.0,291.9 1997.0,294.3 1998.0,293.3 1999.0,294.0 2000.0,293.2 2001.0,294.9 2002.0,295.0 2003.0,296.9 2004.0,297.4 2005.0,297.2 2006.0,290.7 2007.0,298.0 2008.0,297.7 2009.0,296.8 2010.0,294.1 2011.0,297.0 2012.0,294.9 2013.0,297.8 2014.0,299.1 2015.0,294.8 2016.0,290.8 2017.0,298.8 2018.0,300.7 2019.0,299.9 2020.0,299.6 2021.0,300.0 2022.0,297.1 2023.0,299.8 2024.0,300.0 2025.0,299.9 2026.0,298.4 2027.0,299.4 2028.0,300.5 2029.0,299.1 2030.0,297.8 2031.0,297.9 2032.0,298.0 2033.0,297.1 2034.0,298.1 2035.0,290.2 2036.0,293.2 2037.0,270.9 2038.0,261.0 2039.0,273.4 2040.0,294.8 2041.0,294.4 2042.0,291.7 2043.0,293.2 2044.0,293.1 2045.0,280.3 2046.0,291.7 2047.0,293.1 2048.0,289.9 2049.0,290.1 2050.0,279.9 2051.0,277.7 2052.0,289.2 2053.0,268.3 2054.0,288.7 2055.0,289.5 2056.0,286.2 2057.0,285.6 2058.0,287.4 2059.0,270.5 2060.0,288.0 2061.0,271.1 2062.0,288.2 2063.0,286.0 2064.0,289.1 2065.0,288.0 2066.0,289.1 2067.0,287.2 2068.0,272.5 2069.0,274.4 2070.0,286.4 2071.0,276.9 2072.0,288.6 2073.0,288.7 2074.0,290.3 2075.0,290.6 2076.0,290.0 2077.0,291.3 2078.0,290.9 2079.0,288.4 2080.0,288.0 2081.0,287.2 2082.0,290.0 2083.0,264.8 2084.0,287.7 2085.0,289.3 2086.0,286.8 2087.0,289.3 2088.0,277.9 2089.0,289.7 2090.0,287.4 2091.0,285.5 2092.0,287.5 2093.0,286.3 2094.0,287.0 2095.0,287.5 2096.0,286.8 2097.0,285.0 2098.0,290.0 2099.0,287.8 2100.0,288.1 2101.0,290.1 2102.0,288.4 2103.0,288.9 2104.0,291.5 2105.0,283.2 2106.0,294.1 2107.0,292.9 2108.0,291.6 2109.0,295.0 2110.0,284.8 2111.0,294.5 2112.0,294.4 2113.0,294.6 2114.0,282.7 2115.0,293.3 2116.0,289.3 2117.0,290.3 2118.0,292.3 2119.0,295.0 2120.0,293.9 2121.0,293.6 2122.0,294.2 2123.0,294.2 2124.0,294.3 2125.0,278.8 2126.0,281.3 2127.0,293.1 2128.0,290.4 2129.0,292.3 2130.0,291.8 2131.0,289.3 2132.0,290.6 2133.0,290.4 2134.0,290.5 2135.0,286.2 2136.0,291.4 2137.0,284.8 2138.0,290.8 2139.0,284.4 2140.0,280.0 2141.0,288.6 2142.0,288.5 2143.0,289.1 2144.0,288.5 2145.0,287.3 2146.0,290.1 2147.0,290.1 2148.0,291.0 2149.0,289.6 2150.0,290.7 2151.0,291.9 2152.0,292.2 2153.0,294.1 2154.0,292.0 2155.0,293.5 2156.0,285.7 2156.0,335.7 2155.0,328.9 2154.0,337.9 2153.0,328.4 2152.0,329.3 2151.0,329.5 2150.0,329.9 2149.0,329.5 2148.0,330.5 2147.0,329.6 2146.0,332.1 2145.0,340.6 2144.0,330.2 2143.0,332.1 2142.0,330.6 2141.0,332.0 2140.0,333.5 2139.0,352.8 2138.0,331.7 2137.0,330.6 2136.0,331.0 2135.0,330.6 2134.0,350.2 2133.0,346.7 2132.0,331.4 2131.0,331.7 2130.0,329.9 2129.0,329.1 2128.0,329.6 2127.0,329.2 2126.0,329.0 2125.0,328.2 2124.0,326.9 2123.0,324.7 2122.0,333.5 2121.0,327.2 2120.0,327.0 2119.0,325.9 2118.0,330.3 2117.0,327.3 2116.0,327.3 2115.0,326.7 2114.0,325.7 2113.0,339.3 2112.0,334.0 2111.0,326.1 2110.0,326.5 2109.0,327.4 2108.0,328.6 2107.0,342.7 2106.0,327.7 2105.0,327.7 2104.0,329.8 2103.0,332.1 2102.0,341.5 2101.0,330.9 2100.0,348.3 2099.0,333.0 2098.0,332.0 2097.0,333.5 2096.0,330.9 2095.0,333.0 2094.0,330.9 2093.0,334.4 2092.0,333.9 2091.0,330.2 2090.0,330.4 2089.0,332.9 2088.0,334.6 2087.0,332.4 2086.0,332.4 2085.0,332.9 2084.0,349.2 2083.0,332.4 2082.0,332.9 2081.0,334.1 2080.0,331.9 2079.0,333.1 2078.0,330.0 2077.0,329.5 2076.0,345.5 2075.0,330.7 2074.0,343.0 2073.0,335.4 2072.0,333.3 2071.0,331.6 2070.0,332.8 2069.0,332.6 2068.0,333.1 2067.0,331.7 2066.0,334.6 2065.0,332.5 2064.0,341.5 2063.0,335.1 2062.0,335.0 2061.0,335.7 2060.0,334.6 2059.0,335.4 2058.0,333.2 2057.0,335.0 2056.0,334.0 2055.0,333.5 2054.0,343.4 2053.0,332.3 2052.0,333.8 2051.0,333.3 2050.0,350.4 2049.0,341.2 2048.0,330.7 2047.0,330.3 2046.0,328.2 2045.0,338.5 2044.0,326.6 2043.0,328.4 2042.0,328.6 2041.0,328.2 2040.0,327.1 2039.0,352.1 2038.0,366.0 2037.0,354.9 2036.0,329.9 2035.0,322.7 2034.0,326.0 2033.0,323.9 2032.0,328.0 2031.0,323.4 2030.0,322.9 2029.0,328.5 2028.0,319.9 2027.0,321.4 2026.0,334.2 2025.0,328.8 2024.0,321.1 2023.0,320.8 2022.0,326.2 2021.0,329.7 2020.0,322.7 2019.0,321.0 2018.0,320.6 2017.0,321.3 2016.0,320.3 2015.0,327.7 2014.0,321.4 2013.0,323.7 2012.0,323.0 2011.0,326.5 2010.0,331.1 2009.0,326.2 2008.0,323.4 2007.0,324.6 2006.0,322.7 2005.0,324.1 2004.0,323.8 2003.0,324.5 2002.0,325.7 2001.0,335.1 2000.0,337.5 1999.0,328.1 1998.0,328.7 1997.0,326.8 1996.0,327.5 1995.0,327.5 1994.0,327.2 1993.0,328.5 1992.0,326.4 1991.0,327.1 1990.0,326.3 1989.0,328.4 1988.0,330.4 1987.0,327.4 1986.0,326.1 1985.0,339.4 1984.0,337.9 1983.0,326.9 1982.0,325.2 1981.0,325.6 1980.0,341.6 1979.0,328.9 1978.0,330.1 1977.0,324.6 1976.0,324.3 1975.0,324.6 1974.0,324.0 1973.0,327.4 1972.0,325.6 1971.0,325.0 1970.0,326.2 1969.0,338.6 1968.0,328.2 1967.0,332.5 1966.0,350.9 1965.0,332.2 1964.0,334.5 1963.0,331.6 1962.0,333.2 1961.0,335.5 1960.0,332.1 1959.0,334.9 1958.0,334.7 1957.0,336.1 1956.0,337.4 1955.0,355.1 1954.0,337.9 1953.0,337.5 1952.0,339.3 1951.0,366.3 1950.0,336.5 1949.0,338.9 1948.0,353.6 1947.0,344.6 1946.0,336.3 1945.0,351.1 1944.0,331.0 1943.0,340.4 1942.0,385.1 1941.0,410.0 1940.0,390.1 1939.0,345.3 1938.0,330.4 1937.0,330.4 1936.0,331.5 1935.0,330.3 1934.0,338.8 1933.0,332.5 1932.0,329.8 1931.0,327.7 1930.0,327.2 1929.0,325.6 1928.0,331.4 1927.0,327.1 1926.0,330.4 1925.0,328.4 1924.0,326.7 1923.0,324.5 1922.0,326.5 1921.0,328.9 1920.0,327.7 1919.0,328.9 1918.0,328.7 1917.0,328.6 1916.0,328.0 1915.0,327.9 1914.0,326.0 1913.0,334.4 1912.0,324.4 1911.0,320.5 1910.0,323.5 1909.0,320.0 1908.0,321.0 1907.0,326.8 1906.0,322.5 1905.0,323.0 1904.0,323.0 1903.0,328.5 1902.0,323.6 1901.0,324.4 1900.0,324.4 1899.0,327.1 1898.0,326.5 1897.0,325.5 1896.0,326.3 1895.0,327.1 1894.0,327.7 1893.0,327.1 1892.0,325.5 1891.0,327.2 1890.0,324.8 1889.0,336.1 1888.0,326.5 1887.0,330.2 1886.0,329.7 1885.0,332.2 1884.0,331.5 1883.0,352.4 1882.0,336.4 1881.0,332.3 1880.0,331.7 1879.0,333.3 1878.0,354.5 1877.0,332.4 1876.0,332.6 1875.0,332.6 1874.0,329.8 1873.0,328.3 1872.0,336.8 1871.0,326.8 1870.0,339.7 1869.0,334.8 1868.0,328.3 1867.0,327.1 1866.0,328.9 1865.0,327.8 1864.0,327.9 1863.0,340.8 1862.0,326.7 1861.0,325.6 1860.0,325.4 1859.0,338.9 1858.0,327.0 1857.0,328.7 1856.0,328.9 1855.0,325.6 1854.0,327.2 1853.0,331.9 1852.0,328.2 1851.0,325.4 1850.0,324.3 1849.0,326.0 1848.0,327.6 1847.0,335.6 1846.0,327.2 1845.0,334.9 1844.0,325.0 1843.0,327.4 1842.0,330.0 1841.0,340.5 1840.0,330.4 1839.0,336.8 1838.0,333.0 1837.0,330.7 1836.0,333.6 1835.0,329.6 1834.0,331.2 1833.0,329.7 1832.0,328.7 1831.0,328.3 1830.0,331.2 1829.0,327.7 1828.0,329.3 1827.0,328.9 1826.0,349.1 1825.0,362.0 1824.0,351.7 1823.0,336.2 1822.0,348.8 1821.0,334.6 1820.0,343.5 1819.0,342.0 1818.0,329.5 1817.0,328.3 1816.0,328.8 1815.0,339.7 1814.0,329.3 1813.0,330.4 1812.0,340.2 1811.0,329.8 1810.0,330.4 1809.0,332.0 1808.0,344.5 1807.0,331.0 1806.0,333.5 1805.0,333.2 1804.0,333.1 1803.0,337.2 1802.0,332.2 1801.0,329.3 1800.0,328.4 1799.0,339.0 1798.0,328.1 1797.0,329.0 1796.0,327.2 1795.0,325.8 1794.0,326.8 1793.0,325.9 1792.0,326.9 1791.0,327.1 1790.0,326.3 1789.0,324.9 1788.0,326.2 1787.0,328.8 1786.0,329.0 1785.0,326.9 1784.0,325.8 1783.0,324.7 1782.0,325.4 1781.0,325.0 1780.0,324.0 1779.0,332.8 1778.0,325.8 1777.0,336.1 1776.0,334.6 1775.0,326.2 1774.0,326.8 1773.0,341.5 1772.0,327.5 1771.0,332.2 1770.0,330.8 1769.0,333.1 1768.0,332.6 1767.0,338.0 1766.0,354.4 1765.0,333.7 1764.0,334.0 1763.0,335.2 1762.0,336.1 1761.0,340.4 1760.0,332.2 1759.0,333.5 1758.0,331.2 1757.0,333.0 1756.0,351.1 1755.0,334.1 1754.0,333.0 1753.0,331.5 1752.0,332.4 1751.0,333.7 1750.0,341.7 1749.0,344.9 1748.0,333.5 1747.0,344.5 1746.0,330.6 1745.0,332.0 1744.0,338.5 1743.0,331.6 1742.0,344.9 1741.0,332.2 1740.0,331.2 1739.0,331.0 1738.0,336.3 1737.0,331.6 1736.0,333.2 1735.0,339.7 1734.0,333.5 1733.0,351.2 1732.0,344.4 1731.0,332.8 1730.0,335.0 1729.0,357.8 1728.0,336.3 1727.0,333.3 1726.0,336.6 1725.0,343.1 1724.0,334.4 1723.0,334.4 1722.0,347.9 1721.0,332.4 1720.0,332.2 1719.0,332.4 1718.0,353.9 1717.0,349.7 1716.0,347.4 1715.0,333.0 1714.0,331.0 1713.0,328.9 1712.0,330.3 1711.0,340.1 1710.0,334.8 1709.0,336.8 1708.0,331.0 1707.0,332.0 1706.0,334.7 1705.0,332.0 1704.0,332.6 1703.0,332.6 1702.0,332.5 1701.0,340.0 1700.0,351.9 1699.0,329.5 1698.0,330.3 1697.0,331.6 1696.0,343.3 1695.0,333.7 1694.0,330.5 1693.0,351.6 1692.0,331.9 1691.0,332.7 1690.0,336.5 1689.0,334.1 1688.0,354.4 1687.0,369.0 1686.0,357.3 1685.0,333.6 1684.0,358.2 1683.0,350.0 1682.0,337.0 1681.0,331.6 1680.0,331.9 1679.0,334.7 1678.0,333.6 1677.0,331.1 1676.0,332.1 1675.0,330.7 1674.0,354.0 1673.0,333.2 1672.0,331.5 1671.0,333.5 1670.0,332.1 1669.0,331.3 1668.0,333.9 1667.0,333.6 1666.0,329.8 1665.0,330.3 1664.0,329.8 1663.0,328.2 1662.0,327.2 1661.0,326.9 1660.0,345.6 1659.0,340.5 1658.0,327.9 1657.0,326.7 1656.0,326.0 1655.0,326.5 1654.0,327.4 1653.0,325.1 1652.0,331.2 1651.0,334.4 1650.0,327.7 1649.0,328.2 1648.0,325.4 1647.0,327.8 1646.0,328.2 1645.0,326.4 1644.0,328.1 1643.0,331.4 1642.0,325.0 1641.0,326.4 1640.0,327.3 1639.0,337.4 1638.0,328.6 1637.0,329.6 1636.0,328.9 1635.0,340.0 1634.0,331.8 1633.0,327.6 1632.0,332.3 1631.0,329.4 1630.0,341.7 1629.0,330.3 1628.0,335.7 1627.0,333.5 1626.0,340.3 1625.0,332.4 1624.0,329.5 1623.0,329.9 1622.0,337.0 1621.0,330.1 1620.0,330.8 1619.0,335.3 1618.0,331.0 1617.0,329.5 1616.0,331.1 1615.0,328.7 1614.0,343.3 1613.0,329.8 1612.0,340.3 1611.0,328.9 1610.0,328.9 1609.0,329.7 1608.0,329.0 1607.0,327.4 1606.0,327.4 1605.0,327.2 1604.0,326.6 1603.0,328.6 1602.0,328.1 1601.0,329.0 1600.0,328.4 1599.0,326.9 1598.0,328.8 1597.0,328.0 1596.0,342.4 1595.0,335.9 1594.0,328.2 1593.0,330.0 1592.0,330.0 1591.0,328.1 1590.0,331.2 1589.0,329.4 1588.0,343.9 1587.0,328.4 1586.0,329.9 1585.0,327.8 1584.0,327.3 1583.0,327.7 1582.0,331.6 1581.0,363.4 1580.0,381.0 1579.0,366.9 1578.0,335.2 1577.0,327.4 1576.0,332.8 1575.0,323.6 1574.0,323.7 1573.0,323.3 1572.0,323.6 1571.0,323.9 1570.0,323.0 1569.0,324.4 1568.0,336.2 1567.0,323.8 1566.0,330.4 1565.0,360.4 1564.0,377.0 1563.0,363.7 1562.0,333.8 1561.0,323.8 1560.0,323.9 1559.0,321.1 1558.0,321.5 1557.0,321.3 1556.0,324.8 1555.0,328.4 1554.0,320.4 1553.0,329.2 1552.0,323.6 1551.0,323.9 1550.0,323.3 1549.0,335.8 1548.0,324.7 1547.0,324.0 1546.0,336.3 1545.0,325.7 1544.0,326.1 1543.0,325.2 1542.0,325.5 1541.0,328.8 1540.0,329.4 1539.0,346.1 1538.0,328.6 1537.0,331.0 1536.0,329.5 1535.0,331.6 1534.0,330.6 1533.0,330.1 1532.0,347.8 1531.0,331.0 1530.0,334.6 1529.0,331.1 1528.0,342.0 1527.0,330.7 1526.0,340.7 1525.0,332.0 1524.0,330.4 1523.0,347.5 1522.0,330.0 1521.0,330.6 1520.0,331.8 1519.0,330.6 1518.0,331.8 1517.0,329.6 1516.0,327.8 1515.0,348.2 1514.0,327.8 1513.0,328.1 1512.0,332.4 1511.0,327.9 1510.0,327.2 1509.0,336.6 1508.0,330.3 1507.0,330.9 1506.0,328.0 1505.0,328.9 1504.0,331.0 1503.0,330.6 1502.0,332.0 1501.0,332.4 1500.0,328.6 1499.0,328.5 1498.0,328.6 1497.0,334.1 1496.0,347.3 1495.0,340.0 1494.0,340.3 1493.0,328.8 1492.0,329.3 1491.0,329.9 1490.0,338.2 1489.0,327.7 1488.0,345.2 1487.0,342.0 1486.0,329.4 1485.0,329.2 1484.0,328.8 1483.0,333.8 1482.0,331.0 1481.0,330.1 1480.0,328.7 1479.0,328.0 1478.0,330.4 1477.0,330.0 1476.0,326.5 1475.0,327.6 1474.0,327.3 1473.0,327.0 1472.0,326.4 1471.0,340.1 1470.0,331.6 1469.0,327.1 1468.0,326.5 1467.0,332.5 1466.0,340.9 1465.0,327.8 1464.0,329.0 1463.0,327.1 1462.0,328.2 1461.0,332.0 1460.0,327.5 1459.0,327.0 1458.0,326.1 1457.0,323.4 1456.0,324.2 1455.0,323.6 1454.0,324.5 1453.0,328.2 1452.0,326.6 1451.0,329.4 1450.0,328.3 1449.0,327.6 1448.0,327.9 1447.0,327.4 1446.0,327.1 1445.0,341.7 1444.0,324.8 1443.0,326.0 1442.0,340.8 1441.0,325.7 1440.0,333.4 1439.0,323.6 1438.0,323.3 1437.0,326.8 1436.0,325.0 1435.0,326.2 1434.0,328.6 1433.0,327.7 1432.0,340.3 1431.0,327.8 1430.0,330.2 1429.0,327.4 1428.0,327.7 1427.0,342.2 1426.0,329.9 1425.0,338.7 1424.0,327.4 1423.0,329.2 1422.0,336.7 1421.0,340.0 1420.0,326.0 1419.0,336.2 1418.0,338.0 1417.0,327.5 1416.0,328.2 1415.0,330.1 1414.0,332.6 1413.0,365.6 1412.0,384.0 1411.0,369.3 1410.0,336.2 1409.0,329.9 1408.0,328.9 1407.0,329.4 1406.0,332.1 1405.0,332.1 1404.0,331.4 1403.0,332.5 1402.0,330.7 1401.0,332.4 1400.0,330.0 1399.0,346.7 1398.0,336.0 1397.0,335.7 1396.0,354.0 1395.0,336.0 1394.0,333.9 1393.0,347.1 1392.0,350.9 1391.0,335.4 1390.0,332.3 1389.0,349.0 1388.0,330.6 1387.0,332.4 1386.0,330.6 1385.0,350.8 1384.0,352.2 1383.0,333.8 1382.0,331.4 1381.0,345.0 1380.0,331.1 1379.0,328.4 1378.0,328.3 1377.0,330.5 1376.0,340.0 1375.0,345.6 1374.0,328.1 1373.0,328.8 1372.0,337.2 1371.0,328.3 1370.0,330.6 1369.0,327.5 1368.0,327.9 1367.0,328.5 1366.0,337.1 1365.0,328.3 1364.0,332.3 1363.0,327.9 1362.0,328.3 1361.0,327.6 1360.0,336.7 1359.0,324.0 1358.0,330.8 1357.0,338.7 1356.0,325.6 1355.0,327.1 1354.0,326.8 1353.0,325.5 1352.0,325.5 1351.0,324.7 1350.0,325.2 1349.0,325.3 1348.0,323.9 1347.0,327.5 1346.0,325.3 1345.0,326.0 1344.0,325.8 1343.0,324.1 1342.0,335.1 1341.0,326.1 1340.0,325.7 1339.0,328.3 1338.0,325.5 1337.0,324.9 1336.0,325.6 1335.0,325.5 1334.0,324.8 1333.0,327.1 1332.0,326.3 1331.0,324.5 1330.0,322.7 1329.0,324.2 1328.0,325.3 1327.0,338.9 1326.0,326.7 1325.0,336.5 1324.0,334.4 1323.0,340.7 1322.0,327.1 1321.0,324.9 1320.0,326.4 1319.0,325.8 1318.0,324.8 1317.0,323.3 1316.0,324.8 1315.0,324.0 1314.0,324.2 1313.0,328.5 1312.0,341.9 1311.0,328.7 1310.0,333.6 1309.0,332.3 1308.0,329.8 1307.0,330.5 1306.0,330.9 1305.0,332.8 1304.0,332.3 1303.0,330.8 1302.0,330.4 1301.0,329.9 1300.0,330.6 1299.0,331.6 1298.0,330.2 1297.0,350.7 1296.0,329.9 1295.0,331.5 1294.0,332.4 1293.0,348.6 1292.0,348.9 1291.0,332.0 1290.0,330.8 1289.0,330.4 1288.0,333.9 1287.0,328.9 1286.0,327.4 1285.0,324.9 1284.0,325.5 1283.0,338.8 1282.0,324.7 1281.0,326.4 1280.0,326.1 1279.0,328.7 1278.0,331.3 1277.0,343.2 1276.0,328.0 1275.0,327.4 1274.0,328.6 1273.0,331.0 1272.0,331.1 1271.0,329.6 1270.0,328.8 1269.0,328.1 1268.0,329.6 1267.0,334.9 1266.0,347.1 1265.0,329.9 1264.0,330.5 1263.0,330.8 1262.0,346.0 1261.0,331.0 1260.0,343.7 1259.0,329.9 1258.0,333.7 1257.0,334.5 1256.0,329.9 1255.0,344.3 1254.0,328.3 1253.0,344.0 1252.0,333.9 1251.0,333.3 1250.0,333.8 1249.0,334.3 1248.0,329.8 1247.0,334.6 1246.0,332.2 1245.0,348.3 1244.0,330.6 1243.0,336.6 1242.0,331.2 1241.0,329.9 1240.0,331.9 1239.0,334.7 1238.0,331.6 1237.0,343.4 1236.0,330.7 1235.0,329.8 1234.0,331.2 1233.0,341.0 1232.0,332.1 1231.0,332.1 1230.0,331.9 1229.0,329.3 1228.0,328.6 1227.0,343.9 1226.0,327.2 1225.0,328.9 1224.0,326.8 1223.0,326.4 1222.0,327.7 1221.0,328.7 1220.0,330.4 1219.0,329.9 1218.0,327.3 1217.0,328.1 1216.0,329.3 1215.0,330.0 1214.0,328.7 1213.0,330.7 1212.0,330.1 1211.0,330.9 1210.0,329.5 1209.0,330.6 1208.0,330.6 1207.0,328.5 1206.0,330.6 1205.0,329.0 1204.0,331.2 1203.0,338.5 1202.0,340.9 1201.0,339.8 1200.0,338.2 1199.0,379.9 1198.0,403.0 1197.0,384.5 1196.0,342.9 1195.0,346.3 1194.0,332.8 1193.0,331.3 1192.0,331.2 1191.0,330.3 1190.0,328.6 1189.0,329.2 1188.0,329.8 1187.0,330.6 1186.0,337.1 1185.0,330.5 1184.0,330.0 1183.0,328.0 1182.0,346.5 1181.0,343.5 1180.0,329.8 1179.0,328.3 1178.0,328.2 1177.0,330.9 1176.0,334.5 1175.0,328.9 1174.0,327.6 1173.0,328.9 1172.0,336.1 1171.0,327.5 1170.0,325.1 1169.0,327.9 1168.0,342.2 1167.0,345.5 1166.0,342.2 1165.0,331.0 1164.0,328.4 1163.0,330.0" fill="#383838" stroke="#383838" stroke-width="0.6" stroke-linejoin="round"/>
<polygon points="1160.0,524.2 1161.0,529.8 1162.0,531.4 1163.0,531.6 1164.0,531.1 1165.0,530.3 1166.0,532.4 1167.0,531.2 1168.0,529.5 1169.0,529.1 1170.0,529.2 1171.0,526.4 1172.0,526.3 1173.0,519.3 1174.0,518.5 1175.0,525.7 1176.0,511.2 1177.0,515.5 1178.0,524.4 1179.0,523.0 1180.0,512.9 1181.0,523.4 1182.0,520.6 1183.0,523.1 1184.0,505.1 1185.0,522.9 1186.0,507.9 1187.0,525.4 1188.0,524.8 1189.0,523.7 1190.0,524.4 1191.0,523.9 1192.0,522.2 1193.0,521.6 1194.0,513.9 1195.0,522.7 1196.0,523.4 1197.0,523.5 1198.0,526.0 1199.0,520.7 1200.0,525.2 1201.0,524.8 1202.0,522.4 1203.0,525.3 1204.0,515.2 1205.0,527.3 1206.0,527.7 1207.0,528.2 1208.0,529.1 1209.0,527.6 1210.0,529.4 1211.0,515.4 1212.0,516.4 1213.0,524.0 1214.0,511.7 1215.0,474.6 1216.0,458.1 1217.0,478.7 1218.0,515.8 1219.0,524.0 1220.0,530.3 1221.0,530.0 1222.0,530.4 1223.0,530.7 1224.0,519.0 1225.0,530.1 1226.0,528.8 1227.0,520.8 1228.0,528.2 1229.0,527.9 1230.0,526.1 1231.0,527.2 1232.0,525.4 1233.0,525.3 1234.0,525.6 1235.0,526.1 1236.0,524.4 1237.0,526.2 1238.0,525.7 1239.0,526.8 1240.0,526.0 1241.0,514.5 1242.0,525.6 1243.0,508.8 1244.0,513.8 1245.0,516.5 1246.0,524.9 1247.0,523.6 1248.0,526.3 1249.0,525.1 1250.0,525.3 1251.0,524.4 1252.0,515.8 1253.0,524.8 1254.0,522.1 1255.0,511.7 1256.0,517.1 1257.0,527.1 1258.0,525.8 1259.0,524.3 1260.0,514.4 1261.0,515.1 1262.0,521.3 1263.0,516.6 1264.0,526.0 1265.0,523.9 1266.0,523.7 1267.0,524.3 1268.0,526.2 1269.0,526.8 1270.0,519.2 1271.0,525.0 1272.0,523.1 1273.0,524.4 1274.0,523.3 1275.0,524.9 1276.0,524.4 1277.0,524.5 1278.0,525.1 1279.0,528.3 1280.0,526.4 1281.0,518.1 1282.0,524.1 1283.0,527.6 1284.0,524.8 1285.0,522.8 1286.0,528.9 1287.0,528.5 1288.0,528.7 1289.0,530.1 1290.0,530.8 1291.0,530.5 1292.0,529.2 1293.0,524.4 1294.0,503.6 1295.0,494.4 1296.0,505.9 1297.0,526.7 1298.0,530.6 1299.0,529.6 1300.0,530.4 1301.0,529.5 1302.0,531.1 1303.0,530.0 1304.0,518.8 1305.0,529.7 1306.0,528.7 1307.0,527.0 1308.0,529.0 1309.0,524.9 1310.0,531.1 1311.0,520.2 1312.0,530.6 1313.0,529.2 1314.0,530.8 1315.0,520.8 1316.0,530.3 1317.0,531.3 1318.0,531.5 1319.0,532.0 1320.0,530.2 1321.0,530.0 1322.0,519.3 1323.0,530.1 1324.0,530.4 1325.0,525.4 1326.0,529.7 1327.0,528.0 1328.0,519.7 1329.0,525.5 1330.0,528.5 1331.0,526.2 1332.0,527.2 1333.0,529.1 1334.0,529.0 1335.0,522.9 1336.0,526.2 1337.0,526.6 1338.0,522.7 1339.0,526.8 1340.0,524.9 1341.0,528.4 1342.0,524.5 1343.0,516.4 1344.0,525.7 1345.0,526.5 1346.0,521.1 1347.0,527.7 1348.0,528.5 1349.0,527.3 1350.0,518.6 1351.0,527.7 1352.0,527.5 1353.0,526.9 1354.0,527.2 1355.0,527.7 1356.0,514.1 1357.0,519.0 1358.0,524.5 1359.0,517.3 1360.0,527.6 1361.0,526.6 1362.0,525.6 1363.0,528.0 1364.0,526.6 1365.0,525.4 1366.0,526.1 1367.0,526.8 1368.0,525.6 1369.0,524.9 1370.0,525.0 1371.0,526.4 1372.0,525.8 1373.0,522.0 1374.0,526.6 1375.0,517.1 1376.0,527.8 1377.0,529.0 1378.0,529.5 1379.0,520.9 1380.0,530.8 1381.0,530.8 1382.0,522.0 1383.0,529.3 1384.0,530.1 1385.0,528.0 1386.0,529.6 1387.0,530.2 1388.0,528.5 1389.0,528.3 1390.0,530.5 1391.0,528.2 1392.0,522.0 1393.0,527.6 1394.0,527.7 1395.0,516.2 1396.0,519.9 1397.0,526.7 1398.0,516.5 1399.0,513.3 1400.0,506.5 1401.0,515.0 1402.0,523.2 1403.0,526.0 1404.0,525.0 1405.0,526.2 1406.0,525.8 1407.0,514.4 1408.0,526.5 1409.0,526.7 1410.0,526.8 1411.0,517.6 1412.0,523.8 1413.0,524.5 1414.0,511.9 1415.0,522.2 1416.0,512.5 1417.0,526.3 1418.0,525.9 1419.0,516.1 1420.0,525.1 1421.0,525.4 1422.0,525.2 1423.0,525.0 1424.0,524.4 1425.0,514.9 1426.0,525.2 1427.0,524.2 1428.0,515.0 1429.0,522.5 1430.0,509.7 1431.0,521.6 1432.0,508.9 1433.0,520.9 1434.0,521.6 1435.0,509.8 1436.0,520.5 1437.0,523.0 1438.0,522.8 1439.0,521.8 1440.0,523.1 1441.0,512.1 1442.0,510.2 1443.0,519.4 1444.0,521.8 1445.0,520.7 1446.0,509.1 1447.0,520.7 1448.0,521.6 1449.0,523.7 1450.0,509.1 1451.0,523.6 1452.0,506.9 1453.0,518.7 1454.0,521.8 1455.0,512.7 1456.0,520.1 1457.0,521.1 1458.0,521.4 1459.0,522.8 1460.0,520.8 1461.0,521.6 1462.0,521.7 1463.0,509.8 1464.0,517.5 1465.0,520.1 1466.0,518.3 1467.0,519.7 1468.0,519.5 1469.0,523.0 1470.0,519.9 1471.0,521.8 1472.0,511.9 1473.0,522.0 1474.0,519.1 1475.0,520.2 1476.0,518.8 1477.0,520.9 1478.0,509.9 1479.0,521.7 1480.0,509.1 1481.0,519.5 1482.0,522.5 1483.0,521.1 1484.0,521.0 1485.0,523.4 1486.0,504.5 1487.0,511.7 1488.0,525.0 1489.0,524.2 1490.0,524.3 1491.0,524.3 1492.0,526.5 1493.0,527.4 1494.0,526.1 1495.0,528.4 1496.0,528.8 1497.0,528.1 1498.0,528.6 1499.0,529.9 1500.0,528.9 1501.0,528.3 1502.0,527.1 1503.0,521.4 1504.0,530.6 1505.0,529.4 1506.0,528.4 1507.0,527.7 1508.0,528.5 1509.0,529.8 1510.0,529.7 1511.0,529.4 1512.0,529.5 1513.0,528.7 1514.0,526.7 1515.0,524.0 1516.0,528.2 1517.0,526.8 1518.0,526.2 1519.0,525.1 1520.0,524.9 1521.0,525.3 1522.0,524.4 1523.0,511.2 1524.0,524.2 1525.0,524.5 1526.0,522.6 1527.0,523.8 1528.0,519.6 1529.0,520.4 1530.0,520.5 1531.0,505.5 1532.0,520.8 1533.0,521.5 1534.0,512.9 1535.0,521.3 1536.0,521.6 1537.0,523.3 1538.0,513.0 1539.0,524.2 1540.0,522.4 1541.0,523.5 1542.0,522.8 1543.0,525.6 1544.0,521.1 1545.0,524.0 1546.0,524.9 1547.0,522.5 1548.0,525.0 1549.0,516.9 1550.0,525.6 1551.0,525.5 1552.0,524.0 1553.0,528.0 1554.0,527.7 1555.0,527.5 1556.0,527.4 1557.0,525.6 1558.0,526.4 1559.0,524.4 1560.0,503.6 1561.0,494.4 1562.0,505.9 1563.0,508.9 1564.0,510.4 1565.0,525.5 1566.0,526.4 1567.0,525.4 1568.0,524.8 1569.0,521.2 1570.0,523.4 1571.0,522.6 1572.0,525.1 1573.0,524.4 1574.0,510.8 1575.0,522.7 1576.0,523.9 1577.0,525.5 1578.0,526.9 1579.0,526.1 1580.0,527.5 1581.0,526.0 1582.0,527.2 1583.0,512.5 1584.0,525.6 1585.0,526.5 1586.0,526.9 1587.0,527.9 1588.0,528.0 1589.0,527.6 1590.0,526.7 1591.0,526.1 1592.0,527.3 1593.0,528.3 1594.0,528.8 1595.0,514.2 1596.0,528.6 1597.0,518.0 1598.0,521.0 1599.0,526.6 1600.0,526.3 1601.0,527.2 1602.0,526.2 1603.0,526.4 1604.0,524.9 1605.0,527.2 1606.0,526.8 1607.0,511.0 1608.0,526.6 1609.0,527.6 1610.0,525.3 1611.0,523.4 1612.0,521.1 1613.0,521.8 1614.0,513.7 1615.0,518.4 1616.0,522.8 1617.0,521.5 1618.0,522.6 1619.0,515.4 1620.0,508.7 1621.0,522.1 1622.0,524.0 1623.0,520.4 1624.0,522.7 1625.0,522.9 1626.0,521.1 1627.0,523.5 1628.0,521.0 1629.0,510.9 1630.0,511.5 1631.0,520.1 1632.0,519.5 1633.0,504.8 1634.0,522.4 1635.0,521.3 1636.0,522.8 1637.0,520.8 1638.0,520.7 1639.0,516.2 1640.0,522.1 1641.0,526.0 1642.0,525.3 1643.0,522.8 1644.0,523.7 1645.0,524.6 1646.0,504.7 1647.0,522.4 1648.0,511.5 1649.0,522.6 1650.0,522.3 1651.0,524.3 1652.0,510.1 1653.0,502.5 1654.0,512.0 1655.0,523.0 1656.0,522.8 1657.0,521.6 1658.0,517.5 1659.0,521.3 1660.0,520.9 1661.0,523.2 1662.0,508.4 1663.0,523.2 1664.0,521.3 1665.0,512.1 1666.0,522.8 1667.0,522.0 1668.0,523.7 1669.0,525.4 1670.0,525.2 1671.0,522.8 1672.0,526.4 1673.0,526.2 1674.0,525.4 1675.0,514.5 1676.0,526.4 1677.0,516.1 1678.0,525.5 1679.0,525.4 1680.0,527.3 1681.0,528.1 1682.0,528.2 1683.0,528.0 1684.0,528.7 1685.0,524.0 1686.0,530.5 1687.0,529.8 1688.0,529.5 1689.0,527.2 1690.0,520.4 1691.0,527.4 1692.0,529.4 1693.0,516.5 1694.0,526.0 1695.0,526.8 1696.0,524.1 1697.0,523.9 1698.0,525.5 1699.0,524.7 1700.0,524.8 1701.0,517.1 1702.0,524.2 1703.0,525.3 1704.0,523.0 1705.0,524.3 1706.0,522.0 1707.0,524.4 1708.0,522.9 1709.0,525.1 1710.0,523.2 1711.0,522.5 1712.0,516.1 1713.0,522.5 1714.0,520.5 1715.0,515.1 1716.0,526.2 1717.0,525.8 1718.0,528.2 1719.0,528.2 1720.0,527.8 1721.0,529.2 1722.0,529.8 1723.0,519.3 1724.0,529.0 1725.0,530.6 1726.0,532.2 1727.0,521.8 1728.0,532.1 1729.0,532.0 1730.0,531.2 1731.0,530.3 1732.0,529.9 1733.0,529.2 1734.0,521.3 1735.0,529.7 1736.0,521.8 1737.0,516.1 1738.0,529.6 1739.0,525.3 1740.0,531.0 1741.0,524.6 1742.0,529.7 1743.0,530.1 1744.0,527.4 1745.0,526.7 1746.0,528.3 1747.0,526.4 1748.0,513.0 1749.0,525.9 1750.0,515.5 1751.0,523.4 1752.0,524.2 1753.0,509.4 1754.0,523.1 1755.0,521.5 1756.0,524.6 1757.0,523.9 1758.0,510.1 1759.0,502.5 1760.0,512.0 1761.0,525.4 1762.0,524.5 1763.0,519.3 1764.0,511.0 1765.0,521.4 1766.0,506.9 1767.0,523.7 1768.0,521.1 1769.0,522.7 1770.0,504.6 1771.0,519.6 1772.0,521.9 1773.0,521.2 1774.0,522.0 1775.0,515.3 1776.0,522.2 1777.0,522.2 1778.0,520.7 1779.0,523.2 1780.0,522.3 1781.0,523.5 1782.0,523.0 1783.0,524.5 1784.0,525.3 1785.0,523.8 1786.0,521.9 1787.0,512.6 1788.0,522.6 1789.0,524.2 1790.0,523.6 1791.0,523.8 1792.0,522.7 1793.0,514.5 1794.0,513.7 1795.0,522.9 1796.0,524.7 1797.0,523.6 1798.0,510.9 1799.0,524.7 1800.0,524.8 1801.0,522.7 1802.0,524.6 1803.0,521.2 1804.0,525.0 1805.0,522.4 1806.0,523.2 1807.0,523.4 1808.0,522.3 1809.0,522.7 1810.0,504.7 1811.0,522.4 1812.0,517.8 1813.0,507.2 1814.0,521.2 1815.0,514.5 1816.0,524.4 1817.0,522.5 1818.0,514.8 1819.0,524.6 1820.0,516.4 1821.0,526.2 1822.0,525.8 1823.0,524.5 1824.0,525.2 1825.0,526.4 1826.0,526.6 1827.0,516.8 1828.0,527.4 1829.0,524.4 1830.0,511.3 1831.0,527.3 1832.0,526.5 1833.0,525.0 1834.0,519.0 1835.0,524.6 1836.0,522.1 1837.0,525.4 1838.0,523.9 1839.0,523.4 1840.0,521.4 1841.0,522.0 1842.0,521.0 1843.0,520.4 1844.0,509.9 1845.0,519.1 1846.0,503.5 1847.0,510.8 1848.0,520.3 1849.0,519.8 1850.0,520.8 1851.0,518.6 1852.0,519.3 1853.0,511.0 1854.0,510.7 1855.0,517.0 1856.0,518.4 1857.0,517.6 1858.0,520.9 1859.0,510.1 1860.0,502.5 1861.0,512.0 1862.0,521.7 1863.0,521.8 1864.0,518.6 1865.0,526.1 1866.0,527.4 1867.0,526.0 1868.0,523.5 1869.0,529.2 1870.0,526.4 1871.0,520.5 1872.0,528.4 1873.0,527.9 1874.0,522.2 1875.0,528.9 1876.0,528.5 1877.0,529.8 1878.0,531.9 1879.0,525.2 1880.0,530.2 1881.0,530.3 1882.0,530.2 1883.0,529.2 1884.0,528.9 1885.0,527.5 1886.0,528.1 1887.0,526.2 1888.0,527.6 1889.0,527.9 1890.0,523.0 1891.0,525.5 1892.0,523.6 1893.0,525.5 1894.0,524.3 1895.0,526.0 1896.0,524.6 1897.0,518.1 1898.0,523.0 1899.0,523.0 1900.0,523.8 1901.0,523.4 1902.0,522.7 1903.0,522.3 1904.0,516.0 1905.0,521.5 1906.0,522.0 1907.0,521.2 1908.0,520.1 1909.0,523.2 1910.0,522.6 1911.0,522.6 1912.0,522.3 1913.0,518.6 1914.0,518.4 1915.0,519.9 1916.0,519.6 1917.0,520.3 1918.0,518.3 1919.0,509.7 1920.0,519.0 1921.0,515.8 1922.0,515.4 1923.0,515.9 1924.0,519.5 1925.0,516.9 1926.0,518.7 1927.0,518.4 1928.0,518.7 1929.0,517.7 1930.0,520.7 1931.0,518.6 1932.0,518.5 1933.0,519.0 1934.0,517.3 1935.0,511.3 1936.0,518.6 1937.0,521.1 1938.0,519.4 1939.0,519.9 1940.0,503.6 1941.0,494.4 1942.0,505.9 1943.0,521.3 1944.0,517.4 1945.0,522.9 1946.0,522.6 1947.0,523.2 1948.0,510.6 1949.0,520.2 1950.0,522.1 1951.0,520.8 1952.0,513.0 1953.0,506.2 1954.0,522.9 1955.0,515.0 1956.0,504.8 1957.0,523.0 1958.0,514.8 1959.0,506.7 1960.0,521.6 1961.0,522.9 1962.0,521.9 1963.0,522.8 1964.0,515.5 1965.0,513.2 1966.0,513.0 1967.0,523.8 1968.0,523.7 1969.0,514.5 1970.0,523.5 1971.0,520.6 1972.0,523.9 1973.0,525.3 1974.0,524.6 1975.0,514.1 1976.0,522.4 1977.0,524.0 1978.0,522.7 1979.0,523.4 1980.0,511.6 1981.0,525.9 1982.0,523.5 1983.0,512.2 1984.0,525.5 1985.0,524.3 1986.0,524.9 1987.0,523.9 1988.0,525.7 1989.0,520.4 1990.0,521.9 1991.0,521.9 1992.0,511.4 1993.0,523.9 1994.0,523.5 1995.0,523.9 1996.0,515.6 1997.0,520.5 1998.0,520.1 1999.0,523.1 2000.0,508.0 2001.0,513.0 2002.0,520.2 2003.0,522.5 2004.0,521.1 2005.0,522.3 2006.0,522.5 2007.0,521.7 2008.0,521.4 2009.0,523.1 2010.0,515.3 2011.0,523.6 2012.0,517.5 2013.0,521.4 2014.0,521.8 2015.0,521.2 2016.0,504.5 2017.0,510.7 2018.0,519.6 2019.0,519.9 2020.0,501.7 2021.0,521.3 2022.0,518.8 2023.0,521.2 2024.0,522.6 2025.0,520.9 2026.0,509.8 2027.0,525.8 2028.0,521.7 2029.0,526.3 2030.0,512.1 2031.0,526.5 2032.0,523.0 2033.0,500.4 2034.0,490.4 2035.0,502.9 2036.0,525.5 2037.0,524.5 2038.0,525.2 2039.0,526.2 2040.0,527.5 2041.0,527.3 2042.0,515.7 2043.0,527.6 2044.0,527.1 2045.0,527.8 2046.0,526.5 2047.0,528.7 2048.0,525.8 2049.0,527.0 2050.0,527.5 2051.0,528.5 2052.0,513.0 2053.0,525.4 2054.0,526.3 2055.0,524.8 2056.0,524.2 2057.0,525.9 2058.0,526.5 2059.0,524.3 2060.0,526.9 2061.0,526.2 2062.0,524.4 2063.0,523.9 2064.0,525.8 2065.0,524.1 2066.0,524.4 2067.0,524.2 2068.0,525.6 2069.0,524.8 2070.0,524.8 2071.0,513.3 2072.0,523.9 2073.0,526.1 2074.0,526.9 2075.0,525.3 2076.0,511.7 2077.0,525.1 2078.0,525.8 2079.0,524.1 2080.0,526.0 2081.0,526.8 2082.0,526.8 2083.0,515.6 2084.0,522.0 2085.0,526.6 2086.0,518.0 2087.0,518.7 2088.0,525.6 2089.0,525.5 2090.0,524.3 2091.0,526.7 2092.0,526.0 2093.0,526.5 2094.0,526.5 2095.0,527.7 2096.0,525.6 2097.0,525.8 2098.0,519.1 2099.0,525.6 2100.0,526.3 2101.0,527.7 2102.0,526.7 2103.0,528.5 2104.0,530.3 2105.0,529.0 2106.0,528.5 2107.0,529.4 2108.0,528.5 2109.0,516.7 2110.0,527.5 2111.0,517.3 2112.0,519.2 2113.0,530.2 2114.0,529.4 2115.0,522.2 2116.0,528.9 2117.0,521.7 2118.0,527.5 2119.0,525.6 2120.0,524.7 2121.0,526.3 2122.0,525.2 2123.0,524.2 2124.0,526.1 2125.0,519.1 2126.0,507.4 2127.0,520.9 2128.0,522.9 2129.0,506.2 2130.0,521.9 2131.0,510.7 2132.0,521.5 2133.0,520.6 2134.0,522.4 2135.0,521.0 2136.0,523.0 2137.0,522.2 2138.0,510.1 2139.0,502.5 2140.0,512.0 2141.0,525.7 2142.0,524.7 2143.0,527.5 2144.0,519.6 2145.0,527.6 2146.0,519.0 2147.0,530.2 2148.0,524.0 2149.0,529.0 2150.0,529.4 2151.0,519.4 2152.0,523.1 2153.0,521.7 2153.0,551.1 2152.0,551.8 2151.0,551.8 2150.0,552.9 2149.0,551.3 2148.0,552.9 2147.0,551.5 2146.0,560.5 2145.0,563.6 2144.0,552.0 2143.0,554.5 2142.0,555.6 2141.0,559.7 2140.0,569.6 2139.0,579.2 2138.0,571.5 2137.0,558.0 2136.0,558.9 2135.0,557.8 2134.0,559.0 2133.0,560.2 2132.0,558.9 2131.0,559.5 2130.0,559.2 2129.0,557.9 2128.0,556.7 2127.0,559.4 2126.0,557.1 2125.0,556.6 2124.0,555.1 2123.0,556.2 2122.0,557.1 2121.0,555.3 2120.0,563.9 2119.0,556.0 2118.0,565.2 2117.0,551.8 2116.0,552.7 2115.0,551.6 2114.0,551.2 2113.0,552.3 2112.0,552.4 2111.0,558.0 2110.0,552.4 2109.0,555.3 2108.0,552.7 2107.0,552.5 2106.0,557.5 2105.0,562.6 2104.0,551.4 2103.0,553.8 2102.0,560.3 2101.0,552.9 2100.0,567.9 2099.0,561.1 2098.0,564.6 2097.0,553.3 2096.0,554.9 2095.0,554.9 2094.0,553.2 2093.0,569.2 2092.0,568.9 2091.0,555.5 2090.0,555.9 2089.0,560.6 2088.0,557.8 2087.0,553.5 2086.0,563.9 2085.0,554.5 2084.0,553.2 2083.0,553.5 2082.0,552.9 2081.0,559.1 2080.0,555.9 2079.0,555.9 2078.0,558.5 2077.0,556.6 2076.0,554.6 2075.0,556.2 2074.0,555.4 2073.0,554.2 2072.0,555.8 2071.0,568.2 2070.0,569.3 2069.0,556.0 2068.0,556.4 2067.0,568.1 2066.0,555.7 2065.0,556.7 2064.0,556.7 2063.0,556.3 2062.0,556.0 2061.0,567.0 2060.0,554.7 2059.0,555.9 2058.0,554.3 2057.0,556.5 2056.0,571.6 2055.0,557.3 2054.0,555.4 2053.0,564.9 2052.0,553.6 2051.0,553.6 2050.0,553.9 2049.0,553.9 2048.0,552.5 2047.0,553.8 2046.0,554.6 2045.0,552.7 2044.0,558.6 2043.0,553.3 2042.0,553.6 2041.0,554.1 2040.0,554.7 2039.0,553.9 2038.0,555.9 2037.0,555.0 2036.0,556.0 2035.0,572.6 2034.0,583.3 2033.0,574.7 2032.0,558.5 2031.0,556.9 2030.0,554.5 2029.0,555.7 2028.0,555.3 2027.0,556.1 2026.0,557.5 2025.0,558.7 2024.0,560.8 2023.0,562.2 2022.0,562.2 2021.0,561.1 2020.0,562.0 2019.0,560.0 2018.0,559.3 2017.0,560.0 2016.0,569.5 2015.0,558.7 2014.0,559.7 2013.0,561.3 2012.0,557.8 2011.0,559.5 2010.0,567.7 2009.0,557.6 2008.0,559.6 2007.0,563.3 2006.0,558.6 2005.0,559.1 2004.0,559.1 2003.0,560.4 2002.0,559.1 2001.0,557.6 2000.0,556.1 1999.0,555.5 1998.0,557.5 1997.0,556.9 1996.0,557.3 1995.0,568.3 1994.0,573.2 1993.0,556.4 1992.0,559.4 1991.0,556.0 1990.0,571.7 1989.0,557.2 1988.0,554.6 1987.0,557.6 1986.0,560.8 1985.0,556.4 1984.0,556.0 1983.0,558.2 1982.0,568.1 1981.0,556.3 1980.0,557.2 1979.0,556.1 1978.0,557.7 1977.0,555.6 1976.0,557.3 1975.0,558.1 1974.0,556.0 1973.0,557.2 1972.0,557.0 1971.0,556.2 1970.0,557.4 1969.0,558.7 1968.0,556.6 1967.0,557.9 1966.0,557.1 1965.0,562.5 1964.0,556.5 1963.0,560.7 1962.0,559.6 1961.0,559.3 1960.0,565.4 1959.0,559.3 1958.0,558.1 1957.0,558.5 1956.0,557.3 1955.0,557.9 1954.0,559.7 1953.0,571.7 1952.0,559.6 1951.0,558.9 1950.0,561.5 1949.0,561.5 1948.0,559.9 1947.0,559.0 1946.0,559.2 1945.0,559.8 1944.0,557.9 1943.0,558.0 1942.0,581.7 1941.0,595.4 1940.0,584.4 1939.0,559.7 1938.0,558.8 1937.0,559.5 1936.0,559.9 1935.0,560.7 1934.0,578.7 1933.0,564.5 1932.0,566.2 1931.0,567.2 1930.0,560.9 1929.0,560.8 1928.0,563.3 1927.0,561.4 1926.0,561.0 1925.0,582.0 1924.0,559.5 1923.0,567.2 1922.0,566.2 1921.0,563.0 1920.0,564.5 1919.0,563.4 1918.0,565.5 1917.0,563.1 1916.0,563.8 1915.0,572.9 1914.0,560.6 1913.0,561.0 1912.0,560.1 1911.0,559.8 1910.0,557.8 1909.0,559.4 1908.0,558.5 1907.0,560.9 1906.0,561.5 1905.0,560.4 1904.0,558.5 1903.0,558.9 1902.0,557.9 1901.0,558.6 1900.0,565.3 1899.0,571.8 1898.0,557.9 1897.0,555.8 1896.0,555.4 1895.0,567.0 1894.0,557.5 1893.0,555.7 1892.0,556.0 1891.0,564.4 1890.0,554.4 1889.0,554.0 1888.0,559.9 1887.0,553.2 1886.0,552.3 1885.0,553.0 1884.0,552.0 1883.0,551.8 1882.0,551.5 1881.0,560.9 1880.0,551.2 1879.0,550.4 1878.0,550.2 1877.0,551.7 1876.0,553.1 1875.0,551.6 1874.0,553.1 1873.0,552.4 1872.0,553.4 1871.0,554.1 1870.0,563.8 1869.0,554.1 1868.0,558.8 1867.0,554.0 1866.0,555.4 1865.0,556.2 1864.0,558.2 1863.0,558.1 1862.0,556.9 1861.0,572.6 1860.0,583.3 1859.0,580.1 1858.0,562.6 1857.0,561.7 1856.0,562.6 1855.0,584.8 1854.0,560.1 1853.0,573.7 1852.0,562.8 1851.0,563.6 1850.0,562.3 1849.0,560.0 1848.0,559.2 1847.0,560.3 1846.0,562.1 1845.0,561.3 1844.0,561.9 1843.0,561.0 1842.0,576.9 1841.0,560.6 1840.0,560.5 1839.0,558.3 1838.0,558.3 1837.0,555.7 1836.0,555.3 1835.0,560.9 1834.0,554.6 1833.0,554.6 1832.0,553.6 1831.0,554.8 1830.0,555.3 1829.0,556.9 1828.0,553.8 1827.0,553.6 1826.0,553.8 1825.0,554.6 1824.0,555.1 1823.0,555.6 1822.0,556.0 1821.0,555.7 1820.0,555.3 1819.0,554.6 1818.0,568.4 1817.0,559.0 1816.0,557.5 1815.0,564.1 1814.0,560.0 1813.0,557.4 1812.0,564.4 1811.0,568.0 1810.0,560.3 1809.0,559.3 1808.0,557.2 1807.0,557.1 1806.0,558.5 1805.0,558.4 1804.0,560.4 1803.0,559.4 1802.0,557.7 1801.0,557.4 1800.0,556.2 1799.0,556.5 1798.0,558.4 1797.0,566.0 1796.0,558.7 1795.0,557.6 1794.0,560.4 1793.0,570.8 1792.0,560.1 1791.0,557.5 1790.0,560.6 1789.0,558.3 1788.0,559.2 1787.0,556.5 1786.0,558.0 1785.0,557.2 1784.0,560.4 1783.0,558.0 1782.0,559.8 1781.0,557.8 1780.0,558.2 1779.0,558.6 1778.0,559.3 1777.0,561.5 1776.0,559.9 1775.0,560.8 1774.0,559.3 1773.0,567.9 1772.0,558.7 1771.0,566.2 1770.0,558.9 1769.0,559.7 1768.0,560.1 1767.0,564.6 1766.0,559.6 1765.0,571.2 1764.0,558.7 1763.0,557.9 1762.0,556.8 1761.0,571.6 1760.0,578.6 1759.0,591.4 1758.0,581.2 1757.0,558.3 1756.0,556.7 1755.0,558.8 1754.0,557.2 1753.0,558.3 1752.0,557.7 1751.0,557.3 1750.0,558.0 1749.0,565.4 1748.0,555.4 1747.0,553.9 1746.0,552.8 1745.0,553.6 1744.0,563.7 1743.0,551.3 1742.0,552.3 1741.0,551.3 1740.0,550.9 1739.0,553.2 1738.0,552.0 1737.0,552.0 1736.0,552.4 1735.0,551.4 1734.0,551.4 1733.0,551.1 1732.0,550.8 1731.0,550.5 1730.0,550.0 1729.0,548.6 1728.0,550.4 1727.0,550.6 1726.0,555.6 1725.0,556.1 1724.0,550.6 1723.0,556.6 1722.0,561.6 1721.0,553.3 1720.0,564.0 1719.0,553.6 1718.0,553.3 1717.0,553.3 1716.0,555.0 1715.0,556.0 1714.0,557.8 1713.0,557.9 1712.0,556.8 1711.0,567.0 1710.0,556.5 1709.0,557.4 1708.0,557.4 1707.0,557.1 1706.0,562.3 1705.0,557.9 1704.0,565.3 1703.0,561.5 1702.0,563.2 1701.0,561.0 1700.0,555.9 1699.0,569.3 1698.0,563.1 1697.0,571.8 1696.0,556.8 1695.0,563.9 1694.0,554.5 1693.0,552.4 1692.0,551.8 1691.0,552.6 1690.0,552.2 1689.0,550.0 1688.0,551.5 1687.0,550.3 1686.0,555.0 1685.0,563.3 1684.0,552.6 1683.0,553.0 1682.0,553.5 1681.0,560.0 1680.0,555.5 1679.0,559.9 1678.0,568.1 1677.0,554.1 1676.0,554.3 1675.0,555.0 1674.0,555.3 1673.0,553.7 1672.0,554.9 1671.0,555.5 1670.0,558.2 1669.0,556.6 1668.0,560.0 1667.0,559.0 1666.0,557.8 1665.0,558.7 1664.0,561.0 1663.0,572.5 1662.0,558.8 1661.0,575.2 1660.0,558.9 1659.0,575.6 1658.0,574.6 1657.0,559.9 1656.0,556.8 1655.0,560.6 1654.0,590.8 1653.0,607.5 1652.0,594.1 1651.0,568.4 1650.0,559.4 1649.0,564.5 1648.0,559.9 1647.0,559.2 1646.0,571.1 1645.0,557.6 1644.0,556.9 1643.0,571.9 1642.0,555.2 1641.0,556.2 1640.0,556.8 1639.0,556.7 1638.0,573.3 1637.0,558.3 1636.0,558.5 1635.0,558.3 1634.0,568.4 1633.0,559.0 1632.0,564.7 1631.0,559.1 1630.0,575.6 1629.0,559.7 1628.0,560.6 1627.0,560.2 1626.0,558.3 1625.0,566.3 1624.0,559.8 1623.0,564.7 1622.0,558.9 1621.0,572.0 1620.0,562.5 1619.0,558.3 1618.0,567.7 1617.0,558.6 1616.0,559.9 1615.0,559.2 1614.0,558.8 1613.0,558.0 1612.0,557.3 1611.0,558.9 1610.0,556.2 1609.0,554.6 1608.0,564.0 1607.0,556.0 1606.0,554.9 1605.0,554.8 1604.0,554.9 1603.0,554.4 1602.0,553.8 1601.0,562.1 1600.0,554.1 1599.0,553.3 1598.0,566.2 1597.0,556.2 1596.0,552.3 1595.0,553.2 1594.0,554.2 1593.0,553.7 1592.0,554.0 1591.0,554.3 1590.0,553.0 1589.0,552.1 1588.0,552.2 1587.0,563.2 1586.0,554.1 1585.0,555.7 1584.0,555.0 1583.0,554.5 1582.0,555.1 1581.0,563.8 1580.0,553.3 1579.0,553.5 1578.0,554.1 1577.0,555.5 1576.0,565.7 1575.0,557.9 1574.0,557.3 1573.0,567.8 1572.0,562.9 1571.0,558.9 1570.0,557.4 1569.0,558.4 1568.0,556.6 1567.0,555.4 1566.0,564.4 1565.0,555.0 1564.0,557.1 1563.0,568.8 1562.0,581.7 1561.0,595.4 1560.0,584.4 1559.0,559.7 1558.0,554.8 1557.0,554.1 1556.0,555.3 1555.0,554.7 1554.0,554.5 1553.0,553.5 1552.0,554.8 1551.0,554.2 1550.0,555.2 1549.0,555.3 1548.0,556.6 1547.0,556.1 1546.0,568.9 1545.0,556.2 1544.0,569.9 1543.0,566.6 1542.0,557.7 1541.0,563.1 1540.0,559.1 1539.0,557.6 1538.0,558.0 1537.0,571.9 1536.0,559.7 1535.0,558.7 1534.0,561.0 1533.0,561.8 1532.0,559.0 1531.0,566.9 1530.0,570.0 1529.0,564.1 1528.0,559.8 1527.0,557.2 1526.0,560.7 1525.0,557.3 1524.0,558.1 1523.0,555.3 1522.0,556.1 1521.0,566.4 1520.0,556.6 1519.0,556.7 1518.0,559.1 1517.0,556.1 1516.0,552.8 1515.0,553.4 1514.0,553.4 1513.0,560.9 1512.0,558.9 1511.0,552.7 1510.0,550.5 1509.0,551.6 1508.0,551.6 1507.0,553.4 1506.0,562.1 1505.0,551.4 1504.0,550.8 1503.0,552.4 1502.0,551.4 1501.0,550.8 1500.0,557.6 1499.0,551.0 1498.0,560.0 1497.0,552.0 1496.0,553.9 1495.0,552.4 1494.0,554.5 1493.0,566.5 1492.0,555.5 1491.0,555.1 1490.0,558.8 1489.0,557.1 1488.0,563.4 1487.0,570.6 1486.0,558.3 1485.0,558.7 1484.0,559.1 1483.0,566.5 1482.0,558.6 1481.0,577.8 1480.0,561.1 1479.0,562.0 1478.0,560.8 1477.0,561.0 1476.0,562.0 1475.0,566.7 1474.0,562.6 1473.0,566.1 1472.0,575.6 1471.0,561.1 1470.0,568.7 1469.0,558.5 1468.0,570.9 1467.0,561.9 1466.0,559.7 1465.0,582.9 1464.0,562.5 1463.0,560.4 1462.0,560.4 1461.0,557.8 1460.0,558.1 1459.0,560.7 1458.0,558.1 1457.0,558.0 1456.0,558.2 1455.0,558.2 1454.0,576.0 1453.0,558.5 1452.0,557.5 1451.0,558.3 1450.0,558.2 1449.0,559.7 1448.0,559.1 1447.0,569.8 1446.0,575.5 1445.0,561.6 1444.0,562.1 1443.0,560.3 1442.0,570.5 1441.0,559.1 1440.0,559.9 1439.0,562.6 1438.0,560.2 1437.0,564.0 1436.0,576.8 1435.0,568.1 1434.0,560.6 1433.0,559.2 1432.0,563.9 1431.0,559.6 1430.0,557.6 1429.0,557.5 1428.0,557.2 1427.0,557.7 1426.0,558.2 1425.0,567.1 1424.0,566.8 1423.0,556.2 1422.0,555.3 1421.0,562.4 1420.0,554.6 1419.0,566.7 1418.0,555.6 1417.0,554.0 1416.0,562.5 1415.0,555.5 1414.0,554.1 1413.0,554.2 1412.0,555.4 1411.0,570.1 1410.0,553.9 1409.0,553.7 1408.0,559.3 1407.0,554.6 1406.0,556.8 1405.0,555.8 1404.0,561.8 1403.0,555.4 1402.0,556.4 1401.0,563.5 1400.0,571.2 1399.0,566.1 1398.0,561.2 1397.0,565.0 1396.0,553.0 1395.0,553.9 1394.0,552.6 1393.0,553.4 1392.0,553.2 1391.0,551.1 1390.0,556.0 1389.0,552.6 1388.0,551.9 1387.0,552.2 1386.0,551.5 1385.0,558.1 1384.0,552.0 1383.0,549.7 1382.0,550.6 1381.0,556.1 1380.0,549.5 1379.0,551.0 1378.0,551.3 1377.0,561.7 1376.0,553.2 1375.0,564.2 1374.0,555.1 1373.0,564.7 1372.0,561.5 1371.0,556.4 1370.0,556.0 1369.0,554.3 1368.0,555.3 1367.0,555.1 1366.0,569.6 1365.0,556.2 1364.0,564.3 1363.0,556.8 1362.0,566.8 1361.0,553.1 1360.0,553.9 1359.0,554.7 1358.0,559.1 1357.0,555.4 1356.0,553.2 1355.0,553.8 1354.0,566.1 1353.0,554.7 1352.0,558.4 1351.0,564.9 1350.0,563.9 1349.0,552.8 1348.0,554.2 1347.0,556.9 1346.0,553.6 1345.0,554.8 1344.0,555.0 1343.0,554.0 1342.0,556.2 1341.0,553.1 1340.0,559.5 1339.0,552.8 1338.0,554.9 1337.0,557.4 1336.0,554.7 1335.0,554.3 1334.0,553.3 1333.0,552.7 1332.0,551.7 1331.0,553.9 1330.0,565.9 1329.0,554.2 1328.0,553.7 1327.0,552.5 1326.0,561.1 1325.0,550.2 1324.0,551.1 1323.0,550.8 1322.0,552.1 1321.0,557.2 1320.0,550.0 1319.0,551.0 1318.0,557.0 1317.0,552.4 1316.0,549.5 1315.0,553.6 1314.0,550.9 1313.0,551.1 1312.0,551.0 1311.0,550.5 1310.0,555.7 1309.0,560.6 1308.0,556.1 1307.0,553.8 1306.0,552.7 1305.0,561.8 1304.0,552.1 1303.0,549.9 1302.0,557.8 1301.0,552.2 1300.0,550.4 1299.0,558.2 1298.0,552.3 1297.0,558.2 1296.0,584.7 1295.0,599.4 1294.0,587.6 1293.0,561.1 1292.0,552.3 1291.0,551.6 1290.0,550.4 1289.0,550.9 1288.0,557.3 1287.0,552.3 1286.0,552.8 1285.0,554.7 1284.0,553.0 1283.0,553.2 1282.0,553.3 1281.0,554.9 1280.0,554.3 1279.0,560.9 1278.0,555.1 1277.0,563.3 1276.0,555.5 1275.0,556.6 1274.0,558.0 1273.0,568.1 1272.0,554.4 1271.0,556.7 1270.0,556.4 1269.0,560.7 1268.0,555.1 1267.0,562.9 1266.0,566.9 1265.0,556.8 1264.0,555.4 1263.0,555.8 1262.0,566.9 1261.0,562.0 1260.0,554.0 1259.0,560.4 1258.0,555.2 1257.0,553.2 1256.0,553.4 1255.0,555.3 1254.0,556.6 1253.0,564.4 1252.0,557.0 1251.0,554.6 1250.0,555.7 1249.0,556.4 1248.0,565.6 1247.0,567.2 1246.0,562.0 1245.0,556.3 1244.0,572.0 1243.0,557.6 1242.0,556.3 1241.0,566.8 1240.0,561.5 1239.0,554.8 1238.0,558.0 1237.0,552.9 1236.0,558.4 1235.0,556.1 1234.0,555.8 1233.0,555.8 1232.0,557.9 1231.0,554.8 1230.0,554.7 1229.0,553.6 1228.0,561.5 1227.0,550.8 1226.0,553.1 1225.0,550.2 1224.0,550.8 1223.0,551.4 1222.0,550.4 1221.0,550.8 1220.0,549.8 1219.0,553.1 1218.0,559.4 1217.0,587.7 1216.0,603.5 1215.0,590.9 1214.0,562.5 1213.0,553.1 1212.0,552.8 1211.0,560.4 1210.0,551.3 1209.0,553.6 1208.0,553.7 1207.0,556.4 1206.0,553.2 1205.0,553.6 1204.0,562.3 1203.0,556.2 1202.0,557.4 1201.0,554.2 1200.0,554.0 1199.0,555.4 1198.0,555.1 1197.0,556.8 1196.0,558.4 1195.0,563.1 1194.0,557.6 1193.0,559.7 1192.0,560.9 1191.0,557.4 1190.0,558.2 1189.0,558.4 1188.0,557.9 1187.0,555.8 1186.0,557.7 1185.0,558.9 1184.0,557.6 1183.0,560.0 1182.0,557.6 1181.0,572.0 1180.0,570.7 1179.0,557.4 1178.0,557.5 1177.0,560.7 1176.0,556.3 1175.0,555.6 1174.0,556.9 1173.0,555.9 1172.0,556.4 1171.0,554.4 1170.0,551.5 1169.0,551.3 1168.0,551.2 1167.0,549.5 1166.0,549.7 1165.0,556.3 1164.0,549.4 1163.0,549.9 1162.0,549.8 1161.0,550.7 1160.0,550.0" fill="#17aeee" stroke="#17aeee" stroke-width="0.6" stroke-linejoin="round"/>
<polygon points="1160.0,738.4 1161.0,741.4 1162.0,740.3 1163.0,733.8 1164.0,739.2 1165.0,742.6 1166.0,742.5 1167.0,740.5 1168.0,740.5 1169.0,740.6 1170.0,740.5 1171.0,742.2 1172.0,740.5 1173.0,740.1 1174.0,741.0 1175.0,728.2 1176.0,730.9 1177.0,738.6 1178.0,732.8 1179.0,733.8 1180.0,741.7 1181.0,733.9 1182.0,740.6 1183.0,740.3 1184.0,730.3 1185.0,732.7 1186.0,740.8 1187.0,740.1 1188.0,729.7 1189.0,704.3 1190.0,692.3 1191.0,707.2 1192.0,734.1 1193.0,740.1 1194.0,741.0 1195.0,741.0 1196.0,740.1 1197.0,741.6 1198.0,742.7 1199.0,743.2 1200.0,738.7 1201.0,743.1 1202.0,742.4 1203.0,742.5 1204.0,743.1 1205.0,740.0 1206.0,741.0 1207.0,741.1 1208.0,734.4 1209.0,741.3 1210.0,740.6 1211.0,742.0 1212.0,740.5 1213.0,740.9 1214.0,740.7 1215.0,741.1 1216.0,741.5 1217.0,742.4 1218.0,742.9 1219.0,742.5 1220.0,743.4 1221.0,742.5 1222.0,742.2 1223.0,738.8 1224.0,743.1 1225.0,733.6 1226.0,743.5 1227.0,743.3 1228.0,743.4 1229.0,744.5 1230.0,741.0 1231.0,743.6 1232.0,744.2 1233.0,743.2 1234.0,743.6 1235.0,744.9 1236.0,739.4 1237.0,745.3 1238.0,743.1 1239.0,743.6 1240.0,743.5 1241.0,736.5 1242.0,743.3 1243.0,743.7 1244.0,739.6 1245.0,738.6 1246.0,733.9 1247.0,720.4 1248.0,679.7 1249.0,661.6 1250.0,684.2 1251.0,724.9 1252.0,733.9 1253.0,742.9 1254.0,743.0 1255.0,742.7 1256.0,742.8 1257.0,742.1 1258.0,743.3 1259.0,742.8 1260.0,742.6 1261.0,743.3 1262.0,743.9 1263.0,740.9 1264.0,737.7 1265.0,744.6 1266.0,744.4 1267.0,743.3 1268.0,737.6 1269.0,739.6 1270.0,737.7 1271.0,741.2 1272.0,743.6 1273.0,742.4 1274.0,732.8 1275.0,742.3 1276.0,733.8 1277.0,742.7 1278.0,741.9 1279.0,742.4 1280.0,741.4 1281.0,734.3 1282.0,735.5 1283.0,737.4 1284.0,742.0 1285.0,742.9 1286.0,741.8 1287.0,737.0 1288.0,741.2 1289.0,741.1 1290.0,741.6 1291.0,742.0 1292.0,741.2 1293.0,736.1 1294.0,740.9 1295.0,740.4 1296.0,732.0 1297.0,733.7 1298.0,742.5 1299.0,740.6 1300.0,741.5 1301.0,741.9 1302.0,736.3 1303.0,743.3 1304.0,736.1 1305.0,741.6 1306.0,742.1 1307.0,742.3 1308.0,741.9 1309.0,742.3 1310.0,731.8 1311.0,740.6 1312.0,740.4 1313.0,735.6 1314.0,734.9 1315.0,741.8 1316.0,740.5 1317.0,741.6 1318.0,741.4 1319.0,741.7 1320.0,741.9 1321.0,740.8 1322.0,742.6 1323.0,741.6 1324.0,740.2 1325.0,740.2 1326.0,740.2 1327.0,735.7 1328.0,741.0 1329.0,741.8 1330.0,741.4 1331.0,742.5 1332.0,741.6 1333.0,741.7 1334.0,742.7 1335.0,742.5 1336.0,743.0 1337.0,742.0 1338.0,734.4 1339.0,739.3 1340.0,742.6 1341.0,742.9 1342.0,743.0 1343.0,744.2 1344.0,743.6 1345.0,743.8 1346.0,744.3 1347.0,740.1 1348.0,744.2 1349.0,744.4 1350.0,743.7 1351.0,741.1 1352.0,744.6 1353.0,745.0 1354.0,743.7 1355.0,743.5 1356.0,741.9 1357.0,742.8 1358.0,742.9 1359.0,743.8 1360.0,741.5 1361.0,737.2 1362.0,737.6 1363.0,744.5 1364.0,743.0 1365.0,743.6 1366.0,743.0 1367.0,743.5 1368.0,741.6 1369.0,743.1 1370.0,740.9 1371.0,743.9 1372.0,743.7 1373.0,737.3 1374.0,744.8 1375.0,743.1 1376.0,735.5 1377.0,742.6 1378.0,742.2 1379.0,741.9 1380.0,741.0 1381.0,733.7 1382.0,741.6 1383.0,741.3 1384.0,741.0 1385.0,740.7 1386.0,740.9 1387.0,740.6 1388.0,731.2 1389.0,742.1 1390.0,742.0 1391.0,741.5 1392.0,740.5 1393.0,740.8 1394.0,740.4 1395.0,740.9 1396.0,739.7 1397.0,740.4 1398.0,740.1 1399.0,739.6 1400.0,739.8 1401.0,739.4 1402.0,741.3 1403.0,740.5 1404.0,740.6 1405.0,731.9 1406.0,738.8 1407.0,739.9 1408.0,740.5 1409.0,734.3 1410.0,737.5 1411.0,739.2 1412.0,739.2 1413.0,740.1 1414.0,739.0 1415.0,739.6 1416.0,727.8 1417.0,738.9 1418.0,739.8 1419.0,738.7 1420.0,728.8 1421.0,739.5 1422.0,727.0 1423.0,739.2 1424.0,738.1 1425.0,731.0 1426.0,740.2 1427.0,738.0 1428.0,738.0 1429.0,738.9 1430.0,738.4 1431.0,737.3 1432.0,738.9 1433.0,738.8 1434.0,738.2 1435.0,735.1 1436.0,738.1 1437.0,735.2 1438.0,738.2 1439.0,737.1 1440.0,726.7 1441.0,736.6 1442.0,737.5 1443.0,728.5 1444.0,739.0 1445.0,737.9 1446.0,739.8 1447.0,733.4 1448.0,739.9 1449.0,740.3 1450.0,739.3 1451.0,731.9 1452.0,738.8 1453.0,741.1 1454.0,740.9 1455.0,739.2 1456.0,740.5 1457.0,726.3 1458.0,707.1 1459.0,649.3 1460.0,623.7 1461.0,655.8 1462.0,713.5 1463.0,726.3 1464.0,740.3 1465.0,740.8 1466.0,740.3 1467.0,739.9 1468.0,741.9 1469.0,742.3 1470.0,741.9 1471.0,742.1 1472.0,742.5 1473.0,741.0 1474.0,740.4 1475.0,740.3 1476.0,739.6 1477.0,740.5 1478.0,736.2 1479.0,740.3 1480.0,741.3 1481.0,741.7 1482.0,741.4 1483.0,741.5 1484.0,740.9 1485.0,741.7 1486.0,742.1 1487.0,740.9 1488.0,741.0 1489.0,739.2 1490.0,742.4 1491.0,737.5 1492.0,742.2 1493.0,742.7 1494.0,743.6 1495.0,736.6 1496.0,742.6 1497.0,742.4 1498.0,734.0 1499.0,735.3 1500.0,743.4 1501.0,743.9 1502.0,743.8 1503.0,743.0 1504.0,738.9 1505.0,743.8 1506.0,743.5 1507.0,743.7 1508.0,744.2 1509.0,742.9 1510.0,742.6 1511.0,742.7 1512.0,742.0 1513.0,742.7 1514.0,742.2 1515.0,742.0 1516.0,736.9 1517.0,742.2 1518.0,741.4 1519.0,740.7 1520.0,738.7 1521.0,740.8 1522.0,740.8 1523.0,739.4 1524.0,738.6 1525.0,739.5 1526.0,734.4 1527.0,734.6 1528.0,738.6 1529.0,738.7 1530.0,739.8 1531.0,739.6 1532.0,738.5 1533.0,732.8 1534.0,741.2 1535.0,739.5 1536.0,739.5 1537.0,740.0 1538.0,738.1 1539.0,739.4 1540.0,738.3 1541.0,738.9 1542.0,733.6 1543.0,734.3 1544.0,739.2 1545.0,739.4 1546.0,736.3 1547.0,739.4 1548.0,739.5 1549.0,732.1 1550.0,740.4 1551.0,739.5 1552.0,733.5 1553.0,740.9 1554.0,741.9 1555.0,741.7 1556.0,741.8 1557.0,734.6 1558.0,742.2 1559.0,741.5 1560.0,740.9 1561.0,742.6 1562.0,742.8 1563.0,742.2 1564.0,742.7 1565.0,743.3 1566.0,743.4 1567.0,737.5 1568.0,743.5 1569.0,744.4 1570.0,744.2 1571.0,744.8 1572.0,746.0 1573.0,745.2 1574.0,744.9 1575.0,744.4 1576.0,745.0 1577.0,745.1 1578.0,738.2 1579.0,742.4 1580.0,742.9 1581.0,739.3 1582.0,743.6 1583.0,742.6 1584.0,742.9 1585.0,743.7 1586.0,742.4 1587.0,742.4 1588.0,742.7 1589.0,742.5 1590.0,734.1 1591.0,743.1 1592.0,741.9 1593.0,741.3 1594.0,741.3 1595.0,741.9 1596.0,738.7 1597.0,740.6 1598.0,740.5 1599.0,740.3 1600.0,734.5 1601.0,740.1 1602.0,739.0 1603.0,739.1 1604.0,739.9 1605.0,739.9 1606.0,741.2 1607.0,740.3 1608.0,740.6 1609.0,731.6 1610.0,740.6 1611.0,741.3 1612.0,742.1 1613.0,741.6 1614.0,741.5 1615.0,741.5 1616.0,742.7 1617.0,743.4 1618.0,741.4 1619.0,743.7 1620.0,742.9 1621.0,743.8 1622.0,743.4 1623.0,737.1 1624.0,743.5 1625.0,744.9 1626.0,736.2 1627.0,744.8 1628.0,744.9 1629.0,745.3 1630.0,744.1 1631.0,745.1 1632.0,745.5 1633.0,745.8 1634.0,744.8 1635.0,744.9 1636.0,744.6 1637.0,745.5 1638.0,744.5 1639.0,745.2 1640.0,745.2 1641.0,745.0 1642.0,738.6 1643.0,744.5 1644.0,737.4 1645.0,743.9 1646.0,743.6 1647.0,743.6 1648.0,743.7 1649.0,744.6 1650.0,740.4 1651.0,744.9 1652.0,744.3 1653.0,744.2 1654.0,743.4 1655.0,744.5 1656.0,743.7 1657.0,743.6 1658.0,738.3 1659.0,739.2 1660.0,735.8 1661.0,743.1 1662.0,743.7 1663.0,742.5 1664.0,742.0 1665.0,741.9 1666.0,742.2 1667.0,742.4 1668.0,742.1 1669.0,742.6 1670.0,742.8 1671.0,742.3 1672.0,742.7 1673.0,743.0 1674.0,742.3 1675.0,742.5 1676.0,740.1 1677.0,731.1 1678.0,704.3 1679.0,692.3 1680.0,707.2 1681.0,734.1 1682.0,740.1 1683.0,743.9 1684.0,741.2 1685.0,742.4 1686.0,743.8 1687.0,736.7 1688.0,743.0 1689.0,742.3 1690.0,741.7 1691.0,740.4 1692.0,741.1 1693.0,740.0 1694.0,740.1 1695.0,739.5 1696.0,739.2 1697.0,741.1 1698.0,740.1 1699.0,736.4 1700.0,730.8 1701.0,740.7 1702.0,740.8 1703.0,738.9 1704.0,734.8 1705.0,733.6 1706.0,739.4 1707.0,738.4 1708.0,739.2 1709.0,738.6 1710.0,732.3 1711.0,739.2 1712.0,739.9 1713.0,730.1 1714.0,739.9 1715.0,741.5 1716.0,741.4 1717.0,740.5 1718.0,739.8 1719.0,741.3 1720.0,741.7 1721.0,742.1 1722.0,741.4 1723.0,741.7 1724.0,741.3 1725.0,737.2 1726.0,739.7 1727.0,739.8 1728.0,740.6 1729.0,740.1 1730.0,736.8 1731.0,729.7 1732.0,736.5 1733.0,741.2 1734.0,741.8 1735.0,742.0 1736.0,741.7 1737.0,741.3 1738.0,737.3 1739.0,739.3 1740.0,728.4 1741.0,728.5 1742.0,739.1 1743.0,735.2 1744.0,739.1 1745.0,739.4 1746.0,740.1 1747.0,731.6 1748.0,740.4 1749.0,739.7 1750.0,740.0 1751.0,740.2 1752.0,740.1 1753.0,739.0 1754.0,740.5 1755.0,738.9 1756.0,740.3 1757.0,740.7 1758.0,740.6 1759.0,733.4 1760.0,740.3 1761.0,741.0 1762.0,740.2 1763.0,741.5 1764.0,741.3 1765.0,742.7 1766.0,741.2 1767.0,738.9 1768.0,739.5 1769.0,729.4 1770.0,740.4 1771.0,739.2 1772.0,739.8 1773.0,739.9 1774.0,738.8 1775.0,738.7 1776.0,726.0 1777.0,739.7 1778.0,739.4 1779.0,739.9 1780.0,740.4 1781.0,740.4 1782.0,727.9 1783.0,739.5 1784.0,738.3 1785.0,737.6 1786.0,724.5 1787.0,738.2 1788.0,739.5 1789.0,730.3 1790.0,737.7 1791.0,738.6 1792.0,738.3 1793.0,739.0 1794.0,740.2 1795.0,741.9 1796.0,740.2 1797.0,742.0 1798.0,741.9 1799.0,742.6 1800.0,743.1 1801.0,743.4 1802.0,742.9 1803.0,735.4 1804.0,735.8 1805.0,739.8 1806.0,741.0 1807.0,740.2 1808.0,731.3 1809.0,739.9 1810.0,740.7 1811.0,739.2 1812.0,739.3 1813.0,740.1 1814.0,735.5 1815.0,723.2 1816.0,686.2 1817.0,669.7 1818.0,690.3 1819.0,727.3 1820.0,735.5 1821.0,740.1 1822.0,738.5 1823.0,739.4 1824.0,736.6 1825.0,731.3 1826.0,740.0 1827.0,740.1 1828.0,741.3 1829.0,731.6 1830.0,740.8 1831.0,742.0 1832.0,741.5 1833.0,742.2 1834.0,743.4 1835.0,742.7 1836.0,743.9 1837.0,742.6 1838.0,744.3 1839.0,737.3 1840.0,743.5 1841.0,742.3 1842.0,743.5 1843.0,738.6 1844.0,742.7 1845.0,742.1 1846.0,742.6 1847.0,735.6 1848.0,740.2 1849.0,741.4 1850.0,741.0 1851.0,742.2 1852.0,736.7 1853.0,739.6 1854.0,740.5 1855.0,740.1 1856.0,738.6 1857.0,739.4 1858.0,739.8 1859.0,740.4 1860.0,738.7 1861.0,738.0 1862.0,738.8 1863.0,737.0 1864.0,736.9 1865.0,737.0 1866.0,738.9 1867.0,726.2 1868.0,730.6 1869.0,738.7 1870.0,732.8 1871.0,730.5 1872.0,739.8 1873.0,738.7 1874.0,740.9 1875.0,728.3 1876.0,739.1 1877.0,740.4 1878.0,737.9 1879.0,739.4 1880.0,740.3 1881.0,740.6 1882.0,738.0 1883.0,731.7 1884.0,739.6 1885.0,739.7 1886.0,728.2 1887.0,740.0 1888.0,741.2 1889.0,740.7 1890.0,740.9 1891.0,740.1 1892.0,740.4 1893.0,738.9 1894.0,738.9 1895.0,734.4 1896.0,738.3 1897.0,737.5 1898.0,739.5 1899.0,736.6 1900.0,730.6 1901.0,738.1 1902.0,736.3 1903.0,738.2 1904.0,735.2 1905.0,736.5 1906.0,734.2 1907.0,739.3 1908.0,735.0 1909.0,738.9 1910.0,736.4 1911.0,738.5 1912.0,726.9 1913.0,720.6 1914.0,728.4 1915.0,740.3 1916.0,736.6 1917.0,740.6 1918.0,730.6 1919.0,738.3 1920.0,740.1 1921.0,740.0 1922.0,739.7 1923.0,740.4 1924.0,734.9 1925.0,741.7 1926.0,742.1 1927.0,742.4 1928.0,743.5 1929.0,744.2 1930.0,745.0 1931.0,741.5 1932.0,744.7 1933.0,745.6 1934.0,744.7 1935.0,743.9 1936.0,744.6 1937.0,743.5 1938.0,743.6 1939.0,743.9 1940.0,742.7 1941.0,744.0 1942.0,743.0 1943.0,743.0 1944.0,738.7 1945.0,742.8 1946.0,736.1 1947.0,740.0 1948.0,739.0 1949.0,744.2 1950.0,742.5 1951.0,742.1 1952.0,740.9 1953.0,740.9 1954.0,739.5 1955.0,741.1 1956.0,738.7 1957.0,739.8 1958.0,740.3 1959.0,741.3 1960.0,740.3 1961.0,740.9 1962.0,742.0 1963.0,741.6 1964.0,741.0 1965.0,741.7 1966.0,741.1 1967.0,742.3 1968.0,741.7 1969.0,742.8 1970.0,742.1 1971.0,740.8 1972.0,743.2 1973.0,743.8 1974.0,741.9 1975.0,743.6 1976.0,743.9 1977.0,741.5 1978.0,744.1 1979.0,745.3 1980.0,744.8 1981.0,742.0 1982.0,744.3 1983.0,744.2 1984.0,743.7 1985.0,740.6 1986.0,743.2 1987.0,743.1 1988.0,741.4 1989.0,742.0 1990.0,743.4 1991.0,742.9 1992.0,743.0 1993.0,741.7 1994.0,742.3 1995.0,741.9 1996.0,743.8 1997.0,737.9 1998.0,742.8 1999.0,743.5 2000.0,742.6 2001.0,742.6 2002.0,743.5 2003.0,741.2 2004.0,742.6 2005.0,741.9 2006.0,743.1 2007.0,743.0 2008.0,739.5 2009.0,744.8 2010.0,744.1 2011.0,744.3 2012.0,745.9 2013.0,745.9 2014.0,745.4 2015.0,744.2 2016.0,744.9 2017.0,744.8 2018.0,736.2 2019.0,743.3 2020.0,742.8 2021.0,742.8 2022.0,742.3 2023.0,740.4 2024.0,733.9 2025.0,710.7 2026.0,700.4 2027.0,713.3 2028.0,736.5 2029.0,741.7 2030.0,744.5 2031.0,744.1 2032.0,743.3 2033.0,741.6 2034.0,741.6 2035.0,740.9 2036.0,739.8 2037.0,740.7 2038.0,740.4 2039.0,739.6 2040.0,731.3 2041.0,730.0 2042.0,740.1 2043.0,740.6 2044.0,732.1 2045.0,742.1 2046.0,741.7 2047.0,741.1 2048.0,739.1 2049.0,740.4 2050.0,739.6 2051.0,737.5 2052.0,740.2 2053.0,740.8 2054.0,732.8 2055.0,738.9 2056.0,734.8 2057.0,738.7 2058.0,729.0 2059.0,740.5 2060.0,740.7 2061.0,741.3 2062.0,740.8 2063.0,739.6 2064.0,741.1 2065.0,742.2 2066.0,737.8 2067.0,735.8 2068.0,739.4 2069.0,740.0 2070.0,740.8 2071.0,739.9 2072.0,740.4 2073.0,739.6 2074.0,731.9 2075.0,739.7 2076.0,737.6 2077.0,739.7 2078.0,737.7 2079.0,740.6 2080.0,739.7 2081.0,740.2 2082.0,739.7 2083.0,740.1 2084.0,741.4 2085.0,742.0 2086.0,741.0 2087.0,742.2 2088.0,740.9 2089.0,740.5 2090.0,739.5 2091.0,730.3 2092.0,740.8 2093.0,740.4 2094.0,740.5 2095.0,734.5 2096.0,740.8 2097.0,741.8 2098.0,733.8 2099.0,742.7 2100.0,741.6 2101.0,743.0 2102.0,742.0 2103.0,742.6 2104.0,743.2 2105.0,742.6 2106.0,741.7 2107.0,733.9 2108.0,710.7 2109.0,700.4 2110.0,713.3 2111.0,736.5 2112.0,741.2 2113.0,739.3 2114.0,742.6 2115.0,743.0 2116.0,743.0 2117.0,742.6 2118.0,742.5 2119.0,743.3 2120.0,743.4 2121.0,744.4 2122.0,744.0 2123.0,744.8 2124.0,745.6 2125.0,745.0 2126.0,739.9 2127.0,744.7 2128.0,745.4 2129.0,739.7 2130.0,744.0 2131.0,744.0 2132.0,745.0 2133.0,744.8 2134.0,745.6 2135.0,745.8 2136.0,745.2 2137.0,745.8 2138.0,745.0 2139.0,745.7 2140.0,739.3 2141.0,739.3 2142.0,744.9 2143.0,737.2 2144.0,744.1 2145.0,742.9 2146.0,741.6 2147.0,742.2 2148.0,741.8 2149.0,737.2 2150.0,734.8 2150.0,761.1 2149.0,761.3 2148.0,767.5 2147.0,763.1 2146.0,761.6 2145.0,761.0 2144.0,759.6 2143.0,767.0 2142.0,758.2 2141.0,759.1 2140.0,759.6 2139.0,758.5 2138.0,758.6 2137.0,758.7 2136.0,759.0 2135.0,758.2 2134.0,759.0 2133.0,758.4 2132.0,760.2 2131.0,759.5 2130.0,764.3 2129.0,759.6 2128.0,759.1 2127.0,759.8 2126.0,758.6 2125.0,758.1 2124.0,758.6 2123.0,764.9 2122.0,763.6 2121.0,760.2 2120.0,759.3 2119.0,760.8 2118.0,760.7 2117.0,768.7 2116.0,760.3 2115.0,761.9 2114.0,762.5 2113.0,763.1 2112.0,762.9 2111.0,765.6 2110.0,786.0 2109.0,797.3 2108.0,788.3 2107.0,767.9 2106.0,768.5 2105.0,767.7 2104.0,760.6 2103.0,762.2 2102.0,767.4 2101.0,769.6 2100.0,761.9 2099.0,761.4 2098.0,762.9 2097.0,763.4 2096.0,769.4 2095.0,771.7 2094.0,763.4 2093.0,769.7 2092.0,762.5 2091.0,764.1 2090.0,763.4 2089.0,764.6 2088.0,763.0 2087.0,762.8 2086.0,763.5 2085.0,765.6 2084.0,763.2 2083.0,762.4 2082.0,764.9 2081.0,763.3 2080.0,771.4 2079.0,774.1 2078.0,763.6 2077.0,766.1 2076.0,766.1 2075.0,766.1 2074.0,764.7 2073.0,763.6 2072.0,762.6 2071.0,775.7 2070.0,771.3 2069.0,774.0 2068.0,762.9 2067.0,770.1 2066.0,762.6 2065.0,761.8 2064.0,768.1 2063.0,763.8 2062.0,763.4 2061.0,763.5 2060.0,763.1 2059.0,762.9 2058.0,763.0 2057.0,765.4 2056.0,764.4 2055.0,765.0 2054.0,765.5 2053.0,765.6 2052.0,763.0 2051.0,763.1 2050.0,763.3 2049.0,763.7 2048.0,769.5 2047.0,763.0 2046.0,772.1 2045.0,762.4 2044.0,771.6 2043.0,762.7 2042.0,775.3 2041.0,764.0 2040.0,768.7 2039.0,764.3 2038.0,764.4 2037.0,770.2 2036.0,773.2 2035.0,768.1 2034.0,772.7 2033.0,770.8 2032.0,761.3 2031.0,760.0 2030.0,760.0 2029.0,761.1 2028.0,765.6 2027.0,786.0 2026.0,797.3 2025.0,788.3 2024.0,769.0 2023.0,761.1 2022.0,760.6 2021.0,761.1 2020.0,761.1 2019.0,760.5 2018.0,765.4 2017.0,759.9 2016.0,758.8 2015.0,760.6 2014.0,759.8 2013.0,758.4 2012.0,758.7 2011.0,761.1 2010.0,767.1 2009.0,759.2 2008.0,760.0 2007.0,768.1 2006.0,761.6 2005.0,762.1 2004.0,762.3 2003.0,762.2 2002.0,761.3 2001.0,761.8 2000.0,761.3 1999.0,767.9 1998.0,761.5 1997.0,761.0 1996.0,760.1 1995.0,767.1 1994.0,768.0 1993.0,761.4 1992.0,761.2 1991.0,760.8 1990.0,761.7 1989.0,761.1 1988.0,762.0 1987.0,761.5 1986.0,760.1 1985.0,760.1 1984.0,760.6 1983.0,762.6 1982.0,759.5 1981.0,759.9 1980.0,759.7 1979.0,764.8 1978.0,759.5 1977.0,760.0 1976.0,765.4 1975.0,767.7 1974.0,765.9 1973.0,759.1 1972.0,766.6 1971.0,761.3 1970.0,762.1 1969.0,761.0 1968.0,762.2 1967.0,761.7 1966.0,763.3 1965.0,763.4 1964.0,762.2 1963.0,761.5 1962.0,763.1 1961.0,763.0 1960.0,762.7 1959.0,774.0 1958.0,764.1 1957.0,764.6 1956.0,764.2 1955.0,772.0 1954.0,763.2 1953.0,763.1 1952.0,760.6 1951.0,768.2 1950.0,769.7 1949.0,760.2 1948.0,761.7 1947.0,760.6 1946.0,760.8 1945.0,761.2 1944.0,760.7 1943.0,760.6 1942.0,760.7 1941.0,764.8 1940.0,763.0 1939.0,760.8 1938.0,759.9 1937.0,765.8 1936.0,759.7 1935.0,759.6 1934.0,759.2 1933.0,758.6 1932.0,758.8 1931.0,763.6 1930.0,759.5 1929.0,763.8 1928.0,760.6 1927.0,760.5 1926.0,762.3 1925.0,765.1 1924.0,763.4 1923.0,763.4 1922.0,763.0 1921.0,763.3 1920.0,764.7 1919.0,763.6 1918.0,762.9 1917.0,770.7 1916.0,764.5 1915.0,764.7 1914.0,776.9 1913.0,785.2 1912.0,778.6 1911.0,764.4 1910.0,765.7 1909.0,767.1 1908.0,765.9 1907.0,765.4 1906.0,766.1 1905.0,767.2 1904.0,764.7 1903.0,777.7 1902.0,765.7 1901.0,769.4 1900.0,765.8 1899.0,767.1 1898.0,765.0 1897.0,765.0 1896.0,765.8 1895.0,777.6 1894.0,775.9 1893.0,773.1 1892.0,763.2 1891.0,774.2 1890.0,774.3 1889.0,764.2 1888.0,763.2 1887.0,764.0 1886.0,773.1 1885.0,777.8 1884.0,764.7 1883.0,765.0 1882.0,767.5 1881.0,763.4 1880.0,769.9 1879.0,765.7 1878.0,774.6 1877.0,771.0 1876.0,765.8 1875.0,765.3 1874.0,764.2 1873.0,764.8 1872.0,764.2 1871.0,770.2 1870.0,765.1 1869.0,774.8 1868.0,767.0 1867.0,767.1 1866.0,766.3 1865.0,767.1 1864.0,765.8 1863.0,767.8 1862.0,765.9 1861.0,766.0 1860.0,764.9 1859.0,763.4 1858.0,763.3 1857.0,764.1 1856.0,771.6 1855.0,772.5 1854.0,770.9 1853.0,764.6 1852.0,763.7 1851.0,770.8 1850.0,761.8 1849.0,762.1 1848.0,764.6 1847.0,762.9 1846.0,761.6 1845.0,761.0 1844.0,761.0 1843.0,761.6 1842.0,760.9 1841.0,761.2 1840.0,760.6 1839.0,760.5 1838.0,760.8 1837.0,760.8 1836.0,761.1 1835.0,760.7 1834.0,761.8 1833.0,762.6 1832.0,771.2 1831.0,762.1 1830.0,762.6 1829.0,762.9 1828.0,762.7 1827.0,763.2 1826.0,767.2 1825.0,763.2 1824.0,763.3 1823.0,763.6 1822.0,769.7 1821.0,773.9 1820.0,772.1 1819.0,777.2 1818.0,815.1 1817.0,836.1 1816.0,819.3 1815.0,781.4 1814.0,773.8 1813.0,763.7 1812.0,764.5 1811.0,763.2 1810.0,763.0 1809.0,774.7 1808.0,763.1 1807.0,763.6 1806.0,762.7 1805.0,771.7 1804.0,761.6 1803.0,763.7 1802.0,761.7 1801.0,761.0 1800.0,767.7 1799.0,762.3 1798.0,769.9 1797.0,762.7 1796.0,766.3 1795.0,763.1 1794.0,764.7 1793.0,765.0 1792.0,765.1 1791.0,765.5 1790.0,778.7 1789.0,775.0 1788.0,764.4 1787.0,774.8 1786.0,777.2 1785.0,766.5 1784.0,772.7 1783.0,776.0 1782.0,764.5 1781.0,764.5 1780.0,764.0 1779.0,763.9 1778.0,765.1 1777.0,764.0 1776.0,765.9 1775.0,766.4 1774.0,765.2 1773.0,764.7 1772.0,765.3 1771.0,773.3 1770.0,763.9 1769.0,763.5 1768.0,762.1 1767.0,762.3 1766.0,766.8 1765.0,763.1 1764.0,764.8 1763.0,762.4 1762.0,764.6 1761.0,763.8 1760.0,763.8 1759.0,766.8 1758.0,763.8 1757.0,764.5 1756.0,764.6 1755.0,765.1 1754.0,764.8 1753.0,770.8 1752.0,764.1 1751.0,764.5 1750.0,763.6 1749.0,764.0 1748.0,765.6 1747.0,763.8 1746.0,765.2 1745.0,763.5 1744.0,765.0 1743.0,768.3 1742.0,764.6 1741.0,765.0 1740.0,763.9 1739.0,764.4 1738.0,767.4 1737.0,762.0 1736.0,762.5 1735.0,766.9 1734.0,761.9 1733.0,763.7 1732.0,762.9 1731.0,763.0 1730.0,763.0 1729.0,768.0 1728.0,762.7 1727.0,764.9 1726.0,764.5 1725.0,763.4 1724.0,765.8 1723.0,763.0 1722.0,762.4 1721.0,762.1 1720.0,763.3 1719.0,762.1 1718.0,766.9 1717.0,762.7 1716.0,768.5 1715.0,762.9 1714.0,764.3 1713.0,763.8 1712.0,765.4 1711.0,765.2 1710.0,765.3 1709.0,765.3 1708.0,764.9 1707.0,766.4 1706.0,764.3 1705.0,763.8 1704.0,763.9 1703.0,773.5 1702.0,762.7 1701.0,764.1 1700.0,762.6 1699.0,762.9 1698.0,763.0 1697.0,763.2 1696.0,763.9 1695.0,765.0 1694.0,763.8 1693.0,764.0 1692.0,769.0 1691.0,762.0 1690.0,770.6 1689.0,761.5 1688.0,761.3 1687.0,768.6 1686.0,765.9 1685.0,761.7 1684.0,761.9 1683.0,760.6 1682.0,760.1 1681.0,763.2 1680.0,779.9 1679.0,789.3 1678.0,781.8 1677.0,765.0 1676.0,761.2 1675.0,766.8 1674.0,761.8 1673.0,770.6 1672.0,761.7 1671.0,761.4 1670.0,761.2 1669.0,762.0 1668.0,761.8 1667.0,762.1 1666.0,762.1 1665.0,763.0 1664.0,762.3 1663.0,761.9 1662.0,761.7 1661.0,761.6 1660.0,767.2 1659.0,760.4 1658.0,760.7 1657.0,760.4 1656.0,761.2 1655.0,759.9 1654.0,760.7 1653.0,758.7 1652.0,759.8 1651.0,759.0 1650.0,759.4 1649.0,759.7 1648.0,759.0 1647.0,760.2 1646.0,760.3 1645.0,759.8 1644.0,761.2 1643.0,760.2 1642.0,759.8 1641.0,759.6 1640.0,759.3 1639.0,759.2 1638.0,758.7 1637.0,759.1 1636.0,764.4 1635.0,759.6 1634.0,758.5 1633.0,758.6 1632.0,758.6 1631.0,758.8 1630.0,759.8 1629.0,759.4 1628.0,759.9 1627.0,759.3 1626.0,763.0 1625.0,763.6 1624.0,759.9 1623.0,763.2 1622.0,760.5 1621.0,761.1 1620.0,760.2 1619.0,767.7 1618.0,760.9 1617.0,760.4 1616.0,762.3 1615.0,761.5 1614.0,763.9 1613.0,762.4 1612.0,761.6 1611.0,762.7 1610.0,765.2 1609.0,774.2 1608.0,763.2 1607.0,762.4 1606.0,767.7 1605.0,765.7 1604.0,763.9 1603.0,764.6 1602.0,774.4 1601.0,765.2 1600.0,767.0 1599.0,764.2 1598.0,764.2 1597.0,765.3 1596.0,762.6 1595.0,763.1 1594.0,768.5 1593.0,761.9 1592.0,761.8 1591.0,761.7 1590.0,761.6 1589.0,760.3 1588.0,761.1 1587.0,761.3 1586.0,761.2 1585.0,760.4 1584.0,761.5 1583.0,761.4 1582.0,761.1 1581.0,760.9 1580.0,762.2 1579.0,760.2 1578.0,759.0 1577.0,758.7 1576.0,758.9 1575.0,766.3 1574.0,762.5 1573.0,758.2 1572.0,758.2 1571.0,759.2 1570.0,760.0 1569.0,759.6 1568.0,765.6 1567.0,759.9 1566.0,761.2 1565.0,760.3 1564.0,761.0 1563.0,766.8 1562.0,761.5 1561.0,761.2 1560.0,763.1 1559.0,766.6 1558.0,762.8 1557.0,763.2 1556.0,762.2 1555.0,762.4 1554.0,763.5 1553.0,763.0 1552.0,765.2 1551.0,763.9 1550.0,763.6 1549.0,769.4 1548.0,763.7 1547.0,767.4 1546.0,765.0 1545.0,773.3 1544.0,774.2 1543.0,764.3 1542.0,765.1 1541.0,765.0 1540.0,764.3 1539.0,766.1 1538.0,770.9 1537.0,771.7 1536.0,765.6 1535.0,764.0 1534.0,770.4 1533.0,766.0 1532.0,765.5 1531.0,765.1 1530.0,767.3 1529.0,764.6 1528.0,764.6 1527.0,764.4 1526.0,764.6 1525.0,762.9 1524.0,772.2 1523.0,769.8 1522.0,763.5 1521.0,764.4 1520.0,764.3 1519.0,764.2 1518.0,761.8 1517.0,762.7 1516.0,770.8 1515.0,761.8 1514.0,760.8 1513.0,761.9 1512.0,768.5 1511.0,769.0 1510.0,760.9 1509.0,760.2 1508.0,760.6 1507.0,759.9 1506.0,760.3 1505.0,760.9 1504.0,768.9 1503.0,761.8 1502.0,760.4 1501.0,760.4 1500.0,759.7 1499.0,760.7 1498.0,769.9 1497.0,761.6 1496.0,761.4 1495.0,761.4 1494.0,767.5 1493.0,761.5 1492.0,764.6 1491.0,762.6 1490.0,761.0 1489.0,762.1 1488.0,761.8 1487.0,763.2 1486.0,761.3 1485.0,762.2 1484.0,770.9 1483.0,763.7 1482.0,761.9 1481.0,763.6 1480.0,763.6 1479.0,765.7 1478.0,763.9 1477.0,763.6 1476.0,764.4 1475.0,767.2 1474.0,763.7 1473.0,762.6 1472.0,762.9 1471.0,762.4 1470.0,762.6 1469.0,765.7 1468.0,761.6 1467.0,763.0 1466.0,763.1 1465.0,763.0 1464.0,763.3 1463.0,771.9 1462.0,781.8 1461.0,826.6 1460.0,851.5 1459.0,831.6 1458.0,786.8 1457.0,771.9 1456.0,763.3 1455.0,763.2 1454.0,764.6 1453.0,763.4 1452.0,771.0 1451.0,772.5 1450.0,765.2 1449.0,765.4 1448.0,764.2 1447.0,775.0 1446.0,776.6 1445.0,765.5 1444.0,766.3 1443.0,766.4 1442.0,765.2 1441.0,767.2 1440.0,775.5 1439.0,766.6 1438.0,772.3 1437.0,764.3 1436.0,771.4 1435.0,765.9 1434.0,772.2 1433.0,766.2 1432.0,768.9 1431.0,766.3 1430.0,770.0 1429.0,765.0 1428.0,766.1 1427.0,765.1 1426.0,764.1 1425.0,765.5 1424.0,765.1 1423.0,765.7 1422.0,765.3 1421.0,765.3 1420.0,765.7 1419.0,765.5 1418.0,764.6 1417.0,766.5 1416.0,764.8 1415.0,764.8 1414.0,770.1 1413.0,764.0 1412.0,764.6 1411.0,765.1 1410.0,774.3 1409.0,765.3 1408.0,764.4 1407.0,764.2 1406.0,763.2 1405.0,763.7 1404.0,762.1 1403.0,762.1 1402.0,767.6 1401.0,763.1 1400.0,763.9 1399.0,776.4 1398.0,765.0 1397.0,765.0 1396.0,765.4 1395.0,763.8 1394.0,762.3 1393.0,762.5 1392.0,762.2 1391.0,763.6 1390.0,763.7 1389.0,761.6 1388.0,763.1 1387.0,762.2 1386.0,761.8 1385.0,773.5 1384.0,761.9 1383.0,772.8 1382.0,763.1 1381.0,763.2 1380.0,770.5 1379.0,763.0 1378.0,769.5 1377.0,761.5 1376.0,760.8 1375.0,768.7 1374.0,761.9 1373.0,759.8 1372.0,764.5 1371.0,759.8 1370.0,761.2 1369.0,760.8 1368.0,767.4 1367.0,760.8 1366.0,760.2 1365.0,760.7 1364.0,760.1 1363.0,760.0 1362.0,764.7 1361.0,765.1 1360.0,759.2 1359.0,765.7 1358.0,760.5 1357.0,760.9 1356.0,759.9 1355.0,761.2 1354.0,759.6 1353.0,759.4 1352.0,767.2 1351.0,759.7 1350.0,766.4 1349.0,758.8 1348.0,759.6 1347.0,760.5 1346.0,760.7 1345.0,760.1 1344.0,760.7 1343.0,760.3 1342.0,759.8 1341.0,760.2 1340.0,765.5 1339.0,761.5 1338.0,761.2 1337.0,762.2 1336.0,760.4 1335.0,762.3 1334.0,761.6 1333.0,762.0 1332.0,762.3 1331.0,761.3 1330.0,762.1 1329.0,762.9 1328.0,773.5 1327.0,773.4 1326.0,772.4 1325.0,762.9 1324.0,773.4 1323.0,762.7 1322.0,761.4 1321.0,762.5 1320.0,773.3 1319.0,762.8 1318.0,763.4 1317.0,769.0 1316.0,762.1 1315.0,763.5 1314.0,762.2 1313.0,768.9 1312.0,762.1 1311.0,772.6 1310.0,762.1 1309.0,762.3 1308.0,761.9 1307.0,761.4 1306.0,761.8 1305.0,768.2 1304.0,768.8 1303.0,760.7 1302.0,761.0 1301.0,761.1 1300.0,761.4 1299.0,772.1 1298.0,761.7 1297.0,763.0 1296.0,762.9 1295.0,762.7 1294.0,762.1 1293.0,761.8 1292.0,763.2 1291.0,762.1 1290.0,762.9 1289.0,762.7 1288.0,761.4 1287.0,763.0 1286.0,762.3 1285.0,770.5 1284.0,767.5 1283.0,761.8 1282.0,768.7 1281.0,761.7 1280.0,764.7 1279.0,766.6 1278.0,763.0 1277.0,761.5 1276.0,761.6 1275.0,761.2 1274.0,762.4 1273.0,760.9 1272.0,761.2 1271.0,767.2 1270.0,760.7 1269.0,760.4 1268.0,760.7 1267.0,759.8 1266.0,759.3 1265.0,759.2 1264.0,759.5 1263.0,759.3 1262.0,759.7 1261.0,761.7 1260.0,765.4 1259.0,761.0 1258.0,761.2 1257.0,767.3 1256.0,761.2 1255.0,761.8 1254.0,760.8 1253.0,766.8 1252.0,771.1 1251.0,780.6 1250.0,823.6 1249.0,847.4 1248.0,828.3 1247.0,785.4 1246.0,771.1 1245.0,760.9 1244.0,760.7 1243.0,760.5 1242.0,760.2 1241.0,760.6 1240.0,766.6 1239.0,760.1 1238.0,759.0 1237.0,759.2 1236.0,759.2 1235.0,759.8 1234.0,760.2 1233.0,760.3 1232.0,759.7 1231.0,759.5 1230.0,765.4 1229.0,764.6 1228.0,760.6 1227.0,759.8 1226.0,763.3 1225.0,761.4 1224.0,760.5 1223.0,761.4 1222.0,761.0 1221.0,770.2 1220.0,760.5 1219.0,767.1 1218.0,766.9 1217.0,762.3 1216.0,771.8 1215.0,762.4 1214.0,762.5 1213.0,767.5 1212.0,764.7 1211.0,762.6 1210.0,762.9 1209.0,766.3 1208.0,761.1 1207.0,766.1 1206.0,767.7 1205.0,762.7 1204.0,764.0 1203.0,762.2 1202.0,761.7 1201.0,761.5 1200.0,760.7 1199.0,762.3 1198.0,761.5 1197.0,762.3 1196.0,772.4 1195.0,762.3 1194.0,762.4 1193.0,771.3 1192.0,766.8 1191.0,789.0 1190.0,801.4 1189.0,791.5 1188.0,769.3 1187.0,769.2 1186.0,763.4 1185.0,762.9 1184.0,762.2 1183.0,764.2 1182.0,765.3 1181.0,762.2 1180.0,763.8 1179.0,762.3 1178.0,762.7 1177.0,763.4 1176.0,763.8 1175.0,771.2 1174.0,763.9 1173.0,763.2 1172.0,773.8 1171.0,762.0 1170.0,763.9 1169.0,763.9 1168.0,762.6 1167.0,763.4 1166.0,767.5 1165.0,761.8 1164.0,762.4 1163.0,763.6 1162.0,769.3 1161.0,762.8 1160.0,762.3" fill="#168854" stroke="#168854" stroke-width="0.6" stroke-linejoin="round"/>
<polygon points="1162.0,939.8 1163.0,938.0 1164.0,939.4 1165.0,938.9 1166.0,938.6 1167.0,938.5 1168.0,934.6 1169.0,939.1 1170.0,939.4 1171.0,938.9 1172.0,940.5 1173.0,940.6 1174.0,940.1 1175.0,940.4 1176.0,936.8 1177.0,940.0 1178.0,940.3 1179.0,937.0 1180.0,940.0 1181.0,938.2 1182.0,940.3 1183.0,937.9 1184.0,938.7 1185.0,939.6 1186.0,939.2 1187.0,939.4 1188.0,939.1 1189.0,940.2 1190.0,940.4 1191.0,940.5 1192.0,940.4 1193.0,940.1 1194.0,940.3 1195.0,936.3 1196.0,938.4 1197.0,937.7 1198.0,933.9 1199.0,937.7 1200.0,937.8 1201.0,933.7 1202.0,938.0 1203.0,936.9 1204.0,938.2 1205.0,937.4 1206.0,936.4 1207.0,933.7 1208.0,936.7 1209.0,931.8 1210.0,935.2 1211.0,938.6 1212.0,938.5 1213.0,938.9 1214.0,939.1 1215.0,935.8 1216.0,938.8 1217.0,939.6 1218.0,939.8 1219.0,940.0 1220.0,937.4 1221.0,939.3 1222.0,938.2 1223.0,939.5 1224.0,938.7 1225.0,939.0 1226.0,937.8 1227.0,935.8 1228.0,933.3 1229.0,936.0 1230.0,927.8 1231.0,935.6 1232.0,936.6 1233.0,936.0 1234.0,932.2 1235.0,935.6 1236.0,934.2 1237.0,934.5 1238.0,934.4 1239.0,937.1 1240.0,937.7 1241.0,937.0 1242.0,937.1 1243.0,938.2 1244.0,934.6 1245.0,937.6 1246.0,939.3 1247.0,939.4 1248.0,939.7 1249.0,940.1 1250.0,937.2 1251.0,939.5 1252.0,940.2 1253.0,940.2 1254.0,938.0 1255.0,940.3 1256.0,937.9 1257.0,940.5 1258.0,938.1 1259.0,939.7 1260.0,939.5 1261.0,937.9 1262.0,937.7 1263.0,937.7 1264.0,938.9 1265.0,939.2 1266.0,937.9 1267.0,939.1 1268.0,939.4 1269.0,938.3 1270.0,936.9 1271.0,937.7 1272.0,934.1 1273.0,938.8 1274.0,938.6 1275.0,937.0 1276.0,937.4 1277.0,937.2 1278.0,937.3 1279.0,937.7 1280.0,937.2 1281.0,939.0 1282.0,938.9 1283.0,936.2 1284.0,940.2 1285.0,940.5 1286.0,938.9 1287.0,938.8 1288.0,939.2 1289.0,939.7 1290.0,939.8 1291.0,939.2 1292.0,939.8 1293.0,939.2 1294.0,940.1 1295.0,939.5 1296.0,939.9 1297.0,939.5 1298.0,938.9 1299.0,939.5 1300.0,939.4 1301.0,940.1 1302.0,940.7 1303.0,940.3 1304.0,939.9 1305.0,940.3 1306.0,940.0 1307.0,939.3 1308.0,939.7 1309.0,939.1 1310.0,936.5 1311.0,939.9 1312.0,940.2 1313.0,940.3 1314.0,940.0 1315.0,940.6 1316.0,940.6 1317.0,938.2 1318.0,940.7 1319.0,938.5 1320.0,939.7 1321.0,938.0 1322.0,940.3 1323.0,940.6 1324.0,940.3 1325.0,940.3 1326.0,940.4 1327.0,940.2 1328.0,939.9 1329.0,939.8 1330.0,939.1 1331.0,938.7 1332.0,938.8 1333.0,938.9 1334.0,937.9 1335.0,939.4 1336.0,938.6 1337.0,938.1 1338.0,939.7 1339.0,939.6 1340.0,940.3 1341.0,940.6 1342.0,939.2 1343.0,940.4 1344.0,940.6 1345.0,940.6 1346.0,938.5 1347.0,940.7 1348.0,938.5 1349.0,939.9 1350.0,940.7 1351.0,940.4 1352.0,940.5 1353.0,939.1 1354.0,939.5 1355.0,940.8 1356.0,940.4 1357.0,940.4 1358.0,940.7 1359.0,940.7 1360.0,940.4 1361.0,940.6 1362.0,940.8 1363.0,940.6 1364.0,940.1 1365.0,940.4 1366.0,939.5 1367.0,938.8 1368.0,940.1 1369.0,939.8 1370.0,939.9 1371.0,939.7 1372.0,939.6 1373.0,936.2 1374.0,938.6 1375.0,938.8 1376.0,939.0 1377.0,939.0 1378.0,936.5 1379.0,939.4 1380.0,938.9 1381.0,938.2 1382.0,937.8 1383.0,938.0 1384.0,937.8 1385.0,933.9 1386.0,938.0 1387.0,931.9 1388.0,936.9 1389.0,938.2 1390.0,937.1 1391.0,936.3 1392.0,938.0 1393.0,937.3 1394.0,937.1 1395.0,937.9 1396.0,935.4 1397.0,937.2 1398.0,937.9 1399.0,938.9 1400.0,939.3 1401.0,936.3 1402.0,940.6 1403.0,940.5 1404.0,938.7 1405.0,940.6 1406.0,939.8 1407.0,940.4 1408.0,940.4 1409.0,940.0 1410.0,940.1 1411.0,938.1 1412.0,938.3 1413.0,937.7 1414.0,936.9 1415.0,937.0 1416.0,931.9 1417.0,935.0 1418.0,934.3 1419.0,926.4 1420.0,934.1 1421.0,934.4 1422.0,928.3 1423.0,930.8 1424.0,929.1 1425.0,929.9 1426.0,926.6 1427.0,930.7 1428.0,926.0 1429.0,934.3 1430.0,935.0 1431.0,935.1 1432.0,935.2 1433.0,933.8 1434.0,930.5 1435.0,935.9 1436.0,934.2 1437.0,935.4 1438.0,932.8 1439.0,933.9 1440.0,935.0 1441.0,936.1 1442.0,932.4 1443.0,937.2 1444.0,930.1 1445.0,937.2 1446.0,936.3 1447.0,936.8 1448.0,937.0 1449.0,937.5 1450.0,938.4 1451.0,938.2 1452.0,937.5 1453.0,937.2 1454.0,937.7 1455.0,938.2 1456.0,938.6 1457.0,938.8 1458.0,939.1 1459.0,939.3 1460.0,939.3 1461.0,939.4 1462.0,939.1 1463.0,940.1 1464.0,939.6 1465.0,937.7 1466.0,939.4 1467.0,938.5 1468.0,938.5 1469.0,935.9 1470.0,938.7 1471.0,939.0 1472.0,935.4 1473.0,939.0 1474.0,939.0 1475.0,939.2 1476.0,937.5 1477.0,939.3 1478.0,939.5 1479.0,939.6 1480.0,938.9 1481.0,939.0 1482.0,938.4 1483.0,938.5 1484.0,939.0 1485.0,939.6 1486.0,939.8 1487.0,940.2 1488.0,939.1 1489.0,940.4 1490.0,937.9 1491.0,939.9 1492.0,940.7 1493.0,940.5 1494.0,940.7 1495.0,940.4 1496.0,940.4 1497.0,940.5 1498.0,937.7 1499.0,939.5 1500.0,939.7 1501.0,940.5 1502.0,940.6 1503.0,940.5 1504.0,940.6 1505.0,940.6 1506.0,940.2 1507.0,940.0 1508.0,938.2 1509.0,938.9 1510.0,939.1 1511.0,938.2 1512.0,938.8 1513.0,938.2 1514.0,939.2 1515.0,939.3 1516.0,938.5 1517.0,936.1 1518.0,938.2 1519.0,937.6 1520.0,937.7 1521.0,938.5 1522.0,939.0 1523.0,939.6 1524.0,939.8 1525.0,938.9 1526.0,935.8 1527.0,933.5 1528.0,937.9 1529.0,937.1 1530.0,934.0 1531.0,936.6 1532.0,937.8 1533.0,938.1 1534.0,937.3 1535.0,933.8 1536.0,937.3 1537.0,937.0 1538.0,931.8 1539.0,932.2 1540.0,936.7 1541.0,937.5 1542.0,937.0 1543.0,937.7 1544.0,937.7 1545.0,937.7 1546.0,932.4 1547.0,936.6 1548.0,932.4 1549.0,936.7 1550.0,937.3 1551.0,932.8 1552.0,938.0 1553.0,937.3 1554.0,934.3 1555.0,938.9 1556.0,935.0 1557.0,939.9 1558.0,939.8 1559.0,939.8 1560.0,940.0 1561.0,940.5 1562.0,940.5 1563.0,940.5 1564.0,940.3 1565.0,937.1 1566.0,940.1 1567.0,940.5 1568.0,940.1 1569.0,940.6 1570.0,940.6 1571.0,940.6 1572.0,940.4 1573.0,939.1 1574.0,940.5 1575.0,940.3 1576.0,938.7 1577.0,940.5 1578.0,938.8 1579.0,939.4 1580.0,939.4 1581.0,940.4 1582.0,939.5 1583.0,938.6 1584.0,938.6 1585.0,937.5 1586.0,939.6 1587.0,937.5 1588.0,939.7 1589.0,940.3 1590.0,939.2 1591.0,940.4 1592.0,940.5 1593.0,940.2 1594.0,940.2 1595.0,938.3 1596.0,938.3 1597.0,939.9 1598.0,939.7 1599.0,939.0 1600.0,938.7 1601.0,939.3 1602.0,938.9 1603.0,939.0 1604.0,937.1 1605.0,937.4 1606.0,939.1 1607.0,939.3 1608.0,939.2 1609.0,939.5 1610.0,938.9 1611.0,937.4 1612.0,938.6 1613.0,937.7 1614.0,934.2 1615.0,936.7 1616.0,936.8 1617.0,936.2 1618.0,937.4 1619.0,937.0 1620.0,936.4 1621.0,936.5 1622.0,935.8 1623.0,935.9 1624.0,936.9 1625.0,937.2 1626.0,937.7 1627.0,937.4 1628.0,937.3 1629.0,937.5 1630.0,936.7 1631.0,935.7 1632.0,937.7 1633.0,939.4 1634.0,938.4 1635.0,939.1 1636.0,939.1 1637.0,936.0 1638.0,939.3 1639.0,939.9 1640.0,940.0 1641.0,939.9 1642.0,940.0 1643.0,936.8 1644.0,937.6 1645.0,940.3 1646.0,940.1 1647.0,937.6 1648.0,940.2 1649.0,939.6 1650.0,940.1 1651.0,938.6 1652.0,938.7 1653.0,938.3 1654.0,935.7 1655.0,939.2 1656.0,938.2 1657.0,938.2 1658.0,931.8 1659.0,932.9 1660.0,937.0 1661.0,937.2 1662.0,937.5 1663.0,936.7 1664.0,937.5 1665.0,937.3 1666.0,937.5 1667.0,937.4 1668.0,936.8 1669.0,936.6 1670.0,936.8 1671.0,936.9 1672.0,937.9 1673.0,938.2 1674.0,938.6 1675.0,937.8 1676.0,937.1 1677.0,938.0 1678.0,938.3 1679.0,938.0 1680.0,937.5 1681.0,938.5 1682.0,938.2 1683.0,937.5 1684.0,937.3 1685.0,932.1 1686.0,938.2 1687.0,938.0 1688.0,938.4 1689.0,933.5 1690.0,937.8 1691.0,936.2 1692.0,937.6 1693.0,937.6 1694.0,938.3 1695.0,937.8 1696.0,938.8 1697.0,937.8 1698.0,937.7 1699.0,938.1 1700.0,938.4 1701.0,938.7 1702.0,933.7 1703.0,938.1 1704.0,938.8 1705.0,938.9 1706.0,938.2 1707.0,938.7 1708.0,937.9 1709.0,938.9 1710.0,940.0 1711.0,939.3 1712.0,939.2 1713.0,939.6 1714.0,935.0 1715.0,937.7 1716.0,937.9 1717.0,938.1 1718.0,937.6 1719.0,934.6 1720.0,936.4 1721.0,935.0 1722.0,928.5 1723.0,936.5 1724.0,936.3 1725.0,933.9 1726.0,936.4 1727.0,934.4 1728.0,936.7 1729.0,932.6 1730.0,936.8 1731.0,936.1 1732.0,936.1 1733.0,935.9 1734.0,935.0 1735.0,935.4 1736.0,934.6 1737.0,936.0 1738.0,935.4 1739.0,935.8 1740.0,934.9 1741.0,935.7 1742.0,929.1 1743.0,935.8 1744.0,935.4 1745.0,932.5 1746.0,935.2 1747.0,935.7 1748.0,936.2 1749.0,935.2 1750.0,935.6 1751.0,934.5 1752.0,934.8 1753.0,934.5 1754.0,932.6 1755.0,931.8 1756.0,923.7 1757.0,913.7 1758.0,906.4 1759.0,915.6 1760.0,932.2 1761.0,934.1 1762.0,936.3 1763.0,937.6 1764.0,938.3 1765.0,938.0 1766.0,939.0 1767.0,939.5 1768.0,939.6 1769.0,940.2 1770.0,940.0 1771.0,939.9 1772.0,939.4 1773.0,939.1 1774.0,940.1 1775.0,939.5 1776.0,936.0 1777.0,939.5 1778.0,939.8 1779.0,940.1 1780.0,939.4 1781.0,937.8 1782.0,938.1 1783.0,937.9 1784.0,938.7 1785.0,939.1 1786.0,939.5 1787.0,939.0 1788.0,938.9 1789.0,938.3 1790.0,938.9 1791.0,938.4 1792.0,936.1 1793.0,938.8 1794.0,938.9 1795.0,939.0 1796.0,938.5 1797.0,933.5 1798.0,938.0 1799.0,934.3 1800.0,938.5 1801.0,938.2 1802.0,938.3 1803.0,938.5 1804.0,936.7 1805.0,933.3 1806.0,939.3 1807.0,939.4 1808.0,937.3 1809.0,937.4 1810.0,937.0 1811.0,929.5 1812.0,931.4 1813.0,936.3 1814.0,936.5 1815.0,937.0 1816.0,936.5 1817.0,935.6 1818.0,936.9 1819.0,936.5 1820.0,937.1 1821.0,937.5 1822.0,935.7 1823.0,938.7 1824.0,938.6 1825.0,938.0 1826.0,938.6 1827.0,937.9 1828.0,938.3 1829.0,938.1 1830.0,938.6 1831.0,938.5 1832.0,937.7 1833.0,937.9 1834.0,939.5 1835.0,940.2 1836.0,940.4 1837.0,940.5 1838.0,940.5 1839.0,940.6 1840.0,940.4 1841.0,940.5 1842.0,940.7 1843.0,940.5 1844.0,939.4 1845.0,940.7 1846.0,940.8 1847.0,938.9 1848.0,940.6 1849.0,939.3 1850.0,940.5 1851.0,940.5 1852.0,940.5 1853.0,940.5 1854.0,940.7 1855.0,940.4 1856.0,940.2 1857.0,940.6 1858.0,940.5 1859.0,938.5 1860.0,939.3 1861.0,940.5 1862.0,939.5 1863.0,940.3 1864.0,940.7 1865.0,939.7 1866.0,940.5 1867.0,939.2 1868.0,940.4 1869.0,940.0 1870.0,940.2 1871.0,936.6 1872.0,940.8 1873.0,940.6 1874.0,940.4 1875.0,938.5 1876.0,940.4 1877.0,940.0 1878.0,940.7 1879.0,940.4 1880.0,940.5 1881.0,940.1 1882.0,940.7 1883.0,939.0 1884.0,940.4 1885.0,940.3 1886.0,939.9 1887.0,937.4 1888.0,929.9 1889.0,926.6 1890.0,930.7 1891.0,938.2 1892.0,939.4 1893.0,937.7 1894.0,940.7 1895.0,939.7 1896.0,940.1 1897.0,937.6 1898.0,938.4 1899.0,939.3 1900.0,938.5 1901.0,934.6 1902.0,935.3 1903.0,934.4 1904.0,937.7 1905.0,938.2 1906.0,937.0 1907.0,937.4 1908.0,936.8 1909.0,937.2 1910.0,938.8 1911.0,939.1 1912.0,939.5 1913.0,939.3 1914.0,939.5 1915.0,939.8 1916.0,938.5 1917.0,940.7 1918.0,940.7 1919.0,940.5 1920.0,939.4 1921.0,940.5 1922.0,940.2 1923.0,940.7 1924.0,939.4 1925.0,938.8 1926.0,940.4 1927.0,940.6 1928.0,940.4 1929.0,940.1 1930.0,940.4 1931.0,940.6 1932.0,940.5 1933.0,940.7 1934.0,939.0 1935.0,938.5 1936.0,940.5 1937.0,938.5 1938.0,940.5 1939.0,940.2 1940.0,940.1 1941.0,939.5 1942.0,939.9 1943.0,939.1 1944.0,939.1 1945.0,938.0 1946.0,937.3 1947.0,938.6 1948.0,939.2 1949.0,938.7 1950.0,938.3 1951.0,936.2 1952.0,935.8 1953.0,938.0 1954.0,937.2 1955.0,938.0 1956.0,936.2 1957.0,933.1 1958.0,937.9 1959.0,937.1 1960.0,936.6 1961.0,936.5 1962.0,937.6 1963.0,937.0 1964.0,932.5 1965.0,936.3 1966.0,932.4 1967.0,930.1 1968.0,935.8 1969.0,937.2 1970.0,936.2 1971.0,936.5 1972.0,936.4 1973.0,936.6 1974.0,937.3 1975.0,937.0 1976.0,937.0 1977.0,936.7 1978.0,936.8 1979.0,934.2 1980.0,932.4 1981.0,937.6 1982.0,932.2 1983.0,937.4 1984.0,937.6 1985.0,937.9 1986.0,937.6 1987.0,937.0 1988.0,936.7 1989.0,937.0 1990.0,933.3 1991.0,936.7 1992.0,936.5 1993.0,936.9 1994.0,936.3 1995.0,938.4 1996.0,934.7 1997.0,938.1 1998.0,935.4 1999.0,936.7 2000.0,938.1 2001.0,938.7 2002.0,933.6 2003.0,932.9 2004.0,938.7 2005.0,935.4 2006.0,936.1 2007.0,937.3 2008.0,936.7 2009.0,936.9 2010.0,937.6 2011.0,937.4 2012.0,937.5 2013.0,937.2 2014.0,934.9 2015.0,938.4 2016.0,936.2 2017.0,935.8 2018.0,937.9 2019.0,933.1 2020.0,937.0 2021.0,933.1 2022.0,937.0 2023.0,937.8 2024.0,938.4 2025.0,937.5 2026.0,931.6 2027.0,937.7 2028.0,934.7 2029.0,936.0 2030.0,936.1 2031.0,936.1 2032.0,935.8 2033.0,935.2 2034.0,934.4 2035.0,933.7 2036.0,934.0 2037.0,922.1 2038.0,916.9 2039.0,923.5 2040.0,934.2 2041.0,935.4 2042.0,935.0 2043.0,930.1 2044.0,936.6 2045.0,937.4 2046.0,938.0 2047.0,936.9 2048.0,937.8 2049.0,937.8 2050.0,935.5 2051.0,938.5 2052.0,939.1 2053.0,939.7 2054.0,940.3 2055.0,940.2 2056.0,939.9 2057.0,940.5 2058.0,937.9 2059.0,940.6 2060.0,939.7 2061.0,939.1 2062.0,940.6 2063.0,940.5 2064.0,940.5 2065.0,940.5 2066.0,939.2 2067.0,940.2 2068.0,940.5 2069.0,940.5 2070.0,940.5 2071.0,939.7 2072.0,940.6 2073.0,939.1 2074.0,940.6 2075.0,940.5 2076.0,940.6 2077.0,940.6 2078.0,938.8 2079.0,940.4 2080.0,938.7 2081.0,940.6 2082.0,940.4 2083.0,940.5 2084.0,939.3 2085.0,940.7 2086.0,940.7 2087.0,938.1 2088.0,940.3 2089.0,940.1 2090.0,940.6 2091.0,940.3 2092.0,939.2 2093.0,939.8 2094.0,938.1 2095.0,936.1 2096.0,938.7 2097.0,939.3 2098.0,939.3 2099.0,939.5 2100.0,939.1 2101.0,937.7 2102.0,936.3 2103.0,938.5 2104.0,938.4 2105.0,932.9 2106.0,937.7 2107.0,935.8 2108.0,938.1 2109.0,938.0 2110.0,937.3 2111.0,936.9 2112.0,936.8 2113.0,936.4 2114.0,932.8 2115.0,933.1 2116.0,936.8 2117.0,937.0 2118.0,932.6 2119.0,936.5 2120.0,935.9 2121.0,935.4 2122.0,934.9 2123.0,935.9 2124.0,936.1 2125.0,935.8 2126.0,935.6 2127.0,935.0 2128.0,931.0 2129.0,935.7 2130.0,935.6 2131.0,930.8 2132.0,935.2 2133.0,934.9 2134.0,935.5 2135.0,929.3 2136.0,936.8 2137.0,937.5 2138.0,937.3 2139.0,937.3 2140.0,936.7 2141.0,936.1 2142.0,930.7 2143.0,935.9 2144.0,936.3 2145.0,935.7 2146.0,936.2 2147.0,931.8 2148.0,936.2 2149.0,936.2 2150.0,936.9 2151.0,933.5 2152.0,936.0 2153.0,936.6 2153.0,949.3 2152.0,950.3 2151.0,954.0 2150.0,951.6 2149.0,950.7 2148.0,950.1 2147.0,950.0 2146.0,949.6 2145.0,956.0 2144.0,949.9 2143.0,951.1 2142.0,949.6 2141.0,950.1 2140.0,950.0 2139.0,954.1 2138.0,949.3 2137.0,949.6 2136.0,949.9 2135.0,950.3 2134.0,951.2 2133.0,950.7 2132.0,950.3 2131.0,950.6 2130.0,951.1 2129.0,951.0 2128.0,951.4 2127.0,950.9 2126.0,950.5 2125.0,951.5 2124.0,950.3 2123.0,952.0 2122.0,950.3 2121.0,951.0 2120.0,949.9 2119.0,950.2 2118.0,949.9 2117.0,950.2 2116.0,949.2 2115.0,949.8 2114.0,949.1 2113.0,949.3 2112.0,950.1 2111.0,953.6 2110.0,948.7 2109.0,948.2 2108.0,952.8 2107.0,948.5 2106.0,953.3 2105.0,948.7 2104.0,947.8 2103.0,948.2 2102.0,950.5 2101.0,948.3 2100.0,947.6 2099.0,948.4 2098.0,947.2 2097.0,950.1 2096.0,951.2 2095.0,947.4 2094.0,946.7 2093.0,948.7 2092.0,946.6 2091.0,945.8 2090.0,946.6 2089.0,946.5 2088.0,946.2 2087.0,945.7 2086.0,945.9 2085.0,946.0 2084.0,945.8 2083.0,945.8 2082.0,945.9 2081.0,946.0 2080.0,948.0 2079.0,945.7 2078.0,945.9 2077.0,945.9 2076.0,945.9 2075.0,947.3 2074.0,945.9 2073.0,945.9 2072.0,947.6 2071.0,946.5 2070.0,946.0 2069.0,946.0 2068.0,946.0 2067.0,945.7 2066.0,945.8 2065.0,946.0 2064.0,945.9 2063.0,945.9 2062.0,946.0 2061.0,946.2 2060.0,946.5 2059.0,947.1 2058.0,945.7 2057.0,948.0 2056.0,947.8 2055.0,946.1 2054.0,946.0 2053.0,946.8 2052.0,947.1 2051.0,952.4 2050.0,947.5 2049.0,952.3 2048.0,948.9 2047.0,954.5 2046.0,948.2 2045.0,949.0 2044.0,949.9 2043.0,950.0 2042.0,951.3 2041.0,952.2 2040.0,960.5 2039.0,961.0 2038.0,967.0 2037.0,962.2 2036.0,952.1 2035.0,952.5 2034.0,952.0 2033.0,953.7 2032.0,955.1 2031.0,950.0 2030.0,950.2 2029.0,950.8 2028.0,954.2 2027.0,949.3 2026.0,950.1 2025.0,949.7 2024.0,953.0 2023.0,948.5 2022.0,948.3 2021.0,949.4 2020.0,955.3 2019.0,949.9 2018.0,948.7 2017.0,948.1 2016.0,948.7 2015.0,951.3 2014.0,951.3 2013.0,948.8 2012.0,948.7 2011.0,949.5 2010.0,949.2 2009.0,949.4 2008.0,949.3 2007.0,949.5 2006.0,950.0 2005.0,948.5 2004.0,947.8 2003.0,951.6 2002.0,948.3 2001.0,947.7 2000.0,948.4 1999.0,949.6 1998.0,950.5 1997.0,950.1 1996.0,948.3 1995.0,948.4 1994.0,949.6 1993.0,949.8 1992.0,950.3 1991.0,951.8 1990.0,949.2 1989.0,949.3 1988.0,948.5 1987.0,948.8 1986.0,948.8 1985.0,949.0 1984.0,949.2 1983.0,949.5 1982.0,949.3 1981.0,954.3 1980.0,949.5 1979.0,949.2 1978.0,949.7 1977.0,950.2 1976.0,951.9 1975.0,949.8 1974.0,954.8 1973.0,949.6 1972.0,950.0 1971.0,950.6 1970.0,949.8 1969.0,948.9 1968.0,949.8 1967.0,952.7 1966.0,949.7 1965.0,949.9 1964.0,949.7 1963.0,949.5 1962.0,949.0 1961.0,949.4 1960.0,949.3 1959.0,948.9 1958.0,952.8 1957.0,952.0 1956.0,948.7 1955.0,952.7 1954.0,948.9 1953.0,948.7 1952.0,948.9 1951.0,949.7 1950.0,948.4 1949.0,948.3 1948.0,946.8 1947.0,947.2 1946.0,947.4 1945.0,947.1 1944.0,947.6 1943.0,947.1 1942.0,946.5 1941.0,946.4 1940.0,946.1 1939.0,946.1 1938.0,946.1 1937.0,945.9 1936.0,945.8 1935.0,945.6 1934.0,945.9 1933.0,945.7 1932.0,945.8 1931.0,945.8 1930.0,945.7 1929.0,945.9 1928.0,947.3 1927.0,948.4 1926.0,948.1 1925.0,945.7 1924.0,945.9 1923.0,947.3 1922.0,947.6 1921.0,945.9 1920.0,946.0 1919.0,945.9 1918.0,947.0 1917.0,948.4 1916.0,945.9 1915.0,946.5 1914.0,946.6 1913.0,947.7 1912.0,946.5 1911.0,947.1 1910.0,950.7 1909.0,947.3 1908.0,949.3 1907.0,949.7 1906.0,952.2 1905.0,948.5 1904.0,948.1 1903.0,947.7 1902.0,947.4 1901.0,947.7 1900.0,947.4 1899.0,950.9 1898.0,948.2 1897.0,947.5 1896.0,946.2 1895.0,946.7 1894.0,947.7 1893.0,946.3 1892.0,948.0 1891.0,950.3 1890.0,961.0 1889.0,967.0 1888.0,962.2 1887.0,951.5 1886.0,948.0 1885.0,948.5 1884.0,946.1 1883.0,945.9 1882.0,945.9 1881.0,947.0 1880.0,945.8 1879.0,946.0 1878.0,945.7 1877.0,945.7 1876.0,948.5 1875.0,946.2 1874.0,945.8 1873.0,945.7 1872.0,948.1 1871.0,946.7 1870.0,946.1 1869.0,947.0 1868.0,945.8 1867.0,945.8 1866.0,945.9 1865.0,947.4 1864.0,945.8 1863.0,946.0 1862.0,945.9 1861.0,945.7 1860.0,946.0 1859.0,945.9 1858.0,947.3 1857.0,946.1 1856.0,945.9 1855.0,945.8 1854.0,947.6 1853.0,946.0 1852.0,947.7 1851.0,946.0 1850.0,947.5 1849.0,945.9 1848.0,945.8 1847.0,945.7 1846.0,947.2 1845.0,946.0 1844.0,947.4 1843.0,946.1 1842.0,945.8 1841.0,948.2 1840.0,946.3 1839.0,947.7 1838.0,945.7 1837.0,948.0 1836.0,946.3 1835.0,946.3 1834.0,947.1 1833.0,951.8 1832.0,948.4 1831.0,951.2 1830.0,948.1 1829.0,950.5 1828.0,952.2 1827.0,949.2 1826.0,948.6 1825.0,947.9 1824.0,950.4 1823.0,950.9 1822.0,950.0 1821.0,948.7 1820.0,953.7 1819.0,949.7 1818.0,949.6 1817.0,949.7 1816.0,955.8 1815.0,949.9 1814.0,950.9 1813.0,949.9 1812.0,949.8 1811.0,950.3 1810.0,951.7 1809.0,949.2 1808.0,947.2 1807.0,949.5 1806.0,947.4 1805.0,948.2 1804.0,951.2 1803.0,948.2 1802.0,949.9 1801.0,950.0 1800.0,948.1 1799.0,948.2 1798.0,948.5 1797.0,952.0 1796.0,947.9 1795.0,947.5 1794.0,947.5 1793.0,947.5 1792.0,947.3 1791.0,947.5 1790.0,947.5 1789.0,949.9 1788.0,949.4 1787.0,947.4 1786.0,949.1 1785.0,947.5 1784.0,947.7 1783.0,948.9 1782.0,948.4 1781.0,948.2 1780.0,947.9 1779.0,946.2 1778.0,948.1 1777.0,947.1 1776.0,947.0 1775.0,950.0 1774.0,946.4 1773.0,950.7 1772.0,947.3 1771.0,946.4 1770.0,947.9 1769.0,946.3 1768.0,947.1 1767.0,947.0 1766.0,949.2 1765.0,949.9 1764.0,948.4 1763.0,948.8 1762.0,952.1 1761.0,953.3 1760.0,958.2 1759.0,964.1 1758.0,971.0 1757.0,965.4 1756.0,953.3 1755.0,953.5 1754.0,957.0 1753.0,952.1 1752.0,952.2 1751.0,955.4 1750.0,952.4 1749.0,951.2 1748.0,950.7 1747.0,950.4 1746.0,958.3 1745.0,951.0 1744.0,950.6 1743.0,954.5 1742.0,950.3 1741.0,951.3 1740.0,951.1 1739.0,950.6 1738.0,950.3 1737.0,951.2 1736.0,952.9 1735.0,951.2 1734.0,951.3 1733.0,952.2 1732.0,951.4 1731.0,949.9 1730.0,949.6 1729.0,950.3 1728.0,950.2 1727.0,948.9 1726.0,949.7 1725.0,955.6 1724.0,949.9 1723.0,949.8 1722.0,950.8 1721.0,950.4 1720.0,951.8 1719.0,950.0 1718.0,948.7 1717.0,948.4 1716.0,949.9 1715.0,948.3 1714.0,947.3 1713.0,947.1 1712.0,946.8 1711.0,950.5 1710.0,946.8 1709.0,948.7 1708.0,947.2 1707.0,947.8 1706.0,947.6 1705.0,951.1 1704.0,947.4 1703.0,951.0 1702.0,948.4 1701.0,948.2 1700.0,948.3 1699.0,950.2 1698.0,948.1 1697.0,947.9 1696.0,947.5 1695.0,948.2 1694.0,948.2 1693.0,948.9 1692.0,948.8 1691.0,949.0 1690.0,948.6 1689.0,947.9 1688.0,948.3 1687.0,947.8 1686.0,948.5 1685.0,948.6 1684.0,950.0 1683.0,948.7 1682.0,948.8 1681.0,948.3 1680.0,949.3 1679.0,947.8 1678.0,948.5 1677.0,949.3 1676.0,952.0 1675.0,952.7 1674.0,948.2 1673.0,948.4 1672.0,948.9 1671.0,949.9 1670.0,950.4 1669.0,950.1 1668.0,949.1 1667.0,949.5 1666.0,949.1 1665.0,949.7 1664.0,948.9 1663.0,949.6 1662.0,949.0 1661.0,949.5 1660.0,948.8 1659.0,952.5 1658.0,948.9 1657.0,948.7 1656.0,948.0 1655.0,947.4 1654.0,948.2 1653.0,947.5 1652.0,947.7 1651.0,946.9 1650.0,946.0 1649.0,946.8 1648.0,945.9 1647.0,946.2 1646.0,946.0 1645.0,946.2 1644.0,946.1 1643.0,946.3 1642.0,946.5 1641.0,948.3 1640.0,946.5 1639.0,946.5 1638.0,950.6 1637.0,947.9 1636.0,946.9 1635.0,947.2 1634.0,947.7 1633.0,947.1 1632.0,952.9 1631.0,948.3 1630.0,949.2 1629.0,949.1 1628.0,951.1 1627.0,948.7 1626.0,949.2 1625.0,949.4 1624.0,949.6 1623.0,950.2 1622.0,951.0 1621.0,950.5 1620.0,949.2 1619.0,949.8 1618.0,952.8 1617.0,949.5 1616.0,949.5 1615.0,949.1 1614.0,951.5 1613.0,948.6 1612.0,947.6 1611.0,947.9 1610.0,947.6 1609.0,947.1 1608.0,948.1 1607.0,946.9 1606.0,951.1 1605.0,947.2 1604.0,949.5 1603.0,949.9 1602.0,947.2 1601.0,947.3 1600.0,947.4 1599.0,950.2 1598.0,946.3 1597.0,946.4 1596.0,946.5 1595.0,946.4 1594.0,946.0 1593.0,946.0 1592.0,946.0 1591.0,948.1 1590.0,945.9 1589.0,945.9 1588.0,946.5 1587.0,946.9 1586.0,947.1 1585.0,946.8 1584.0,951.3 1583.0,947.7 1582.0,949.8 1581.0,948.1 1580.0,946.0 1579.0,945.7 1578.0,945.7 1577.0,945.8 1576.0,946.0 1575.0,945.8 1574.0,945.7 1573.0,945.7 1572.0,946.2 1571.0,945.8 1570.0,945.8 1569.0,945.8 1568.0,946.3 1567.0,945.9 1566.0,946.4 1565.0,946.4 1564.0,946.0 1563.0,945.8 1562.0,946.6 1561.0,945.8 1560.0,948.9 1559.0,946.7 1558.0,946.7 1557.0,946.6 1556.0,947.8 1555.0,948.7 1554.0,948.2 1553.0,948.6 1552.0,949.0 1551.0,948.5 1550.0,949.3 1549.0,950.2 1548.0,949.5 1547.0,952.6 1546.0,949.1 1545.0,949.1 1544.0,954.2 1543.0,948.8 1542.0,949.6 1541.0,949.1 1540.0,949.1 1539.0,949.5 1538.0,949.3 1537.0,949.2 1536.0,948.9 1535.0,954.5 1534.0,949.2 1533.0,953.0 1532.0,948.2 1531.0,953.8 1530.0,949.5 1529.0,951.4 1528.0,948.3 1527.0,948.8 1526.0,948.7 1525.0,947.5 1524.0,949.0 1523.0,946.8 1522.0,948.3 1521.0,948.3 1520.0,948.8 1519.0,953.0 1518.0,948.3 1517.0,948.4 1516.0,947.5 1515.0,947.7 1514.0,947.7 1513.0,948.2 1512.0,950.2 1511.0,948.2 1510.0,947.9 1509.0,946.5 1508.0,946.7 1507.0,946.2 1506.0,948.3 1505.0,945.9 1504.0,946.3 1503.0,946.1 1502.0,946.0 1501.0,946.4 1500.0,946.9 1499.0,947.8 1498.0,948.9 1497.0,946.7 1496.0,946.1 1495.0,945.7 1494.0,945.6 1493.0,946.0 1492.0,945.8 1491.0,946.1 1490.0,949.4 1489.0,947.0 1488.0,947.4 1487.0,946.0 1486.0,946.1 1485.0,946.6 1484.0,947.0 1483.0,947.5 1482.0,947.8 1481.0,947.5 1480.0,948.5 1479.0,948.7 1478.0,948.7 1477.0,946.9 1476.0,947.2 1475.0,947.5 1474.0,946.8 1473.0,947.8 1472.0,948.7 1471.0,947.5 1470.0,947.5 1469.0,950.6 1468.0,947.7 1467.0,951.2 1466.0,946.8 1465.0,946.2 1464.0,946.5 1463.0,947.8 1462.0,946.5 1461.0,946.9 1460.0,947.0 1459.0,949.3 1458.0,947.2 1457.0,947.0 1456.0,950.4 1455.0,948.0 1454.0,948.2 1453.0,951.4 1452.0,952.0 1451.0,952.0 1450.0,948.6 1449.0,950.1 1448.0,955.3 1447.0,949.7 1446.0,953.6 1445.0,949.3 1444.0,952.7 1443.0,949.8 1442.0,950.2 1441.0,950.7 1440.0,951.5 1439.0,951.0 1438.0,951.5 1437.0,958.8 1436.0,951.5 1435.0,952.2 1434.0,950.8 1433.0,955.9 1432.0,957.6 1431.0,951.8 1430.0,951.4 1429.0,951.2 1428.0,961.2 1427.0,965.9 1426.0,973.4 1425.0,967.4 1424.0,953.8 1423.0,951.6 1422.0,958.8 1421.0,955.6 1420.0,952.4 1419.0,951.2 1418.0,952.9 1417.0,953.3 1416.0,955.1 1415.0,949.4 1414.0,950.4 1413.0,948.1 1412.0,947.7 1411.0,948.4 1410.0,946.2 1409.0,948.2 1408.0,946.3 1407.0,947.1 1406.0,945.7 1405.0,948.0 1404.0,946.9 1403.0,945.7 1402.0,947.3 1401.0,947.0 1400.0,947.5 1399.0,947.6 1398.0,947.4 1397.0,947.4 1396.0,947.8 1395.0,948.3 1394.0,949.6 1393.0,949.0 1392.0,948.7 1391.0,948.5 1390.0,948.5 1389.0,948.3 1388.0,950.0 1387.0,952.6 1386.0,948.4 1385.0,951.6 1384.0,948.8 1383.0,948.5 1382.0,948.8 1381.0,948.1 1380.0,947.8 1379.0,947.1 1378.0,951.9 1377.0,947.3 1376.0,947.4 1375.0,947.2 1374.0,947.8 1373.0,948.0 1372.0,947.2 1371.0,947.1 1370.0,947.0 1369.0,946.4 1368.0,946.6 1367.0,949.5 1366.0,946.8 1365.0,947.3 1364.0,946.1 1363.0,945.8 1362.0,945.8 1361.0,945.7 1360.0,946.7 1359.0,945.8 1358.0,946.5 1357.0,945.9 1356.0,947.0 1355.0,946.0 1354.0,948.1 1353.0,947.5 1352.0,945.9 1351.0,945.7 1350.0,945.9 1349.0,947.2 1348.0,946.3 1347.0,945.6 1346.0,948.5 1345.0,946.0 1344.0,945.9 1343.0,947.7 1342.0,946.0 1341.0,946.1 1340.0,947.0 1339.0,946.4 1338.0,946.3 1337.0,947.3 1336.0,948.0 1335.0,946.7 1334.0,946.2 1333.0,947.4 1332.0,947.1 1331.0,948.3 1330.0,946.9 1329.0,949.5 1328.0,947.6 1327.0,946.4 1326.0,946.1 1325.0,945.9 1324.0,945.9 1323.0,945.9 1322.0,946.8 1321.0,945.8 1320.0,946.6 1319.0,945.7 1318.0,947.2 1317.0,946.0 1316.0,948.1 1315.0,945.6 1314.0,945.8 1313.0,945.8 1312.0,946.1 1311.0,946.5 1310.0,947.1 1309.0,948.3 1308.0,949.1 1307.0,946.5 1306.0,946.0 1305.0,946.1 1304.0,946.4 1303.0,945.9 1302.0,945.8 1301.0,946.1 1300.0,947.0 1299.0,946.4 1298.0,947.2 1297.0,947.2 1296.0,949.3 1295.0,946.6 1294.0,948.6 1293.0,949.9 1292.0,947.0 1291.0,947.5 1290.0,947.4 1289.0,946.4 1288.0,945.7 1287.0,945.8 1286.0,945.9 1285.0,946.2 1284.0,946.7 1283.0,950.1 1282.0,947.4 1281.0,947.4 1280.0,948.5 1279.0,948.5 1278.0,948.9 1277.0,949.0 1276.0,948.7 1275.0,948.0 1274.0,948.0 1273.0,949.9 1272.0,948.1 1271.0,951.2 1270.0,948.9 1269.0,949.9 1268.0,947.5 1267.0,948.3 1266.0,946.8 1265.0,947.3 1264.0,949.7 1263.0,950.4 1262.0,948.4 1261.0,948.8 1260.0,946.8 1259.0,946.8 1258.0,945.8 1257.0,945.7 1256.0,945.7 1255.0,945.9 1254.0,946.1 1253.0,946.9 1252.0,945.9 1251.0,945.9 1250.0,946.1 1249.0,946.5 1248.0,946.6 1247.0,947.2 1246.0,949.2 1245.0,947.4 1244.0,947.6 1243.0,947.7 1242.0,948.2 1241.0,950.7 1240.0,949.0 1239.0,949.2 1238.0,954.0 1237.0,950.3 1236.0,950.7 1235.0,956.7 1234.0,950.2 1233.0,952.4 1232.0,955.9 1231.0,953.8 1230.0,954.3 1229.0,950.5 1228.0,949.8 1227.0,948.9 1226.0,950.6 1225.0,947.6 1224.0,947.3 1223.0,949.6 1222.0,947.1 1221.0,946.7 1220.0,946.4 1219.0,946.5 1218.0,946.7 1217.0,946.4 1216.0,949.0 1215.0,947.7 1214.0,947.8 1213.0,947.4 1212.0,947.5 1211.0,948.2 1210.0,948.5 1209.0,948.4 1208.0,949.3 1207.0,952.4 1206.0,948.8 1205.0,948.4 1204.0,949.1 1203.0,948.3 1202.0,949.7 1201.0,948.1 1200.0,948.8 1199.0,948.9 1198.0,948.9 1197.0,948.5 1196.0,948.8 1195.0,947.3 1194.0,946.3 1193.0,946.0 1192.0,946.2 1191.0,946.3 1190.0,946.2 1189.0,946.2 1188.0,947.9 1187.0,946.7 1186.0,947.3 1185.0,948.5 1184.0,946.1 1183.0,945.8 1182.0,945.9 1181.0,946.0 1180.0,946.0 1179.0,946.7 1178.0,947.7 1177.0,946.4 1176.0,946.8 1175.0,945.6 1174.0,945.7 1173.0,945.9 1172.0,945.9 1171.0,947.1 1170.0,946.7 1169.0,947.1 1168.0,947.2 1167.0,948.5 1166.0,947.7 1165.0,951.9 1164.0,947.1 1163.0,946.1 1162.0,945.9" fill="#6f2340" stroke="#6f2340" stroke-width="0.6" stroke-linejoin="round"/>
<polygon points="1162.0,1073.2 1163.0,1072.1 1164.0,1073.6 1165.0,1073.3 1166.0,1073.1 1167.0,1070.4 1168.0,1073.0 1169.0,1072.8 1170.0,1072.1 1171.0,1071.3 1172.0,1070.3 1173.0,1067.9 1174.0,1071.9 1175.0,1071.6 1176.0,1068.0 1177.0,1070.7 1178.0,1070.2 1179.0,1067.4 1180.0,1069.7 1181.0,1065.8 1182.0,1070.4 1183.0,1070.8 1184.0,1071.0 1185.0,1071.5 1186.0,1069.9 1187.0,1067.5 1188.0,1067.6 1189.0,1068.1 1190.0,1070.8 1191.0,1071.1 1192.0,1068.6 1193.0,1071.2 1194.0,1070.7 1195.0,1069.4 1196.0,1070.1 1197.0,1072.8 1198.0,1071.4 1199.0,1072.1 1200.0,1072.6 1201.0,1072.4 1202.0,1072.7 1203.0,1072.8 1204.0,1072.6 1205.0,1068.6 1206.0,1070.5 1207.0,1072.3 1208.0,1071.7 1209.0,1069.5 1210.0,1070.7 1211.0,1071.1 1212.0,1071.1 1213.0,1068.3 1214.0,1071.4 1215.0,1068.8 1216.0,1071.6 1217.0,1070.8 1218.0,1072.2 1219.0,1072.2 1220.0,1072.3 1221.0,1072.6 1222.0,1072.4 1223.0,1072.3 1224.0,1072.6 1225.0,1072.5 1226.0,1072.4 1227.0,1070.6 1228.0,1071.4 1229.0,1071.0 1230.0,1070.9 1231.0,1068.3 1232.0,1065.9 1233.0,1067.3 1234.0,1066.3 1235.0,1071.2 1236.0,1070.9 1237.0,1070.9 1238.0,1070.0 1239.0,1070.0 1240.0,1070.5 1241.0,1070.3 1242.0,1067.0 1243.0,1069.8 1244.0,1070.0 1245.0,1069.9 1246.0,1069.6 1247.0,1070.2 1248.0,1067.8 1249.0,1069.5 1250.0,1065.8 1251.0,1071.0 1252.0,1070.8 1253.0,1071.4 1254.0,1071.6 1255.0,1071.6 1256.0,1071.5 1257.0,1072.5 1258.0,1072.2 1259.0,1072.0 1260.0,1072.6 1261.0,1072.7 1262.0,1073.2 1263.0,1070.3 1264.0,1072.2 1265.0,1072.7 1266.0,1072.4 1267.0,1071.8 1268.0,1070.8 1269.0,1065.4 1270.0,1068.7 1271.0,1063.9 1272.0,1060.4 1273.0,1066.4 1274.0,1053.5 1275.0,1047.7 1276.0,1054.9 1277.0,1065.7 1278.0,1066.9 1279.0,1068.4 1280.0,1068.1 1281.0,1069.1 1282.0,1070.8 1283.0,1069.7 1284.0,1071.8 1285.0,1073.0 1286.0,1072.5 1287.0,1072.8 1288.0,1071.5 1289.0,1072.7 1290.0,1069.1 1291.0,1072.5 1292.0,1072.8 1293.0,1072.5 1294.0,1073.0 1295.0,1073.3 1296.0,1073.4 1297.0,1072.9 1298.0,1072.5 1299.0,1073.1 1300.0,1073.9 1301.0,1073.9 1302.0,1073.9 1303.0,1073.7 1304.0,1072.0 1305.0,1072.9 1306.0,1074.3 1307.0,1074.1 1308.0,1073.0 1309.0,1072.8 1310.0,1072.4 1311.0,1072.6 1312.0,1073.0 1313.0,1073.1 1314.0,1073.3 1315.0,1072.5 1316.0,1073.2 1317.0,1071.0 1318.0,1072.5 1319.0,1072.5 1320.0,1072.5 1321.0,1072.4 1322.0,1072.7 1323.0,1072.9 1324.0,1072.6 1325.0,1069.8 1326.0,1069.5 1327.0,1072.4 1328.0,1072.5 1329.0,1072.3 1330.0,1072.0 1331.0,1072.0 1332.0,1071.4 1333.0,1071.4 1334.0,1066.8 1335.0,1069.4 1336.0,1071.5 1337.0,1071.1 1338.0,1071.7 1339.0,1069.5 1340.0,1071.7 1341.0,1071.5 1342.0,1071.5 1343.0,1071.2 1344.0,1072.1 1345.0,1071.8 1346.0,1071.0 1347.0,1070.9 1348.0,1071.1 1349.0,1071.1 1350.0,1071.3 1351.0,1071.0 1352.0,1071.4 1353.0,1071.3 1354.0,1071.9 1355.0,1068.3 1356.0,1069.1 1357.0,1072.1 1358.0,1070.4 1359.0,1071.9 1360.0,1071.6 1361.0,1072.3 1362.0,1072.2 1363.0,1069.4 1364.0,1071.9 1365.0,1068.7 1366.0,1070.6 1367.0,1071.2 1368.0,1071.1 1369.0,1068.6 1370.0,1072.1 1371.0,1072.8 1372.0,1072.2 1373.0,1073.0 1374.0,1072.7 1375.0,1072.3 1376.0,1072.3 1377.0,1071.9 1378.0,1069.9 1379.0,1072.2 1380.0,1067.5 1381.0,1069.5 1382.0,1071.3 1383.0,1071.8 1384.0,1071.8 1385.0,1072.4 1386.0,1071.8 1387.0,1072.0 1388.0,1071.3 1389.0,1071.9 1390.0,1072.5 1391.0,1071.2 1392.0,1072.6 1393.0,1071.9 1394.0,1068.0 1395.0,1071.8 1396.0,1071.8 1397.0,1068.3 1398.0,1067.0 1399.0,1071.7 1400.0,1071.9 1401.0,1071.5 1402.0,1069.2 1403.0,1070.2 1404.0,1071.8 1405.0,1072.2 1406.0,1070.8 1407.0,1068.0 1408.0,1070.7 1409.0,1071.8 1410.0,1071.9 1411.0,1071.7 1412.0,1071.8 1413.0,1072.1 1414.0,1071.9 1415.0,1071.3 1416.0,1072.0 1417.0,1071.9 1418.0,1072.3 1419.0,1072.0 1420.0,1071.8 1421.0,1071.2 1422.0,1068.6 1423.0,1070.9 1424.0,1071.6 1425.0,1071.5 1426.0,1071.9 1427.0,1071.7 1428.0,1072.7 1429.0,1070.6 1430.0,1069.2 1431.0,1069.1 1432.0,1069.8 1433.0,1072.1 1434.0,1069.8 1435.0,1072.6 1436.0,1071.7 1437.0,1072.2 1438.0,1072.3 1439.0,1072.8 1440.0,1070.3 1441.0,1072.7 1442.0,1071.7 1443.0,1065.1 1444.0,1069.8 1445.0,1069.3 1446.0,1069.0 1447.0,1067.1 1448.0,1066.5 1449.0,1054.8 1450.0,1049.4 1451.0,1056.1 1452.0,1065.4 1453.0,1067.5 1454.0,1068.9 1455.0,1066.0 1456.0,1066.6 1457.0,1068.6 1458.0,1070.6 1459.0,1072.3 1460.0,1072.6 1461.0,1071.7 1462.0,1073.0 1463.0,1073.0 1464.0,1072.7 1465.0,1072.5 1466.0,1073.1 1467.0,1072.6 1468.0,1073.2 1469.0,1073.3 1470.0,1072.8 1471.0,1072.8 1472.0,1072.6 1473.0,1072.5 1474.0,1072.3 1475.0,1072.9 1476.0,1072.2 1477.0,1072.3 1478.0,1071.5 1479.0,1071.1 1480.0,1070.8 1481.0,1071.1 1482.0,1071.3 1483.0,1067.8 1484.0,1069.8 1485.0,1071.5 1486.0,1072.1 1487.0,1072.3 1488.0,1072.8 1489.0,1071.4 1490.0,1072.0 1491.0,1072.0 1492.0,1071.4 1493.0,1072.1 1494.0,1071.7 1495.0,1072.1 1496.0,1066.7 1497.0,1071.2 1498.0,1071.2 1499.0,1071.7 1500.0,1071.2 1501.0,1072.1 1502.0,1072.5 1503.0,1071.8 1504.0,1072.7 1505.0,1072.4 1506.0,1072.8 1507.0,1072.7 1508.0,1072.6 1509.0,1072.4 1510.0,1068.5 1511.0,1072.9 1512.0,1072.5 1513.0,1071.0 1514.0,1072.6 1515.0,1072.0 1516.0,1073.1 1517.0,1073.5 1518.0,1071.4 1519.0,1071.6 1520.0,1073.4 1521.0,1071.8 1522.0,1074.0 1523.0,1073.4 1524.0,1072.2 1525.0,1073.5 1526.0,1071.0 1527.0,1073.1 1528.0,1070.9 1529.0,1072.5 1530.0,1072.9 1531.0,1069.6 1532.0,1067.9 1533.0,1072.1 1534.0,1072.0 1535.0,1071.2 1536.0,1072.3 1537.0,1072.3 1538.0,1072.2 1539.0,1072.8 1540.0,1071.4 1541.0,1071.6 1542.0,1070.7 1543.0,1072.6 1544.0,1072.1 1545.0,1072.7 1546.0,1072.5 1547.0,1072.6 1548.0,1072.7 1549.0,1072.7 1550.0,1072.3 1551.0,1072.3 1552.0,1072.4 1553.0,1069.7 1554.0,1073.1 1555.0,1072.5 1556.0,1071.6 1557.0,1072.5 1558.0,1072.1 1559.0,1072.3 1560.0,1072.2 1561.0,1072.4 1562.0,1068.6 1563.0,1067.7 1564.0,1069.8 1565.0,1072.2 1566.0,1072.4 1567.0,1071.3 1568.0,1071.9 1569.0,1071.5 1570.0,1070.9 1571.0,1070.8 1572.0,1071.5 1573.0,1071.2 1574.0,1071.1 1575.0,1071.7 1576.0,1072.0 1577.0,1071.7 1578.0,1072.3 1579.0,1071.5 1580.0,1071.8 1581.0,1072.0 1582.0,1071.5 1583.0,1068.4 1584.0,1071.6 1585.0,1070.5 1586.0,1071.7 1587.0,1071.2 1588.0,1071.6 1589.0,1072.0 1590.0,1071.7 1591.0,1066.7 1592.0,1070.1 1593.0,1068.9 1594.0,1063.7 1595.0,1068.0 1596.0,1067.1 1597.0,1065.9 1598.0,1065.4 1599.0,1054.8 1600.0,1049.4 1601.0,1056.1 1602.0,1065.7 1603.0,1062.8 1604.0,1060.2 1605.0,1067.7 1606.0,1065.2 1607.0,1069.8 1608.0,1065.3 1609.0,1069.8 1610.0,1070.9 1611.0,1071.3 1612.0,1071.2 1613.0,1066.8 1614.0,1071.0 1615.0,1070.7 1616.0,1071.3 1617.0,1071.8 1618.0,1071.9 1619.0,1069.6 1620.0,1068.9 1621.0,1072.4 1622.0,1071.7 1623.0,1071.7 1624.0,1066.5 1625.0,1071.2 1626.0,1071.6 1627.0,1071.5 1628.0,1072.7 1629.0,1069.5 1630.0,1072.3 1631.0,1072.4 1632.0,1069.4 1633.0,1072.4 1634.0,1073.1 1635.0,1072.5 1636.0,1069.8 1637.0,1073.0 1638.0,1072.0 1639.0,1072.2 1640.0,1073.4 1641.0,1073.0 1642.0,1072.6 1643.0,1072.6 1644.0,1073.2 1645.0,1072.7 1646.0,1071.9 1647.0,1073.4 1648.0,1072.9 1649.0,1073.6 1650.0,1073.8 1651.0,1074.0 1652.0,1071.8 1653.0,1073.8 1654.0,1073.6 1655.0,1071.6 1656.0,1072.4 1657.0,1073.2 1658.0,1072.7 1659.0,1072.8 1660.0,1073.4 1661.0,1072.9 1662.0,1071.3 1663.0,1070.8 1664.0,1073.0 1665.0,1072.7 1666.0,1072.6 1667.0,1071.6 1668.0,1068.7 1669.0,1071.8 1670.0,1072.0 1671.0,1068.7 1672.0,1071.3 1673.0,1071.6 1674.0,1070.7 1675.0,1071.6 1676.0,1066.4 1677.0,1071.3 1678.0,1070.4 1679.0,1065.9 1680.0,1070.8 1681.0,1067.1 1682.0,1069.5 1683.0,1069.1 1684.0,1071.3 1685.0,1071.5 1686.0,1072.3 1687.0,1072.5 1688.0,1072.4 1689.0,1069.9 1690.0,1069.3 1691.0,1072.6 1692.0,1072.6 1693.0,1071.6 1694.0,1071.7 1695.0,1072.3 1696.0,1072.5 1697.0,1072.9 1698.0,1072.7 1699.0,1071.3 1700.0,1071.9 1701.0,1072.5 1702.0,1072.6 1703.0,1073.0 1704.0,1073.1 1705.0,1072.5 1706.0,1069.7 1707.0,1072.0 1708.0,1072.0 1709.0,1071.8 1710.0,1071.5 1711.0,1071.1 1712.0,1071.3 1713.0,1071.5 1714.0,1069.8 1715.0,1071.8 1716.0,1071.2 1717.0,1071.4 1718.0,1072.3 1719.0,1071.9 1720.0,1072.2 1721.0,1070.2 1722.0,1071.6 1723.0,1072.1 1724.0,1072.1 1725.0,1072.6 1726.0,1071.8 1727.0,1072.7 1728.0,1072.6 1729.0,1072.8 1730.0,1072.7 1731.0,1072.9 1732.0,1073.3 1733.0,1073.5 1734.0,1072.8 1735.0,1073.5 1736.0,1073.9 1737.0,1073.3 1738.0,1072.8 1739.0,1072.9 1740.0,1072.7 1741.0,1072.2 1742.0,1072.5 1743.0,1072.6 1744.0,1072.5 1745.0,1069.8 1746.0,1072.3 1747.0,1072.8 1748.0,1073.0 1749.0,1072.3 1750.0,1072.5 1751.0,1072.6 1752.0,1072.0 1753.0,1072.2 1754.0,1068.7 1755.0,1066.4 1756.0,1071.4 1757.0,1070.8 1758.0,1071.1 1759.0,1071.1 1760.0,1070.5 1761.0,1065.2 1762.0,1069.2 1763.0,1071.1 1764.0,1070.2 1765.0,1066.2 1766.0,1069.0 1767.0,1068.0 1768.0,1065.2 1769.0,1066.1 1770.0,1053.5 1771.0,1047.7 1772.0,1054.9 1773.0,1063.5 1774.0,1060.8 1775.0,1067.1 1776.0,1067.4 1777.0,1069.1 1778.0,1069.2 1779.0,1069.9 1780.0,1071.2 1781.0,1071.9 1782.0,1071.6 1783.0,1072.0 1784.0,1069.6 1785.0,1071.8 1786.0,1071.5 1787.0,1068.5 1788.0,1072.0 1789.0,1072.0 1790.0,1071.7 1791.0,1068.2 1792.0,1072.3 1793.0,1072.6 1794.0,1072.0 1795.0,1072.9 1796.0,1072.9 1797.0,1072.3 1798.0,1072.0 1799.0,1072.4 1800.0,1069.3 1801.0,1071.8 1802.0,1071.9 1803.0,1070.7 1804.0,1071.3 1805.0,1072.3 1806.0,1067.9 1807.0,1071.9 1808.0,1071.9 1809.0,1072.8 1810.0,1072.0 1811.0,1070.4 1812.0,1072.7 1813.0,1072.5 1814.0,1073.3 1815.0,1073.7 1816.0,1069.8 1817.0,1070.5 1818.0,1072.8 1819.0,1072.6 1820.0,1072.9 1821.0,1073.3 1822.0,1074.0 1823.0,1073.9 1824.0,1073.8 1825.0,1073.5 1826.0,1073.9 1827.0,1073.6 1828.0,1071.6 1829.0,1073.4 1830.0,1072.8 1831.0,1073.0 1832.0,1071.6 1833.0,1073.9 1834.0,1072.0 1835.0,1072.6 1836.0,1072.9 1837.0,1073.0 1838.0,1071.8 1839.0,1072.1 1840.0,1071.9 1841.0,1072.1 1842.0,1071.1 1843.0,1071.5 1844.0,1072.0 1845.0,1067.1 1846.0,1071.7 1847.0,1071.3 1848.0,1066.2 1849.0,1071.6 1850.0,1072.2 1851.0,1072.6 1852.0,1071.6 1853.0,1071.8 1854.0,1072.3 1855.0,1072.3 1856.0,1072.0 1857.0,1067.9 1858.0,1071.9 1859.0,1071.4 1860.0,1072.4 1861.0,1072.9 1862.0,1072.5 1863.0,1072.3 1864.0,1073.1 1865.0,1069.4 1866.0,1071.2 1867.0,1070.5 1868.0,1073.2 1869.0,1069.9 1870.0,1073.3 1871.0,1071.0 1872.0,1072.9 1873.0,1071.2 1874.0,1072.5 1875.0,1069.5 1876.0,1072.4 1877.0,1073.1 1878.0,1072.9 1879.0,1072.8 1880.0,1073.1 1881.0,1072.1 1882.0,1073.5 1883.0,1073.2 1884.0,1073.6 1885.0,1069.8 1886.0,1073.0 1887.0,1070.8 1888.0,1072.7 1889.0,1072.3 1890.0,1072.4 1891.0,1071.4 1892.0,1070.4 1893.0,1070.6 1894.0,1068.7 1895.0,1068.5 1896.0,1068.3 1897.0,1062.4 1898.0,1066.6 1899.0,1063.4 1900.0,1058.5 1901.0,1066.8 1902.0,1065.5 1903.0,1068.5 1904.0,1060.8 1905.0,1062.8 1906.0,1068.6 1907.0,1070.5 1908.0,1067.8 1909.0,1067.7 1910.0,1070.4 1911.0,1070.6 1912.0,1070.6 1913.0,1070.4 1914.0,1070.5 1915.0,1064.6 1916.0,1070.7 1917.0,1070.7 1918.0,1070.4 1919.0,1070.8 1920.0,1065.7 1921.0,1070.7 1922.0,1070.1 1923.0,1070.3 1924.0,1070.6 1925.0,1070.5 1926.0,1070.7 1927.0,1070.7 1928.0,1070.7 1929.0,1068.5 1930.0,1065.8 1931.0,1070.7 1932.0,1070.8 1933.0,1071.4 1934.0,1070.2 1935.0,1071.4 1936.0,1071.8 1937.0,1071.5 1938.0,1070.5 1939.0,1068.3 1940.0,1071.9 1941.0,1072.8 1942.0,1071.6 1943.0,1072.7 1944.0,1071.9 1945.0,1072.9 1946.0,1072.5 1947.0,1072.2 1948.0,1072.8 1949.0,1072.8 1950.0,1072.6 1951.0,1069.0 1952.0,1073.0 1953.0,1073.4 1954.0,1073.6 1955.0,1069.9 1956.0,1073.2 1957.0,1072.4 1958.0,1072.9 1959.0,1073.6 1960.0,1073.5 1961.0,1071.6 1962.0,1072.9 1963.0,1069.9 1964.0,1072.9 1965.0,1073.0 1966.0,1069.9 1967.0,1072.2 1968.0,1072.2 1969.0,1072.4 1970.0,1072.1 1971.0,1071.8 1972.0,1071.8 1973.0,1069.4 1974.0,1071.5 1975.0,1072.9 1976.0,1073.0 1977.0,1073.0 1978.0,1070.1 1979.0,1073.0 1980.0,1070.3 1981.0,1073.5 1982.0,1073.3 1983.0,1072.8 1984.0,1072.6 1985.0,1072.4 1986.0,1072.0 1987.0,1071.6 1988.0,1068.9 1989.0,1071.5 1990.0,1072.2 1991.0,1071.8 1992.0,1071.4 1993.0,1073.4 1994.0,1073.8 1995.0,1072.5 1996.0,1073.8 1997.0,1073.6 1998.0,1073.7 1999.0,1073.2 2000.0,1069.0 2001.0,1072.4 2002.0,1072.2 2003.0,1071.7 2004.0,1072.4 2005.0,1071.9 2006.0,1071.8 2007.0,1072.1 2008.0,1072.7 2009.0,1073.1 2010.0,1069.5 2011.0,1073.2 2012.0,1073.2 2013.0,1072.6 2014.0,1071.3 2015.0,1071.9 2016.0,1071.6 2017.0,1071.9 2018.0,1071.0 2019.0,1067.4 2020.0,1070.2 2021.0,1069.8 2022.0,1068.8 2023.0,1068.8 2024.0,1068.4 2025.0,1069.4 2026.0,1068.1 2027.0,1066.1 2028.0,1068.7 2029.0,1068.3 2030.0,1064.5 2031.0,1070.5 2032.0,1070.8 2033.0,1071.0 2034.0,1071.5 2035.0,1065.7 2036.0,1072.0 2037.0,1067.9 2038.0,1071.6 2039.0,1071.0 2040.0,1071.5 2041.0,1070.7 2042.0,1071.5 2043.0,1071.1 2044.0,1070.7 2045.0,1071.1 2046.0,1071.5 2047.0,1071.5 2048.0,1072.1 2049.0,1071.7 2050.0,1071.5 2051.0,1071.4 2052.0,1071.4 2053.0,1069.4 2054.0,1071.9 2055.0,1070.3 2056.0,1071.0 2057.0,1071.4 2058.0,1071.8 2059.0,1066.6 2060.0,1070.0 2061.0,1071.4 2062.0,1071.8 2063.0,1072.2 2064.0,1072.6 2065.0,1072.3 2066.0,1072.3 2067.0,1072.3 2068.0,1068.5 2069.0,1069.5 2070.0,1069.6 2071.0,1072.9 2072.0,1073.1 2073.0,1070.4 2074.0,1072.5 2075.0,1072.0 2076.0,1073.0 2077.0,1072.0 2078.0,1072.9 2079.0,1072.5 2080.0,1072.5 2081.0,1072.8 2082.0,1072.3 2083.0,1072.3 2084.0,1072.2 2085.0,1071.5 2086.0,1069.2 2087.0,1071.6 2088.0,1067.7 2089.0,1071.7 2090.0,1071.4 2091.0,1072.2 2092.0,1072.9 2093.0,1071.9 2094.0,1071.3 2095.0,1071.3 2096.0,1066.0 2097.0,1071.3 2098.0,1071.0 2099.0,1071.1 2100.0,1068.2 2101.0,1070.4 2102.0,1070.4 2103.0,1070.4 2104.0,1064.9 2105.0,1070.1 2106.0,1069.9 2107.0,1066.4 2108.0,1070.5 2109.0,1070.8 2110.0,1069.0 2111.0,1070.3 2112.0,1070.6 2113.0,1069.8 2114.0,1071.0 2115.0,1070.8 2116.0,1070.2 2117.0,1070.5 2118.0,1069.3 2119.0,1065.1 2120.0,1069.0 2121.0,1061.2 2122.0,1061.5 2123.0,1068.5 2124.0,1066.0 2125.0,1069.1 2126.0,1066.3 2127.0,1066.6 2128.0,1068.4 2129.0,1068.7 2130.0,1068.7 2131.0,1068.7 2132.0,1061.8 2133.0,1069.8 2134.0,1069.4 2135.0,1070.1 2136.0,1068.3 2137.0,1070.3 2138.0,1070.0 2139.0,1070.4 2140.0,1069.5 2141.0,1069.7 2142.0,1067.4 2143.0,1065.4 2144.0,1069.1 2145.0,1071.2 2146.0,1071.3 2147.0,1070.5 2148.0,1066.4 2149.0,1071.0 2150.0,1067.7 2151.0,1071.0 2152.0,1070.9 2153.0,1070.5 2153.0,1082.6 2152.0,1081.8 2151.0,1082.1 2150.0,1081.7 2149.0,1082.2 2148.0,1082.0 2147.0,1085.4 2146.0,1082.4 2145.0,1082.0 2144.0,1087.0 2143.0,1087.4 2142.0,1086.9 2141.0,1083.4 2140.0,1084.9 2139.0,1082.4 2138.0,1083.1 2137.0,1082.3 2136.0,1088.6 2135.0,1082.3 2134.0,1085.2 2133.0,1090.3 2132.0,1084.5 2131.0,1083.9 2130.0,1083.5 2129.0,1084.4 2128.0,1084.3 2127.0,1089.8 2126.0,1084.9 2125.0,1084.7 2124.0,1084.2 2123.0,1084.4 2122.0,1085.2 2121.0,1084.7 2120.0,1084.1 2119.0,1083.5 2118.0,1087.7 2117.0,1086.4 2116.0,1082.1 2115.0,1086.9 2114.0,1082.2 2113.0,1082.5 2112.0,1085.5 2111.0,1083.5 2110.0,1082.2 2109.0,1081.8 2108.0,1082.1 2107.0,1082.8 2106.0,1087.4 2105.0,1082.8 2104.0,1083.5 2103.0,1082.9 2102.0,1082.2 2101.0,1082.6 2100.0,1086.9 2099.0,1081.9 2098.0,1081.8 2097.0,1082.2 2096.0,1083.9 2095.0,1085.4 2094.0,1081.5 2093.0,1080.9 2092.0,1080.7 2091.0,1081.0 2090.0,1081.3 2089.0,1081.5 2088.0,1080.8 2087.0,1081.4 2086.0,1081.4 2085.0,1081.2 2084.0,1080.6 2083.0,1084.4 2082.0,1080.8 2081.0,1080.5 2080.0,1080.5 2079.0,1080.4 2078.0,1080.2 2077.0,1080.2 2076.0,1083.0 2075.0,1080.8 2074.0,1080.5 2073.0,1080.5 2072.0,1079.8 2071.0,1079.9 2070.0,1080.5 2069.0,1081.9 2068.0,1080.4 2067.0,1081.9 2066.0,1081.6 2065.0,1080.7 2064.0,1080.3 2063.0,1080.8 2062.0,1080.8 2061.0,1081.4 2060.0,1085.9 2059.0,1083.8 2058.0,1081.5 2057.0,1081.7 2056.0,1081.4 2055.0,1081.6 2054.0,1084.8 2053.0,1080.8 2052.0,1081.0 2051.0,1081.8 2050.0,1085.9 2049.0,1080.9 2048.0,1081.4 2047.0,1082.0 2046.0,1081.7 2045.0,1087.1 2044.0,1082.2 2043.0,1082.1 2042.0,1084.5 2041.0,1081.8 2040.0,1083.4 2039.0,1081.8 2038.0,1083.7 2037.0,1081.2 2036.0,1081.8 2035.0,1082.2 2034.0,1081.9 2033.0,1084.3 2032.0,1082.5 2031.0,1082.4 2030.0,1086.4 2029.0,1084.6 2028.0,1092.0 2027.0,1084.3 2026.0,1084.4 2025.0,1084.0 2024.0,1084.2 2023.0,1088.4 2022.0,1084.1 2021.0,1084.1 2020.0,1083.2 2019.0,1082.2 2018.0,1081.4 2017.0,1084.0 2016.0,1080.8 2015.0,1081.0 2014.0,1080.7 2013.0,1080.4 2012.0,1080.0 2011.0,1079.7 2010.0,1080.1 2009.0,1079.8 2008.0,1083.3 2007.0,1082.6 2006.0,1080.9 2005.0,1080.7 2004.0,1080.9 2003.0,1081.1 2002.0,1081.1 2001.0,1081.4 2000.0,1080.8 1999.0,1079.7 1998.0,1079.6 1997.0,1079.2 1996.0,1079.9 1995.0,1081.1 1994.0,1079.2 1993.0,1079.5 1992.0,1080.0 1991.0,1079.9 1990.0,1081.9 1989.0,1080.7 1988.0,1080.8 1987.0,1081.2 1986.0,1081.0 1985.0,1083.3 1984.0,1080.9 1983.0,1080.0 1982.0,1079.7 1981.0,1079.7 1980.0,1079.9 1979.0,1080.5 1978.0,1080.0 1977.0,1079.7 1976.0,1079.9 1975.0,1080.0 1974.0,1081.1 1973.0,1082.5 1972.0,1081.0 1971.0,1081.4 1970.0,1080.8 1969.0,1080.7 1968.0,1081.0 1967.0,1081.1 1966.0,1083.3 1965.0,1080.3 1964.0,1084.2 1963.0,1079.9 1962.0,1081.7 1961.0,1079.7 1960.0,1079.6 1959.0,1081.7 1958.0,1080.1 1957.0,1080.0 1956.0,1080.2 1955.0,1081.1 1954.0,1079.8 1953.0,1080.9 1952.0,1079.9 1951.0,1083.4 1950.0,1080.5 1949.0,1079.9 1948.0,1080.4 1947.0,1079.9 1946.0,1083.9 1945.0,1080.0 1944.0,1080.6 1943.0,1080.6 1942.0,1080.3 1941.0,1080.1 1940.0,1081.0 1939.0,1080.7 1938.0,1080.9 1937.0,1081.2 1936.0,1081.2 1935.0,1081.7 1934.0,1081.9 1933.0,1081.8 1932.0,1082.2 1931.0,1082.6 1930.0,1084.0 1929.0,1085.0 1928.0,1082.2 1927.0,1083.0 1926.0,1081.9 1925.0,1082.3 1924.0,1082.9 1923.0,1083.3 1922.0,1083.7 1921.0,1082.0 1920.0,1082.8 1919.0,1081.8 1918.0,1082.1 1917.0,1082.8 1916.0,1082.1 1915.0,1082.7 1914.0,1082.6 1913.0,1082.6 1912.0,1082.8 1911.0,1082.3 1910.0,1082.0 1909.0,1082.5 1908.0,1082.0 1907.0,1083.3 1906.0,1083.8 1905.0,1089.5 1904.0,1088.7 1903.0,1084.1 1902.0,1085.3 1901.0,1084.8 1900.0,1084.9 1899.0,1086.3 1898.0,1084.6 1897.0,1085.5 1896.0,1084.3 1895.0,1083.8 1894.0,1084.1 1893.0,1082.5 1892.0,1085.3 1891.0,1081.7 1890.0,1084.3 1889.0,1084.0 1888.0,1080.4 1887.0,1080.0 1886.0,1079.7 1885.0,1080.1 1884.0,1079.6 1883.0,1080.7 1882.0,1079.7 1881.0,1080.4 1880.0,1079.5 1879.0,1080.2 1878.0,1080.0 1877.0,1080.1 1876.0,1080.3 1875.0,1080.8 1874.0,1082.0 1873.0,1082.9 1872.0,1080.1 1871.0,1079.9 1870.0,1080.1 1869.0,1080.2 1868.0,1083.7 1867.0,1079.6 1866.0,1079.8 1865.0,1084.2 1864.0,1080.0 1863.0,1080.3 1862.0,1082.3 1861.0,1080.4 1860.0,1080.9 1859.0,1081.6 1858.0,1081.2 1857.0,1081.4 1856.0,1080.5 1855.0,1080.8 1854.0,1084.9 1853.0,1080.8 1852.0,1084.5 1851.0,1080.9 1850.0,1080.6 1849.0,1085.2 1848.0,1083.9 1847.0,1082.0 1846.0,1081.8 1845.0,1082.4 1844.0,1080.6 1843.0,1081.5 1842.0,1081.5 1841.0,1081.3 1840.0,1081.4 1839.0,1080.8 1838.0,1080.3 1837.0,1080.1 1836.0,1079.9 1835.0,1079.4 1834.0,1082.7 1833.0,1079.3 1832.0,1079.6 1831.0,1082.6 1830.0,1080.6 1829.0,1079.6 1828.0,1079.1 1827.0,1078.8 1826.0,1079.4 1825.0,1078.8 1824.0,1079.4 1823.0,1079.0 1822.0,1079.1 1821.0,1079.4 1820.0,1079.7 1819.0,1080.3 1818.0,1080.6 1817.0,1083.8 1816.0,1080.1 1815.0,1079.3 1814.0,1079.3 1813.0,1083.1 1812.0,1080.5 1811.0,1080.3 1810.0,1080.8 1809.0,1084.5 1808.0,1080.7 1807.0,1080.7 1806.0,1080.8 1805.0,1080.8 1804.0,1080.5 1803.0,1081.2 1802.0,1084.7 1801.0,1080.7 1800.0,1081.0 1799.0,1080.3 1798.0,1080.4 1797.0,1080.8 1796.0,1082.6 1795.0,1080.0 1794.0,1080.4 1793.0,1082.6 1792.0,1081.5 1791.0,1080.7 1790.0,1081.2 1789.0,1084.8 1788.0,1084.9 1787.0,1081.3 1786.0,1081.6 1785.0,1081.3 1784.0,1080.9 1783.0,1081.2 1782.0,1081.2 1781.0,1081.2 1780.0,1082.5 1779.0,1082.7 1778.0,1083.8 1777.0,1089.1 1776.0,1085.7 1775.0,1086.6 1774.0,1088.7 1773.0,1089.8 1772.0,1103.1 1771.0,1102.7 1770.0,1098.1 1769.0,1087.4 1768.0,1086.5 1767.0,1085.0 1766.0,1084.7 1765.0,1083.4 1764.0,1087.5 1763.0,1082.2 1762.0,1084.7 1761.0,1086.6 1760.0,1081.7 1759.0,1082.1 1758.0,1087.0 1757.0,1082.4 1756.0,1086.2 1755.0,1081.7 1754.0,1081.3 1753.0,1081.1 1752.0,1081.2 1751.0,1080.6 1750.0,1084.1 1749.0,1080.3 1748.0,1080.3 1747.0,1080.3 1746.0,1080.5 1745.0,1081.5 1744.0,1080.0 1743.0,1080.1 1742.0,1080.2 1741.0,1082.7 1740.0,1080.1 1739.0,1081.5 1738.0,1080.7 1737.0,1079.6 1736.0,1080.5 1735.0,1079.2 1734.0,1080.0 1733.0,1079.7 1732.0,1079.5 1731.0,1080.0 1730.0,1079.9 1729.0,1082.7 1728.0,1080.0 1727.0,1080.5 1726.0,1081.1 1725.0,1080.2 1724.0,1081.4 1723.0,1085.3 1722.0,1081.3 1721.0,1083.3 1720.0,1080.7 1719.0,1081.4 1718.0,1080.7 1717.0,1081.4 1716.0,1081.3 1715.0,1081.9 1714.0,1081.1 1713.0,1083.7 1712.0,1081.3 1711.0,1086.7 1710.0,1081.4 1709.0,1080.9 1708.0,1081.4 1707.0,1081.1 1706.0,1080.1 1705.0,1082.8 1704.0,1079.9 1703.0,1080.2 1702.0,1080.7 1701.0,1080.4 1700.0,1081.2 1699.0,1080.4 1698.0,1080.1 1697.0,1080.0 1696.0,1080.1 1695.0,1080.6 1694.0,1084.2 1693.0,1081.0 1692.0,1080.3 1691.0,1080.3 1690.0,1081.6 1689.0,1080.8 1688.0,1080.9 1687.0,1081.0 1686.0,1081.1 1685.0,1081.3 1684.0,1081.1 1683.0,1084.9 1682.0,1085.8 1681.0,1081.4 1680.0,1081.9 1679.0,1082.1 1678.0,1082.4 1677.0,1086.1 1676.0,1084.9 1675.0,1082.0 1674.0,1081.2 1673.0,1081.2 1672.0,1081.5 1671.0,1081.4 1670.0,1081.6 1669.0,1080.8 1668.0,1080.7 1667.0,1080.6 1666.0,1083.3 1665.0,1080.2 1664.0,1080.2 1663.0,1079.9 1662.0,1081.2 1661.0,1080.3 1660.0,1082.4 1659.0,1080.3 1658.0,1079.9 1657.0,1079.7 1656.0,1079.9 1655.0,1079.5 1654.0,1081.9 1653.0,1079.0 1652.0,1079.3 1651.0,1078.9 1650.0,1082.1 1649.0,1079.5 1648.0,1079.8 1647.0,1079.8 1646.0,1080.4 1645.0,1080.1 1644.0,1083.6 1643.0,1082.0 1642.0,1080.3 1641.0,1081.2 1640.0,1080.5 1639.0,1080.3 1638.0,1082.5 1637.0,1080.1 1636.0,1079.9 1635.0,1080.6 1634.0,1079.8 1633.0,1083.8 1632.0,1080.5 1631.0,1080.2 1630.0,1080.5 1629.0,1080.0 1628.0,1080.5 1627.0,1081.2 1626.0,1081.4 1625.0,1081.5 1624.0,1082.0 1623.0,1081.3 1622.0,1081.6 1621.0,1081.1 1620.0,1081.0 1619.0,1081.2 1618.0,1080.6 1617.0,1081.3 1616.0,1082.0 1615.0,1086.9 1614.0,1086.6 1613.0,1081.6 1612.0,1082.0 1611.0,1081.9 1610.0,1085.4 1609.0,1087.5 1608.0,1082.9 1607.0,1082.8 1606.0,1084.4 1605.0,1089.0 1604.0,1087.2 1603.0,1087.9 1602.0,1095.6 1601.0,1106.4 1600.0,1116.4 1599.0,1108.4 1598.0,1096.1 1597.0,1086.4 1596.0,1085.0 1595.0,1085.5 1594.0,1084.4 1593.0,1091.0 1592.0,1082.2 1591.0,1082.3 1590.0,1081.9 1589.0,1081.4 1588.0,1081.0 1587.0,1081.5 1586.0,1081.0 1585.0,1081.7 1584.0,1081.7 1583.0,1081.7 1582.0,1081.2 1581.0,1081.7 1580.0,1081.1 1579.0,1081.4 1578.0,1081.1 1577.0,1081.6 1576.0,1081.2 1575.0,1080.8 1574.0,1085.0 1573.0,1081.9 1572.0,1081.3 1571.0,1082.0 1570.0,1085.5 1569.0,1081.0 1568.0,1081.2 1567.0,1085.3 1566.0,1081.1 1565.0,1080.8 1564.0,1081.0 1563.0,1080.9 1562.0,1083.9 1561.0,1081.1 1560.0,1080.5 1559.0,1080.3 1558.0,1080.9 1557.0,1080.5 1556.0,1080.9 1555.0,1080.2 1554.0,1080.1 1553.0,1080.2 1552.0,1080.8 1551.0,1084.5 1550.0,1080.4 1549.0,1080.1 1548.0,1080.2 1547.0,1080.5 1546.0,1080.3 1545.0,1080.3 1544.0,1081.1 1543.0,1080.4 1542.0,1080.5 1541.0,1082.1 1540.0,1080.4 1539.0,1083.0 1538.0,1084.3 1537.0,1080.6 1536.0,1080.7 1535.0,1080.3 1534.0,1080.5 1533.0,1083.0 1532.0,1080.8 1531.0,1080.6 1530.0,1080.3 1529.0,1082.4 1528.0,1079.6 1527.0,1079.6 1526.0,1079.9 1525.0,1079.6 1524.0,1079.9 1523.0,1081.5 1522.0,1079.0 1521.0,1079.1 1520.0,1079.3 1519.0,1079.5 1518.0,1079.5 1517.0,1080.7 1516.0,1082.5 1515.0,1080.2 1514.0,1080.1 1513.0,1082.6 1512.0,1080.6 1511.0,1080.3 1510.0,1080.3 1509.0,1080.2 1508.0,1080.9 1507.0,1080.1 1506.0,1080.8 1505.0,1081.0 1504.0,1082.7 1503.0,1081.2 1502.0,1084.6 1501.0,1081.0 1500.0,1081.9 1499.0,1081.3 1498.0,1081.3 1497.0,1083.9 1496.0,1084.5 1495.0,1084.3 1494.0,1083.9 1493.0,1081.1 1492.0,1081.3 1491.0,1081.1 1490.0,1081.1 1489.0,1080.6 1488.0,1082.2 1487.0,1080.5 1486.0,1083.9 1485.0,1081.0 1484.0,1081.3 1483.0,1081.6 1482.0,1086.6 1481.0,1081.9 1480.0,1082.1 1479.0,1081.9 1478.0,1081.1 1477.0,1080.9 1476.0,1080.9 1475.0,1079.9 1474.0,1080.6 1473.0,1081.8 1472.0,1081.9 1471.0,1080.6 1470.0,1079.9 1469.0,1082.1 1468.0,1079.8 1467.0,1080.3 1466.0,1081.6 1465.0,1080.5 1464.0,1080.5 1463.0,1080.1 1462.0,1080.4 1461.0,1081.5 1460.0,1080.8 1459.0,1083.0 1458.0,1080.6 1457.0,1081.1 1456.0,1083.1 1455.0,1082.9 1454.0,1084.7 1453.0,1089.3 1452.0,1087.8 1451.0,1104.6 1450.0,1114.0 1449.0,1106.5 1448.0,1090.8 1447.0,1085.7 1446.0,1083.9 1445.0,1083.5 1444.0,1083.8 1443.0,1082.5 1442.0,1081.2 1441.0,1083.0 1440.0,1079.9 1439.0,1080.1 1438.0,1080.3 1437.0,1081.1 1436.0,1081.0 1435.0,1081.2 1434.0,1080.6 1433.0,1080.7 1432.0,1080.6 1431.0,1080.8 1430.0,1081.1 1429.0,1082.2 1428.0,1080.2 1427.0,1081.3 1426.0,1080.9 1425.0,1082.4 1424.0,1081.3 1423.0,1081.9 1422.0,1081.8 1421.0,1081.4 1420.0,1083.0 1419.0,1080.5 1418.0,1080.7 1417.0,1081.2 1416.0,1081.4 1415.0,1081.8 1414.0,1081.1 1413.0,1080.7 1412.0,1081.4 1411.0,1080.9 1410.0,1081.5 1409.0,1081.9 1408.0,1081.6 1407.0,1083.0 1406.0,1081.7 1405.0,1083.1 1404.0,1080.9 1403.0,1081.5 1402.0,1081.1 1401.0,1085.5 1400.0,1080.8 1399.0,1080.7 1398.0,1081.6 1397.0,1081.1 1396.0,1081.2 1395.0,1081.5 1394.0,1080.8 1393.0,1080.7 1392.0,1081.3 1391.0,1080.6 1390.0,1080.8 1389.0,1081.2 1388.0,1083.7 1387.0,1081.5 1386.0,1082.2 1385.0,1081.1 1384.0,1081.3 1383.0,1083.1 1382.0,1081.8 1381.0,1080.9 1380.0,1081.4 1379.0,1084.2 1378.0,1080.7 1377.0,1081.0 1376.0,1082.3 1375.0,1080.8 1374.0,1084.8 1373.0,1080.3 1372.0,1082.1 1371.0,1080.4 1370.0,1084.8 1369.0,1081.3 1368.0,1081.5 1367.0,1084.5 1366.0,1081.7 1365.0,1083.0 1364.0,1080.9 1363.0,1081.1 1362.0,1081.0 1361.0,1080.9 1360.0,1081.3 1359.0,1080.7 1358.0,1080.4 1357.0,1080.7 1356.0,1081.0 1355.0,1081.0 1354.0,1081.0 1353.0,1081.6 1352.0,1082.7 1351.0,1081.8 1350.0,1081.4 1349.0,1081.6 1348.0,1082.2 1347.0,1083.3 1346.0,1081.8 1345.0,1081.3 1344.0,1081.5 1343.0,1081.3 1342.0,1083.1 1341.0,1082.2 1340.0,1081.6 1339.0,1085.0 1338.0,1081.7 1337.0,1081.7 1336.0,1081.8 1335.0,1082.2 1334.0,1081.4 1333.0,1081.3 1332.0,1081.5 1331.0,1081.1 1330.0,1081.0 1329.0,1081.0 1328.0,1082.1 1327.0,1080.8 1326.0,1080.8 1325.0,1080.9 1324.0,1084.9 1323.0,1080.0 1322.0,1080.3 1321.0,1080.8 1320.0,1082.7 1319.0,1080.4 1318.0,1080.2 1317.0,1079.9 1316.0,1081.2 1315.0,1080.1 1314.0,1082.4 1313.0,1080.3 1312.0,1082.1 1311.0,1080.5 1310.0,1080.6 1309.0,1080.4 1308.0,1079.9 1307.0,1079.0 1306.0,1078.9 1305.0,1079.0 1304.0,1079.2 1303.0,1079.4 1302.0,1079.1 1301.0,1078.9 1300.0,1078.8 1299.0,1079.8 1298.0,1080.0 1297.0,1081.6 1296.0,1080.0 1295.0,1079.8 1294.0,1080.1 1293.0,1083.4 1292.0,1080.3 1291.0,1080.9 1290.0,1080.3 1289.0,1080.1 1288.0,1080.2 1287.0,1080.2 1286.0,1079.7 1285.0,1080.2 1284.0,1080.3 1283.0,1081.3 1282.0,1082.8 1281.0,1084.1 1280.0,1084.2 1279.0,1092.6 1278.0,1085.5 1277.0,1089.7 1276.0,1109.5 1275.0,1120.4 1274.0,1111.6 1273.0,1091.9 1272.0,1085.3 1271.0,1084.5 1270.0,1083.8 1269.0,1083.1 1268.0,1081.8 1267.0,1081.1 1266.0,1083.6 1265.0,1080.4 1264.0,1080.0 1263.0,1080.3 1262.0,1080.3 1261.0,1081.4 1260.0,1082.6 1259.0,1081.0 1258.0,1080.7 1257.0,1085.1 1256.0,1080.9 1255.0,1085.2 1254.0,1084.9 1253.0,1081.6 1252.0,1085.8 1251.0,1082.3 1250.0,1082.6 1249.0,1082.8 1248.0,1082.8 1247.0,1083.2 1246.0,1082.7 1245.0,1085.2 1244.0,1082.6 1243.0,1082.4 1242.0,1083.0 1241.0,1082.9 1240.0,1082.8 1239.0,1082.9 1238.0,1082.3 1237.0,1082.5 1236.0,1082.2 1235.0,1086.8 1234.0,1086.1 1233.0,1083.0 1232.0,1083.2 1231.0,1081.2 1230.0,1080.9 1229.0,1081.8 1228.0,1081.2 1227.0,1081.3 1226.0,1080.3 1225.0,1080.7 1224.0,1082.1 1223.0,1080.5 1222.0,1080.4 1221.0,1080.8 1220.0,1080.5 1219.0,1083.4 1218.0,1083.3 1217.0,1080.6 1216.0,1081.6 1215.0,1080.3 1214.0,1080.2 1213.0,1083.4 1212.0,1084.0 1211.0,1082.0 1210.0,1081.3 1209.0,1081.3 1208.0,1081.9 1207.0,1080.8 1206.0,1081.1 1205.0,1080.6 1204.0,1082.0 1203.0,1081.1 1202.0,1080.4 1201.0,1081.1 1200.0,1081.0 1199.0,1080.8 1198.0,1080.5 1197.0,1080.6 1196.0,1080.8 1195.0,1080.4 1194.0,1084.0 1193.0,1082.4 1192.0,1082.6 1191.0,1081.5 1190.0,1082.4 1189.0,1082.6 1188.0,1081.9 1187.0,1086.2 1186.0,1081.5 1185.0,1086.2 1184.0,1081.6 1183.0,1082.0 1182.0,1081.9 1181.0,1087.9 1180.0,1086.6 1179.0,1082.3 1178.0,1088.6 1177.0,1081.5 1176.0,1081.9 1175.0,1081.2 1174.0,1080.3 1173.0,1080.6 1172.0,1085.1 1171.0,1081.8 1170.0,1081.1 1169.0,1080.1 1168.0,1080.0 1167.0,1081.9 1166.0,1079.7 1165.0,1079.6 1164.0,1079.3 1163.0,1081.7 1162.0,1080.0" fill="#f0248a" stroke="#f0248a" stroke-width="0.6" stroke-linejoin="round"/>
</g>
<text transform="translate(122.03,1302.40) scale(0.9923,1)" font-size="93.67" font-weight="bold" fill="#000">B</text>
<rect x="422.4" y="1540.5" width="76.5" height="339.5" fill="#000000"/>
<rect x="458.4" y="1535.5" width="4.4" height="6.0" fill="#000000"/>
<rect x="441.9" y="1533.9" width="37.5" height="3.2" fill="#000000"/>
<rect x="537.1" y="1573.5" width="76.5" height="306.5" fill="#0000ff"/>
<rect x="573.2" y="1560.5" width="4.4" height="14.0" fill="#0000ff"/>
<rect x="556.7" y="1558.9" width="37.5" height="3.2" fill="#0000ff"/>
<rect x="652.0" y="1342.0" width="76.5" height="538.0" fill="#087a14"/>
<rect x="688.0" y="1331.0" width="4.4" height="12.0" fill="#087a14"/>
<rect x="671.5" y="1329.4" width="37.5" height="3.2" fill="#087a14"/>
<rect x="766.8" y="1454.0" width="76.5" height="426.0" fill="#73049a"/>
<rect x="802.8" y="1444.5" width="4.4" height="10.5" fill="#73049a"/>
<rect x="786.3" y="1442.9" width="37.5" height="3.2" fill="#73049a"/>
<rect x="881.5" y="1498.7" width="76.5" height="381.3" fill="#f8187f"/>
<rect x="917.6" y="1492.7" width="4.4" height="7.0" fill="#f8187f"/>
<rect x="901.1" y="1491.1" width="37.5" height="3.2" fill="#f8187f"/>
<rect x="402.9" y="1304.3" width="2.6" height="577.0" fill="#000"/>
<rect x="396.2" y="1878.7" width="583.8" height="2.6" fill="#000"/>
<rect x="458.6" y="1880.0" width="4" height="8" fill="#000"/>
<rect x="573.4" y="1880.0" width="4" height="8" fill="#000"/>
<rect x="688.2" y="1880.0" width="4" height="8" fill="#000"/>
<rect x="803.0" y="1880.0" width="4" height="8" fill="#000"/>
<rect x="917.8" y="1880.0" width="4" height="8" fill="#000"/>
<rect x="396.2" y="1355.6" width="8" height="3.8" fill="#000"/>
<rect x="396.2" y="1460.1" width="8" height="3.8" fill="#000"/>
<rect x="396.2" y="1564.6" width="8" height="3.8" fill="#000"/>
<rect x="396.2" y="1669.1" width="8" height="3.8" fill="#000"/>
<rect x="396.2" y="1773.6" width="8" height="3.8" fill="#000"/>
<text transform="translate(313.92,1374.99) scale(1.0692,1)" font-size="50.88" fill="#262626">1.0</text>
<text transform="translate(314.22,1479.49) scale(1.0687,1)" font-size="50.88" fill="#262626">0.8</text>
<text transform="translate(314.22,1583.99) scale(1.0687,1)" font-size="50.88" fill="#262626">0.6</text>
<text transform="translate(314.25,1688.49) scale(1.0566,1)" font-size="50.88" fill="#262626">0.4</text>
<text transform="translate(314.21,1792.99) scale(1.0749,1)" font-size="50.88" fill="#262626">0.2</text>
<text transform="translate(314.23,1897.49) scale(1.0646,1)" font-size="50.88" fill="#262626">0.0</text>
<text transform="translate(272.84,1858.51) rotate(-90) scale(0.9619,1)" font-size="61.98" fill="#111">Inter-SPW Interval (s)</text>
<text transform="translate(477.0,1934.0) rotate(-45) scale(0.91,1)" text-anchor="end" font-size="57" fill="#111">Ctl</text>
<text transform="translate(591.8,1934.0) rotate(-45) scale(0.91,1)" text-anchor="end" font-size="57" fill="#111">AA<tspan font-size="45.6" dy="16.0">0.2</tspan></text>
<text transform="translate(706.6,1934.0) rotate(-45) scale(0.91,1)" text-anchor="end" font-size="57" fill="#111">AA<tspan font-size="45.6" dy="16.0">0.4</tspan></text>
<text transform="translate(821.4,1934.0) rotate(-45) scale(0.91,1)" text-anchor="end" font-size="57" fill="#111">AA<tspan font-size="45.6" dy="16.0">1</tspan></text>
<text transform="translate(936.2,1934.0) rotate(-45) scale(0.91,1)" text-anchor="end" font-size="57" fill="#111">AA<tspan font-size="45.6" dy="16.0">2</tspan></text>
<text transform="translate(563.16,1551.72) scale(1.0148,1)" font-size="58.57" fill="#111" stroke="#111" stroke-width="0.9" stroke-linejoin="round">*</text>
<text transform="translate(650.41,1321.72) scale(1.0148,1)" font-size="58.57" fill="#111" stroke="#111" stroke-width="0.9" stroke-linejoin="round">*</text>
<text transform="translate(678.16,1321.72) scale(1.0148,1)" font-size="58.57" fill="#111" stroke="#111" stroke-width="0.9" stroke-linejoin="round">*</text>
<text transform="translate(705.91,1321.72) scale(1.0148,1)" font-size="58.57" fill="#111" stroke="#111" stroke-width="0.9" stroke-linejoin="round">*</text>
<text transform="translate(766.41,1431.72) scale(1.0148,1)" font-size="58.57" fill="#111" stroke="#111" stroke-width="0.9" stroke-linejoin="round">*</text>
<text transform="translate(793.91,1431.72) scale(1.0148,1)" font-size="58.57" fill="#111" stroke="#111" stroke-width="0.9" stroke-linejoin="round">*</text>
<text transform="translate(821.41,1431.72) scale(1.0148,1)" font-size="58.57" fill="#111" stroke="#111" stroke-width="0.9" stroke-linejoin="round">*</text>
<text transform="translate(880.41,1484.72) scale(1.0148,1)" font-size="58.57" fill="#111" stroke="#111" stroke-width="0.9" stroke-linejoin="round">*</text>
<text transform="translate(907.91,1484.72) scale(1.0148,1)" font-size="58.57" fill="#111" stroke="#111" stroke-width="0.9" stroke-linejoin="round">*</text>
<text transform="translate(935.41,1484.72) scale(1.0148,1)" font-size="58.57" fill="#111" stroke="#111" stroke-width="0.9" stroke-linejoin="round">*</text>
<text transform="translate(1169.79,1302.05) scale(0.9254,1)" font-size="94.70" font-weight="bold" fill="#000">C</text>
<rect x="1460.5" y="1581.7" width="76.5" height="298.3" fill="#000000"/>
<rect x="1496.5" y="1575.3" width="4.4" height="7.4" fill="#000000"/>
<rect x="1480.0" y="1573.7" width="37.5" height="3.2" fill="#000000"/>
<rect x="1574.8" y="1672.0" width="76.5" height="208.0" fill="#0000ff"/>
<rect x="1610.8" y="1661.4" width="4.4" height="11.6" fill="#0000ff"/>
<rect x="1594.3" y="1659.8" width="37.5" height="3.2" fill="#0000ff"/>
<rect x="1689.0" y="1457.0" width="76.5" height="423.0" fill="#087a14"/>
<rect x="1725.1" y="1447.2" width="4.4" height="10.8" fill="#087a14"/>
<rect x="1708.6" y="1445.6" width="37.5" height="3.2" fill="#087a14"/>
<rect x="1803.3" y="1499.0" width="76.5" height="381.0" fill="#73049a"/>
<rect x="1839.4" y="1487.0" width="4.4" height="13.0" fill="#73049a"/>
<rect x="1822.9" y="1485.4" width="37.5" height="3.2" fill="#73049a"/>
<rect x="1917.7" y="1368.0" width="76.5" height="512.0" fill="#f8187f"/>
<rect x="1953.7" y="1347.2" width="4.4" height="21.8" fill="#f8187f"/>
<rect x="1937.2" y="1345.6" width="37.5" height="3.2" fill="#f8187f"/>
<rect x="1438.0" y="1304.4" width="5.5" height="577.0" fill="#000"/>
<rect x="1431.8" y="1878.6" width="585.2" height="2.8" fill="#000"/>
<rect x="1496.7" y="1880.0" width="4" height="7.5" fill="#000"/>
<rect x="1611.0" y="1880.0" width="4" height="7.5" fill="#000"/>
<rect x="1725.3" y="1880.0" width="4" height="7.5" fill="#000"/>
<rect x="1839.6" y="1880.0" width="4" height="7.5" fill="#000"/>
<rect x="1953.9" y="1880.0" width="4" height="7.5" fill="#000"/>
<rect x="1431.8" y="1385.9" width="9" height="3.2" fill="#000"/>
<rect x="1431.8" y="1550.4" width="9" height="3.2" fill="#000"/>
<rect x="1431.8" y="1714.0" width="9" height="3.2" fill="#000"/>
<text transform="translate(1350.94,1404.98) scale(1.0485,1)" font-size="51.61" fill="#262626">1.5</text>
<text transform="translate(1347.24,1569.49) scale(1.1153,1)" font-size="50.88" fill="#262626">1.0</text>
<text transform="translate(1349.29,1733.09) scale(1.0877,1)" font-size="50.88" fill="#262626">0.5</text>
<text transform="translate(1349.29,1897.49) scale(1.0856,1)" font-size="50.88" fill="#262626">0.0</text>
<text transform="translate(1325.87,1855.55) rotate(-90) scale(0.9789,1)" font-size="61.34" fill="#111">Inter-HFO Interval (s)</text>
<text transform="translate(1515.1,1934.0) rotate(-45) scale(0.91,1)" text-anchor="end" font-size="57" fill="#111">Ctl</text>
<text transform="translate(1629.4,1934.0) rotate(-45) scale(0.91,1)" text-anchor="end" font-size="57" fill="#111">AA<tspan font-size="45.6" dy="16.0">0.2</tspan></text>
<text transform="translate(1743.7,1934.0) rotate(-45) scale(0.91,1)" text-anchor="end" font-size="57" fill="#111">AA<tspan font-size="45.6" dy="16.0">0.4</tspan></text>
<text transform="translate(1858.0,1934.0) rotate(-45) scale(0.91,1)" text-anchor="end" font-size="57" fill="#111">AA<tspan font-size="45.6" dy="16.0">1</tspan></text>
<text transform="translate(1972.3,1934.0) rotate(-45) scale(0.91,1)" text-anchor="end" font-size="57" fill="#111">AA<tspan font-size="45.6" dy="16.0">2</tspan></text>
<text transform="translate(1572.91,1645.72) scale(1.0148,1)" font-size="58.57" fill="#111" stroke="#111" stroke-width="0.9" stroke-linejoin="round">*</text>
<text transform="translate(1600.66,1645.72) scale(1.0148,1)" font-size="58.57" fill="#111" stroke="#111" stroke-width="0.9" stroke-linejoin="round">*</text>
<text transform="translate(1628.41,1645.72) scale(1.0148,1)" font-size="58.57" fill="#111" stroke="#111" stroke-width="0.9" stroke-linejoin="round">*</text>
<text transform="translate(1687.41,1439.12) scale(1.0148,1)" font-size="58.57" fill="#111" stroke="#111" stroke-width="0.9" stroke-linejoin="round">*</text>
<text transform="translate(1714.61,1439.12) scale(1.0148,1)" font-size="58.57" fill="#111" stroke="#111" stroke-width="0.9" stroke-linejoin="round">*</text>
<text transform="translate(1741.81,1439.12) scale(1.0148,1)" font-size="58.57" fill="#111" stroke="#111" stroke-width="0.9" stroke-linejoin="round">*</text>
<text transform="translate(1802.41,1468.72) scale(1.0148,1)" font-size="58.57" fill="#111" stroke="#111" stroke-width="0.9" stroke-linejoin="round">*</text>
<text transform="translate(1829.41,1468.72) scale(1.0148,1)" font-size="58.57" fill="#111" stroke="#111" stroke-width="0.9" stroke-linejoin="round">*</text>
<text transform="translate(1856.41,1468.72) scale(1.0148,1)" font-size="58.57" fill="#111" stroke="#111" stroke-width="0.9" stroke-linejoin="round">*</text>
<text transform="translate(1917.71,1339.02) scale(1.0148,1)" font-size="58.57" fill="#111" stroke="#111" stroke-width="0.9" stroke-linejoin="round">*</text>
<text transform="translate(1944.86,1339.02) scale(1.0148,1)" font-size="58.57" fill="#111" stroke="#111" stroke-width="0.9" stroke-linejoin="round">*</text>
<text transform="translate(1972.01,1339.02) scale(1.0148,1)" font-size="58.57" fill="#111" stroke="#111" stroke-width="0.9" stroke-linejoin="round">*</text>
<text transform="translate(121.36,2130.00) scale(0.9839,1)" font-size="95.42" font-weight="bold" fill="#000">D</text>
<rect x="415.8" y="2215.5" width="76.5" height="515.9" fill="#000000"/>
<rect x="451.8" y="2210.5" width="4.4" height="6.0" fill="#000000"/>
<rect x="435.3" y="2208.9" width="37.5" height="3.2" fill="#000000"/>
<rect x="530.2" y="2275.7" width="76.5" height="455.7" fill="#0000ff"/>
<rect x="566.3" y="2270.7" width="4.4" height="6.0" fill="#0000ff"/>
<rect x="549.8" y="2269.1" width="37.5" height="3.2" fill="#0000ff"/>
<rect x="644.8" y="2275.7" width="76.5" height="455.7" fill="#087a14"/>
<rect x="680.8" y="2272.7" width="4.4" height="4.0" fill="#087a14"/>
<rect x="664.3" y="2271.1" width="37.5" height="3.2" fill="#087a14"/>
<rect x="759.2" y="2177.0" width="76.5" height="554.4" fill="#73049a"/>
<rect x="795.3" y="2170.4" width="4.4" height="7.6" fill="#73049a"/>
<rect x="778.8" y="2168.8" width="37.5" height="3.2" fill="#73049a"/>
<rect x="873.8" y="2174.0" width="76.5" height="557.4" fill="#f8187f"/>
<rect x="909.8" y="2168.5" width="4.4" height="6.5" fill="#f8187f"/>
<rect x="893.3" y="2166.9" width="37.5" height="3.2" fill="#f8187f"/>
<rect x="393.6" y="2158.0" width="5.6" height="576.2" fill="#000"/>
<rect x="386.9" y="2728.6" width="583.1" height="5.6" fill="#000"/>
<rect x="451.5" y="2731.4" width="5" height="9.5" fill="#000"/>
<rect x="566.0" y="2731.4" width="5" height="9.5" fill="#000"/>
<rect x="680.5" y="2731.4" width="5" height="9.5" fill="#000"/>
<rect x="795.0" y="2731.4" width="5" height="9.5" fill="#000"/>
<rect x="909.5" y="2731.4" width="5" height="9.5" fill="#000"/>
<rect x="386.9" y="2220.1" width="9.5" height="5" fill="#000"/>
<rect x="386.9" y="2347.3" width="9.5" height="5" fill="#000"/>
<rect x="386.9" y="2474.5" width="9.5" height="5" fill="#000"/>
<rect x="386.9" y="2601.7" width="9.5" height="5" fill="#000"/>
<rect x="389.1" y="2284.2" width="5.5" height="4" fill="#000"/>
<rect x="389.1" y="2411.4" width="5.5" height="4" fill="#000"/>
<rect x="389.1" y="2538.6" width="5.5" height="4" fill="#000"/>
<rect x="389.1" y="2665.8" width="5.5" height="4" fill="#000"/>
<text transform="translate(319.13,2240.58) scale(1.0675,1)" font-size="52.30" fill="#262626">80</text>
<text transform="translate(318.69,2367.78) scale(1.0753,1)" font-size="52.30" fill="#262626">60</text>
<text transform="translate(320.27,2494.98) scale(1.0471,1)" font-size="52.30" fill="#262626">40</text>
<text transform="translate(318.69,2622.18) scale(1.0753,1)" font-size="52.30" fill="#262626">20</text>
<text transform="translate(352.34,2749.38) scale(0.9851,1)" font-size="52.30" fill="#262626">0</text>
<text transform="translate(281.80,2720.68) rotate(-90) scale(0.9496,1)" font-size="62.63" fill="#111">SPW duration (ms)</text>
<text transform="translate(470.4,2785.4) rotate(-45) scale(0.91,1)" text-anchor="end" font-size="57" fill="#111">Ctl</text>
<text transform="translate(584.9,2785.4) rotate(-45) scale(0.91,1)" text-anchor="end" font-size="57" fill="#111">AA<tspan font-size="45.6" dy="16.0">0.2</tspan></text>
<text transform="translate(699.4,2785.4) rotate(-45) scale(0.91,1)" text-anchor="end" font-size="57" fill="#111">AA<tspan font-size="45.6" dy="16.0">0.4</tspan></text>
<text transform="translate(813.9,2785.4) rotate(-45) scale(0.91,1)" text-anchor="end" font-size="57" fill="#111">AA<tspan font-size="45.6" dy="16.0">1</tspan></text>
<text transform="translate(928.4,2785.4) rotate(-45) scale(0.91,1)" text-anchor="end" font-size="57" fill="#111">AA<tspan font-size="45.6" dy="16.0">2</tspan></text>
<text transform="translate(528.41,2264.22) scale(1.0148,1)" font-size="58.57" fill="#111" stroke="#111" stroke-width="0.9" stroke-linejoin="round">*</text>
<text transform="translate(555.91,2264.22) scale(1.0148,1)" font-size="58.57" fill="#111" stroke="#111" stroke-width="0.9" stroke-linejoin="round">*</text>
<text transform="translate(583.41,2264.22) scale(1.0148,1)" font-size="58.57" fill="#111" stroke="#111" stroke-width="0.9" stroke-linejoin="round">*</text>
<text transform="translate(642.91,2264.22) scale(1.0148,1)" font-size="58.57" fill="#111" stroke="#111" stroke-width="0.9" stroke-linejoin="round">*</text>
<text transform="translate(670.41,2264.22) scale(1.0148,1)" font-size="58.57" fill="#111" stroke="#111" stroke-width="0.9" stroke-linejoin="round">*</text>
<text transform="translate(697.91,2264.22) scale(1.0148,1)" font-size="58.57" fill="#111" stroke="#111" stroke-width="0.9" stroke-linejoin="round">*</text>
<text transform="translate(758.31,2165.32) scale(1.0148,1)" font-size="58.57" fill="#111" stroke="#111" stroke-width="0.9" stroke-linejoin="round">*</text>
<text transform="translate(786.31,2165.32) scale(1.0148,1)" font-size="58.57" fill="#111" stroke="#111" stroke-width="0.9" stroke-linejoin="round">*</text>
<text transform="translate(814.31,2165.32) scale(1.0148,1)" font-size="58.57" fill="#111" stroke="#111" stroke-width="0.9" stroke-linejoin="round">*</text>
<text transform="translate(872.41,2165.32) scale(1.0148,1)" font-size="58.57" fill="#111" stroke="#111" stroke-width="0.9" stroke-linejoin="round">*</text>
<text transform="translate(900.01,2165.32) scale(1.0148,1)" font-size="58.57" fill="#111" stroke="#111" stroke-width="0.9" stroke-linejoin="round">*</text>
<text transform="translate(927.61,2165.32) scale(1.0148,1)" font-size="58.57" fill="#111" stroke="#111" stroke-width="0.9" stroke-linejoin="round">*</text>
<text transform="translate(1168.08,2130.00) scale(0.9507,1)" font-size="95.42" font-weight="bold" fill="#000">E</text>
<rect x="1460.2" y="2411.0" width="76.5" height="320.4" fill="#000000"/>
<rect x="1496.3" y="2406.0" width="4.4" height="6.0" fill="#000000"/>
<rect x="1479.8" y="2404.4" width="37.5" height="3.2" fill="#000000"/>
<rect x="1574.5" y="2301.7" width="76.5" height="429.7" fill="#0000ff"/>
<rect x="1610.6" y="2283.7" width="4.4" height="19.0" fill="#0000ff"/>
<rect x="1594.1" y="2282.1" width="37.5" height="3.2" fill="#0000ff"/>
<rect x="1688.8" y="2464.5" width="76.5" height="266.9" fill="#087a14"/>
<rect x="1724.9" y="2459.5" width="4.4" height="6.0" fill="#087a14"/>
<rect x="1708.4" y="2457.9" width="37.5" height="3.2" fill="#087a14"/>
<rect x="1803.2" y="2359.0" width="76.5" height="372.4" fill="#73049a"/>
<rect x="1839.2" y="2345.0" width="4.4" height="15.0" fill="#73049a"/>
<rect x="1822.7" y="2343.4" width="37.5" height="3.2" fill="#73049a"/>
<rect x="1917.5" y="2200.5" width="76.5" height="530.9" fill="#f8187f"/>
<rect x="1953.5" y="2185.5" width="4.4" height="16.0" fill="#f8187f"/>
<rect x="1937.0" y="2183.9" width="37.5" height="3.2" fill="#f8187f"/>
<rect x="1437.8" y="2158.0" width="5.6" height="576.2" fill="#000"/>
<rect x="1431.1" y="2728.6" width="585.9" height="5.6" fill="#000"/>
<rect x="1496.2" y="2731.4" width="4.5" height="9.5" fill="#000"/>
<rect x="1610.5" y="2731.4" width="4.5" height="9.5" fill="#000"/>
<rect x="1724.8" y="2731.4" width="4.5" height="9.5" fill="#000"/>
<rect x="1839.2" y="2731.4" width="4.5" height="9.5" fill="#000"/>
<rect x="1953.5" y="2731.4" width="4.5" height="9.5" fill="#000"/>
<rect x="1431.1" y="2158.3" width="9.5" height="2.2" fill="#000"/>
<rect x="1431.1" y="2272.7" width="9.5" height="2.2" fill="#000"/>
<rect x="1431.1" y="2387.1" width="9.5" height="2.2" fill="#000"/>
<rect x="1431.1" y="2501.5" width="9.5" height="2.2" fill="#000"/>
<rect x="1431.1" y="2615.9" width="9.5" height="2.2" fill="#000"/>
<rect x="1433.3" y="2215.6" width="5.5" height="2" fill="#000"/>
<rect x="1433.3" y="2330.0" width="5.5" height="2" fill="#000"/>
<rect x="1433.3" y="2444.4" width="5.5" height="2" fill="#000"/>
<rect x="1433.3" y="2558.8" width="5.5" height="2" fill="#000"/>
<rect x="1433.3" y="2673.2" width="5.5" height="2" fill="#000"/>
<text transform="translate(1368.70,2176.89) scale(1.0317,1)" font-size="50.88" fill="#262626">50</text>
<text transform="translate(1369.64,2291.29) scale(1.0145,1)" font-size="50.88" fill="#262626">40</text>
<text transform="translate(1368.84,2405.69) scale(1.0292,1)" font-size="50.88" fill="#262626">30</text>
<text transform="translate(1368.15,2520.09) scale(1.0417,1)" font-size="50.88" fill="#262626">20</text>
<text transform="translate(1366.72,2634.49) scale(1.0679,1)" font-size="50.88" fill="#262626">10</text>
<text transform="translate(1397.36,2748.89) scale(1.0495,1)" font-size="50.88" fill="#262626">0</text>
<text transform="translate(1351.80,2694.91) rotate(-90) scale(0.9501,1)" font-size="62.63" fill="#111">HFO Duration (ms)</text>
<text transform="translate(1514.9,2785.4) rotate(-45) scale(0.91,1)" text-anchor="end" font-size="57" fill="#111">Ctl</text>
<text transform="translate(1629.2,2785.4) rotate(-45) scale(0.91,1)" text-anchor="end" font-size="57" fill="#111">AA<tspan font-size="45.6" dy="16.0">0.2</tspan></text>
<text transform="translate(1743.5,2785.4) rotate(-45) scale(0.91,1)" text-anchor="end" font-size="57" fill="#111">AA<tspan font-size="45.6" dy="16.0">0.4</tspan></text>
<text transform="translate(1857.8,2785.4) rotate(-45) scale(0.91,1)" text-anchor="end" font-size="57" fill="#111">AA<tspan font-size="45.6" dy="16.0">1</tspan></text>
<text transform="translate(1972.1,2785.4) rotate(-45) scale(0.91,1)" text-anchor="end" font-size="57" fill="#111">AA<tspan font-size="45.6" dy="16.0">2</tspan></text>
<text transform="translate(1572.91,2277.72) scale(1.0148,1)" font-size="58.57" fill="#111" stroke="#111" stroke-width="0.9" stroke-linejoin="round">*</text>
<text transform="translate(1600.66,2277.72) scale(1.0148,1)" font-size="58.57" fill="#111" stroke="#111" stroke-width="0.9" stroke-linejoin="round">*</text>
<text transform="translate(1628.41,2277.72) scale(1.0148,1)" font-size="58.57" fill="#111" stroke="#111" stroke-width="0.9" stroke-linejoin="round">*</text>
<text transform="translate(1687.41,2456.02) scale(1.0148,1)" font-size="58.57" fill="#111" stroke="#111" stroke-width="0.9" stroke-linejoin="round">*</text>
<text transform="translate(1714.61,2456.02) scale(1.0148,1)" font-size="58.57" fill="#111" stroke="#111" stroke-width="0.9" stroke-linejoin="round">*</text>
<text transform="translate(1741.81,2456.02) scale(1.0148,1)" font-size="58.57" fill="#111" stroke="#111" stroke-width="0.9" stroke-linejoin="round">*</text>
<text transform="translate(1817.21,2337.22) scale(1.0148,1)" font-size="58.57" fill="#111" stroke="#111" stroke-width="0.9" stroke-linejoin="round">*</text>
<text transform="translate(1842.71,2337.22) scale(1.0148,1)" font-size="58.57" fill="#111" stroke="#111" stroke-width="0.9" stroke-linejoin="round">*</text>
<text transform="translate(1917.71,2180.32) scale(1.0148,1)" font-size="58.57" fill="#111" stroke="#111" stroke-width="0.9" stroke-linejoin="round">*</text>
<text transform="translate(1944.86,2180.32) scale(1.0148,1)" font-size="58.57" fill="#111" stroke="#111" stroke-width="0.9" stroke-linejoin="round">*</text>
<text transform="translate(1972.01,2180.32) scale(1.0148,1)" font-size="58.57" fill="#111" stroke="#111" stroke-width="0.9" stroke-linejoin="round">*</text>
<text transform="translate(121.61,2987.00) scale(0.9516,1)" font-size="94.84" font-weight="bold" fill="#000">F</text>
<rect x="415.8" y="3058.7" width="76.5" height="513.3" fill="#000000"/>
<rect x="451.8" y="3052.3" width="4.4" height="7.4" fill="#000000"/>
<rect x="435.3" y="3050.7" width="37.5" height="3.2" fill="#000000"/>
<rect x="530.2" y="3238.0" width="76.5" height="334.0" fill="#0000ff"/>
<rect x="566.3" y="3231.0" width="4.4" height="8.0" fill="#0000ff"/>
<rect x="549.8" y="3229.4" width="37.5" height="3.2" fill="#0000ff"/>
<rect x="644.8" y="3343.0" width="76.5" height="229.0" fill="#087a14"/>
<rect x="680.8" y="3339.0" width="4.4" height="5.0" fill="#087a14"/>
<rect x="664.3" y="3337.4" width="37.5" height="3.2" fill="#087a14"/>
<rect x="759.2" y="3238.0" width="76.5" height="334.0" fill="#73049a"/>
<rect x="795.3" y="3230.4" width="4.4" height="8.6" fill="#73049a"/>
<rect x="778.8" y="3228.8" width="37.5" height="3.2" fill="#73049a"/>
<rect x="873.8" y="3445.0" width="76.5" height="127.0" fill="#f8187f"/>
<rect x="909.8" y="3443.0" width="4.4" height="3.0" fill="#f8187f"/>
<rect x="893.3" y="3441.4" width="37.5" height="3.2" fill="#f8187f"/>
<rect x="393.6" y="2996.0" width="5.6" height="578.8" fill="#000"/>
<rect x="386.9" y="3569.2" width="583.1" height="5.6" fill="#000"/>
<rect x="451.5" y="3572.0" width="5" height="9.5" fill="#000"/>
<rect x="566.0" y="3572.0" width="5" height="9.5" fill="#000"/>
<rect x="680.5" y="3572.0" width="5" height="9.5" fill="#000"/>
<rect x="795.0" y="3572.0" width="5" height="9.5" fill="#000"/>
<rect x="909.5" y="3572.0" width="5" height="9.5" fill="#000"/>
<rect x="386.9" y="3055.1" width="9.5" height="5" fill="#000"/>
<rect x="386.9" y="3183.7" width="9.5" height="5" fill="#000"/>
<rect x="386.9" y="3312.3" width="9.5" height="5" fill="#000"/>
<rect x="386.9" y="3440.9" width="9.5" height="5" fill="#000"/>
<rect x="389.1" y="3119.9" width="5.5" height="4" fill="#000"/>
<rect x="389.1" y="3248.5" width="5.5" height="4" fill="#000"/>
<rect x="389.1" y="3377.1" width="5.5" height="4" fill="#000"/>
<rect x="389.1" y="3505.7" width="5.5" height="4" fill="#000"/>
<text transform="translate(319.13,3075.58) scale(1.0675,1)" font-size="52.30" fill="#262626">80</text>
<text transform="translate(318.69,3204.18) scale(1.0753,1)" font-size="52.30" fill="#262626">60</text>
<text transform="translate(320.27,3332.78) scale(1.0471,1)" font-size="52.30" fill="#262626">40</text>
<text transform="translate(318.69,3461.38) scale(1.0753,1)" font-size="52.30" fill="#262626">20</text>
<text transform="translate(352.34,3589.98) scale(0.9851,1)" font-size="52.30" fill="#262626">0</text>
<text transform="translate(306.18,3550.67) rotate(-90) scale(0.9610,1)" font-size="61.77" fill="#111">SPW Amplitude (<tspan font-family="Liberation Serif, serif">μ</tspan>V)</text>
<text transform="translate(470.4,3626.0) rotate(-45) scale(0.91,1)" text-anchor="end" font-size="57" fill="#111">Ctl</text>
<text transform="translate(584.9,3626.0) rotate(-45) scale(0.91,1)" text-anchor="end" font-size="57" fill="#111">AA<tspan font-size="45.6" dy="16.0">0.2</tspan></text>
<text transform="translate(699.4,3626.0) rotate(-45) scale(0.91,1)" text-anchor="end" font-size="57" fill="#111">AA<tspan font-size="45.6" dy="16.0">0.4</tspan></text>
<text transform="translate(813.9,3626.0) rotate(-45) scale(0.91,1)" text-anchor="end" font-size="57" fill="#111">AA<tspan font-size="45.6" dy="16.0">1</tspan></text>
<text transform="translate(928.4,3626.0) rotate(-45) scale(0.91,1)" text-anchor="end" font-size="57" fill="#111">AA<tspan font-size="45.6" dy="16.0">2</tspan></text>
<text transform="translate(527.81,3193.92) scale(1.0148,1)" font-size="58.57" fill="#111" stroke="#111" stroke-width="0.9" stroke-linejoin="round">*</text>
<text transform="translate(555.01,3193.92) scale(1.0148,1)" font-size="58.57" fill="#111" stroke="#111" stroke-width="0.9" stroke-linejoin="round">*</text>
<text transform="translate(582.21,3193.92) scale(1.0148,1)" font-size="58.57" fill="#111" stroke="#111" stroke-width="0.9" stroke-linejoin="round">*</text>
<text transform="translate(642.41,3306.32) scale(1.0148,1)" font-size="58.57" fill="#111" stroke="#111" stroke-width="0.9" stroke-linejoin="round">*</text>
<text transform="translate(669.56,3306.32) scale(1.0148,1)" font-size="58.57" fill="#111" stroke="#111" stroke-width="0.9" stroke-linejoin="round">*</text>
<text transform="translate(696.71,3306.32) scale(1.0148,1)" font-size="58.57" fill="#111" stroke="#111" stroke-width="0.9" stroke-linejoin="round">*</text>
<text transform="translate(764.41,3225.72) scale(1.0148,1)" font-size="58.57" fill="#111" stroke="#111" stroke-width="0.9" stroke-linejoin="round">*</text>
<text transform="translate(792.06,3225.72) scale(1.0148,1)" font-size="58.57" fill="#111" stroke="#111" stroke-width="0.9" stroke-linejoin="round">*</text>
<text transform="translate(819.71,3225.72) scale(1.0148,1)" font-size="58.57" fill="#111" stroke="#111" stroke-width="0.9" stroke-linejoin="round">*</text>
<text transform="translate(872.21,3417.72) scale(1.0148,1)" font-size="58.57" fill="#111" stroke="#111" stroke-width="0.9" stroke-linejoin="round">*</text>
<text transform="translate(898.96,3417.72) scale(1.0148,1)" font-size="58.57" fill="#111" stroke="#111" stroke-width="0.9" stroke-linejoin="round">*</text>
<text transform="translate(925.71,3417.72) scale(1.0148,1)" font-size="58.57" fill="#111" stroke="#111" stroke-width="0.9" stroke-linejoin="round">*</text>
<text transform="translate(1168.96,2986.06) scale(0.9664,1)" font-size="94.28" font-weight="bold" fill="#000">G</text>
<rect x="1460.2" y="3084.2" width="76.5" height="499.9" fill="#000000"/>
<rect x="1496.3" y="3080.7" width="4.4" height="4.5" fill="#000000"/>
<rect x="1479.8" y="3079.1" width="37.5" height="3.2" fill="#000000"/>
<rect x="1574.5" y="3125.7" width="76.5" height="458.4" fill="#0000ff"/>
<rect x="1610.6" y="3120.4" width="4.4" height="6.3" fill="#0000ff"/>
<rect x="1594.1" y="3118.8" width="37.5" height="3.2" fill="#0000ff"/>
<rect x="1688.8" y="3030.0" width="76.5" height="554.1" fill="#087a14"/>
<rect x="1724.9" y="3023.6" width="4.4" height="7.4" fill="#087a14"/>
<rect x="1708.4" y="3022.0" width="37.5" height="3.2" fill="#087a14"/>
<rect x="1803.2" y="3110.0" width="76.5" height="474.1" fill="#73049a"/>
<rect x="1839.2" y="3103.4" width="4.4" height="7.6" fill="#73049a"/>
<rect x="1822.7" y="3101.8" width="37.5" height="3.2" fill="#73049a"/>
<rect x="1917.5" y="3129.0" width="76.5" height="455.1" fill="#f8187f"/>
<rect x="1953.5" y="3122.0" width="4.4" height="8.0" fill="#f8187f"/>
<rect x="1937.0" y="3120.4" width="37.5" height="3.2" fill="#f8187f"/>
<rect x="1438.5" y="3007.5" width="2.6" height="579.1" fill="#000"/>
<rect x="1431.3" y="3581.6" width="585.7" height="5" fill="#000"/>
<rect x="1496.8" y="3584.1" width="3.5" height="5" fill="#000"/>
<rect x="1611.0" y="3584.1" width="3.5" height="5" fill="#000"/>
<rect x="1725.3" y="3584.1" width="3.5" height="5" fill="#000"/>
<rect x="1839.7" y="3584.1" width="3.5" height="5" fill="#000"/>
<rect x="1954.0" y="3584.1" width="3.5" height="5" fill="#000"/>
<rect x="1431.3" y="3007.4" width="8.5" height="4.5" fill="#000"/>
<rect x="1431.3" y="3151.1" width="8.5" height="4.5" fill="#000"/>
<rect x="1431.3" y="3294.7" width="8.5" height="4.5" fill="#000"/>
<rect x="1431.3" y="3438.2" width="8.5" height="4.5" fill="#000"/>
<text transform="translate(1332.22,3027.68) scale(1.0650,1)" font-size="52.30" fill="#262626">200</text>
<text transform="translate(1330.76,3171.28) scale(1.0821,1)" font-size="52.30" fill="#262626">150</text>
<text transform="translate(1330.76,3314.88) scale(1.0821,1)" font-size="52.30" fill="#262626">100</text>
<text transform="translate(1365.87,3458.48) scale(1.0186,1)" font-size="52.30" fill="#262626">50</text>
<text transform="translate(1395.91,3602.08) scale(1.0011,1)" font-size="52.30" fill="#262626">0</text>
<text transform="translate(1310.74,3659.49) rotate(-90) scale(0.9725,1)" font-size="61.02" fill="#111">Internal HFO Frequency (Hz)</text>
<text transform="translate(1514.9,3638.1) rotate(-45) scale(0.91,1)" text-anchor="end" font-size="57" fill="#111">Ctl</text>
<text transform="translate(1629.2,3638.1) rotate(-45) scale(0.91,1)" text-anchor="end" font-size="57" fill="#111">AA<tspan font-size="45.6" dy="16.0">0.2</tspan></text>
<text transform="translate(1743.5,3638.1) rotate(-45) scale(0.91,1)" text-anchor="end" font-size="57" fill="#111">AA<tspan font-size="45.6" dy="16.0">0.4</tspan></text>
<text transform="translate(1857.8,3638.1) rotate(-45) scale(0.91,1)" text-anchor="end" font-size="57" fill="#111">AA<tspan font-size="45.6" dy="16.0">1</tspan></text>
<text transform="translate(1972.1,3638.1) rotate(-45) scale(0.91,1)" text-anchor="end" font-size="57" fill="#111">AA<tspan font-size="45.6" dy="16.0">2</tspan></text>
<text transform="translate(1572.01,3110.72) scale(1.0148,1)" font-size="58.57" fill="#111" stroke="#111" stroke-width="0.9" stroke-linejoin="round">*</text>
<text transform="translate(1599.56,3110.72) scale(1.0148,1)" font-size="58.57" fill="#111" stroke="#111" stroke-width="0.9" stroke-linejoin="round">*</text>
<text transform="translate(1627.11,3110.72) scale(1.0148,1)" font-size="58.57" fill="#111" stroke="#111" stroke-width="0.9" stroke-linejoin="round">*</text>
<text transform="translate(1686.81,3019.72) scale(1.0148,1)" font-size="58.57" fill="#111" stroke="#111" stroke-width="0.9" stroke-linejoin="round">*</text>
<text transform="translate(1714.36,3019.72) scale(1.0148,1)" font-size="58.57" fill="#111" stroke="#111" stroke-width="0.9" stroke-linejoin="round">*</text>
<text transform="translate(1741.91,3019.72) scale(1.0148,1)" font-size="58.57" fill="#111" stroke="#111" stroke-width="0.9" stroke-linejoin="round">*</text>
<text transform="translate(1818.11,3098.72) scale(1.0148,1)" font-size="58.57" fill="#111" stroke="#111" stroke-width="0.9" stroke-linejoin="round">*</text>
<text transform="translate(1844.21,3098.72) scale(1.0148,1)" font-size="58.57" fill="#111" stroke="#111" stroke-width="0.9" stroke-linejoin="round">*</text>
<text transform="translate(1916.41,3109.32) scale(1.0148,1)" font-size="58.57" fill="#111" stroke="#111" stroke-width="0.9" stroke-linejoin="round">*</text>
<text transform="translate(1944.41,3109.32) scale(1.0148,1)" font-size="58.57" fill="#111" stroke="#111" stroke-width="0.9" stroke-linejoin="round">*</text>
<text transform="translate(1972.41,3109.32) scale(1.0148,1)" font-size="58.57" fill="#111" stroke="#111" stroke-width="0.9" stroke-linejoin="round">*</text>
</svg>
</body></html>
